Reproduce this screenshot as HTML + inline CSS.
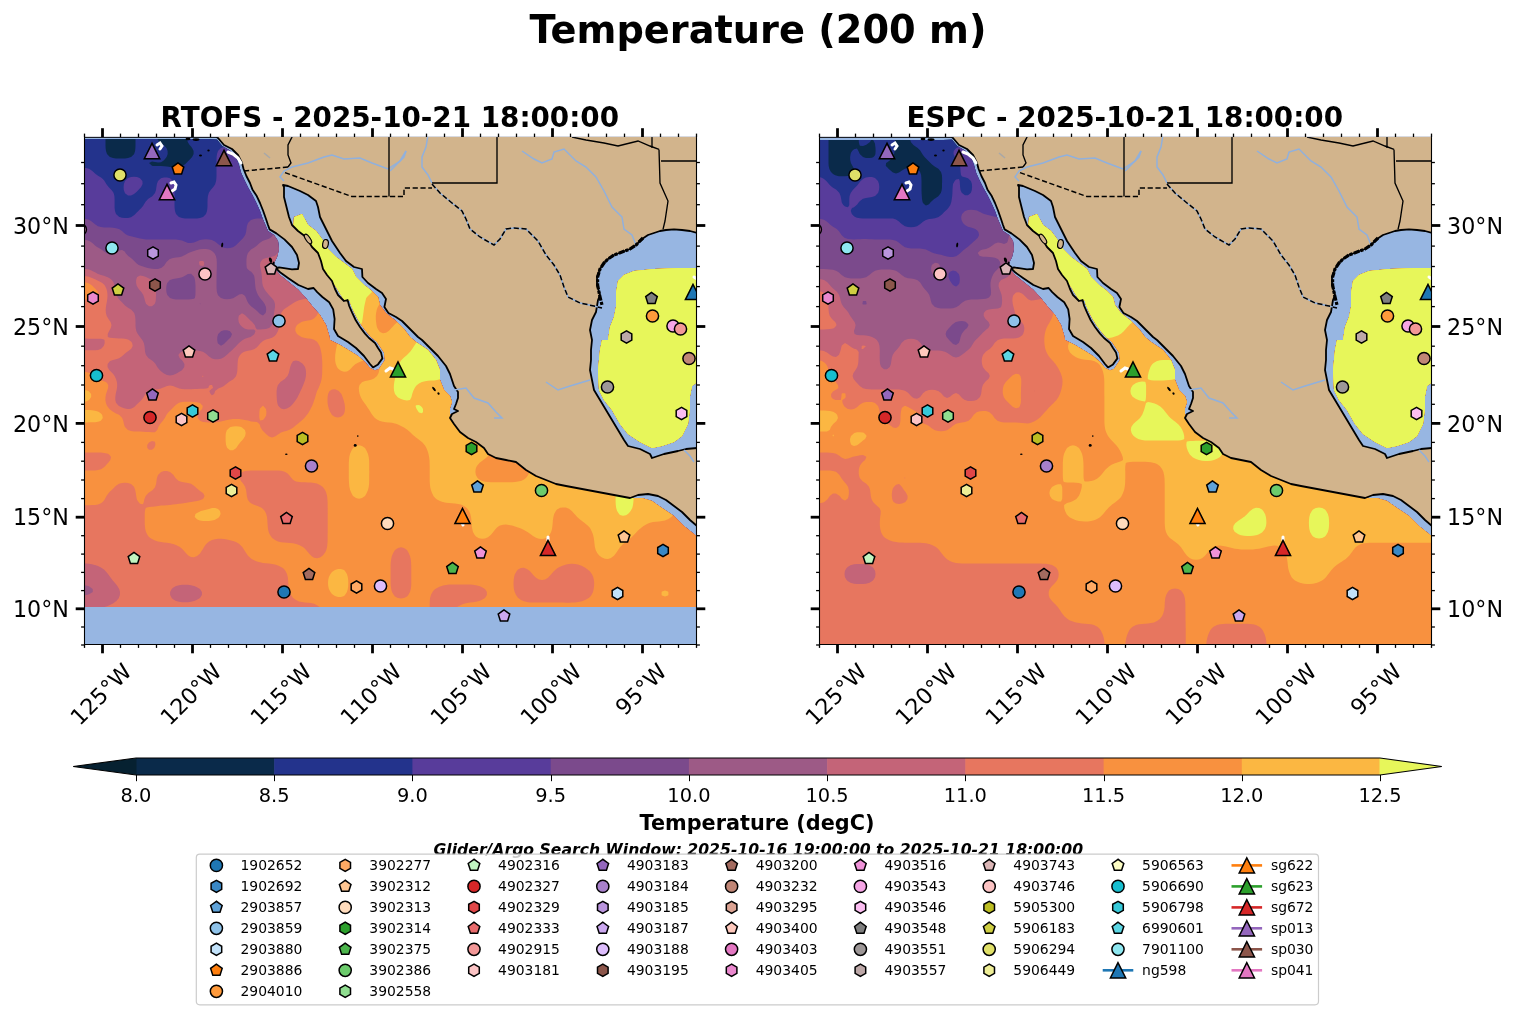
<!DOCTYPE html><html><head><meta charset="utf-8"><title>Temperature (200 m)</title>
<style>html,body{margin:0;padding:0;background:#fff;}svg{display:block;will-change:transform;}text{font-family:'DejaVu Sans', 'Liberation Sans', sans-serif;}</style></head><body>
<svg width="1515" height="1017" viewBox="0 0 1515 1017">
<rect width="1515" height="1017" fill="#fff"/>
<text x="758" y="42.9" font-size="38.3" font-weight="bold" text-anchor="middle">Temperature (200 m)</text>
<defs><clipPath id="clip0"><rect x="84.5" y="137" width="612" height="507.5"/></clipPath>
<clipPath id="dclip0"><path d="M80.0,139.1 L208.0,139.1 L217.0,139.4 L222.4,146.0 L230.0,150.6 L236.4,158.0 L239.0,165.0 L241.2,173.0 L244.4,180.0 L248.4,188.0 L252.4,195.0 L256.4,203.0 L260.0,211.0 L262.8,219.0 L265.4,225.0 L268.0,231.0 L274.0,235.0 L278.0,241.0 L279.0,249.0 L277.0,257.0 L274.0,263.0 L275.0,269.0 L280.0,275.0 L288.0,281.4 L298.0,289.4 L305.0,297.0 L313.0,307.0 L320.0,315.0 L326.0,325.0 L329.0,335.0 L330.0,340.0 L340.0,345.0 L350.0,351.0 L358.0,356.0 L365.0,362.0 L370.0,368.0 L375.0,370.4 L379.0,369.0 L385.0,360.0 L384.0,352.4 L380.4,347.0 L377.0,342.0 L371.0,337.0 L367.0,332.6 L362.0,326.0 L357.6,319.0 L354.0,312.0 L351.0,305.0 L349.6,300.0 L346.0,303.0 L341.0,295.0 L336.0,287.0 L329.0,277.0 L322.4,269.0 L318.0,259.0 L313.0,251.0 L306.0,243.0 L299.0,235.0 L293.0,228.0 L294.0,217.0 L302.0,214.0 L308.0,225.0 L316.0,231.0 L322.0,239.0 L328.0,249.0 L336.0,257.0 L344.0,263.0 L352.0,269.0 L356.0,277.0 L364.0,285.0 L372.0,291.0 L378.0,297.0 L380.0,305.0 L386.0,313.0 L396.0,321.0 L404.0,329.0 L410.0,337.0 L416.0,342.0 L428.0,350.0 L436.0,360.0 L440.0,370.0 L440.0,380.0 L444.0,390.0 L450.0,396.0 L452.0,402.0 L450.0,408.0 L450.0,414.0 L454.0,420.0 L460.0,428.0 L468.0,436.0 L476.0,440.0 L484.0,446.0 L488.0,452.0 L496.0,456.0 L506.0,458.0 L516.0,460.0 L526.0,468.0 L536.0,474.0 L546.0,478.0 L556.0,482.0 L566.0,484.0 L634.0,498.0 L642.0,498.0 L652.0,501.0 L662.0,508.0 L674.0,516.0 L684.0,526.0 L694.0,534.0 L700.0,539.0 L705.0,540.0 L705.0,607.0 L80.0,607.0 Z M700.0,268.0 L682.0,268.0 L654.0,269.0 L634.0,271.0 L624.0,275.0 L618.0,281.0 L616.0,293.0 L616.0,307.0 L614.0,317.0 L610.0,327.0 L608.0,340.0 L602.0,340.0 L600.0,350.0 L598.0,370.0 L599.0,390.0 L604.0,400.0 L612.0,410.0 L620.0,424.0 L628.0,434.0 L640.0,442.0 L652.0,448.0 L662.0,446.0 L674.0,442.0 L682.0,436.0 L688.0,424.0 L690.0,408.0 L690.0,396.0 L692.0,386.0 L700.0,380.0 Z"/></clipPath></defs>
<g clip-path="url(#clip0)">
<rect x="84.5" y="137" width="612" height="507.5" fill="#97b6e2"/>
<g transform="translate(0,0)">
<g clip-path="url(#dclip0)">
<rect x="80" y="130" width="625" height="520" fill="#0a2a4a"/>
<path fill="#23338c" fill-rule="evenodd" d="M83.0,133.0L86.0,133.0L89.0,133.0L92.0,133.0L95.0,133.0L98.0,133.0L101.0,133.0L104.0,133.0L105.5,133.0L105.5,136.0L105.5,139.0L105.5,142.0L105.5,145.0L105.6,148.0L106.0,151.0L107.0,154.0L107.0,154.1L109.9,157.0L110.0,157.0L113.0,158.0L116.0,158.4L119.0,158.5L122.0,158.5L125.0,158.4L128.0,158.0L131.0,157.1L131.1,157.0L134.0,154.2L134.1,154.0L135.1,151.0L135.4,148.0L135.5,145.0L135.5,142.0L135.5,139.0L135.5,136.0L135.5,133.0L137.0,133.0L140.0,133.0L143.0,133.0L146.0,133.0L149.0,133.0L152.0,133.0L155.0,133.0L156.5,133.0L156.7,136.0L157.4,139.0L158.0,140.0L159.5,142.0L161.0,143.0L163.7,145.0L164.0,145.2L166.5,148.0L167.0,149.3L167.6,151.0L167.7,154.0L167.0,155.9L166.6,157.0L164.2,160.0L164.0,160.3L161.0,162.2L158.0,162.4L155.0,161.9L152.0,161.5L149.0,163.0L149.0,163.0L149.0,163.0L152.0,165.8L153.0,166.0L155.0,166.1L158.0,166.1L161.0,166.1L164.0,166.3L167.0,166.6L170.0,166.9L173.0,167.1L176.0,167.2L179.0,167.0L182.0,166.2L182.4,166.0L185.0,164.3L186.3,163.0L188.0,161.3L189.3,160.0L191.0,158.2L192.1,157.0L193.6,154.0L193.6,151.0L192.1,148.0L191.0,146.6L189.6,145.0L188.0,142.4L187.8,142.0L186.9,139.0L186.6,136.0L186.5,133.0L188.0,133.0L191.0,133.0L194.0,133.0L197.0,133.0L200.0,133.0L203.0,133.0L206.0,133.0L209.0,133.0L212.0,133.0L215.0,133.0L218.0,133.0L221.0,133.0L224.0,133.0L227.0,133.0L230.0,133.0L233.0,133.0L236.0,133.0L239.0,133.0L242.0,133.0L245.0,133.0L248.0,133.0L251.0,133.0L254.0,133.0L257.0,133.0L260.0,133.0L263.0,133.0L266.0,133.0L269.0,133.0L272.0,133.0L275.0,133.0L278.0,133.0L281.0,133.0L284.0,133.0L287.0,133.0L290.0,133.0L293.0,133.0L296.0,133.0L299.0,133.0L302.0,133.0L305.0,133.0L308.0,133.0L311.0,133.0L314.0,133.0L317.0,133.0L320.0,133.0L323.0,133.0L326.0,133.0L329.0,133.0L332.0,133.0L335.0,133.0L338.0,133.0L341.0,133.0L344.0,133.0L347.0,133.0L350.0,133.0L353.0,133.0L356.0,133.0L359.0,133.0L362.0,133.0L365.0,133.0L368.0,133.0L371.0,133.0L374.0,133.0L377.0,133.0L380.0,133.0L383.0,133.0L386.0,133.0L389.0,133.0L392.0,133.0L395.0,133.0L398.0,133.0L401.0,133.0L404.0,133.0L407.0,133.0L410.0,133.0L413.0,133.0L416.0,133.0L419.0,133.0L422.0,133.0L425.0,133.0L428.0,133.0L431.0,133.0L434.0,133.0L437.0,133.0L440.0,133.0L443.0,133.0L446.0,133.0L449.0,133.0L452.0,133.0L455.0,133.0L458.0,133.0L461.0,133.0L464.0,133.0L467.0,133.0L470.0,133.0L473.0,133.0L476.0,133.0L479.0,133.0L482.0,133.0L485.0,133.0L488.0,133.0L491.0,133.0L494.0,133.0L497.0,133.0L500.0,133.0L503.0,133.0L506.0,133.0L509.0,133.0L512.0,133.0L515.0,133.0L518.0,133.0L521.0,133.0L524.0,133.0L527.0,133.0L530.0,133.0L533.0,133.0L536.0,133.0L539.0,133.0L542.0,133.0L545.0,133.0L548.0,133.0L551.0,133.0L554.0,133.0L557.0,133.0L560.0,133.0L563.0,133.0L566.0,133.0L569.0,133.0L572.0,133.0L575.0,133.0L578.0,133.0L581.0,133.0L584.0,133.0L587.0,133.0L590.0,133.0L593.0,133.0L596.0,133.0L599.0,133.0L602.0,133.0L605.0,133.0L608.0,133.0L611.0,133.0L614.0,133.0L617.0,133.0L620.0,133.0L623.0,133.0L626.0,133.0L629.0,133.0L632.0,133.0L635.0,133.0L638.0,133.0L641.0,133.0L644.0,133.0L647.0,133.0L650.0,133.0L653.0,133.0L656.0,133.0L659.0,133.0L662.0,133.0L665.0,133.0L668.0,133.0L671.0,133.0L674.0,133.0L677.0,133.0L680.0,133.0L683.0,133.0L686.0,133.0L689.0,133.0L692.0,133.0L695.0,133.0L698.0,133.0L698.0,136.0L698.0,139.0L698.0,142.0L698.0,145.0L698.0,148.0L698.0,151.0L698.0,154.0L698.0,157.0L698.0,160.0L698.0,163.0L698.0,166.0L698.0,169.0L698.0,172.0L698.0,175.0L698.0,178.0L698.0,181.0L698.0,184.0L698.0,187.0L698.0,190.0L698.0,193.0L698.0,196.0L698.0,199.0L698.0,202.0L698.0,205.0L698.0,208.0L698.0,211.0L698.0,214.0L698.0,217.0L698.0,220.0L698.0,223.0L698.0,226.0L698.0,229.0L698.0,232.0L698.0,235.0L698.0,238.0L698.0,241.0L698.0,244.0L698.0,247.0L698.0,250.0L698.0,253.0L698.0,256.0L698.0,259.0L698.0,262.0L698.0,265.0L698.0,268.0L698.0,271.0L698.0,274.0L698.0,277.0L698.0,280.0L698.0,283.0L698.0,286.0L698.0,289.0L698.0,292.0L698.0,295.0L698.0,298.0L698.0,301.0L698.0,304.0L698.0,307.0L698.0,310.0L698.0,313.0L698.0,316.0L698.0,319.0L698.0,322.0L698.0,325.0L698.0,328.0L698.0,331.0L698.0,334.0L698.0,337.0L698.0,340.0L698.0,343.0L698.0,346.0L698.0,349.0L698.0,352.0L698.0,355.0L698.0,358.0L698.0,361.0L698.0,364.0L698.0,367.0L698.0,370.0L698.0,373.0L698.0,376.0L698.0,379.0L698.0,382.0L698.0,385.0L698.0,388.0L698.0,391.0L698.0,394.0L698.0,397.0L698.0,400.0L698.0,403.0L698.0,406.0L698.0,409.0L698.0,412.0L698.0,415.0L698.0,418.0L698.0,421.0L698.0,424.0L698.0,427.0L698.0,430.0L698.0,433.0L698.0,436.0L698.0,439.0L698.0,442.0L698.0,445.0L698.0,448.0L698.0,451.0L698.0,454.0L698.0,457.0L698.0,460.0L698.0,463.0L698.0,466.0L698.0,469.0L698.0,472.0L698.0,475.0L698.0,478.0L698.0,481.0L698.0,484.0L698.0,487.0L698.0,490.0L698.0,493.0L698.0,496.0L698.0,499.0L698.0,502.0L698.0,505.0L698.0,508.0L698.0,511.0L698.0,514.0L698.0,517.0L698.0,520.0L698.0,523.0L698.0,526.0L698.0,529.0L698.0,532.0L698.0,535.0L698.0,538.0L698.0,541.0L698.0,544.0L698.0,547.0L698.0,550.0L698.0,553.0L698.0,556.0L698.0,559.0L698.0,562.0L698.0,565.0L698.0,568.0L698.0,571.0L698.0,574.0L698.0,577.0L698.0,580.0L698.0,583.0L698.0,586.0L698.0,589.0L698.0,592.0L698.0,595.0L698.0,598.0L698.0,601.0L698.0,604.0L698.0,607.0L698.0,610.0L698.0,613.0L698.0,616.0L698.0,619.0L698.0,622.0L698.0,625.0L698.0,628.0L698.0,631.0L698.0,634.0L698.0,637.0L698.0,640.0L698.0,643.0L698.0,646.0L695.0,646.0L692.0,646.0L689.0,646.0L686.0,646.0L683.0,646.0L680.0,646.0L677.0,646.0L674.0,646.0L671.0,646.0L668.0,646.0L665.0,646.0L662.0,646.0L659.0,646.0L656.0,646.0L653.0,646.0L650.0,646.0L647.0,646.0L644.0,646.0L641.0,646.0L638.0,646.0L635.0,646.0L632.0,646.0L629.0,646.0L626.0,646.0L623.0,646.0L620.0,646.0L617.0,646.0L614.0,646.0L611.0,646.0L608.0,646.0L605.0,646.0L602.0,646.0L599.0,646.0L596.0,646.0L593.0,646.0L590.0,646.0L587.0,646.0L584.0,646.0L581.0,646.0L578.0,646.0L575.0,646.0L572.0,646.0L569.0,646.0L566.0,646.0L563.0,646.0L560.0,646.0L557.0,646.0L554.0,646.0L551.0,646.0L548.0,646.0L545.0,646.0L542.0,646.0L539.0,646.0L536.0,646.0L533.0,646.0L530.0,646.0L527.0,646.0L524.0,646.0L521.0,646.0L518.0,646.0L515.0,646.0L512.0,646.0L509.0,646.0L506.0,646.0L503.0,646.0L500.0,646.0L497.0,646.0L494.0,646.0L491.0,646.0L488.0,646.0L485.0,646.0L482.0,646.0L479.0,646.0L476.0,646.0L473.0,646.0L470.0,646.0L467.0,646.0L464.0,646.0L461.0,646.0L458.0,646.0L455.0,646.0L452.0,646.0L449.0,646.0L446.0,646.0L443.0,646.0L440.0,646.0L437.0,646.0L434.0,646.0L431.0,646.0L428.0,646.0L425.0,646.0L422.0,646.0L419.0,646.0L416.0,646.0L413.0,646.0L410.0,646.0L407.0,646.0L404.0,646.0L401.0,646.0L398.0,646.0L395.0,646.0L392.0,646.0L389.0,646.0L386.0,646.0L383.0,646.0L380.0,646.0L377.0,646.0L374.0,646.0L371.0,646.0L368.0,646.0L365.0,646.0L362.0,646.0L359.0,646.0L356.0,646.0L353.0,646.0L350.0,646.0L347.0,646.0L344.0,646.0L341.0,646.0L338.0,646.0L335.0,646.0L332.0,646.0L329.0,646.0L326.0,646.0L323.0,646.0L320.0,646.0L317.0,646.0L314.0,646.0L311.0,646.0L308.0,646.0L305.0,646.0L302.0,646.0L299.0,646.0L296.0,646.0L293.0,646.0L290.0,646.0L287.0,646.0L284.0,646.0L281.0,646.0L278.0,646.0L275.0,646.0L272.0,646.0L269.0,646.0L266.0,646.0L263.0,646.0L260.0,646.0L257.0,646.0L254.0,646.0L251.0,646.0L248.0,646.0L245.0,646.0L242.0,646.0L239.0,646.0L236.0,646.0L233.0,646.0L230.0,646.0L227.0,646.0L224.0,646.0L221.0,646.0L218.0,646.0L215.0,646.0L212.0,646.0L209.0,646.0L206.0,646.0L203.0,646.0L200.0,646.0L197.0,646.0L194.0,646.0L191.0,646.0L188.0,646.0L185.0,646.0L182.0,646.0L179.0,646.0L176.0,646.0L173.0,646.0L170.0,646.0L167.0,646.0L164.0,646.0L161.0,646.0L158.0,646.0L155.0,646.0L152.0,646.0L149.0,646.0L146.0,646.0L143.0,646.0L140.0,646.0L137.0,646.0L134.0,646.0L131.0,646.0L128.0,646.0L125.0,646.0L122.0,646.0L119.0,646.0L116.0,646.0L113.0,646.0L110.0,646.0L107.0,646.0L104.0,646.0L101.0,646.0L98.0,646.0L95.0,646.0L92.0,646.0L89.0,646.0L86.0,646.0L83.0,646.0L80.0,646.0L80.0,643.0L80.0,640.0L80.0,637.0L80.0,634.0L80.0,631.0L80.0,628.0L80.0,625.0L80.0,622.0L80.0,619.0L80.0,616.0L80.0,613.0L80.0,610.0L80.0,607.0L80.0,604.0L80.0,601.0L80.0,598.0L80.0,595.0L80.0,592.0L80.0,589.0L80.0,586.0L80.0,583.0L80.0,580.0L80.0,577.0L80.0,574.0L80.0,571.0L80.0,568.0L80.0,565.0L80.0,562.0L80.0,559.0L80.0,556.0L80.0,553.0L80.0,550.0L80.0,547.0L80.0,544.0L80.0,541.0L80.0,538.0L80.0,535.0L80.0,532.0L80.0,529.0L80.0,526.0L80.0,523.0L80.0,520.0L80.0,517.0L80.0,514.0L80.0,511.0L80.0,508.0L80.0,505.0L80.0,502.0L80.0,499.0L80.0,496.0L80.0,493.0L80.0,490.0L80.0,487.0L80.0,484.0L80.0,481.0L80.0,478.0L80.0,475.0L80.0,472.0L80.0,469.0L80.0,466.0L80.0,463.0L80.0,460.0L80.0,457.0L80.0,454.0L80.0,451.0L80.0,448.0L80.0,445.0L80.0,442.0L80.0,439.0L80.0,436.0L80.0,433.0L80.0,430.0L80.0,427.0L80.0,424.0L80.0,421.0L80.0,418.0L80.0,415.0L80.0,412.0L80.0,409.0L80.0,406.0L80.0,403.0L80.0,400.0L80.0,397.0L80.0,394.0L80.0,391.0L80.0,388.0L80.0,385.0L80.0,382.0L80.0,379.0L80.0,376.0L80.0,373.0L80.0,370.0L80.0,367.0L80.0,364.0L80.0,361.0L80.0,358.0L80.0,355.0L80.0,352.0L80.0,349.0L80.0,346.0L80.0,343.0L80.0,340.0L80.0,337.0L80.0,334.0L80.0,331.0L80.0,328.0L80.0,325.0L80.0,322.0L80.0,319.0L80.0,316.0L80.0,313.0L80.0,310.0L80.0,307.0L80.0,304.0L80.0,301.0L80.0,298.0L80.0,295.0L80.0,292.0L80.0,289.0L80.0,286.0L80.0,283.0L80.0,280.0L80.0,277.0L80.0,274.0L80.0,271.0L80.0,268.0L80.0,265.0L80.0,262.0L80.0,259.0L80.0,256.0L80.0,253.0L80.0,250.0L80.0,247.0L80.0,244.0L80.0,241.0L80.0,238.0L80.0,235.0L80.0,232.0L80.0,229.0L80.0,226.0L80.0,223.0L80.0,220.0L80.0,217.0L80.0,214.0L80.0,211.0L80.0,208.0L80.0,205.0L80.0,202.0L80.0,199.0L80.0,196.0L80.0,193.0L80.0,190.0L80.0,187.0L80.0,184.0L80.0,181.0L80.0,178.0L80.0,175.0L80.0,172.0L80.0,169.0L80.0,166.0L80.0,163.0L80.0,160.0L80.0,157.0L80.0,154.0L80.0,151.0L80.0,148.0L80.0,145.0L80.0,142.0L80.0,139.0L80.0,136.0L80.0,133.0Z"/>
<path fill="#583c9b" fill-rule="evenodd" d="M248.0,133.0L251.0,133.0L254.0,133.0L257.0,133.0L260.0,133.0L263.0,133.0L266.0,133.0L269.0,133.0L272.0,133.0L275.0,133.0L278.0,133.0L281.0,133.0L284.0,133.0L287.0,133.0L290.0,133.0L293.0,133.0L296.0,133.0L299.0,133.0L302.0,133.0L305.0,133.0L308.0,133.0L311.0,133.0L314.0,133.0L317.0,133.0L320.0,133.0L323.0,133.0L326.0,133.0L329.0,133.0L332.0,133.0L335.0,133.0L338.0,133.0L341.0,133.0L344.0,133.0L347.0,133.0L350.0,133.0L353.0,133.0L356.0,133.0L359.0,133.0L362.0,133.0L365.0,133.0L368.0,133.0L371.0,133.0L374.0,133.0L377.0,133.0L380.0,133.0L383.0,133.0L386.0,133.0L389.0,133.0L392.0,133.0L395.0,133.0L398.0,133.0L401.0,133.0L404.0,133.0L407.0,133.0L410.0,133.0L413.0,133.0L416.0,133.0L419.0,133.0L422.0,133.0L425.0,133.0L428.0,133.0L431.0,133.0L434.0,133.0L437.0,133.0L440.0,133.0L443.0,133.0L446.0,133.0L449.0,133.0L452.0,133.0L455.0,133.0L458.0,133.0L461.0,133.0L464.0,133.0L467.0,133.0L470.0,133.0L473.0,133.0L476.0,133.0L479.0,133.0L482.0,133.0L485.0,133.0L488.0,133.0L491.0,133.0L494.0,133.0L497.0,133.0L500.0,133.0L503.0,133.0L506.0,133.0L509.0,133.0L512.0,133.0L515.0,133.0L518.0,133.0L521.0,133.0L524.0,133.0L527.0,133.0L530.0,133.0L533.0,133.0L536.0,133.0L539.0,133.0L542.0,133.0L545.0,133.0L548.0,133.0L551.0,133.0L554.0,133.0L557.0,133.0L560.0,133.0L563.0,133.0L566.0,133.0L569.0,133.0L572.0,133.0L575.0,133.0L578.0,133.0L581.0,133.0L584.0,133.0L587.0,133.0L590.0,133.0L593.0,133.0L596.0,133.0L599.0,133.0L602.0,133.0L605.0,133.0L608.0,133.0L611.0,133.0L614.0,133.0L617.0,133.0L620.0,133.0L623.0,133.0L626.0,133.0L629.0,133.0L632.0,133.0L635.0,133.0L638.0,133.0L641.0,133.0L644.0,133.0L647.0,133.0L650.0,133.0L653.0,133.0L656.0,133.0L659.0,133.0L662.0,133.0L665.0,133.0L668.0,133.0L671.0,133.0L674.0,133.0L677.0,133.0L680.0,133.0L683.0,133.0L686.0,133.0L689.0,133.0L692.0,133.0L695.0,133.0L698.0,133.0L698.0,136.0L698.0,139.0L698.0,142.0L698.0,145.0L698.0,148.0L698.0,151.0L698.0,154.0L698.0,157.0L698.0,160.0L698.0,163.0L698.0,166.0L698.0,169.0L698.0,172.0L698.0,175.0L698.0,178.0L698.0,181.0L698.0,184.0L698.0,187.0L698.0,190.0L698.0,193.0L698.0,196.0L698.0,199.0L698.0,202.0L698.0,205.0L698.0,208.0L698.0,211.0L698.0,214.0L698.0,217.0L698.0,220.0L698.0,223.0L698.0,226.0L698.0,229.0L698.0,232.0L698.0,235.0L698.0,238.0L698.0,241.0L698.0,244.0L698.0,247.0L698.0,250.0L698.0,253.0L698.0,256.0L698.0,259.0L698.0,262.0L698.0,265.0L698.0,268.0L698.0,271.0L698.0,274.0L698.0,277.0L698.0,280.0L698.0,283.0L698.0,286.0L698.0,289.0L698.0,292.0L698.0,295.0L698.0,298.0L698.0,301.0L698.0,304.0L698.0,307.0L698.0,310.0L698.0,313.0L698.0,316.0L698.0,319.0L698.0,322.0L698.0,325.0L698.0,328.0L698.0,331.0L698.0,334.0L698.0,337.0L698.0,340.0L698.0,343.0L698.0,346.0L698.0,349.0L698.0,352.0L698.0,355.0L698.0,358.0L698.0,361.0L698.0,364.0L698.0,367.0L698.0,370.0L698.0,373.0L698.0,376.0L698.0,379.0L698.0,382.0L698.0,385.0L698.0,388.0L698.0,391.0L698.0,394.0L698.0,397.0L698.0,400.0L698.0,403.0L698.0,406.0L698.0,409.0L698.0,412.0L698.0,415.0L698.0,418.0L698.0,421.0L698.0,424.0L698.0,427.0L698.0,430.0L698.0,433.0L698.0,436.0L698.0,439.0L698.0,442.0L698.0,445.0L698.0,448.0L698.0,451.0L698.0,454.0L698.0,457.0L698.0,460.0L698.0,463.0L698.0,466.0L698.0,469.0L698.0,472.0L698.0,475.0L698.0,478.0L698.0,481.0L698.0,484.0L698.0,487.0L698.0,490.0L698.0,493.0L698.0,496.0L698.0,499.0L698.0,502.0L698.0,505.0L698.0,508.0L698.0,511.0L698.0,514.0L698.0,517.0L698.0,520.0L698.0,523.0L698.0,526.0L698.0,529.0L698.0,532.0L698.0,535.0L698.0,538.0L698.0,541.0L698.0,544.0L698.0,547.0L698.0,550.0L698.0,553.0L698.0,556.0L698.0,559.0L698.0,562.0L698.0,565.0L698.0,568.0L698.0,571.0L698.0,574.0L698.0,577.0L698.0,580.0L698.0,583.0L698.0,586.0L698.0,589.0L698.0,592.0L698.0,595.0L698.0,598.0L698.0,601.0L698.0,604.0L698.0,607.0L698.0,610.0L698.0,613.0L698.0,616.0L698.0,619.0L698.0,622.0L698.0,625.0L698.0,628.0L698.0,631.0L698.0,634.0L698.0,637.0L698.0,640.0L698.0,643.0L698.0,646.0L695.0,646.0L692.0,646.0L689.0,646.0L686.0,646.0L683.0,646.0L680.0,646.0L677.0,646.0L674.0,646.0L671.0,646.0L668.0,646.0L665.0,646.0L662.0,646.0L659.0,646.0L656.0,646.0L653.0,646.0L650.0,646.0L647.0,646.0L644.0,646.0L641.0,646.0L638.0,646.0L635.0,646.0L632.0,646.0L629.0,646.0L626.0,646.0L623.0,646.0L620.0,646.0L617.0,646.0L614.0,646.0L611.0,646.0L608.0,646.0L605.0,646.0L602.0,646.0L599.0,646.0L596.0,646.0L593.0,646.0L590.0,646.0L587.0,646.0L584.0,646.0L581.0,646.0L578.0,646.0L575.0,646.0L572.0,646.0L569.0,646.0L566.0,646.0L563.0,646.0L560.0,646.0L557.0,646.0L554.0,646.0L551.0,646.0L548.0,646.0L545.0,646.0L542.0,646.0L539.0,646.0L536.0,646.0L533.0,646.0L530.0,646.0L527.0,646.0L524.0,646.0L521.0,646.0L518.0,646.0L515.0,646.0L512.0,646.0L509.0,646.0L506.0,646.0L503.0,646.0L500.0,646.0L497.0,646.0L494.0,646.0L491.0,646.0L488.0,646.0L485.0,646.0L482.0,646.0L479.0,646.0L476.0,646.0L473.0,646.0L470.0,646.0L467.0,646.0L464.0,646.0L461.0,646.0L458.0,646.0L455.0,646.0L452.0,646.0L449.0,646.0L446.0,646.0L443.0,646.0L440.0,646.0L437.0,646.0L434.0,646.0L431.0,646.0L428.0,646.0L425.0,646.0L422.0,646.0L419.0,646.0L416.0,646.0L413.0,646.0L410.0,646.0L407.0,646.0L404.0,646.0L401.0,646.0L398.0,646.0L395.0,646.0L392.0,646.0L389.0,646.0L386.0,646.0L383.0,646.0L380.0,646.0L377.0,646.0L374.0,646.0L371.0,646.0L368.0,646.0L365.0,646.0L362.0,646.0L359.0,646.0L356.0,646.0L353.0,646.0L350.0,646.0L347.0,646.0L344.0,646.0L341.0,646.0L338.0,646.0L335.0,646.0L332.0,646.0L329.0,646.0L326.0,646.0L323.0,646.0L320.0,646.0L317.0,646.0L314.0,646.0L311.0,646.0L308.0,646.0L305.0,646.0L302.0,646.0L299.0,646.0L296.0,646.0L293.0,646.0L290.0,646.0L287.0,646.0L284.0,646.0L281.0,646.0L278.0,646.0L275.0,646.0L272.0,646.0L269.0,646.0L266.0,646.0L263.0,646.0L260.0,646.0L257.0,646.0L254.0,646.0L251.0,646.0L248.0,646.0L245.0,646.0L242.0,646.0L239.0,646.0L236.0,646.0L233.0,646.0L230.0,646.0L227.0,646.0L224.0,646.0L221.0,646.0L218.0,646.0L215.0,646.0L212.0,646.0L209.0,646.0L206.0,646.0L203.0,646.0L200.0,646.0L197.0,646.0L194.0,646.0L191.0,646.0L188.0,646.0L185.0,646.0L182.0,646.0L179.0,646.0L176.0,646.0L173.0,646.0L170.0,646.0L167.0,646.0L164.0,646.0L161.0,646.0L158.0,646.0L155.0,646.0L152.0,646.0L149.0,646.0L146.0,646.0L143.0,646.0L140.0,646.0L137.0,646.0L134.0,646.0L131.0,646.0L128.0,646.0L125.0,646.0L122.0,646.0L119.0,646.0L116.0,646.0L113.0,646.0L110.0,646.0L107.0,646.0L104.0,646.0L101.0,646.0L98.0,646.0L95.0,646.0L92.0,646.0L89.0,646.0L86.0,646.0L83.0,646.0L80.0,646.0L80.0,643.0L80.0,640.0L80.0,637.0L80.0,634.0L80.0,631.0L80.0,628.0L80.0,625.0L80.0,622.0L80.0,619.0L80.0,616.0L80.0,613.0L80.0,610.0L80.0,607.0L80.0,604.0L80.0,601.0L80.0,598.0L80.0,595.0L80.0,592.0L80.0,589.0L80.0,586.0L80.0,583.0L80.0,580.0L80.0,577.0L80.0,574.0L80.0,571.0L80.0,568.0L80.0,565.0L80.0,562.0L80.0,559.0L80.0,556.0L80.0,553.0L80.0,550.0L80.0,547.0L80.0,544.0L80.0,541.0L80.0,538.0L80.0,535.0L80.0,532.0L80.0,529.0L80.0,526.0L80.0,523.0L80.0,520.0L80.0,517.0L80.0,514.0L80.0,511.0L80.0,508.0L80.0,505.0L80.0,502.0L80.0,499.0L80.0,496.0L80.0,493.0L80.0,490.0L80.0,487.0L80.0,484.0L80.0,481.0L80.0,478.0L80.0,475.0L80.0,472.0L80.0,469.0L80.0,466.0L80.0,463.0L80.0,460.0L80.0,457.0L80.0,454.0L80.0,451.0L80.0,448.0L80.0,445.0L80.0,442.0L80.0,439.0L80.0,436.0L80.0,433.0L80.0,430.0L80.0,427.0L80.0,424.0L80.0,421.0L80.0,418.0L80.0,415.0L80.0,412.0L80.0,409.0L80.0,406.0L80.0,403.0L80.0,400.0L80.0,397.0L80.0,394.0L80.0,391.0L80.0,388.0L80.0,385.0L80.0,382.0L80.0,379.0L80.0,376.0L80.0,373.0L80.0,370.0L80.0,367.0L80.0,364.0L80.0,361.0L80.0,358.0L80.0,355.0L80.0,352.0L80.0,349.0L80.0,346.0L80.0,343.0L80.0,340.0L80.0,337.0L80.0,334.0L80.0,331.0L80.0,328.0L80.0,325.0L80.0,322.0L80.0,319.0L80.0,316.0L80.0,313.0L80.0,310.0L80.0,307.0L80.0,304.0L80.0,301.0L80.0,298.0L80.0,295.0L80.0,292.0L80.0,289.0L80.0,286.0L80.0,283.0L80.0,280.0L80.0,277.0L80.0,274.0L80.0,271.0L80.0,268.0L80.0,265.0L80.0,262.0L80.0,259.0L80.0,256.0L80.0,253.0L80.0,250.0L80.0,247.0L80.0,244.0L80.0,241.0L80.0,238.0L80.0,235.0L80.0,232.0L80.0,229.0L80.0,226.0L80.0,223.0L80.0,220.0L80.0,217.0L80.0,214.0L80.0,211.0L80.0,208.0L80.0,205.0L80.0,202.0L80.0,199.0L80.0,196.0L80.0,193.0L80.0,190.0L80.0,187.0L80.0,184.0L80.0,181.0L80.0,178.0L80.0,175.0L80.0,172.0L80.0,169.0L80.0,167.5L83.0,167.6L86.0,167.9L89.0,168.8L89.4,169.0L92.0,170.7L93.5,172.0L95.0,173.4L97.0,175.0L98.0,175.7L101.0,177.5L101.7,178.0L104.0,180.3L104.5,181.0L106.3,184.0L107.0,185.0L108.6,187.0L110.0,188.5L111.5,190.0L113.0,192.1L113.6,193.0L114.4,196.0L114.6,199.0L114.6,202.0L114.6,205.0L114.6,208.0L115.0,211.0L116.0,214.0L116.0,214.0L119.0,216.8L119.5,217.0L122.0,217.7L125.0,218.1L128.0,218.0L131.0,217.2L131.4,217.0L134.0,215.3L135.3,214.0L137.0,212.3L138.3,211.0L140.0,209.3L141.3,208.0L143.0,205.9L143.6,205.0L145.4,202.0L146.0,201.2L148.1,199.0L149.0,198.3L152.0,196.4L152.5,196.0L155.0,193.1L155.0,193.0L156.0,190.0L156.4,187.0L156.9,184.0L158.0,181.0L158.0,181.0L161.0,178.3L161.8,178.0L164.0,177.5L167.0,177.5L169.2,178.0L170.0,178.3L173.0,181.0L173.0,181.0L174.0,184.0L174.4,187.0L174.5,190.0L174.5,193.0L174.5,196.0L174.5,199.0L174.5,202.0L174.5,205.0L174.6,208.0L175.0,211.0L176.0,214.0L176.0,214.1L178.9,217.0L179.0,217.0L182.0,218.0L185.0,218.4L188.0,218.5L191.0,218.5L194.0,218.5L197.0,218.4L200.0,218.0L203.0,217.0L203.1,217.0L206.0,214.1L206.0,214.0L207.0,211.0L207.4,208.0L207.5,205.0L207.5,202.0L207.6,199.0L207.9,196.0L208.8,193.0L209.0,192.6L210.7,190.0L212.0,188.5L213.3,187.0L215.0,184.4L215.2,184.0L216.1,181.0L216.4,178.0L216.5,175.0L216.5,172.0L216.5,169.0L216.5,166.0L216.5,163.0L216.5,160.0L216.6,157.0L217.0,154.0L218.0,151.0L218.0,150.9L220.9,148.0L221.0,148.0L224.0,147.0L227.0,146.7L230.0,146.7L233.0,146.9L236.0,147.4L238.6,148.0L239.0,148.1L242.0,148.2L242.2,148.0L245.0,145.0L245.0,145.0L246.0,142.0L246.4,139.0L246.6,136.0L246.7,133.0ZM128.0,178.0L131.0,177.0L134.0,176.8L137.0,177.1L139.5,178.0L140.0,178.3L142.4,181.0L142.6,184.0L141.1,187.0L140.0,188.3L138.4,190.0L137.0,191.4L135.3,193.0L134.0,194.1L131.0,195.6L128.0,195.4L125.0,193.2L124.9,193.0L123.8,190.0L123.6,187.0L123.9,184.0L125.0,181.0L125.0,180.9L128.0,178.0Z"/>
<path fill="#7b4a8c" fill-rule="evenodd" d="M275.0,133.0L278.0,133.0L281.0,133.0L284.0,133.0L287.0,133.0L290.0,133.0L293.0,133.0L296.0,133.0L299.0,133.0L302.0,133.0L305.0,133.0L308.0,133.0L311.0,133.0L314.0,133.0L317.0,133.0L320.0,133.0L323.0,133.0L326.0,133.0L329.0,133.0L332.0,133.0L335.0,133.0L338.0,133.0L341.0,133.0L344.0,133.0L347.0,133.0L350.0,133.0L353.0,133.0L356.0,133.0L359.0,133.0L362.0,133.0L365.0,133.0L368.0,133.0L371.0,133.0L374.0,133.0L377.0,133.0L380.0,133.0L383.0,133.0L386.0,133.0L389.0,133.0L392.0,133.0L395.0,133.0L398.0,133.0L401.0,133.0L404.0,133.0L407.0,133.0L410.0,133.0L413.0,133.0L416.0,133.0L419.0,133.0L422.0,133.0L425.0,133.0L428.0,133.0L431.0,133.0L434.0,133.0L437.0,133.0L440.0,133.0L443.0,133.0L446.0,133.0L449.0,133.0L452.0,133.0L455.0,133.0L458.0,133.0L461.0,133.0L464.0,133.0L467.0,133.0L470.0,133.0L473.0,133.0L476.0,133.0L479.0,133.0L482.0,133.0L485.0,133.0L488.0,133.0L491.0,133.0L494.0,133.0L497.0,133.0L500.0,133.0L503.0,133.0L506.0,133.0L509.0,133.0L512.0,133.0L515.0,133.0L518.0,133.0L521.0,133.0L524.0,133.0L527.0,133.0L530.0,133.0L533.0,133.0L536.0,133.0L539.0,133.0L542.0,133.0L545.0,133.0L548.0,133.0L551.0,133.0L554.0,133.0L557.0,133.0L560.0,133.0L563.0,133.0L566.0,133.0L569.0,133.0L572.0,133.0L575.0,133.0L578.0,133.0L581.0,133.0L584.0,133.0L587.0,133.0L590.0,133.0L593.0,133.0L596.0,133.0L599.0,133.0L602.0,133.0L605.0,133.0L608.0,133.0L611.0,133.0L614.0,133.0L617.0,133.0L620.0,133.0L623.0,133.0L626.0,133.0L629.0,133.0L632.0,133.0L635.0,133.0L638.0,133.0L641.0,133.0L644.0,133.0L647.0,133.0L650.0,133.0L653.0,133.0L656.0,133.0L659.0,133.0L662.0,133.0L665.0,133.0L668.0,133.0L671.0,133.0L674.0,133.0L677.0,133.0L680.0,133.0L683.0,133.0L686.0,133.0L689.0,133.0L692.0,133.0L695.0,133.0L698.0,133.0L698.0,136.0L698.0,139.0L698.0,142.0L698.0,145.0L698.0,148.0L698.0,151.0L698.0,154.0L698.0,157.0L698.0,160.0L698.0,163.0L698.0,166.0L698.0,169.0L698.0,172.0L698.0,175.0L698.0,178.0L698.0,181.0L698.0,184.0L698.0,187.0L698.0,190.0L698.0,193.0L698.0,196.0L698.0,199.0L698.0,202.0L698.0,205.0L698.0,208.0L698.0,211.0L698.0,214.0L698.0,217.0L698.0,220.0L698.0,223.0L698.0,226.0L698.0,229.0L698.0,232.0L698.0,235.0L698.0,238.0L698.0,241.0L698.0,244.0L698.0,247.0L698.0,250.0L698.0,253.0L698.0,256.0L698.0,259.0L698.0,262.0L698.0,265.0L698.0,268.0L698.0,271.0L698.0,274.0L698.0,277.0L698.0,280.0L698.0,283.0L698.0,286.0L698.0,289.0L698.0,292.0L698.0,295.0L698.0,298.0L698.0,301.0L698.0,304.0L698.0,307.0L698.0,310.0L698.0,313.0L698.0,316.0L698.0,319.0L698.0,322.0L698.0,325.0L698.0,328.0L698.0,331.0L698.0,334.0L698.0,337.0L698.0,340.0L698.0,343.0L698.0,346.0L698.0,349.0L698.0,352.0L698.0,355.0L698.0,358.0L698.0,361.0L698.0,364.0L698.0,367.0L698.0,370.0L698.0,373.0L698.0,376.0L698.0,379.0L698.0,382.0L698.0,385.0L698.0,388.0L698.0,391.0L698.0,394.0L698.0,397.0L698.0,400.0L698.0,403.0L698.0,406.0L698.0,409.0L698.0,412.0L698.0,415.0L698.0,418.0L698.0,421.0L698.0,424.0L698.0,427.0L698.0,430.0L698.0,433.0L698.0,436.0L698.0,439.0L698.0,442.0L698.0,445.0L698.0,448.0L698.0,451.0L698.0,454.0L698.0,457.0L698.0,460.0L698.0,463.0L698.0,466.0L698.0,469.0L698.0,472.0L698.0,475.0L698.0,478.0L698.0,481.0L698.0,484.0L698.0,487.0L698.0,490.0L698.0,493.0L698.0,496.0L698.0,499.0L698.0,502.0L698.0,505.0L698.0,508.0L698.0,511.0L698.0,514.0L698.0,517.0L698.0,520.0L698.0,523.0L698.0,526.0L698.0,529.0L698.0,532.0L698.0,535.0L698.0,538.0L698.0,541.0L698.0,544.0L698.0,547.0L698.0,550.0L698.0,553.0L698.0,556.0L698.0,559.0L698.0,562.0L698.0,565.0L698.0,568.0L698.0,571.0L698.0,574.0L698.0,577.0L698.0,580.0L698.0,583.0L698.0,586.0L698.0,589.0L698.0,592.0L698.0,595.0L698.0,598.0L698.0,601.0L698.0,604.0L698.0,607.0L698.0,610.0L698.0,613.0L698.0,616.0L698.0,619.0L698.0,622.0L698.0,625.0L698.0,628.0L698.0,631.0L698.0,634.0L698.0,637.0L698.0,640.0L698.0,643.0L698.0,646.0L695.0,646.0L692.0,646.0L689.0,646.0L686.0,646.0L683.0,646.0L680.0,646.0L677.0,646.0L674.0,646.0L671.0,646.0L668.0,646.0L665.0,646.0L662.0,646.0L659.0,646.0L656.0,646.0L653.0,646.0L650.0,646.0L647.0,646.0L644.0,646.0L641.0,646.0L638.0,646.0L635.0,646.0L632.0,646.0L629.0,646.0L626.0,646.0L623.0,646.0L620.0,646.0L617.0,646.0L614.0,646.0L611.0,646.0L608.0,646.0L605.0,646.0L602.0,646.0L599.0,646.0L596.0,646.0L593.0,646.0L590.0,646.0L587.0,646.0L584.0,646.0L581.0,646.0L578.0,646.0L575.0,646.0L572.0,646.0L569.0,646.0L566.0,646.0L563.0,646.0L560.0,646.0L557.0,646.0L554.0,646.0L551.0,646.0L548.0,646.0L545.0,646.0L542.0,646.0L539.0,646.0L536.0,646.0L533.0,646.0L530.0,646.0L527.0,646.0L524.0,646.0L521.0,646.0L518.0,646.0L515.0,646.0L512.0,646.0L509.0,646.0L506.0,646.0L503.0,646.0L500.0,646.0L497.0,646.0L494.0,646.0L491.0,646.0L488.0,646.0L485.0,646.0L482.0,646.0L479.0,646.0L476.0,646.0L473.0,646.0L470.0,646.0L467.0,646.0L464.0,646.0L461.0,646.0L458.0,646.0L455.0,646.0L452.0,646.0L449.0,646.0L446.0,646.0L443.0,646.0L440.0,646.0L437.0,646.0L434.0,646.0L431.0,646.0L428.0,646.0L425.0,646.0L422.0,646.0L419.0,646.0L416.0,646.0L413.0,646.0L410.0,646.0L407.0,646.0L404.0,646.0L401.0,646.0L398.0,646.0L395.0,646.0L392.0,646.0L389.0,646.0L386.0,646.0L383.0,646.0L380.0,646.0L377.0,646.0L374.0,646.0L371.0,646.0L368.0,646.0L365.0,646.0L362.0,646.0L359.0,646.0L356.0,646.0L353.0,646.0L350.0,646.0L347.0,646.0L344.0,646.0L341.0,646.0L338.0,646.0L335.0,646.0L332.0,646.0L329.0,646.0L326.0,646.0L323.0,646.0L320.0,646.0L317.0,646.0L314.0,646.0L311.0,646.0L308.0,646.0L305.0,646.0L302.0,646.0L299.0,646.0L296.0,646.0L293.0,646.0L290.0,646.0L287.0,646.0L284.0,646.0L281.0,646.0L278.0,646.0L275.0,646.0L272.0,646.0L269.0,646.0L266.0,646.0L263.0,646.0L260.0,646.0L257.0,646.0L254.0,646.0L251.0,646.0L248.0,646.0L245.0,646.0L242.0,646.0L239.0,646.0L236.0,646.0L233.0,646.0L230.0,646.0L227.0,646.0L224.0,646.0L221.0,646.0L218.0,646.0L215.0,646.0L212.0,646.0L209.0,646.0L206.0,646.0L203.0,646.0L200.0,646.0L197.0,646.0L194.0,646.0L191.0,646.0L188.0,646.0L185.0,646.0L182.0,646.0L179.0,646.0L176.0,646.0L173.0,646.0L170.0,646.0L167.0,646.0L164.0,646.0L161.0,646.0L158.0,646.0L155.0,646.0L152.0,646.0L149.0,646.0L146.0,646.0L143.0,646.0L140.0,646.0L137.0,646.0L134.0,646.0L131.0,646.0L128.0,646.0L125.0,646.0L122.0,646.0L119.0,646.0L116.0,646.0L113.0,646.0L110.0,646.0L107.0,646.0L104.0,646.0L101.0,646.0L98.0,646.0L95.0,646.0L92.0,646.0L89.0,646.0L86.0,646.0L83.0,646.0L80.0,646.0L80.0,643.0L80.0,640.0L80.0,637.0L80.0,634.0L80.0,631.0L80.0,628.0L80.0,625.0L80.0,622.0L80.0,619.0L80.0,616.0L80.0,613.0L80.0,610.0L80.0,607.0L80.0,604.0L80.0,601.0L80.0,598.0L80.0,595.0L80.0,592.0L80.0,589.0L80.0,586.0L80.0,583.0L80.0,580.0L80.0,577.0L80.0,574.0L80.0,571.0L80.0,568.0L80.0,565.0L80.0,562.0L80.0,559.0L80.0,556.0L80.0,553.0L80.0,550.0L80.0,547.0L80.0,544.0L80.0,541.0L80.0,538.0L80.0,535.0L80.0,532.0L80.0,529.0L80.0,526.0L80.0,523.0L80.0,520.0L80.0,517.0L80.0,514.0L80.0,511.0L80.0,508.0L80.0,505.0L80.0,502.0L80.0,499.0L80.0,496.0L80.0,493.0L80.0,490.0L80.0,487.0L80.0,484.0L80.0,481.0L80.0,478.0L80.0,475.0L80.0,472.0L80.0,469.0L80.0,466.0L80.0,463.0L80.0,460.0L80.0,457.0L80.0,454.0L80.0,451.0L80.0,448.0L80.0,445.0L80.0,442.0L80.0,439.0L80.0,436.0L80.0,433.0L80.0,430.0L80.0,427.0L80.0,424.0L80.0,421.0L80.0,418.0L80.0,415.0L80.0,412.0L80.0,409.0L80.0,406.0L80.0,403.0L80.0,400.0L80.0,397.0L80.0,394.0L80.0,391.0L80.0,388.0L80.0,385.0L80.0,382.0L80.0,379.0L80.0,376.0L80.0,373.0L80.0,370.0L80.0,367.0L80.0,364.0L80.0,361.0L80.0,358.0L80.0,355.0L80.0,352.0L80.0,349.0L80.0,346.0L80.0,343.0L80.0,340.0L80.0,337.0L80.0,334.0L80.0,331.0L80.0,328.0L80.0,325.0L80.0,322.0L80.0,319.0L80.0,316.0L80.0,313.0L80.0,310.0L80.0,307.0L80.0,304.0L80.0,301.0L80.0,298.0L80.0,295.0L80.0,292.0L80.0,289.0L80.0,286.0L80.0,283.0L80.0,280.0L80.0,277.0L80.0,274.0L80.0,271.0L80.0,268.0L80.0,265.0L80.0,262.0L80.0,259.0L80.0,256.0L80.0,253.0L80.0,250.0L80.0,247.0L80.0,244.0L80.0,241.0L80.0,238.0L80.0,235.0L80.0,232.0L80.0,229.0L80.0,226.0L80.0,223.0L80.0,220.0L80.0,218.5L83.0,218.6L86.0,218.9L89.0,219.8L89.4,220.0L92.0,221.7L93.5,223.0L95.0,224.3L97.6,226.0L98.0,226.2L101.0,227.1L104.0,227.4L107.0,227.5L110.0,227.6L113.0,227.8L116.0,228.2L118.8,229.0L119.0,229.1L122.0,231.1L123.0,232.0L125.0,233.7L127.0,235.0L128.0,235.4L131.0,236.2L134.0,236.9L137.0,237.7L137.9,238.0L140.0,238.6L143.0,239.1L146.0,239.4L149.0,239.5L152.0,239.5L155.0,239.5L158.0,239.5L161.0,239.5L164.0,239.5L167.0,239.5L170.0,239.5L173.0,239.5L176.0,239.6L179.0,239.9L182.0,240.6L183.1,241.0L185.0,241.8L188.0,242.9L191.0,243.1L194.0,242.4L197.0,241.2L197.5,241.0L200.0,240.0L203.0,239.4L206.0,239.2L209.0,239.4L212.0,240.1L213.7,241.0L215.0,241.6L218.0,244.0L218.0,244.0L221.0,246.2L222.5,247.0L224.0,247.7L227.0,248.2L230.0,248.0L233.0,247.2L233.4,247.0L236.0,245.2L237.2,244.0L239.0,242.2L240.2,241.0L242.0,239.2L243.2,238.0L245.0,235.3L245.2,235.0L246.1,232.0L246.5,229.0L246.9,226.0L248.0,223.0L248.0,222.9L250.9,220.0L251.0,220.0L254.0,219.0L257.0,218.6L260.0,218.5L263.0,218.4L266.0,218.0L268.3,217.0L269.0,216.6L270.8,214.0L272.0,211.5L272.1,211.0L272.7,208.0L273.1,205.0L273.3,202.0L273.4,199.0L273.5,196.0L273.5,193.0L273.5,190.0L273.5,187.0L273.5,184.0L273.5,181.0L273.5,178.0L273.5,175.0L273.5,172.0L273.5,169.0L273.5,166.0L273.5,163.0L273.5,160.0L273.5,157.0L273.5,154.0L273.5,151.0L273.5,148.0L273.5,145.0L273.5,142.0L273.5,139.0L273.5,136.0L273.5,133.0Z"/>
<path fill="#9d5a86" fill-rule="evenodd" d="M281.0,133.0L284.0,133.0L287.0,133.0L290.0,133.0L293.0,133.0L296.0,133.0L299.0,133.0L302.0,133.0L305.0,133.0L308.0,133.0L311.0,133.0L314.0,133.0L317.0,133.0L320.0,133.0L323.0,133.0L326.0,133.0L329.0,133.0L332.0,133.0L335.0,133.0L338.0,133.0L341.0,133.0L344.0,133.0L347.0,133.0L350.0,133.0L353.0,133.0L356.0,133.0L359.0,133.0L362.0,133.0L365.0,133.0L368.0,133.0L371.0,133.0L374.0,133.0L377.0,133.0L380.0,133.0L383.0,133.0L386.0,133.0L389.0,133.0L392.0,133.0L395.0,133.0L398.0,133.0L401.0,133.0L404.0,133.0L407.0,133.0L410.0,133.0L413.0,133.0L416.0,133.0L419.0,133.0L422.0,133.0L425.0,133.0L428.0,133.0L431.0,133.0L434.0,133.0L437.0,133.0L440.0,133.0L443.0,133.0L446.0,133.0L449.0,133.0L452.0,133.0L455.0,133.0L458.0,133.0L461.0,133.0L464.0,133.0L467.0,133.0L470.0,133.0L473.0,133.0L476.0,133.0L479.0,133.0L482.0,133.0L485.0,133.0L488.0,133.0L491.0,133.0L494.0,133.0L497.0,133.0L500.0,133.0L503.0,133.0L506.0,133.0L509.0,133.0L512.0,133.0L515.0,133.0L518.0,133.0L521.0,133.0L524.0,133.0L527.0,133.0L530.0,133.0L533.0,133.0L536.0,133.0L539.0,133.0L542.0,133.0L545.0,133.0L548.0,133.0L551.0,133.0L554.0,133.0L557.0,133.0L560.0,133.0L563.0,133.0L566.0,133.0L569.0,133.0L572.0,133.0L575.0,133.0L578.0,133.0L581.0,133.0L584.0,133.0L587.0,133.0L590.0,133.0L593.0,133.0L596.0,133.0L599.0,133.0L602.0,133.0L605.0,133.0L608.0,133.0L611.0,133.0L614.0,133.0L617.0,133.0L620.0,133.0L623.0,133.0L626.0,133.0L629.0,133.0L632.0,133.0L635.0,133.0L638.0,133.0L641.0,133.0L644.0,133.0L647.0,133.0L650.0,133.0L653.0,133.0L656.0,133.0L659.0,133.0L662.0,133.0L665.0,133.0L668.0,133.0L671.0,133.0L674.0,133.0L677.0,133.0L680.0,133.0L683.0,133.0L686.0,133.0L689.0,133.0L692.0,133.0L695.0,133.0L698.0,133.0L698.0,136.0L698.0,139.0L698.0,142.0L698.0,145.0L698.0,148.0L698.0,151.0L698.0,154.0L698.0,157.0L698.0,160.0L698.0,163.0L698.0,166.0L698.0,169.0L698.0,172.0L698.0,175.0L698.0,178.0L698.0,181.0L698.0,184.0L698.0,187.0L698.0,190.0L698.0,193.0L698.0,196.0L698.0,199.0L698.0,202.0L698.0,205.0L698.0,208.0L698.0,211.0L698.0,214.0L698.0,217.0L698.0,220.0L698.0,223.0L698.0,226.0L698.0,229.0L698.0,232.0L698.0,235.0L698.0,238.0L698.0,241.0L698.0,244.0L698.0,247.0L698.0,250.0L698.0,253.0L698.0,256.0L698.0,259.0L698.0,262.0L698.0,265.0L698.0,268.0L698.0,271.0L698.0,274.0L698.0,277.0L698.0,280.0L698.0,283.0L698.0,286.0L698.0,289.0L698.0,292.0L698.0,295.0L698.0,298.0L698.0,301.0L698.0,304.0L698.0,307.0L698.0,310.0L698.0,313.0L698.0,316.0L698.0,319.0L698.0,322.0L698.0,325.0L698.0,328.0L698.0,331.0L698.0,334.0L698.0,337.0L698.0,340.0L698.0,343.0L698.0,346.0L698.0,349.0L698.0,352.0L698.0,355.0L698.0,358.0L698.0,361.0L698.0,364.0L698.0,367.0L698.0,370.0L698.0,373.0L698.0,376.0L698.0,379.0L698.0,382.0L698.0,385.0L698.0,388.0L698.0,391.0L698.0,394.0L698.0,397.0L698.0,400.0L698.0,403.0L698.0,406.0L698.0,409.0L698.0,412.0L698.0,415.0L698.0,418.0L698.0,421.0L698.0,424.0L698.0,427.0L698.0,430.0L698.0,433.0L698.0,436.0L698.0,439.0L698.0,442.0L698.0,445.0L698.0,448.0L698.0,451.0L698.0,454.0L698.0,457.0L698.0,460.0L698.0,463.0L698.0,466.0L698.0,469.0L698.0,472.0L698.0,475.0L698.0,478.0L698.0,481.0L698.0,484.0L698.0,487.0L698.0,490.0L698.0,493.0L698.0,496.0L698.0,499.0L698.0,502.0L698.0,505.0L698.0,508.0L698.0,511.0L698.0,514.0L698.0,517.0L698.0,520.0L698.0,523.0L698.0,526.0L698.0,529.0L698.0,532.0L698.0,535.0L698.0,538.0L698.0,541.0L698.0,544.0L698.0,547.0L698.0,550.0L698.0,553.0L698.0,556.0L698.0,559.0L698.0,562.0L698.0,565.0L698.0,568.0L698.0,571.0L698.0,574.0L698.0,577.0L698.0,580.0L698.0,583.0L698.0,586.0L698.0,589.0L698.0,592.0L698.0,595.0L698.0,598.0L698.0,601.0L698.0,604.0L698.0,607.0L698.0,610.0L698.0,613.0L698.0,616.0L698.0,619.0L698.0,622.0L698.0,625.0L698.0,628.0L698.0,631.0L698.0,634.0L698.0,637.0L698.0,640.0L698.0,643.0L698.0,646.0L695.0,646.0L692.0,646.0L689.0,646.0L686.0,646.0L683.0,646.0L680.0,646.0L677.0,646.0L674.0,646.0L671.0,646.0L668.0,646.0L665.0,646.0L662.0,646.0L659.0,646.0L656.0,646.0L653.0,646.0L650.0,646.0L647.0,646.0L644.0,646.0L641.0,646.0L638.0,646.0L635.0,646.0L632.0,646.0L629.0,646.0L626.0,646.0L623.0,646.0L620.0,646.0L617.0,646.0L614.0,646.0L611.0,646.0L608.0,646.0L605.0,646.0L602.0,646.0L599.0,646.0L596.0,646.0L593.0,646.0L590.0,646.0L587.0,646.0L584.0,646.0L581.0,646.0L578.0,646.0L575.0,646.0L572.0,646.0L569.0,646.0L566.0,646.0L563.0,646.0L560.0,646.0L557.0,646.0L554.0,646.0L551.0,646.0L548.0,646.0L545.0,646.0L542.0,646.0L539.0,646.0L536.0,646.0L533.0,646.0L530.0,646.0L527.0,646.0L524.0,646.0L521.0,646.0L518.0,646.0L515.0,646.0L512.0,646.0L509.0,646.0L506.0,646.0L503.0,646.0L500.0,646.0L497.0,646.0L494.0,646.0L491.0,646.0L488.0,646.0L485.0,646.0L482.0,646.0L479.0,646.0L476.0,646.0L473.0,646.0L470.0,646.0L467.0,646.0L464.0,646.0L461.0,646.0L458.0,646.0L455.0,646.0L452.0,646.0L449.0,646.0L446.0,646.0L443.0,646.0L440.0,646.0L437.0,646.0L434.0,646.0L431.0,646.0L428.0,646.0L425.0,646.0L422.0,646.0L419.0,646.0L416.0,646.0L413.0,646.0L410.0,646.0L407.0,646.0L404.0,646.0L401.0,646.0L398.0,646.0L395.0,646.0L392.0,646.0L389.0,646.0L386.0,646.0L383.0,646.0L380.0,646.0L377.0,646.0L374.0,646.0L371.0,646.0L368.0,646.0L365.0,646.0L362.0,646.0L359.0,646.0L356.0,646.0L353.0,646.0L350.0,646.0L347.0,646.0L344.0,646.0L341.0,646.0L338.0,646.0L335.0,646.0L332.0,646.0L329.0,646.0L326.0,646.0L323.0,646.0L320.0,646.0L317.0,646.0L314.0,646.0L311.0,646.0L308.0,646.0L305.0,646.0L302.0,646.0L299.0,646.0L296.0,646.0L293.0,646.0L290.0,646.0L287.0,646.0L284.0,646.0L281.0,646.0L278.0,646.0L275.0,646.0L272.0,646.0L269.0,646.0L266.0,646.0L263.0,646.0L260.0,646.0L257.0,646.0L254.0,646.0L251.0,646.0L248.0,646.0L245.0,646.0L242.0,646.0L239.0,646.0L236.0,646.0L233.0,646.0L230.0,646.0L227.0,646.0L224.0,646.0L221.0,646.0L218.0,646.0L215.0,646.0L212.0,646.0L209.0,646.0L206.0,646.0L203.0,646.0L200.0,646.0L197.0,646.0L194.0,646.0L191.0,646.0L188.0,646.0L185.0,646.0L182.0,646.0L179.0,646.0L176.0,646.0L173.0,646.0L170.0,646.0L167.0,646.0L164.0,646.0L161.0,646.0L158.0,646.0L155.0,646.0L152.0,646.0L149.0,646.0L146.0,646.0L143.0,646.0L140.0,646.0L137.0,646.0L134.0,646.0L131.0,646.0L128.0,646.0L125.0,646.0L122.0,646.0L119.0,646.0L116.0,646.0L113.0,646.0L110.0,646.0L107.0,646.0L104.0,646.0L101.0,646.0L98.0,646.0L95.0,646.0L92.0,646.0L89.0,646.0L86.0,646.0L83.0,646.0L80.0,646.0L80.0,643.0L80.0,640.0L80.0,637.0L80.0,634.0L80.0,631.0L80.0,628.0L80.0,625.0L80.0,622.0L80.0,619.0L80.0,616.0L80.0,613.0L80.0,610.0L80.0,607.0L80.0,604.0L80.0,601.0L80.0,598.0L80.0,595.0L80.0,592.0L80.0,589.0L80.0,586.0L80.0,583.0L80.0,580.0L80.0,577.0L80.0,574.0L80.0,571.0L80.0,568.0L80.0,565.0L80.0,562.0L80.0,559.0L80.0,556.0L80.0,553.0L80.0,550.0L80.0,547.0L80.0,544.0L80.0,541.0L80.0,538.0L80.0,535.0L80.0,532.0L80.0,529.0L80.0,526.0L80.0,523.0L80.0,520.0L80.0,517.0L80.0,514.0L80.0,511.0L80.0,508.0L80.0,505.0L80.0,502.0L80.0,499.0L80.0,496.0L80.0,493.0L80.0,490.0L80.0,487.0L80.0,484.0L80.0,481.0L80.0,478.0L80.0,475.0L80.0,472.0L80.0,469.0L80.0,466.0L80.0,463.0L80.0,460.0L80.0,457.0L80.0,454.0L80.0,451.0L80.0,448.0L80.0,445.0L80.0,442.0L80.0,439.0L80.0,436.0L80.0,433.0L80.0,430.0L80.0,427.0L80.0,424.0L80.0,421.0L80.0,418.0L80.0,415.0L80.0,412.0L80.0,409.0L80.0,406.0L80.0,403.0L80.0,400.0L80.0,397.0L80.0,394.0L80.0,391.0L80.0,388.0L80.0,385.0L80.0,382.0L80.0,379.0L80.0,376.0L80.0,373.0L80.0,370.0L80.0,367.0L80.0,364.0L80.0,361.0L80.0,358.0L80.0,355.0L80.0,352.0L80.0,349.0L80.0,346.0L80.0,343.0L80.0,340.0L80.0,337.0L80.0,334.0L80.0,331.0L80.0,328.0L80.0,325.0L80.0,322.0L80.0,319.0L80.0,316.0L80.0,313.0L80.0,310.0L80.0,307.0L80.0,304.0L80.0,301.0L80.0,298.0L80.0,295.0L80.0,292.0L80.0,289.0L80.0,286.0L80.0,283.0L80.0,280.0L80.0,277.0L80.0,274.0L80.0,271.0L80.0,268.0L80.0,265.0L80.0,262.0L80.0,259.0L80.0,256.0L80.0,253.0L80.0,250.0L80.0,247.0L80.0,244.0L80.0,241.0L80.0,239.5L83.0,239.6L86.0,239.9L89.0,240.8L89.4,241.0L92.0,242.7L93.5,244.0L95.0,245.4L97.0,247.0L98.0,247.6L101.0,249.3L102.1,250.0L104.0,251.4L106.2,253.0L107.0,253.6L110.0,254.5L113.0,253.7L114.3,253.0L116.0,251.9L119.0,250.4L121.9,250.0L122.0,250.0L122.1,250.0L125.0,251.8L125.5,253.0L128.0,255.8L128.2,256.0L131.0,258.0L132.1,259.0L134.0,260.8L135.1,262.0L137.0,263.8L138.7,265.0L140.0,265.6L143.0,266.6L146.0,267.5L147.7,268.0L149.0,268.3L152.0,268.8L155.0,269.0L158.0,268.9L161.0,268.1L161.2,268.0L164.0,265.7L164.5,265.0L166.5,262.0L167.0,261.4L169.8,259.0L170.0,258.9L173.0,257.9L176.0,257.5L179.0,257.2L182.0,256.4L182.8,256.0L185.0,255.0L188.0,253.2L188.4,253.0L191.0,252.0L194.0,251.0L197.0,250.0L197.1,250.0L200.0,249.3L203.0,248.9L206.0,248.9L209.0,249.4L210.3,250.0L212.0,250.9L214.2,253.0L215.0,254.3L215.9,256.0L216.6,259.0L216.8,262.0L216.8,265.0L216.8,268.0L216.7,271.0L216.6,274.0L216.5,277.0L216.5,280.0L216.5,283.0L216.5,286.0L216.6,289.0L216.9,292.0L217.9,295.0L218.0,295.2L220.9,298.0L221.0,298.1L224.0,299.0L227.0,299.3L230.0,299.0L233.0,298.2L233.5,298.0L236.0,296.5L238.4,295.0L239.0,294.6L242.0,294.0L243.8,295.0L245.0,296.1L246.0,298.0L247.1,301.0L248.0,302.5L248.9,304.0L251.0,306.2L252.0,307.0L254.0,308.6L255.9,310.0L257.0,311.1L259.0,313.0L260.0,314.0L263.0,315.5L265.6,313.0L266.0,311.5L266.2,310.0L266.0,307.0L266.0,307.0L264.7,304.0L263.0,301.5L262.6,301.0L260.0,298.0L260.0,297.9L258.0,295.0L257.0,292.7L256.7,292.0L255.7,289.0L255.3,286.0L255.0,283.0L254.8,280.0L254.4,277.0L254.0,275.6L253.1,274.0L251.0,271.5L249.9,271.0L248.0,269.6L246.8,268.0L246.5,265.0L246.4,262.0L246.5,259.0L246.9,256.0L247.9,253.0L248.0,252.9L250.5,250.0L251.0,249.6L254.0,247.7L255.0,247.0L257.0,245.4L258.5,244.0L260.0,242.7L262.5,241.0L263.0,240.7L266.0,239.7L269.0,238.7L270.1,238.0L272.0,236.5L272.9,235.0L274.1,232.0L274.9,229.0L275.0,228.7L275.6,226.0L276.3,223.0L277.1,220.0L278.0,217.0L278.0,216.9L278.7,214.0L279.2,211.0L279.6,208.0L279.8,205.0L280.0,202.0L280.0,199.0L280.0,196.0L280.1,193.0L280.1,190.0L280.1,187.0L280.1,184.0L280.1,181.0L280.1,178.0L280.1,175.0L280.1,172.0L280.1,169.0L280.1,166.0L280.1,163.0L280.1,160.0L280.1,157.0L280.1,154.0L280.1,151.0L280.1,148.0L280.1,145.0L280.1,142.0L280.1,139.0L280.1,136.0L280.1,133.0ZM187.8,274.0L185.0,275.7L182.6,277.0L182.0,277.3L179.0,278.1L176.0,278.5L173.0,278.9L170.0,279.9L169.9,280.0L167.2,283.0L167.0,283.5L166.4,286.0L166.2,289.0L166.4,292.0L167.0,294.3L167.3,295.0L170.0,298.0L170.0,298.0L173.0,299.0L176.0,299.4L179.0,299.5L182.0,299.5L185.0,299.5L188.0,299.5L191.0,299.3L194.0,298.8L194.9,298.0L195.4,295.0L195.5,292.0L195.5,289.0L195.5,286.0L195.3,283.0L195.0,280.0L194.2,277.0L194.0,276.7L191.3,274.0L191.0,273.8L188.0,273.9ZM199.8,304.0L200.0,304.2L200.6,304.0L200.0,303.4ZM221.5,331.0L221.0,331.2L218.2,334.0L218.0,334.5L217.3,337.0L217.2,340.0L217.7,343.0L218.0,343.6L221.0,345.7L224.0,344.0L224.9,343.0L227.0,340.9L227.9,340.0L230.0,337.9L230.9,337.0L232.0,334.0L230.0,331.2L229.6,331.0L227.0,330.3L224.0,330.3Z"/>
<path fill="#c46478" fill-rule="evenodd" d="M287.0,133.0L290.0,133.0L293.0,133.0L296.0,133.0L299.0,133.0L302.0,133.0L305.0,133.0L308.0,133.0L311.0,133.0L314.0,133.0L317.0,133.0L320.0,133.0L323.0,133.0L326.0,133.0L329.0,133.0L332.0,133.0L335.0,133.0L338.0,133.0L341.0,133.0L344.0,133.0L347.0,133.0L350.0,133.0L353.0,133.0L356.0,133.0L359.0,133.0L362.0,133.0L365.0,133.0L368.0,133.0L371.0,133.0L374.0,133.0L377.0,133.0L380.0,133.0L383.0,133.0L386.0,133.0L389.0,133.0L392.0,133.0L395.0,133.0L398.0,133.0L401.0,133.0L404.0,133.0L407.0,133.0L410.0,133.0L413.0,133.0L416.0,133.0L419.0,133.0L422.0,133.0L425.0,133.0L428.0,133.0L431.0,133.0L434.0,133.0L437.0,133.0L440.0,133.0L443.0,133.0L446.0,133.0L449.0,133.0L452.0,133.0L455.0,133.0L458.0,133.0L461.0,133.0L464.0,133.0L467.0,133.0L470.0,133.0L473.0,133.0L476.0,133.0L479.0,133.0L482.0,133.0L485.0,133.0L488.0,133.0L491.0,133.0L494.0,133.0L497.0,133.0L500.0,133.0L503.0,133.0L506.0,133.0L509.0,133.0L512.0,133.0L515.0,133.0L518.0,133.0L521.0,133.0L524.0,133.0L527.0,133.0L530.0,133.0L533.0,133.0L536.0,133.0L539.0,133.0L542.0,133.0L545.0,133.0L548.0,133.0L551.0,133.0L554.0,133.0L557.0,133.0L560.0,133.0L563.0,133.0L566.0,133.0L569.0,133.0L572.0,133.0L575.0,133.0L578.0,133.0L581.0,133.0L584.0,133.0L587.0,133.0L590.0,133.0L593.0,133.0L596.0,133.0L599.0,133.0L602.0,133.0L605.0,133.0L608.0,133.0L611.0,133.0L614.0,133.0L617.0,133.0L620.0,133.0L623.0,133.0L626.0,133.0L629.0,133.0L632.0,133.0L635.0,133.0L638.0,133.0L641.0,133.0L644.0,133.0L647.0,133.0L650.0,133.0L653.0,133.0L656.0,133.0L659.0,133.0L662.0,133.0L665.0,133.0L668.0,133.0L671.0,133.0L674.0,133.0L677.0,133.0L680.0,133.0L683.0,133.0L686.0,133.0L689.0,133.0L692.0,133.0L695.0,133.0L698.0,133.0L698.0,136.0L698.0,139.0L698.0,142.0L698.0,145.0L698.0,148.0L698.0,151.0L698.0,154.0L698.0,157.0L698.0,160.0L698.0,163.0L698.0,166.0L698.0,169.0L698.0,172.0L698.0,175.0L698.0,178.0L698.0,181.0L698.0,184.0L698.0,187.0L698.0,190.0L698.0,193.0L698.0,196.0L698.0,199.0L698.0,202.0L698.0,205.0L698.0,208.0L698.0,211.0L698.0,214.0L698.0,217.0L698.0,220.0L698.0,223.0L698.0,226.0L698.0,229.0L698.0,232.0L698.0,235.0L698.0,238.0L698.0,241.0L698.0,244.0L698.0,247.0L698.0,250.0L698.0,253.0L698.0,256.0L698.0,259.0L698.0,262.0L698.0,265.0L698.0,268.0L698.0,271.0L698.0,274.0L698.0,277.0L698.0,280.0L698.0,283.0L698.0,286.0L698.0,289.0L698.0,292.0L698.0,295.0L698.0,298.0L698.0,301.0L698.0,304.0L698.0,307.0L698.0,310.0L698.0,313.0L698.0,316.0L698.0,319.0L698.0,322.0L698.0,325.0L698.0,328.0L698.0,331.0L698.0,334.0L698.0,337.0L698.0,340.0L698.0,343.0L698.0,346.0L698.0,349.0L698.0,352.0L698.0,355.0L698.0,358.0L698.0,361.0L698.0,364.0L698.0,367.0L698.0,370.0L698.0,373.0L698.0,376.0L698.0,379.0L698.0,382.0L698.0,385.0L698.0,388.0L698.0,391.0L698.0,394.0L698.0,397.0L698.0,400.0L698.0,403.0L698.0,406.0L698.0,409.0L698.0,412.0L698.0,415.0L698.0,418.0L698.0,421.0L698.0,424.0L698.0,427.0L698.0,430.0L698.0,433.0L698.0,436.0L698.0,439.0L698.0,442.0L698.0,445.0L698.0,448.0L698.0,451.0L698.0,454.0L698.0,457.0L698.0,460.0L698.0,463.0L698.0,466.0L698.0,469.0L698.0,472.0L698.0,475.0L698.0,478.0L698.0,481.0L698.0,484.0L698.0,487.0L698.0,490.0L698.0,493.0L698.0,496.0L698.0,499.0L698.0,502.0L698.0,505.0L698.0,508.0L698.0,511.0L698.0,514.0L698.0,517.0L698.0,520.0L698.0,523.0L698.0,526.0L698.0,529.0L698.0,532.0L698.0,535.0L698.0,538.0L698.0,541.0L698.0,544.0L698.0,547.0L698.0,550.0L698.0,553.0L698.0,556.0L698.0,559.0L698.0,562.0L698.0,565.0L698.0,568.0L698.0,571.0L698.0,574.0L698.0,577.0L698.0,580.0L698.0,583.0L698.0,586.0L698.0,589.0L698.0,592.0L698.0,595.0L698.0,598.0L698.0,601.0L698.0,604.0L698.0,607.0L698.0,610.0L698.0,613.0L698.0,616.0L698.0,619.0L698.0,622.0L698.0,625.0L698.0,628.0L698.0,631.0L698.0,634.0L698.0,637.0L698.0,640.0L698.0,643.0L698.0,646.0L695.0,646.0L692.0,646.0L689.0,646.0L686.0,646.0L683.0,646.0L680.0,646.0L677.0,646.0L674.0,646.0L671.0,646.0L668.0,646.0L665.0,646.0L662.0,646.0L659.0,646.0L656.0,646.0L653.0,646.0L650.0,646.0L647.0,646.0L644.0,646.0L641.0,646.0L638.0,646.0L635.0,646.0L632.0,646.0L629.0,646.0L626.0,646.0L623.0,646.0L620.0,646.0L617.0,646.0L614.0,646.0L611.0,646.0L608.0,646.0L605.0,646.0L602.0,646.0L599.0,646.0L596.0,646.0L593.0,646.0L590.0,646.0L587.0,646.0L584.0,646.0L581.0,646.0L578.0,646.0L575.0,646.0L572.0,646.0L569.0,646.0L566.0,646.0L563.0,646.0L560.0,646.0L557.0,646.0L554.0,646.0L551.0,646.0L548.0,646.0L545.0,646.0L542.0,646.0L539.0,646.0L536.0,646.0L533.0,646.0L530.0,646.0L527.0,646.0L524.0,646.0L521.0,646.0L518.0,646.0L515.0,646.0L512.0,646.0L509.0,646.0L506.0,646.0L503.0,646.0L500.0,646.0L497.0,646.0L494.0,646.0L491.0,646.0L488.0,646.0L485.0,646.0L482.0,646.0L479.0,646.0L476.0,646.0L473.0,646.0L470.0,646.0L467.0,646.0L464.0,646.0L461.0,646.0L458.0,646.0L455.0,646.0L452.0,646.0L449.0,646.0L446.0,646.0L443.0,646.0L440.0,646.0L437.0,646.0L434.0,646.0L431.0,646.0L428.0,646.0L425.0,646.0L422.0,646.0L419.0,646.0L416.0,646.0L413.0,646.0L410.0,646.0L407.0,646.0L404.0,646.0L401.0,646.0L398.0,646.0L395.0,646.0L392.0,646.0L389.0,646.0L386.0,646.0L383.0,646.0L380.0,646.0L377.0,646.0L374.0,646.0L371.0,646.0L368.0,646.0L365.0,646.0L362.0,646.0L359.0,646.0L356.0,646.0L353.0,646.0L350.0,646.0L347.0,646.0L344.0,646.0L341.0,646.0L338.0,646.0L335.0,646.0L332.0,646.0L329.0,646.0L326.0,646.0L323.0,646.0L320.0,646.0L317.0,646.0L314.0,646.0L311.0,646.0L308.0,646.0L305.0,646.0L302.0,646.0L299.0,646.0L296.0,646.0L293.0,646.0L290.0,646.0L287.0,646.0L284.0,646.0L281.0,646.0L278.0,646.0L275.0,646.0L272.0,646.0L269.0,646.0L266.0,646.0L263.0,646.0L260.0,646.0L257.0,646.0L254.0,646.0L251.0,646.0L248.0,646.0L245.0,646.0L242.0,646.0L239.0,646.0L236.0,646.0L233.0,646.0L230.0,646.0L227.0,646.0L224.0,646.0L221.0,646.0L218.0,646.0L215.0,646.0L212.0,646.0L209.0,646.0L206.0,646.0L203.0,646.0L200.0,646.0L197.0,646.0L194.0,646.0L191.0,646.0L188.0,646.0L185.0,646.0L182.0,646.0L179.0,646.0L176.0,646.0L173.0,646.0L170.0,646.0L167.0,646.0L164.0,646.0L161.0,646.0L158.0,646.0L155.0,646.0L152.0,646.0L149.0,646.0L146.0,646.0L143.0,646.0L140.0,646.0L137.0,646.0L134.0,646.0L131.0,646.0L128.0,646.0L125.0,646.0L122.0,646.0L119.0,646.0L116.0,646.0L113.0,646.0L110.0,646.0L107.0,646.0L104.0,646.0L101.0,646.0L98.0,646.0L95.0,646.0L92.0,646.0L89.0,646.0L86.0,646.0L83.0,646.0L80.0,646.0L80.0,643.0L80.0,640.0L80.0,637.0L80.0,634.0L80.0,631.0L80.0,628.0L80.0,625.0L80.0,622.0L80.0,619.0L80.0,616.0L80.0,613.0L80.0,610.0L80.0,607.0L80.0,604.0L80.0,601.0L80.0,598.0L80.0,595.3L83.0,595.3L86.0,595.1L86.6,595.0L89.0,594.3L92.0,592.6L92.8,592.0L92.7,589.0L92.0,588.4L89.0,586.3L88.3,586.0L86.0,585.4L83.0,585.1L80.0,585.0L80.0,583.0L80.0,580.0L80.0,577.0L80.0,574.0L80.0,571.0L80.0,568.0L80.0,565.0L80.0,562.0L80.0,559.0L80.0,556.0L80.0,553.0L80.0,550.0L80.0,547.0L80.0,544.0L80.0,541.0L80.0,538.0L80.0,535.0L80.0,532.0L80.0,529.0L80.0,526.0L80.0,523.0L80.0,520.0L80.0,517.0L80.0,514.0L80.0,511.0L80.0,508.0L80.0,505.0L80.0,502.0L80.0,499.0L80.0,496.0L80.0,493.0L80.0,490.0L80.0,487.0L80.0,484.0L80.0,481.0L80.0,478.0L80.0,475.0L80.0,472.0L80.0,469.0L80.0,466.0L80.0,463.0L80.0,460.0L80.0,457.0L80.0,454.0L80.0,451.0L80.0,448.0L80.0,445.0L80.0,442.0L80.0,439.0L80.0,436.0L80.0,433.0L80.0,430.0L80.0,427.0L80.0,424.0L80.0,421.0L80.0,418.0L80.0,415.0L80.0,412.0L80.0,409.0L80.0,406.0L80.0,403.0L80.0,400.0L80.0,397.0L80.0,394.0L80.0,391.0L80.0,388.0L80.0,385.0L80.0,382.0L80.0,379.0L80.0,376.0L80.0,373.0L80.0,370.0L80.0,367.0L80.0,364.0L80.0,361.0L80.0,358.0L80.0,355.0L80.0,352.0L80.0,349.0L80.0,346.0L80.0,343.0L80.0,340.0L80.0,337.0L80.0,334.0L80.0,331.0L80.0,328.0L80.0,325.0L80.0,322.0L80.0,319.0L80.0,316.0L80.0,313.0L80.0,310.0L80.0,307.0L80.0,304.0L80.0,301.0L80.0,298.0L80.0,295.0L80.0,292.0L80.0,289.0L80.0,286.0L80.0,283.0L80.0,280.0L80.0,277.0L80.0,274.0L80.0,271.0L80.0,268.7L83.0,268.8L86.0,269.0L89.0,269.6L92.0,270.8L92.3,271.0L95.0,272.3L98.0,273.9L98.2,274.0L101.0,274.9L104.0,275.8L107.0,276.9L107.2,277.0L110.0,278.5L111.8,280.0L113.0,281.6L113.8,283.0L114.7,286.0L115.1,289.0L115.5,292.0L116.0,294.4L116.2,295.0L118.0,298.0L119.0,299.2L120.7,301.0L122.0,302.3L123.6,304.0L125.0,305.4L127.0,307.0L128.0,307.7L131.0,309.5L131.6,310.0L134.0,312.7L134.2,313.0L135.1,316.0L135.4,319.0L135.5,322.0L135.5,325.0L135.7,328.0L136.3,331.0L137.0,332.5L137.8,334.0L140.0,337.0L140.0,337.1L142.3,340.0L143.0,341.3L143.8,343.0L144.5,346.0L144.8,349.0L145.1,352.0L146.0,355.0L146.0,355.1L148.4,358.0L149.0,358.5L152.0,360.5L152.7,361.0L155.0,363.3L155.5,364.0L157.3,367.0L158.0,367.9L159.7,370.0L161.0,371.2L163.3,373.0L164.0,373.5L167.0,374.9L170.0,375.5L173.0,375.0L176.0,373.7L177.4,373.0L179.0,372.0L182.0,370.2L182.2,370.0L184.3,367.0L184.4,364.0L182.7,361.0L182.0,360.2L179.6,358.0L179.0,356.6L178.4,355.0L179.0,353.9L181.0,352.0L182.0,351.6L185.0,351.0L188.0,350.8L191.0,350.6L194.0,350.6L197.0,350.6L200.0,350.9L203.0,351.8L203.4,352.0L206.0,353.8L207.4,355.0L209.0,356.5L211.3,358.0L212.0,358.4L215.0,359.2L218.0,359.3L221.0,358.7L222.4,358.0L224.0,357.2L226.6,355.0L227.0,354.7L229.9,352.0L230.0,351.9L233.0,349.2L233.2,349.0L236.0,346.2L236.2,346.0L239.0,343.0L239.0,343.0L242.0,340.4L242.8,340.0L245.0,338.7L248.0,337.7L250.6,337.0L251.0,336.8L254.0,334.4L254.4,334.0L255.5,331.0L254.0,329.6L251.0,329.6L248.0,329.5L245.0,328.7L243.8,328.0L242.0,326.8L240.3,325.0L239.0,322.7L238.7,322.0L238.3,319.0L238.7,316.0L239.0,315.4L242.0,313.3L245.0,315.0L245.9,316.0L248.0,318.1L248.9,319.0L251.0,321.0L252.2,322.0L254.0,324.2L254.7,325.0L255.8,328.0L257.0,329.4L260.0,329.4L263.0,329.3L266.0,329.0L269.0,328.1L269.2,328.0L272.0,325.1L272.1,325.0L273.0,322.0L273.5,319.0L273.8,316.0L274.1,313.0L274.5,310.0L275.0,307.0L275.0,304.0L274.1,301.0L272.0,298.3L271.8,298.0L269.0,295.0L269.0,295.0L266.5,292.0L266.0,291.4L264.4,289.0L263.0,286.2L262.9,286.0L262.3,283.0L262.1,280.0L261.9,277.0L261.6,274.0L261.1,271.0L260.5,268.0L260.0,265.1L260.0,265.0L260.0,264.8L260.5,262.0L263.0,259.1L263.1,259.0L266.0,258.0L269.0,257.4L272.0,256.8L274.4,256.0L275.0,255.7L277.8,253.0L278.0,252.7L278.9,250.0L279.5,247.0L280.1,244.0L280.6,241.0L281.0,238.3L281.0,238.0L281.3,235.0L281.6,232.0L281.8,229.0L282.2,226.0L282.6,223.0L283.1,220.0L283.6,217.0L284.0,214.5L284.1,214.0L284.3,211.0L284.5,208.0L284.7,205.0L284.8,202.0L284.8,199.0L284.8,196.0L284.8,193.0L284.8,190.0L284.8,187.0L284.8,184.0L284.8,181.0L284.8,178.0L284.8,175.0L284.8,172.0L284.8,169.0L284.8,166.0L284.8,163.0L284.8,160.0L284.8,157.0L284.8,154.0L284.8,151.0L284.8,148.0L284.8,145.0L284.8,142.0L284.8,139.0L284.8,136.0L284.8,133.0ZM200.0,261.0L203.0,260.9L204.1,262.0L204.1,265.0L203.0,266.0L200.0,265.5L199.5,265.0L199.0,262.0ZM140.0,275.5L143.0,275.9L146.0,277.0L146.0,277.0L149.0,278.5L152.0,279.9L152.1,280.0L154.8,283.0L155.0,283.6L155.6,286.0L155.9,289.0L156.0,292.0L156.0,295.0L155.9,298.0L155.7,301.0L155.0,303.3L154.6,304.0L152.0,306.2L149.0,306.2L146.2,304.0L146.0,303.7L145.0,301.0L144.3,298.0L143.3,295.0L143.0,294.4L141.4,292.0L140.0,290.4L138.7,289.0L137.0,286.3L136.8,286.0L136.1,283.0L136.1,280.0L137.0,277.3L137.2,277.0Z"/>
<path fill="#e7765f" fill-rule="evenodd" d="M290.0,133.0L293.0,133.0L296.0,133.0L299.0,133.0L302.0,133.0L305.0,133.0L308.0,133.0L311.0,133.0L314.0,133.0L317.0,133.0L320.0,133.0L323.0,133.0L326.0,133.0L329.0,133.0L332.0,133.0L335.0,133.0L338.0,133.0L341.0,133.0L344.0,133.0L347.0,133.0L350.0,133.0L353.0,133.0L356.0,133.0L359.0,133.0L362.0,133.0L365.0,133.0L368.0,133.0L371.0,133.0L374.0,133.0L377.0,133.0L380.0,133.0L383.0,133.0L386.0,133.0L389.0,133.0L392.0,133.0L395.0,133.0L398.0,133.0L401.0,133.0L404.0,133.0L407.0,133.0L410.0,133.0L413.0,133.0L416.0,133.0L419.0,133.0L422.0,133.0L425.0,133.0L428.0,133.0L431.0,133.0L434.0,133.0L437.0,133.0L440.0,133.0L443.0,133.0L446.0,133.0L449.0,133.0L452.0,133.0L455.0,133.0L458.0,133.0L461.0,133.0L464.0,133.0L467.0,133.0L470.0,133.0L473.0,133.0L476.0,133.0L479.0,133.0L482.0,133.0L485.0,133.0L488.0,133.0L491.0,133.0L494.0,133.0L497.0,133.0L500.0,133.0L503.0,133.0L506.0,133.0L509.0,133.0L512.0,133.0L515.0,133.0L518.0,133.0L521.0,133.0L524.0,133.0L527.0,133.0L530.0,133.0L533.0,133.0L536.0,133.0L539.0,133.0L542.0,133.0L545.0,133.0L548.0,133.0L551.0,133.0L554.0,133.0L557.0,133.0L560.0,133.0L563.0,133.0L566.0,133.0L569.0,133.0L572.0,133.0L575.0,133.0L578.0,133.0L581.0,133.0L584.0,133.0L587.0,133.0L590.0,133.0L593.0,133.0L596.0,133.0L599.0,133.0L602.0,133.0L605.0,133.0L608.0,133.0L611.0,133.0L614.0,133.0L617.0,133.0L620.0,133.0L623.0,133.0L626.0,133.0L629.0,133.0L632.0,133.0L635.0,133.0L638.0,133.0L641.0,133.0L644.0,133.0L647.0,133.0L650.0,133.0L653.0,133.0L656.0,133.0L659.0,133.0L662.0,133.0L665.0,133.0L668.0,133.0L671.0,133.0L674.0,133.0L677.0,133.0L680.0,133.0L683.0,133.0L686.0,133.0L689.0,133.0L692.0,133.0L695.0,133.0L698.0,133.0L698.0,136.0L698.0,139.0L698.0,142.0L698.0,145.0L698.0,148.0L698.0,151.0L698.0,154.0L698.0,157.0L698.0,160.0L698.0,163.0L698.0,166.0L698.0,169.0L698.0,172.0L698.0,175.0L698.0,178.0L698.0,181.0L698.0,184.0L698.0,187.0L698.0,190.0L698.0,193.0L698.0,196.0L698.0,199.0L698.0,202.0L698.0,205.0L698.0,208.0L698.0,211.0L698.0,214.0L698.0,217.0L698.0,220.0L698.0,223.0L698.0,226.0L698.0,229.0L698.0,232.0L698.0,235.0L698.0,238.0L698.0,241.0L698.0,244.0L698.0,247.0L698.0,250.0L698.0,253.0L698.0,256.0L698.0,259.0L698.0,262.0L698.0,265.0L698.0,268.0L698.0,271.0L698.0,274.0L698.0,277.0L698.0,280.0L698.0,283.0L698.0,286.0L698.0,289.0L698.0,292.0L698.0,295.0L698.0,298.0L698.0,301.0L698.0,304.0L698.0,307.0L698.0,310.0L698.0,313.0L698.0,316.0L698.0,319.0L698.0,322.0L698.0,325.0L698.0,328.0L698.0,331.0L698.0,334.0L698.0,337.0L698.0,340.0L698.0,343.0L698.0,346.0L698.0,349.0L698.0,352.0L698.0,355.0L698.0,358.0L698.0,361.0L698.0,364.0L698.0,367.0L698.0,370.0L698.0,373.0L698.0,376.0L698.0,379.0L698.0,382.0L698.0,385.0L698.0,388.0L698.0,391.0L698.0,394.0L698.0,397.0L698.0,400.0L698.0,403.0L698.0,406.0L698.0,409.0L698.0,412.0L698.0,415.0L698.0,418.0L698.0,421.0L698.0,424.0L698.0,427.0L698.0,430.0L698.0,433.0L698.0,436.0L698.0,439.0L698.0,442.0L698.0,445.0L698.0,448.0L698.0,451.0L698.0,454.0L698.0,457.0L698.0,460.0L698.0,463.0L698.0,466.0L698.0,469.0L698.0,472.0L698.0,475.0L698.0,478.0L698.0,481.0L698.0,484.0L698.0,487.0L698.0,490.0L698.0,493.0L698.0,496.0L698.0,499.0L698.0,502.0L698.0,505.0L698.0,508.0L698.0,511.0L698.0,514.0L698.0,517.0L698.0,520.0L698.0,523.0L698.0,526.0L698.0,529.0L698.0,532.0L698.0,535.0L698.0,538.0L698.0,541.0L698.0,544.0L698.0,547.0L698.0,550.0L698.0,553.0L698.0,556.0L698.0,559.0L698.0,562.0L698.0,565.0L698.0,568.0L698.0,571.0L698.0,574.0L698.0,577.0L698.0,580.0L698.0,583.0L698.0,586.0L698.0,589.0L698.0,592.0L698.0,595.0L698.0,598.0L698.0,601.0L698.0,604.0L698.0,607.0L698.0,610.0L698.0,613.0L698.0,616.0L698.0,619.0L698.0,622.0L698.0,625.0L698.0,628.0L698.0,631.0L698.0,634.0L698.0,637.0L698.0,640.0L698.0,643.0L698.0,646.0L695.0,646.0L692.0,646.0L689.0,646.0L686.0,646.0L683.0,646.0L680.0,646.0L677.0,646.0L674.0,646.0L671.0,646.0L668.0,646.0L665.0,646.0L662.0,646.0L659.0,646.0L656.0,646.0L653.0,646.0L650.0,646.0L647.0,646.0L644.0,646.0L641.0,646.0L638.0,646.0L635.0,646.0L632.0,646.0L629.0,646.0L626.0,646.0L623.0,646.0L620.0,646.0L617.0,646.0L614.0,646.0L611.0,646.0L608.0,646.0L605.0,646.0L602.0,646.0L599.0,646.0L596.0,646.0L593.0,646.0L590.0,646.0L587.0,646.0L584.0,646.0L581.0,646.0L578.0,646.0L575.0,646.0L572.0,646.0L569.0,646.0L566.0,646.0L563.0,646.0L560.0,646.0L557.0,646.0L554.0,646.0L551.0,646.0L548.0,646.0L545.0,646.0L542.0,646.0L539.0,646.0L536.0,646.0L533.0,646.0L530.0,646.0L527.0,646.0L524.0,646.0L521.0,646.0L518.0,646.0L515.0,646.0L512.0,646.0L509.0,646.0L506.0,646.0L503.0,646.0L500.0,646.0L497.0,646.0L494.0,646.0L491.0,646.0L488.0,646.0L485.0,646.0L482.0,646.0L479.0,646.0L476.0,646.0L473.0,646.0L470.0,646.0L467.0,646.0L464.0,646.0L461.0,646.0L458.0,646.0L455.0,646.0L452.0,646.0L449.0,646.0L446.0,646.0L443.0,646.0L440.0,646.0L437.0,646.0L434.0,646.0L431.0,646.0L428.0,646.0L425.0,646.0L422.0,646.0L419.0,646.0L416.0,646.0L413.0,646.0L410.0,646.0L407.0,646.0L404.0,646.0L401.0,646.0L398.0,646.0L395.0,646.0L392.0,646.0L389.0,646.0L386.0,646.0L383.0,646.0L380.0,646.0L377.0,646.0L374.0,646.0L371.0,646.0L368.0,646.0L365.0,646.0L362.0,646.0L359.0,646.0L356.0,646.0L353.0,646.0L350.0,646.0L347.0,646.0L344.0,646.0L341.0,646.0L338.0,646.0L335.0,646.0L332.0,646.0L329.0,646.0L326.0,646.0L323.0,646.0L320.0,646.0L317.0,646.0L314.0,646.0L311.0,646.0L308.0,646.0L305.0,646.0L302.0,646.0L299.0,646.0L296.0,646.0L293.0,646.0L290.0,646.0L287.0,646.0L284.0,646.0L281.0,646.0L278.0,646.0L275.0,646.0L272.0,646.0L269.0,646.0L266.0,646.0L263.0,646.0L260.0,646.0L257.0,646.0L254.0,646.0L251.0,646.0L248.0,646.0L245.0,646.0L242.0,646.0L239.0,646.0L236.0,646.0L233.0,646.0L230.0,646.0L227.0,646.0L224.0,646.0L221.0,646.0L218.0,646.0L215.0,646.0L212.0,646.0L209.0,646.0L206.0,646.0L203.0,646.0L200.0,646.0L197.0,646.0L194.0,646.0L191.0,646.0L188.0,646.0L185.0,646.0L182.0,646.0L179.0,646.0L176.0,646.0L173.0,646.0L170.0,646.0L167.0,646.0L164.0,646.0L161.0,646.0L158.0,646.0L155.0,646.0L152.0,646.0L149.0,646.0L146.0,646.0L143.0,646.0L140.0,646.0L137.0,646.0L134.0,646.0L131.0,646.0L128.0,646.0L125.0,646.0L122.0,646.0L119.0,646.0L116.0,646.0L113.0,646.0L110.0,646.0L107.0,646.0L104.0,646.0L101.0,646.0L98.0,646.0L95.0,646.0L92.0,646.0L89.0,646.0L86.0,646.0L83.0,646.0L80.0,646.0L80.0,643.0L80.0,640.0L80.0,637.0L80.0,634.0L80.0,631.0L80.0,628.0L80.0,625.0L80.0,622.0L80.0,619.0L80.0,616.0L80.0,613.0L80.0,610.0L80.0,609.6L83.0,609.6L86.0,609.5L89.0,609.4L92.0,609.1L95.0,608.8L98.0,608.4L101.0,607.9L104.0,607.1L104.4,607.0L107.0,606.2L110.0,605.0L111.9,604.0L113.0,603.4L116.0,601.3L116.4,601.0L118.9,598.0L119.0,597.6L119.9,595.0L120.0,592.0L119.2,589.0L119.0,588.7L117.4,586.0L116.0,584.3L115.0,583.0L113.0,580.7L112.4,580.0L110.2,577.0L110.0,576.7L108.0,574.0L107.0,572.8L105.4,571.0L104.0,569.6L101.7,568.0L101.0,567.5L98.0,566.1L95.0,565.1L94.6,565.0L92.0,564.3L89.0,563.8L86.0,563.5L83.0,563.3L80.0,563.3L80.0,562.0L80.0,559.0L80.0,556.0L80.0,553.0L80.0,550.0L80.0,547.0L80.0,544.0L80.0,541.0L80.0,538.0L80.0,535.0L80.0,532.0L80.0,529.0L80.0,526.0L80.0,523.0L80.0,520.0L80.0,517.0L80.0,514.0L80.0,511.0L80.0,508.0L80.0,505.0L80.0,502.0L80.0,499.0L80.0,496.0L80.0,493.0L80.0,490.0L80.0,487.0L80.0,484.0L80.0,481.0L80.0,478.0L80.0,475.0L80.0,472.0L80.0,469.0L80.0,466.0L80.0,463.0L80.0,460.0L80.0,457.0L80.0,454.0L80.0,451.0L80.0,448.0L80.0,445.0L80.0,442.0L80.0,439.0L80.0,436.0L80.0,433.0L80.0,430.0L80.0,427.0L80.0,424.0L80.0,421.0L80.0,418.0L80.0,415.0L80.0,412.0L80.0,409.0L80.0,406.0L80.0,403.0L80.0,400.0L80.0,397.0L80.0,394.0L80.0,391.0L80.0,388.0L80.0,385.0L80.0,382.0L80.0,379.0L80.0,376.0L80.0,373.0L80.0,370.0L80.0,367.0L80.0,364.0L80.0,361.0L80.0,358.0L80.0,355.0L80.0,352.0L80.0,350.3L83.0,350.3L86.0,350.3L89.0,350.3L92.0,350.3L95.0,350.2L98.0,349.9L100.8,349.0L101.0,348.9L103.7,346.0L104.0,345.2L104.7,343.0L104.5,340.0L104.0,339.6L101.0,338.8L98.0,338.7L95.0,338.7L92.0,338.7L89.0,338.7L86.0,338.6L83.0,338.6L80.0,338.6L80.0,337.0L80.0,334.0L80.0,331.0L80.0,328.0L80.0,325.0L80.0,322.0L80.0,319.0L80.0,316.0L80.0,313.0L80.0,310.0L80.0,307.0L80.0,304.0L80.0,301.0L80.0,298.0L80.0,295.0L80.0,292.0L80.0,289.0L80.0,286.0L80.0,283.0L80.0,280.0L80.0,277.0L80.0,275.9L83.0,275.9L86.0,276.2L89.0,276.8L89.4,277.0L92.0,277.9L95.0,279.3L96.5,280.0L98.0,280.8L101.0,282.3L102.2,283.0L104.0,284.6L105.1,286.0L106.5,289.0L107.0,291.1L107.2,292.0L107.5,295.0L107.4,298.0L107.0,300.8L107.0,301.0L106.4,304.0L105.9,307.0L105.7,310.0L105.9,313.0L106.7,316.0L107.0,316.5L108.5,319.0L110.0,321.2L110.6,322.0L111.5,325.0L110.8,328.0L110.0,329.5L109.1,331.0L107.7,334.0L107.8,337.0L110.0,337.8L113.0,338.1L116.0,338.3L119.0,338.4L122.0,338.6L125.0,338.8L128.0,339.5L128.9,340.0L131.0,341.6L132.1,343.0L132.7,346.0L131.1,349.0L131.0,349.1L128.0,351.2L126.9,352.0L125.0,353.5L123.4,355.0L122.0,356.3L119.5,358.0L119.0,358.3L116.0,359.2L113.0,359.9L110.2,361.0L110.0,361.1L107.6,364.0L107.5,367.0L109.2,370.0L110.0,370.7L112.2,373.0L113.0,373.8L114.6,376.0L116.0,379.0L116.0,379.1L116.9,382.0L117.2,385.0L117.0,388.0L116.4,391.0L116.0,392.5L115.7,394.0L115.3,397.0L115.3,400.0L116.0,402.7L116.1,403.0L118.9,406.0L119.0,406.1L122.0,407.4L125.0,408.4L127.6,409.0L128.0,409.1L129.2,409.0L131.0,408.8L134.0,407.2L135.3,406.0L137.0,404.3L138.3,403.0L140.0,401.4L141.4,400.0L143.0,398.0L143.7,397.0L145.5,394.0L146.0,393.4L148.8,391.0L149.0,390.9L152.0,389.9L155.0,389.5L158.0,389.2L161.0,388.4L162.0,388.0L164.0,387.2L167.0,386.0L170.0,385.5L173.0,386.0L176.0,387.2L178.1,388.0L179.0,388.4L182.0,389.0L185.0,389.3L188.0,389.3L191.0,389.3L194.0,389.1L197.0,389.0L200.0,388.8L203.0,388.7L206.0,388.6L208.3,388.0L209.0,385.7L210.4,385.0L212.0,384.9L212.1,385.0L213.1,388.0L212.0,388.6L209.3,391.0L210.6,394.0L212.0,395.2L214.1,394.0L215.0,391.5L215.1,391.0L218.0,388.7L219.5,388.0L221.0,387.6L224.0,385.9L225.0,385.0L227.0,383.4L228.9,382.0L230.0,381.3L233.0,379.5L233.6,379.0L236.0,376.2L236.1,376.0L237.0,373.0L237.4,370.0L237.5,367.0L237.6,364.0L237.8,361.0L238.4,358.0L239.0,356.8L240.1,355.0L242.0,353.1L243.8,352.0L245.0,351.4L248.0,350.7L251.0,350.3L254.0,349.3L254.5,349.0L257.0,347.2L258.1,346.0L260.0,343.8L260.7,343.0L263.0,341.0L264.9,340.0L266.0,339.5L269.0,338.8L272.0,337.8L273.3,337.0L275.0,335.8L276.4,334.0L278.0,331.0L278.0,330.9L278.9,328.0L279.5,325.0L279.8,322.0L280.0,319.0L280.4,316.0L281.0,313.5L281.2,313.0L283.3,310.0L284.0,309.2L287.0,307.2L287.4,307.0L290.0,305.3L292.0,304.0L293.0,303.2L296.0,301.5L297.3,301.0L299.0,300.3L302.0,299.6L305.0,299.1L308.0,298.5L309.2,298.0L311.0,296.6L311.8,295.0L311.6,292.0L311.0,290.7L310.1,289.0L308.3,286.0L308.0,285.6L306.0,283.0L305.0,281.9L303.2,280.0L302.0,278.8L300.3,277.0L299.0,275.6L297.7,274.0L296.0,272.0L295.2,271.0L293.0,268.0L293.0,268.0L291.2,265.0L290.0,262.5L289.8,262.0L288.6,259.0L287.7,256.0L287.1,253.0L287.0,251.8L286.8,250.0L286.5,247.0L286.4,244.0L286.3,241.0L286.3,238.0L286.4,235.0L286.5,232.0L286.6,229.0L286.8,226.0L287.0,223.9L287.1,223.0L287.3,220.0L287.6,217.0L287.8,214.0L288.0,211.0L288.1,208.0L288.2,205.0L288.3,202.0L288.3,199.0L288.3,196.0L288.3,193.0L288.3,190.0L288.3,187.0L288.3,184.0L288.3,181.0L288.3,178.0L288.3,175.0L288.3,172.0L288.3,169.0L288.3,166.0L288.3,163.0L288.3,160.0L288.3,157.0L288.3,154.0L288.3,151.0L288.3,148.0L288.3,145.0L288.3,142.0L288.3,139.0L288.3,136.0L288.3,133.0ZM293.6,361.0L293.0,361.2L291.3,364.0L290.2,367.0L290.0,367.7L289.5,370.0L288.8,373.0L287.5,376.0L287.0,376.6L284.8,379.0L284.0,379.6L281.0,381.5L280.4,382.0L278.0,384.9L277.9,385.0L277.0,388.0L276.6,391.0L276.6,394.0L276.7,397.0L276.9,400.0L277.3,403.0L278.0,405.2L278.4,406.0L281.0,408.6L282.9,409.0L284.0,409.2L285.0,409.0L287.0,408.5L290.0,406.7L290.9,406.0L293.0,403.7L293.6,403.0L295.8,400.0L296.0,399.7L297.7,397.0L299.0,394.3L299.2,394.0L300.5,391.0L302.0,388.0L302.0,388.0L303.2,385.0L304.4,382.0L305.0,380.2L305.3,379.0L305.9,376.0L306.1,373.0L305.8,370.0L305.0,367.1L305.0,367.0L302.9,364.0L302.0,363.3L299.0,361.3L298.2,361.0L296.0,360.4ZM176.1,586.0L176.0,586.0L173.0,587.8L171.7,589.0L170.1,592.0L170.1,595.0L171.7,598.0L173.0,599.2L176.0,601.0L176.1,601.0L179.0,601.8L182.0,602.2L185.0,602.3L188.0,602.2L191.0,601.8L194.0,601.1L194.3,601.0L197.0,599.8L200.0,598.0L200.0,598.0L201.9,595.0L201.9,592.0L200.0,589.0L200.0,589.0L197.0,587.2L194.2,586.0L194.0,585.9L191.0,585.2L188.0,584.8L185.0,584.7L182.0,584.8L179.0,585.2ZM203.0,375.8L203.3,376.0L203.0,377.2L202.1,376.0Z"/>
<path fill="#f8913f" fill-rule="evenodd" d="M293.0,133.0L296.0,133.0L299.0,133.0L302.0,133.0L305.0,133.0L308.0,133.0L311.0,133.0L314.0,133.0L317.0,133.0L320.0,133.0L323.0,133.0L326.0,133.0L329.0,133.0L332.0,133.0L335.0,133.0L338.0,133.0L341.0,133.0L344.0,133.0L347.0,133.0L350.0,133.0L353.0,133.0L356.0,133.0L359.0,133.0L362.0,133.0L365.0,133.0L368.0,133.0L371.0,133.0L374.0,133.0L377.0,133.0L380.0,133.0L383.0,133.0L386.0,133.0L389.0,133.0L392.0,133.0L395.0,133.0L398.0,133.0L401.0,133.0L404.0,133.0L407.0,133.0L410.0,133.0L413.0,133.0L416.0,133.0L419.0,133.0L422.0,133.0L425.0,133.0L428.0,133.0L431.0,133.0L434.0,133.0L437.0,133.0L440.0,133.0L443.0,133.0L446.0,133.0L449.0,133.0L452.0,133.0L455.0,133.0L458.0,133.0L461.0,133.0L464.0,133.0L467.0,133.0L470.0,133.0L473.0,133.0L476.0,133.0L479.0,133.0L482.0,133.0L485.0,133.0L488.0,133.0L491.0,133.0L494.0,133.0L497.0,133.0L500.0,133.0L503.0,133.0L506.0,133.0L509.0,133.0L512.0,133.0L515.0,133.0L518.0,133.0L521.0,133.0L524.0,133.0L527.0,133.0L530.0,133.0L533.0,133.0L536.0,133.0L539.0,133.0L542.0,133.0L545.0,133.0L548.0,133.0L551.0,133.0L554.0,133.0L557.0,133.0L560.0,133.0L563.0,133.0L566.0,133.0L569.0,133.0L572.0,133.0L575.0,133.0L578.0,133.0L581.0,133.0L584.0,133.0L587.0,133.0L590.0,133.0L593.0,133.0L596.0,133.0L599.0,133.0L602.0,133.0L605.0,133.0L608.0,133.0L611.0,133.0L614.0,133.0L617.0,133.0L620.0,133.0L623.0,133.0L626.0,133.0L629.0,133.0L632.0,133.0L635.0,133.0L638.0,133.0L641.0,133.0L644.0,133.0L647.0,133.0L650.0,133.0L653.0,133.0L656.0,133.0L659.0,133.0L662.0,133.0L665.0,133.0L668.0,133.0L671.0,133.0L674.0,133.0L677.0,133.0L680.0,133.0L683.0,133.0L686.0,133.0L689.0,133.0L692.0,133.0L695.0,133.0L698.0,133.0L698.0,136.0L698.0,139.0L698.0,142.0L698.0,145.0L698.0,148.0L698.0,151.0L698.0,154.0L698.0,157.0L698.0,160.0L698.0,163.0L698.0,166.0L698.0,169.0L698.0,172.0L698.0,175.0L698.0,178.0L698.0,181.0L698.0,184.0L698.0,187.0L698.0,190.0L698.0,193.0L698.0,196.0L698.0,199.0L698.0,202.0L698.0,205.0L698.0,208.0L698.0,211.0L698.0,214.0L698.0,217.0L698.0,220.0L698.0,223.0L698.0,226.0L698.0,229.0L698.0,232.0L698.0,235.0L698.0,238.0L698.0,241.0L698.0,244.0L698.0,247.0L698.0,250.0L698.0,253.0L698.0,256.0L698.0,259.0L698.0,262.0L698.0,265.0L698.0,268.0L698.0,271.0L698.0,274.0L698.0,277.0L698.0,280.0L698.0,283.0L698.0,286.0L698.0,289.0L698.0,292.0L698.0,295.0L698.0,298.0L698.0,301.0L698.0,304.0L698.0,307.0L698.0,310.0L698.0,313.0L698.0,316.0L698.0,319.0L698.0,322.0L698.0,325.0L698.0,328.0L698.0,331.0L698.0,334.0L698.0,337.0L698.0,340.0L698.0,343.0L698.0,346.0L698.0,349.0L698.0,352.0L698.0,355.0L698.0,358.0L698.0,361.0L698.0,364.0L698.0,367.0L698.0,370.0L698.0,373.0L698.0,376.0L698.0,379.0L698.0,382.0L698.0,385.0L698.0,388.0L698.0,391.0L698.0,394.0L698.0,397.0L698.0,400.0L698.0,403.0L698.0,406.0L698.0,409.0L698.0,412.0L698.0,415.0L698.0,418.0L698.0,421.0L698.0,424.0L698.0,427.0L698.0,430.0L698.0,433.0L698.0,436.0L698.0,439.0L698.0,442.0L698.0,445.0L698.0,448.0L698.0,451.0L698.0,454.0L698.0,457.0L698.0,460.0L698.0,463.0L698.0,466.0L698.0,469.0L698.0,472.0L698.0,475.0L698.0,478.0L698.0,481.0L698.0,484.0L698.0,487.0L698.0,490.0L698.0,493.0L698.0,496.0L698.0,499.0L698.0,502.0L698.0,505.0L698.0,508.0L698.0,511.0L698.0,514.0L698.0,517.0L698.0,520.0L698.0,523.0L698.0,526.0L698.0,529.0L698.0,532.0L698.0,535.0L698.0,538.0L698.0,541.0L698.0,544.0L698.0,547.0L698.0,550.0L698.0,553.0L698.0,556.0L698.0,559.0L698.0,562.0L698.0,565.0L698.0,568.0L698.0,571.0L698.0,574.0L698.0,577.0L698.0,580.0L698.0,583.0L698.0,586.0L698.0,589.0L698.0,592.0L698.0,595.0L698.0,598.0L698.0,601.0L698.0,604.0L698.0,607.0L698.0,610.0L698.0,613.0L698.0,616.0L698.0,619.0L698.0,622.0L698.0,625.0L698.0,628.0L698.0,631.0L698.0,634.0L698.0,637.0L698.0,640.0L698.0,643.0L698.0,646.0L695.0,646.0L692.0,646.0L689.0,646.0L686.0,646.0L683.0,646.0L680.0,646.0L677.0,646.0L674.0,646.0L671.0,646.0L668.0,646.0L665.0,646.0L662.0,646.0L659.0,646.0L656.0,646.0L653.0,646.0L650.0,646.0L647.0,646.0L644.0,646.0L641.0,646.0L638.0,646.0L635.0,646.0L632.0,646.0L629.0,646.0L626.0,646.0L623.0,646.0L620.0,646.0L617.0,646.0L614.0,646.0L611.0,646.0L608.0,646.0L605.0,646.0L602.0,646.0L599.0,646.0L596.0,646.0L593.0,646.0L590.0,646.0L587.0,646.0L584.0,646.0L581.0,646.0L578.0,646.0L575.0,646.0L572.0,646.0L569.0,646.0L566.0,646.0L563.0,646.0L560.0,646.0L557.0,646.0L554.0,646.0L551.0,646.0L548.0,646.0L545.0,646.0L542.0,646.0L539.0,646.0L536.0,646.0L533.0,646.0L530.0,646.0L527.0,646.0L524.0,646.0L521.0,646.0L518.0,646.0L515.0,646.0L512.0,646.0L509.0,646.0L506.0,646.0L503.0,646.0L500.0,646.0L497.0,646.0L494.0,646.0L491.0,646.0L488.0,646.0L485.0,646.0L482.0,646.0L479.0,646.0L476.0,646.0L473.0,646.0L470.0,646.0L467.0,646.0L464.0,646.0L461.0,646.0L458.0,646.0L455.0,646.0L452.0,646.0L450.4,646.0L450.4,643.0L450.4,640.0L450.4,637.0L450.4,634.0L450.4,631.0L450.4,628.0L450.5,625.0L450.6,622.0L451.0,619.0L451.8,616.0L452.0,615.3L452.9,613.0L454.5,610.0L455.0,609.3L457.3,607.0L458.0,606.5L461.0,604.9L463.3,604.0L464.0,603.8L467.0,603.0L470.0,602.6L473.0,602.3L476.0,601.8L479.0,601.1L479.3,601.0L482.0,599.8L485.0,598.0L485.0,598.0L486.9,595.0L486.9,592.0L485.0,589.0L485.0,589.0L482.0,587.2L479.3,586.0L479.0,585.9L476.0,585.2L473.0,584.8L470.0,584.6L467.0,584.6L464.0,584.5L461.0,584.5L458.0,584.5L455.0,584.5L452.0,584.5L449.0,584.6L446.0,585.0L443.0,585.6L441.7,586.0L440.0,586.6L437.0,587.9L435.3,589.0L434.0,590.1L432.5,592.0L431.0,594.8L430.9,595.0L430.1,598.0L429.8,601.0L429.7,604.0L429.7,607.0L429.7,610.0L429.7,613.0L429.7,616.0L429.7,619.0L429.7,622.0L429.7,625.0L429.7,628.0L429.7,631.0L429.7,634.0L429.7,637.0L429.7,640.0L429.7,643.0L429.7,646.0L428.0,646.0L425.0,646.0L422.0,646.0L419.0,646.0L416.0,646.0L413.0,646.0L410.0,646.0L407.0,646.0L404.0,646.0L401.0,646.0L398.0,646.0L395.0,646.0L392.0,646.0L389.0,646.0L386.0,646.0L383.0,646.0L380.0,646.0L377.0,646.0L374.0,646.0L371.0,646.0L368.0,646.0L365.0,646.0L362.0,646.0L359.0,646.0L356.0,646.0L353.0,646.0L350.0,646.0L347.0,646.0L344.0,646.0L341.0,646.0L338.0,646.0L335.0,646.0L332.0,646.0L329.0,646.0L327.7,646.0L327.7,643.0L327.7,640.0L327.7,637.0L327.7,634.0L327.7,631.0L327.7,628.0L327.6,625.0L327.3,622.0L326.6,619.0L326.0,617.3L325.5,616.0L323.9,613.0L323.0,611.4L322.1,610.0L320.0,607.5L319.5,607.0L317.0,605.2L314.6,604.0L314.0,603.8L311.0,603.1L308.0,602.7L305.0,602.5L302.0,602.1L299.0,601.4L298.1,601.0L296.0,600.0L293.2,598.0L293.0,597.8L291.0,595.0L290.0,592.9L289.6,592.0L288.9,589.0L288.5,586.0L288.3,583.0L288.1,580.0L287.8,577.0L287.0,574.0L287.0,574.0L285.5,571.0L284.0,569.1L282.8,568.0L281.0,566.9L278.0,565.5L276.5,565.0L275.0,564.5L272.0,563.9L269.0,563.5L266.0,563.3L263.0,562.9L260.0,562.3L258.8,562.0L257.0,561.4L254.0,560.3L251.7,559.0L251.0,558.6L248.3,556.0L248.0,555.7L246.1,553.0L245.0,551.3L244.2,550.0L242.3,547.0L242.0,546.7L239.3,544.0L239.0,543.8L236.0,542.1L233.1,541.0L233.0,541.0L230.0,540.2L227.0,539.5L224.0,539.0L221.0,538.7L218.0,538.8L215.0,539.2L212.0,540.1L210.1,541.0L209.0,541.6L206.2,544.0L206.0,544.3L204.0,547.0L203.0,548.9L202.2,550.0L200.3,553.0L200.0,553.5L197.1,556.0L197.0,556.1L194.0,557.3L191.0,557.1L189.0,556.0L188.0,555.3L185.8,553.0L185.0,552.1L183.2,550.0L182.0,548.7L179.9,547.0L179.0,546.4L176.0,545.0L173.3,544.0L173.0,543.9L170.0,543.2L167.0,542.8L164.0,542.5L161.0,542.1L158.0,541.5L156.5,541.0L155.0,540.5L152.0,539.1L150.3,538.0L149.0,536.9L147.5,535.0L146.0,532.0L146.0,532.0L145.2,529.0L144.9,526.0L144.7,523.0L144.7,520.0L144.7,517.0L144.7,514.0L144.9,511.0L145.7,508.0L146.0,507.7L149.0,507.0L152.0,506.8L155.0,506.4L158.0,505.9L161.0,505.6L164.0,505.4L167.0,505.2L169.8,505.0L170.0,505.0L173.0,504.6L176.0,504.2L179.0,503.8L182.0,503.4L185.0,502.9L188.0,502.4L190.9,502.0L191.0,502.0L194.0,501.5L197.0,501.0L200.0,500.3L203.0,499.1L203.1,499.0L204.6,496.0L203.1,493.0L203.0,493.0L200.0,490.9L198.9,490.0L197.0,488.5L195.4,487.0L194.0,485.7L191.4,484.0L191.0,483.8L188.0,482.9L185.0,482.5L182.0,482.1L179.0,481.1L178.8,481.0L176.0,478.6L175.5,478.0L173.5,475.0L173.0,474.4L170.1,472.0L170.0,471.9L167.0,471.1L164.0,471.1L161.0,472.0L161.0,472.0L158.0,474.9L158.0,475.0L156.9,478.0L156.5,481.0L156.1,484.0L155.1,487.0L155.0,487.2L152.7,490.0L152.0,490.5L149.0,492.6L148.4,493.0L146.0,495.6L145.7,496.0L144.4,499.0L143.8,502.0L143.0,504.2L140.0,503.8L138.5,502.0L137.0,499.7L136.8,499.0L136.2,496.0L135.8,493.0L135.2,490.0L134.1,487.0L134.0,486.8L131.1,484.0L131.0,484.0L128.0,483.0L125.0,482.7L122.0,482.9L119.0,483.8L118.6,484.0L116.0,485.7L114.7,487.0L113.0,488.7L111.7,490.0L110.0,491.6L108.7,493.0L107.0,495.2L106.5,496.0L104.9,499.0L104.0,500.4L102.6,502.0L101.0,503.2L98.0,504.4L95.0,504.9L93.1,505.0L92.0,505.1L89.0,505.2L86.0,505.3L83.0,505.3L80.0,505.3L80.0,505.0L80.0,502.0L80.0,499.0L80.0,496.0L80.0,493.0L80.0,490.0L80.0,487.0L80.0,484.0L80.0,481.0L80.0,478.0L80.0,475.0L80.0,472.0L80.0,470.5L83.0,470.5L86.0,470.5L89.0,470.5L92.0,470.5L95.0,470.4L98.0,470.1L101.0,469.2L101.4,469.0L104.0,467.2L105.3,466.0L107.0,464.1L108.0,463.0L110.0,460.4L110.3,460.0L111.0,457.0L110.0,455.4L108.5,454.0L107.0,453.4L104.0,452.9L101.0,452.6L98.0,452.5L95.0,452.5L92.0,452.5L89.0,452.5L86.0,452.5L83.0,452.5L80.0,452.5L80.0,451.0L80.0,448.0L80.0,445.0L80.0,442.0L80.0,439.0L80.0,436.0L80.0,433.0L80.0,430.0L80.0,427.0L80.0,424.0L80.0,421.0L80.0,418.0L80.0,415.0L80.0,412.0L80.0,409.0L80.0,406.0L80.0,403.0L80.0,400.0L80.0,397.0L80.0,394.0L80.0,391.0L80.0,388.0L80.0,385.0L80.0,382.0L80.0,379.0L80.0,376.0L80.0,373.0L80.0,371.5L83.0,371.6L86.0,371.9L89.0,372.8L89.4,373.0L92.0,374.7L93.5,376.0L95.0,377.3L97.5,379.0L98.0,379.3L101.0,380.3L104.0,381.2L105.9,382.0L107.0,382.9L108.2,385.0L108.1,388.0L107.1,391.0L107.0,391.3L106.0,394.0L105.5,397.0L105.4,400.0L105.9,403.0L107.0,405.7L107.1,406.0L109.5,409.0L110.0,409.5L113.0,411.8L113.5,412.0L116.0,413.4L119.0,414.8L119.3,415.0L122.0,417.8L122.2,418.0L123.3,421.0L123.9,424.0L124.9,427.0L125.0,427.1L127.9,430.0L128.0,430.0L131.0,431.0L134.0,431.4L137.0,431.5L140.0,431.6L143.0,431.7L146.0,431.9L149.0,432.1L152.0,432.2L155.0,432.3L157.2,430.0L158.0,428.3L158.3,427.0L160.2,424.0L161.0,423.0L162.7,421.0L164.0,419.2L164.8,418.0L166.4,415.0L167.0,414.1L168.7,412.0L170.0,410.7L171.7,409.0L173.0,407.7L174.7,406.0L176.0,404.7L178.7,403.0L179.0,402.8L182.0,402.0L185.0,401.7L188.0,401.7L191.0,401.7L194.0,401.9L197.0,402.2L199.8,403.0L200.0,403.1L202.8,406.0L202.1,409.0L200.0,411.1L199.3,412.0L197.6,415.0L197.7,418.0L200.0,420.8L200.4,421.0L203.0,421.9L206.0,422.3L209.0,422.4L212.0,422.4L215.0,422.4L218.0,422.1L221.0,421.5L222.8,421.0L224.0,420.7L227.0,419.9L230.0,419.4L233.0,419.1L236.0,419.1L239.0,419.1L242.0,419.4L245.0,419.9L248.0,420.6L249.6,421.0L251.0,421.4L254.0,421.8L257.0,421.9L259.4,424.0L260.0,425.3L260.4,427.0L262.2,430.0L263.0,430.9L265.0,433.0L266.0,434.0L268.4,436.0L269.0,436.5L272.0,437.4L275.0,436.6L275.8,436.0L278.0,434.5L280.3,433.0L281.0,432.6L284.0,431.6L287.0,430.7L288.8,430.0L290.0,429.5L293.0,427.7L293.9,427.0L296.0,425.3L297.6,424.0L299.0,422.8L301.2,421.0L302.0,420.3L304.4,418.0L305.0,417.3L306.8,415.0L308.0,413.4L308.9,412.0L310.6,409.0L311.0,408.1L312.1,406.0L313.3,403.0L314.0,400.7L314.3,400.0L315.3,397.0L316.1,394.0L317.0,391.2L317.1,391.0L318.6,388.0L319.8,385.0L320.0,384.4L320.9,382.0L321.6,379.0L322.0,376.0L322.2,373.0L322.2,370.0L322.3,367.0L322.3,364.0L322.2,361.0L322.0,358.0L321.7,355.0L321.2,352.0L320.5,349.0L320.0,347.1L319.6,346.0L317.9,343.0L317.0,341.8L314.5,340.0L314.0,339.7L311.0,338.8L308.0,338.4L305.0,338.0L302.0,337.2L301.5,337.0L299.0,335.6L297.0,334.0L296.0,332.3L295.4,331.0L295.4,328.0L296.0,326.7L297.0,325.0L299.0,323.4L301.5,322.0L302.0,321.8L305.0,321.0L308.0,320.6L311.0,320.0L313.2,319.0L314.0,318.6L316.4,316.0L317.0,315.2L318.0,313.0L319.3,310.0L320.0,308.4L320.4,307.0L321.4,304.0L322.2,301.0L322.7,298.0L322.9,295.0L322.4,292.0L321.5,289.0L320.3,286.0L320.0,285.5L318.3,283.0L317.0,281.7L315.3,280.0L314.0,278.8L312.1,277.0L311.0,275.9L309.2,274.0L308.0,272.5L306.7,271.0L305.0,269.0L304.0,268.0L302.0,265.7L301.4,265.0L299.0,262.3L298.7,262.0L296.1,259.0L296.0,258.8L293.9,256.0L293.0,254.4L292.4,253.0L291.4,250.0L290.8,247.0L290.5,244.0L290.3,241.0L290.2,238.0L290.2,235.0L290.3,232.0L290.4,229.0L290.5,226.0L290.7,223.0L290.8,220.0L291.0,217.0L291.2,214.0L291.4,211.0L291.5,208.0L291.5,205.0L291.6,202.0L291.6,199.0L291.6,196.0L291.6,193.0L291.6,190.0L291.6,187.0L291.6,184.0L291.6,181.0L291.6,178.0L291.6,175.0L291.6,172.0L291.6,169.0L291.6,166.0L291.6,163.0L291.6,160.0L291.6,157.0L291.6,154.0L291.6,151.0L291.6,148.0L291.6,145.0L291.6,142.0L291.6,139.0L291.6,136.0L291.6,133.0ZM329.6,391.0L329.0,391.9L328.1,394.0L327.6,397.0L327.5,400.0L327.6,403.0L328.1,406.0L328.9,409.0L329.0,409.3L330.2,412.0L332.0,415.0L332.0,415.0L335.0,417.0L338.0,417.6L341.0,416.8L343.2,415.0L344.0,413.7L344.6,412.0L345.0,409.0L344.9,406.0L344.4,403.0L344.0,401.4L343.6,400.0L342.6,397.0L341.4,394.0L341.0,393.4L338.7,391.0L338.0,390.5L335.0,389.3L332.0,389.5ZM149.8,442.0L149.0,442.4L147.2,445.0L147.3,448.0L149.0,449.7L152.0,449.8L154.2,448.0L155.0,446.1L155.4,445.0L155.1,442.0L155.0,441.7L152.0,441.1ZM242.3,472.0L242.0,472.2L239.7,475.0L239.5,478.0L240.9,481.0L242.0,482.3L243.4,484.0L245.0,486.5L245.2,487.0L246.1,490.0L246.5,493.0L246.8,496.0L247.6,499.0L248.0,499.9L249.5,502.0L251.0,503.3L254.0,504.7L254.8,505.0L257.0,505.8L260.0,507.0L261.9,508.0L263.0,509.0L264.8,511.0L266.0,513.4L266.2,514.0L267.0,517.0L267.3,520.0L267.5,523.0L267.7,526.0L268.0,529.0L268.7,532.0L269.0,532.7L270.0,535.0L272.0,537.8L272.2,538.0L275.0,540.1L277.0,541.0L278.0,541.4L281.0,542.2L284.0,542.5L287.0,542.7L290.0,542.9L293.0,543.3L296.0,543.9L296.3,544.0L299.0,545.0L302.0,546.4L302.9,547.0L305.0,548.7L306.1,550.0L308.0,552.2L308.6,553.0L311.0,555.6L311.4,556.0L314.0,557.7L317.0,558.2L320.0,557.4L322.2,556.0L323.0,555.3L324.8,553.0L326.0,550.8L326.3,550.0L327.1,547.0L327.4,544.0L327.6,541.0L327.6,538.0L327.6,535.0L327.7,532.0L327.7,529.0L327.7,526.0L327.7,523.0L327.7,520.0L327.7,517.0L327.7,514.0L327.7,511.0L327.7,508.0L327.6,505.0L327.6,502.0L327.4,499.0L327.1,496.0L326.3,493.0L326.0,492.1L325.0,490.0L323.0,487.2L322.8,487.0L320.0,485.0L317.9,484.0L317.0,483.6L314.0,482.9L311.0,482.5L308.0,482.4L305.0,482.3L302.0,482.3L299.0,482.1L296.0,481.5L295.0,481.0L293.0,479.8L291.5,478.0L290.0,476.2L289.1,475.0L287.0,473.1L285.1,472.0L284.0,471.5L281.0,470.8L278.0,470.6L275.0,470.5L272.0,470.5L269.0,470.5L266.0,470.5L263.0,470.5L260.0,470.5L257.0,470.5L254.0,470.5L251.0,470.5L248.0,470.7L245.0,471.1ZM395.0,550.0L393.2,553.0L392.0,555.7L391.9,556.0L391.2,559.0L390.8,562.0L390.6,565.0L390.6,568.0L390.6,571.0L390.6,574.0L390.6,577.0L390.6,580.0L390.6,583.0L390.8,586.0L391.2,589.0L392.0,591.9L392.0,592.0L393.8,595.0L395.0,596.4L397.8,598.0L398.0,598.1L401.0,598.5L404.0,598.1L404.2,598.0L407.0,596.4L408.3,595.0L410.0,592.0L410.0,592.0L410.8,589.0L411.2,586.0L411.3,583.0L411.3,580.0L411.3,577.0L411.3,574.0L411.3,571.0L411.3,568.0L411.2,565.0L411.1,562.0L410.7,559.0L410.0,556.0L410.0,556.0L408.7,553.0L407.0,550.0L407.0,550.0L404.0,547.9L401.0,547.3L398.0,547.9L395.0,550.0ZM564.7,565.0L563.0,565.5L560.0,566.7L557.6,568.0L557.0,568.4L554.0,571.0L554.0,571.0L551.4,574.0L551.0,574.6L548.7,577.0L548.0,577.8L545.0,579.4L542.0,579.9L539.0,579.4L536.0,577.8L535.2,577.0L533.0,574.7L532.5,574.0L530.0,571.2L529.8,571.0L527.0,568.9L524.5,568.0L524.0,567.8L521.0,568.0L520.9,568.0L518.0,569.5L516.7,571.0L515.0,573.9L514.9,574.0L514.1,577.0L513.7,580.0L513.5,583.0L513.6,586.0L513.9,589.0L514.7,592.0L515.0,592.8L516.0,595.0L518.0,597.7L518.3,598.0L521.0,600.0L523.3,601.0L524.0,601.3L527.0,602.0L530.0,602.4L533.0,602.5L536.0,602.5L539.0,602.5L542.0,602.5L545.0,602.5L548.0,602.5L551.0,602.5L554.0,602.6L557.0,602.6L560.0,602.6L563.0,602.6L566.0,602.7L569.0,602.7L572.0,602.6L575.0,602.5L578.0,602.1L581.0,601.5L582.5,601.0L584.0,600.5L587.0,599.1L588.7,598.0L590.0,596.9L591.5,595.0L593.0,592.0L593.0,592.0L593.7,589.0L594.1,586.0L594.2,583.0L593.9,580.0L593.2,577.0L593.0,576.4L591.8,574.0L590.0,571.5L589.5,571.0L587.0,569.0L585.6,568.0L584.0,567.1L581.0,565.6L579.4,565.0L578.0,564.5L575.0,563.9L572.0,563.8L569.0,564.0L566.0,564.6ZM83.0,282.2L86.0,282.5L87.7,283.0L89.0,283.6L92.0,285.5L92.6,286.0L95.0,288.4L95.6,289.0L98.0,291.8L98.1,292.0L98.7,295.0L98.0,296.6L96.6,298.0L95.0,298.7L92.0,299.2L89.0,299.4L86.0,299.5L83.0,299.5L80.0,299.5L80.0,298.0L80.0,295.0L80.0,292.0L80.0,289.0L80.0,286.0L80.0,283.0L80.0,282.1ZM263.0,405.8L263.4,406.0L266.0,409.0L266.0,409.1L266.4,412.0L266.2,415.0L266.0,415.7L264.7,418.0L263.0,419.9L260.0,420.6L259.4,418.0L259.3,415.0L259.4,412.0L259.8,409.0L260.0,408.5L262.5,406.0Z"/>
<path fill="#fbb742" fill-rule="evenodd" d="M296.0,133.0L299.0,133.0L302.0,133.0L305.0,133.0L308.0,133.0L311.0,133.0L314.0,133.0L317.0,133.0L320.0,133.0L323.0,133.0L326.0,133.0L329.0,133.0L332.0,133.0L335.0,133.0L338.0,133.0L341.0,133.0L344.0,133.0L347.0,133.0L350.0,133.0L353.0,133.0L356.0,133.0L359.0,133.0L362.0,133.0L365.0,133.0L368.0,133.0L371.0,133.0L374.0,133.0L377.0,133.0L380.0,133.0L383.0,133.0L386.0,133.0L389.0,133.0L392.0,133.0L395.0,133.0L398.0,133.0L401.0,133.0L404.0,133.0L407.0,133.0L410.0,133.0L413.0,133.0L416.0,133.0L419.0,133.0L422.0,133.0L425.0,133.0L428.0,133.0L431.0,133.0L434.0,133.0L437.0,133.0L440.0,133.0L443.0,133.0L446.0,133.0L449.0,133.0L452.0,133.0L455.0,133.0L458.0,133.0L461.0,133.0L464.0,133.0L467.0,133.0L470.0,133.0L473.0,133.0L476.0,133.0L479.0,133.0L482.0,133.0L485.0,133.0L488.0,133.0L491.0,133.0L494.0,133.0L497.0,133.0L500.0,133.0L503.0,133.0L506.0,133.0L509.0,133.0L512.0,133.0L515.0,133.0L518.0,133.0L521.0,133.0L524.0,133.0L527.0,133.0L530.0,133.0L533.0,133.0L536.0,133.0L539.0,133.0L542.0,133.0L545.0,133.0L548.0,133.0L551.0,133.0L554.0,133.0L557.0,133.0L560.0,133.0L563.0,133.0L566.0,133.0L569.0,133.0L572.0,133.0L575.0,133.0L578.0,133.0L581.0,133.0L584.0,133.0L587.0,133.0L590.0,133.0L593.0,133.0L596.0,133.0L599.0,133.0L602.0,133.0L605.0,133.0L608.0,133.0L611.0,133.0L614.0,133.0L617.0,133.0L620.0,133.0L623.0,133.0L626.0,133.0L629.0,133.0L632.0,133.0L635.0,133.0L638.0,133.0L641.0,133.0L644.0,133.0L647.0,133.0L650.0,133.0L653.0,133.0L656.0,133.0L659.0,133.0L662.0,133.0L665.0,133.0L668.0,133.0L671.0,133.0L674.0,133.0L677.0,133.0L680.0,133.0L683.0,133.0L686.0,133.0L689.0,133.0L692.0,133.0L695.0,133.0L698.0,133.0L698.0,136.0L698.0,139.0L698.0,142.0L698.0,145.0L698.0,148.0L698.0,151.0L698.0,154.0L698.0,157.0L698.0,160.0L698.0,163.0L698.0,166.0L698.0,169.0L698.0,172.0L698.0,175.0L698.0,178.0L698.0,181.0L698.0,184.0L698.0,187.0L698.0,190.0L698.0,193.0L698.0,196.0L698.0,199.0L698.0,202.0L698.0,205.0L698.0,208.0L698.0,211.0L698.0,214.0L698.0,217.0L698.0,220.0L698.0,223.0L698.0,226.0L698.0,229.0L698.0,232.0L698.0,235.0L698.0,238.0L698.0,241.0L698.0,244.0L698.0,247.0L698.0,250.0L698.0,253.0L698.0,256.0L698.0,259.0L698.0,262.0L698.0,265.0L698.0,268.0L698.0,271.0L698.0,274.0L698.0,277.0L698.0,280.0L698.0,283.0L698.0,286.0L698.0,289.0L698.0,292.0L698.0,295.0L698.0,298.0L698.0,301.0L698.0,304.0L698.0,307.0L698.0,310.0L698.0,313.0L698.0,316.0L698.0,319.0L698.0,322.0L698.0,325.0L698.0,328.0L698.0,331.0L698.0,334.0L698.0,337.0L698.0,340.0L698.0,343.0L698.0,346.0L698.0,349.0L698.0,352.0L698.0,355.0L698.0,358.0L698.0,361.0L698.0,364.0L698.0,367.0L698.0,370.0L698.0,373.0L698.0,376.0L698.0,379.0L698.0,382.0L698.0,385.0L698.0,388.0L698.0,391.0L698.0,394.0L698.0,397.0L698.0,400.0L698.0,403.0L698.0,406.0L698.0,409.0L698.0,412.0L698.0,415.0L698.0,418.0L698.0,421.0L698.0,424.0L698.0,427.0L698.0,430.0L698.0,433.0L698.0,436.0L698.0,439.0L698.0,442.0L698.0,445.0L698.0,448.0L698.0,451.0L698.0,454.0L698.0,457.0L698.0,460.0L698.0,463.0L698.0,466.0L698.0,469.0L698.0,472.0L698.0,475.0L698.0,478.0L698.0,481.0L698.0,484.0L698.0,487.0L698.0,490.0L698.0,493.0L698.0,496.0L698.0,499.0L698.0,502.0L698.0,503.4L695.0,503.4L692.0,503.6L689.0,503.9L686.0,504.6L685.0,505.0L683.0,505.8L680.0,507.7L679.7,508.0L677.0,510.7L676.7,511.0L674.3,514.0L674.0,514.3L671.3,517.0L671.0,517.3L668.0,519.2L666.0,520.0L665.0,520.4L662.0,521.1L659.0,521.5L656.0,521.7L653.0,522.1L650.0,522.7L649.3,523.0L647.0,524.0L644.0,525.7L643.5,526.0L641.0,527.9L639.7,529.0L638.0,530.6L636.7,532.0L635.0,533.7L633.8,535.0L632.0,536.8L630.6,538.0L629.0,539.4L626.9,541.0L626.0,541.7L623.1,544.0L623.0,544.1L620.2,547.0L620.0,547.3L618.1,550.0L617.0,551.7L616.1,553.0L614.0,555.7L613.6,556.0L611.0,558.0L608.0,559.0L605.0,558.7L602.0,557.6L599.8,556.0L599.0,555.3L597.2,553.0L596.0,550.8L595.7,550.0L594.9,547.0L594.5,544.0L594.2,541.0L593.8,538.0L593.1,535.0L593.0,534.6L592.0,532.0L590.6,529.0L590.0,528.1L588.2,526.0L587.0,524.9L584.6,523.0L584.0,522.6L581.0,520.3L580.6,520.0L578.0,517.7L577.2,517.0L575.0,514.6L574.5,514.0L572.0,511.2L571.8,511.0L569.0,508.8L567.0,508.0L566.0,507.6L563.0,507.4L560.0,507.8L559.7,508.0L557.0,509.6L555.8,511.0L554.2,514.0L554.0,514.5L553.4,517.0L552.9,520.0L552.7,523.0L552.4,526.0L552.0,529.0L551.1,532.0L551.0,532.3L549.5,535.0L548.0,536.7L545.8,538.0L545.0,538.4L542.0,538.9L539.0,538.7L536.7,538.0L536.0,537.8L533.0,536.0L531.7,535.0L530.0,533.8L527.5,532.0L527.0,531.7L524.0,530.0L522.0,529.0L521.0,528.6L518.0,527.5L515.0,526.4L513.7,526.0L512.0,525.5L509.0,524.9L506.0,524.6L503.0,524.7L500.0,525.5L499.0,526.0L497.0,527.4L495.6,529.0L494.0,531.0L493.2,532.0L491.0,534.7L490.7,535.0L488.0,537.2L486.1,538.0L485.0,538.4L482.0,538.7L479.0,538.2L478.5,538.0L476.0,536.5L474.7,535.0L473.0,532.0L473.0,531.9L472.3,529.0L471.8,526.0L471.6,523.0L471.4,520.0L471.0,517.0L470.3,514.0L470.0,513.2L469.0,511.0L467.0,508.2L466.8,508.0L464.0,506.0L461.9,505.0L461.0,504.6L458.0,503.9L455.0,503.5L452.0,503.3L449.0,503.1L446.0,502.8L443.0,502.1L442.7,502.0L440.0,501.0L437.0,499.5L436.3,499.0L434.0,496.7L433.5,496.0L432.0,493.0L431.0,490.3L430.9,490.0L430.2,487.0L429.9,484.0L429.7,481.0L429.7,478.0L429.7,475.0L429.7,472.0L429.7,469.0L429.7,466.0L429.6,463.0L429.5,460.0L429.1,457.0L428.5,454.0L428.0,452.3L427.6,451.0L426.4,448.0L425.0,445.6L424.6,445.0L422.0,442.1L421.9,442.0L419.0,439.8L418.1,439.0L416.0,437.5L414.3,436.0L413.0,434.9L411.0,433.0L410.0,432.1L407.6,430.0L407.0,429.5L404.0,427.6L403.0,427.0L401.0,425.9L398.0,424.5L396.7,424.0L395.0,423.4L392.0,422.7L389.0,422.4L386.0,422.2L383.0,421.8L380.0,421.0L379.9,421.0L377.0,419.6L374.9,418.0L374.0,417.1L372.4,415.0L371.0,412.9L370.5,412.0L368.6,409.0L368.0,408.2L366.6,406.0L365.0,403.8L364.4,403.0L362.3,400.0L362.0,399.4L360.7,397.0L359.6,394.0L359.0,391.0L359.0,391.0L358.8,388.0L359.0,387.0L359.5,385.0L362.0,382.3L362.5,382.0L365.0,381.1L368.0,380.4L371.0,379.8L373.0,379.0L374.0,378.5L377.0,376.0L377.0,376.0L378.6,373.0L379.3,370.0L379.2,367.0L377.9,364.0L377.0,363.0L374.2,361.0L374.0,360.9L371.0,360.2L368.0,360.1L365.0,360.4L362.1,361.0L362.0,361.0L359.0,362.2L356.0,363.7L355.5,364.0L353.0,366.3L352.3,367.0L350.0,369.5L349.4,370.0L347.0,371.4L344.0,371.7L341.0,370.8L339.8,370.0L338.0,368.4L337.0,367.0L335.8,364.0L335.2,361.0L335.1,358.0L335.2,355.0L335.6,352.0L336.1,349.0L336.7,346.0L337.5,343.0L338.0,341.7L338.5,340.0L339.4,337.0L339.7,334.0L339.2,331.0L338.0,328.1L337.9,328.0L335.6,325.0L335.0,324.4L332.8,322.0L332.0,321.0L330.8,319.0L329.6,316.0L329.0,313.0L329.0,312.5L328.8,310.0L328.8,307.0L328.9,304.0L329.0,302.6L329.1,301.0L329.4,298.0L329.4,295.0L329.1,292.0L329.0,291.5L328.5,289.0L327.8,286.0L326.5,283.0L326.0,282.3L324.3,280.0L323.0,278.7L321.1,277.0L320.0,276.1L317.5,274.0L317.0,273.5L314.5,271.0L314.0,270.4L312.2,268.0L311.0,266.1L310.3,265.0L308.4,262.0L308.0,261.5L305.6,259.0L305.0,258.5L302.0,256.3L301.7,256.0L299.0,253.6L298.5,253.0L296.6,250.0L296.0,248.6L295.4,247.0L294.8,244.0L294.5,241.0L294.3,238.0L294.3,235.0L294.3,232.0L294.4,229.0L294.5,226.0L294.6,223.0L294.8,220.0L294.9,217.0L295.0,214.0L295.1,211.0L295.2,208.0L295.2,205.0L295.3,202.0L295.3,199.0L295.3,196.0L295.3,193.0L295.3,190.0L295.3,187.0L295.3,184.0L295.3,181.0L295.3,178.0L295.3,175.0L295.3,172.0L295.3,169.0L295.3,166.0L295.3,163.0L295.3,160.0L295.3,157.0L295.3,154.0L295.3,151.0L295.3,148.0L295.3,145.0L295.3,142.0L295.3,139.0L295.3,136.0L295.3,133.0ZM383.6,301.0L383.0,301.2L380.0,303.6L379.6,304.0L377.8,307.0L377.0,308.9L376.7,310.0L376.1,313.0L375.8,316.0L375.8,319.0L376.1,322.0L376.5,325.0L377.0,327.2L377.3,328.0L379.1,331.0L380.0,332.0L383.0,333.3L386.0,332.8L388.6,331.0L389.0,330.7L391.4,328.0L392.0,327.4L394.2,325.0L395.0,324.2L397.5,322.0L398.0,321.6L401.0,319.3L401.4,319.0L404.0,316.6L404.7,316.0L406.4,313.0L406.8,310.0L406.2,307.0L404.1,304.0L404.0,303.9L401.0,302.2L398.3,301.0L398.0,300.9L395.0,300.2L392.0,299.9L389.0,299.8L386.0,300.2ZM518.3,406.0L518.0,406.2L515.0,408.8L514.9,409.0L512.5,412.0L512.0,412.7L510.2,415.0L509.0,416.5L507.5,418.0L506.0,419.2L503.7,421.0L503.0,421.4L500.0,423.8L499.7,424.0L497.0,426.7L496.7,427.0L494.8,430.0L494.0,432.0L493.6,433.0L492.9,436.0L492.5,439.0L492.3,442.0L492.1,445.0L491.8,448.0L491.0,451.0L491.0,451.0L489.6,454.0L488.0,456.1L487.1,457.0L485.0,458.7L483.2,460.0L482.0,460.9L479.3,463.0L479.0,463.4L476.9,466.0L476.0,468.1L475.7,469.0L475.4,472.0L475.9,475.0L476.0,475.3L477.6,478.0L479.0,479.2L482.0,480.9L482.3,481.0L485.0,481.7L488.0,482.1L491.0,482.2L494.0,482.3L497.0,482.3L500.0,482.3L503.0,482.3L506.0,482.3L509.0,482.2L512.0,482.2L515.0,482.0L518.0,481.6L520.7,481.0L521.0,480.9L524.0,479.4L525.9,478.0L527.0,476.7L528.1,475.0L529.5,472.0L530.0,470.5L530.5,469.0L531.1,466.0L531.5,463.0L531.8,460.0L532.2,457.0L532.9,454.0L533.0,453.6L534.0,451.0L535.4,448.0L536.0,447.1L537.8,445.0L539.0,443.9L541.4,442.0L542.0,441.6L545.0,439.2L545.2,439.0L547.8,436.0L548.0,435.7L549.2,433.0L549.6,430.0L549.5,427.0L549.1,424.0L548.4,421.0L548.0,419.2L547.7,418.0L546.6,415.0L545.0,412.2L544.9,412.0L542.0,409.1L541.8,409.0L539.0,407.4L536.0,406.3L534.8,406.0L533.0,405.6L530.0,404.9L527.0,404.5L524.0,404.4L521.0,404.8ZM83.0,389.8L86.0,390.2L88.4,391.0L89.0,391.4L91.1,394.0L91.2,397.0L89.1,400.0L89.0,400.1L86.0,401.5L83.0,401.9L80.0,402.0L80.0,400.0L80.0,397.0L80.0,394.0L80.0,391.0L80.0,389.7ZM83.0,410.0L86.0,410.0L89.0,410.1L92.0,410.3L95.0,410.7L98.0,411.5L98.9,412.0L101.0,413.6L102.2,415.0L102.8,418.0L101.0,420.6L100.4,421.0L98.0,421.8L95.0,422.2L92.0,422.3L89.0,422.3L86.0,422.4L83.0,422.4L80.0,422.4L80.0,421.0L80.0,418.0L80.0,415.0L80.0,412.0L80.0,409.9ZM233.0,426.4L236.0,426.2L239.0,426.5L241.2,427.0L242.0,427.4L244.9,430.0L245.0,430.2L245.7,433.0L245.1,436.0L245.0,436.3L243.3,439.0L242.0,440.4L240.5,442.0L239.0,443.9L238.2,445.0L236.2,448.0L236.0,448.3L233.0,450.3L230.0,450.2L227.3,448.0L227.0,447.5L226.1,445.0L225.7,442.0L225.6,439.0L225.6,436.0L225.9,433.0L226.9,430.0L227.0,429.9L230.0,427.3L230.7,427.0ZM353.0,448.0L356.0,445.9L359.0,445.3L362.0,445.9L365.0,448.0L365.0,448.0L366.7,451.0L368.0,454.0L368.0,454.0L368.7,457.0L369.1,460.0L369.2,463.0L369.2,466.0L369.2,469.0L369.3,472.0L369.2,475.0L369.2,478.0L369.2,481.0L369.1,484.0L368.7,487.0L368.0,490.0L368.0,490.0L366.7,493.0L365.0,496.0L365.0,496.0L362.0,498.1L359.0,498.7L356.0,498.1L353.0,496.0L353.0,496.0L351.4,493.0L350.1,490.0L350.0,489.6L349.4,487.0L349.1,484.0L348.9,481.0L348.8,478.0L348.8,475.0L348.8,472.0L348.8,469.0L348.8,466.0L348.8,463.0L349.0,460.0L349.3,457.0L350.0,454.0L350.0,454.0L351.3,451.0L353.0,448.0ZM215.0,507.9L215.3,508.0L218.0,509.1L220.0,511.0L220.6,514.0L219.2,517.0L218.0,518.0L215.0,519.8L214.4,520.0L212.0,520.6L209.0,521.0L206.0,521.1L203.0,520.9L200.0,520.5L198.5,520.0L197.0,519.2L194.7,517.0L195.4,514.0L197.0,512.9L200.0,511.4L200.8,511.0L203.0,510.5L206.0,509.8L209.0,508.9L212.0,508.0L212.7,508.0ZM335.0,570.0L338.0,569.1L341.0,568.9L344.0,570.0L345.0,571.0L346.9,574.0L347.0,574.2L347.8,577.0L348.2,580.0L348.3,583.0L348.2,586.0L347.8,589.0L347.0,591.8L346.9,592.0L345.0,595.0L344.0,596.0L341.0,597.1L338.0,597.0L335.0,596.0L333.4,595.0L332.0,593.9L330.5,592.0L329.0,589.3L328.9,589.0L328.2,586.0L328.0,583.0L328.2,580.0L328.9,577.0L329.0,576.7L330.5,574.0L332.0,572.1L333.4,571.0ZM662.0,591.6L665.0,590.6L668.0,591.6L668.4,592.0L668.4,595.0L668.0,595.4L665.0,596.4L662.0,595.4L661.6,595.0L661.6,592.0Z"/>
<path fill="#e7f65a" fill-rule="evenodd" d="M302.0,133.0L305.0,133.0L308.0,133.0L311.0,133.0L314.0,133.0L317.0,133.0L320.0,133.0L323.0,133.0L326.0,133.0L329.0,133.0L332.0,133.0L335.0,133.0L338.0,133.0L341.0,133.0L344.0,133.0L347.0,133.0L350.0,133.0L353.0,133.0L356.0,133.0L359.0,133.0L362.0,133.0L365.0,133.0L368.0,133.0L371.0,133.0L374.0,133.0L377.0,133.0L380.0,133.0L383.0,133.0L386.0,133.0L389.0,133.0L392.0,133.0L395.0,133.0L398.0,133.0L401.0,133.0L404.0,133.0L407.0,133.0L410.0,133.0L413.0,133.0L416.0,133.0L419.0,133.0L422.0,133.0L425.0,133.0L428.0,133.0L431.0,133.0L434.0,133.0L437.0,133.0L440.0,133.0L443.0,133.0L446.0,133.0L449.0,133.0L452.0,133.0L455.0,133.0L458.0,133.0L461.0,133.0L464.0,133.0L467.0,133.0L470.0,133.0L473.0,133.0L476.0,133.0L479.0,133.0L482.0,133.0L485.0,133.0L488.0,133.0L491.0,133.0L492.6,133.0L492.5,136.0L492.4,139.0L492.0,142.0L491.2,145.0L491.0,145.7L490.1,148.0L488.5,151.0L488.0,151.7L485.7,154.0L485.0,154.5L482.0,156.0L479.3,157.0L479.0,157.1L476.0,157.8L473.0,158.2L470.0,158.5L467.0,158.8L464.0,159.5L462.3,160.0L461.0,160.4L458.0,161.6L455.5,163.0L455.0,163.3L452.0,166.0L452.0,166.0L449.4,169.0L449.0,169.5L446.7,172.0L446.0,172.7L443.4,175.0L443.0,175.3L440.0,177.6L439.4,178.0L437.0,179.8L435.5,181.0L434.0,182.5L432.8,184.0L431.0,186.4L430.6,187.0L428.3,190.0L428.0,190.4L425.7,193.0L425.0,193.7L422.5,196.0L422.0,196.4L419.0,199.0L419.0,199.0L416.2,202.0L416.0,202.2L414.1,205.0L413.0,206.7L412.2,208.0L410.0,210.9L409.9,211.0L407.0,213.8L406.7,214.0L404.0,215.8L402.1,217.0L401.0,217.7L398.0,219.8L397.7,220.0L395.0,222.3L394.3,223.0L392.0,225.6L391.7,226.0L389.4,229.0L389.0,229.6L387.2,232.0L386.0,233.5L384.5,235.0L383.0,236.2L380.7,238.0L380.0,238.4L377.0,240.8L376.7,241.0L374.0,243.7L373.8,244.0L371.9,247.0L371.0,249.2L370.7,250.0L370.0,253.0L369.7,256.0L369.5,259.0L369.5,262.0L369.5,265.0L369.5,268.0L369.5,271.0L369.5,274.0L369.5,277.0L369.5,280.0L369.3,283.0L369.0,286.0L368.5,289.0L368.0,291.2L367.8,292.0L367.0,295.0L366.2,298.0L365.5,301.0L365.0,303.3L364.8,304.0L364.2,307.0L363.8,310.0L363.4,313.0L363.0,316.0L362.6,319.0L362.1,322.0L362.0,322.3L360.6,325.0L359.0,326.8L356.0,326.9L353.5,325.0L353.0,324.7L350.7,322.0L350.0,321.4L347.9,319.0L347.0,318.1L345.1,316.0L344.0,314.5L343.0,313.0L341.4,310.0L341.0,309.2L340.1,307.0L339.4,304.0L339.1,301.0L339.0,298.0L339.0,295.0L338.8,292.0L338.4,289.0L338.0,286.7L337.9,286.0L337.1,283.0L335.5,280.0L335.0,279.3L333.1,277.0L332.0,276.0L329.7,274.0L329.0,273.4L326.0,271.2L325.7,271.0L323.0,268.8L322.1,268.0L320.0,265.7L319.5,265.0L317.7,262.0L317.0,260.6L316.2,259.0L314.1,256.0L314.0,255.9L311.2,253.0L311.0,252.9L308.0,250.7L306.8,250.0L305.0,248.7L303.2,247.0L302.0,245.5L301.3,244.0L300.6,241.0L300.3,238.0L300.2,235.0L300.2,232.0L300.2,229.0L300.3,226.0L300.3,223.0L300.4,220.0L300.5,217.0L300.6,214.0L300.7,211.0L300.7,208.0L300.7,205.0L300.8,202.0L300.8,199.0L300.8,196.0L300.8,193.0L300.8,190.0L300.8,187.0L300.8,184.0L300.8,181.0L300.8,178.0L300.8,175.0L300.8,172.0L300.8,169.0L300.8,166.0L300.8,163.0L300.8,160.0L300.8,157.0L300.8,154.0L300.8,151.0L300.8,148.0L300.8,145.0L300.8,142.0L300.8,139.0L300.8,136.0L300.8,133.0ZM515.0,133.0L518.0,133.0L521.0,133.0L524.0,133.0L527.0,133.0L530.0,133.0L533.0,133.0L536.0,133.0L539.0,133.0L542.0,133.0L545.0,133.0L548.0,133.0L551.0,133.0L554.0,133.0L557.0,133.0L560.0,133.0L563.0,133.0L566.0,133.0L569.0,133.0L572.0,133.0L575.0,133.0L578.0,133.0L581.0,133.0L584.0,133.0L587.0,133.0L590.0,133.0L593.0,133.0L596.0,133.0L599.0,133.0L602.0,133.0L605.0,133.0L608.0,133.0L611.0,133.0L614.0,133.0L617.0,133.0L620.0,133.0L623.0,133.0L626.0,133.0L629.0,133.0L632.0,133.0L635.0,133.0L638.0,133.0L641.0,133.0L644.0,133.0L647.0,133.0L650.0,133.0L653.0,133.0L656.0,133.0L659.0,133.0L662.0,133.0L665.0,133.0L668.0,133.0L671.0,133.0L674.0,133.0L677.0,133.0L680.0,133.0L683.0,133.0L686.0,133.0L689.0,133.0L692.0,133.0L695.0,133.0L698.0,133.0L698.0,136.0L698.0,139.0L698.0,142.0L698.0,145.0L698.0,148.0L698.0,151.0L698.0,154.0L698.0,157.0L698.0,160.0L698.0,163.0L698.0,166.0L698.0,169.0L698.0,172.0L698.0,175.0L698.0,178.0L698.0,181.0L698.0,184.0L698.0,187.0L698.0,190.0L698.0,193.0L698.0,196.0L698.0,199.0L698.0,202.0L698.0,205.0L698.0,208.0L698.0,211.0L698.0,214.0L698.0,217.0L698.0,220.0L698.0,223.0L698.0,226.0L698.0,229.0L698.0,232.0L698.0,235.0L698.0,238.0L698.0,241.0L698.0,244.0L698.0,247.0L698.0,250.0L698.0,253.0L698.0,256.0L698.0,259.0L698.0,262.0L698.0,265.0L698.0,268.0L698.0,271.0L698.0,274.0L698.0,277.0L698.0,280.0L698.0,283.0L698.0,286.0L698.0,289.0L698.0,292.0L698.0,295.0L698.0,298.0L698.0,301.0L698.0,304.0L698.0,307.0L698.0,310.0L698.0,313.0L698.0,316.0L698.0,319.0L698.0,322.0L698.0,325.0L698.0,328.0L698.0,331.0L698.0,334.0L698.0,337.0L698.0,340.0L698.0,343.0L698.0,346.0L698.0,349.0L698.0,352.0L698.0,355.0L698.0,358.0L698.0,361.0L698.0,364.0L698.0,367.0L698.0,370.0L698.0,373.0L698.0,376.0L698.0,379.0L698.0,382.0L698.0,385.0L698.0,388.0L698.0,391.0L698.0,394.0L698.0,397.0L698.0,400.0L698.0,403.0L698.0,406.0L698.0,409.0L698.0,412.0L698.0,415.0L698.0,418.0L698.0,421.0L698.0,424.0L698.0,427.0L698.0,430.0L698.0,433.0L698.0,436.0L698.0,439.0L698.0,442.0L698.0,445.0L698.0,448.0L698.0,451.0L698.0,454.0L698.0,457.0L698.0,460.0L698.0,463.0L698.0,466.0L698.0,469.0L698.0,472.0L698.0,475.0L698.0,478.0L698.0,481.0L698.0,482.1L695.0,482.1L692.0,482.1L689.0,482.1L686.0,482.1L683.0,482.1L680.0,482.2L677.0,482.2L674.0,482.2L671.0,482.3L668.0,482.3L665.0,482.3L662.0,482.3L659.0,482.3L656.0,482.4L653.0,482.5L650.0,482.9L647.0,483.5L645.5,484.0L644.0,484.5L641.0,485.9L639.2,487.0L638.0,488.0L636.4,490.0L635.0,492.7L634.9,493.0L634.0,496.0L633.6,499.0L633.4,502.0L633.0,505.0L632.3,508.0L632.0,508.6L630.6,511.0L629.0,513.1L627.9,514.0L626.0,515.2L623.0,515.8L620.0,514.9L619.1,514.0L617.1,511.0L617.0,510.7L616.2,508.0L615.8,505.0L615.6,502.0L615.6,499.0L615.6,496.0L615.5,493.0L615.5,490.0L615.5,487.0L615.4,484.0L615.4,481.0L615.2,478.0L614.8,475.0L614.0,472.0L614.0,471.9L612.6,469.0L611.0,466.9L610.1,466.0L608.0,464.4L606.0,463.0L605.0,462.4L602.0,460.2L601.7,460.0L599.0,457.7L598.3,457.0L596.0,454.4L595.7,454.0L593.4,451.0L593.0,450.4L591.2,448.0L590.0,446.5L588.5,445.0L587.0,443.8L584.6,442.0L584.0,441.6L581.0,439.3L580.6,439.0L578.0,436.7L577.3,436.0L575.0,433.3L574.8,433.0L572.7,430.0L572.0,429.0L570.6,427.0L569.0,424.8L568.4,424.0L566.2,421.0L566.0,420.7L564.3,418.0L563.0,415.6L562.7,415.0L561.0,412.0L560.0,410.5L559.0,409.0L557.0,406.3L556.8,406.0L554.4,403.0L554.0,402.5L551.5,400.0L551.0,399.6L548.0,397.2L547.7,397.0L545.0,395.0L543.5,394.0L542.0,393.0L539.0,391.3L538.4,391.0L536.0,389.7L533.3,388.0L533.0,387.8L530.0,385.6L529.2,385.0L527.0,383.4L525.0,382.0L524.0,381.3L521.0,379.1L520.8,379.0L518.0,376.3L517.8,376.0L515.8,373.0L515.0,371.0L514.6,370.0L513.9,367.0L513.5,364.0L513.3,361.0L513.1,358.0L512.8,355.0L512.1,352.0L512.0,351.7L511.0,349.0L509.5,346.0L509.0,345.3L506.7,343.0L506.0,342.5L503.0,341.0L500.3,340.0L500.0,339.9L497.0,339.2L494.0,338.9L491.0,338.8L488.0,338.9L485.0,339.2L482.0,340.0L482.0,340.0L479.0,341.4L476.9,343.0L476.0,343.9L474.4,346.0L473.0,348.0L472.4,349.0L470.2,352.0L470.0,352.3L467.7,355.0L467.0,355.7L464.4,358.0L464.0,358.3L461.0,360.6L460.4,361.0L458.0,362.8L456.5,364.0L455.0,365.5L453.8,367.0L452.0,369.3L451.6,370.0L449.2,373.0L449.0,373.3L446.3,376.0L446.0,376.2L443.0,378.1L440.9,379.0L440.0,379.3L437.0,380.0L434.0,380.4L431.0,380.6L428.0,380.8L425.0,381.2L422.0,382.0L421.9,382.0L419.0,383.5L417.0,385.0L416.0,386.1L414.7,388.0L413.2,391.0L413.0,391.8L412.2,394.0L411.5,397.0L410.0,400.0L409.9,400.0L407.0,400.4L404.0,400.0L404.0,400.0L401.0,399.0L398.0,397.4L397.5,397.0L395.0,394.0L395.0,394.0L394.1,391.0L393.8,388.0L393.9,385.0L394.3,382.0L394.9,379.0L395.0,378.6L395.7,376.0L396.4,373.0L397.2,370.0L398.0,367.0L398.0,366.8L399.1,364.0L400.7,361.0L401.0,360.6L403.5,358.0L404.0,357.5L407.0,355.0L407.0,355.0L409.9,352.0L410.0,351.9L412.2,349.0L413.0,347.7L414.1,346.0L416.0,343.3L416.2,343.0L419.0,340.0L419.0,340.0L422.0,337.5L422.6,337.0L425.0,334.8L425.8,334.0L428.0,331.6L428.5,331.0L431.0,328.0L431.0,328.0L434.0,325.2L434.3,325.0L437.0,323.1L438.7,322.0L440.0,321.2L442.9,319.0L443.0,318.9L445.8,316.0L446.0,315.7L447.9,313.0L449.0,311.3L449.8,310.0L452.0,307.1L452.1,307.0L455.0,304.2L455.3,304.0L458.0,302.2L459.9,301.0L461.0,300.3L464.0,298.2L464.3,298.0L467.0,295.7L467.7,295.0L470.0,292.3L470.2,292.0L472.3,289.0L473.0,287.9L474.2,286.0L476.0,283.3L476.2,283.0L479.0,280.1L479.1,280.0L482.0,277.8L483.3,277.0L485.0,275.9L487.7,274.0L488.0,273.8L490.9,271.0L491.0,270.9L493.2,268.0L494.0,266.7L495.1,265.0L497.0,262.3L497.2,262.0L500.0,259.1L500.1,259.0L503.0,256.8L504.1,256.0L506.0,254.6L508.1,253.0L509.0,252.1L510.6,250.0L512.0,247.0L512.0,247.0L512.8,244.0L513.1,241.0L513.3,238.0L513.3,235.0L513.3,232.0L513.3,229.0L513.3,226.0L513.3,223.0L513.3,220.0L513.3,217.0L513.3,214.0L513.3,211.0L513.3,208.0L513.3,205.0L513.3,202.0L513.3,199.0L513.3,196.0L513.3,193.0L513.3,190.0L513.3,187.0L513.3,184.0L513.3,181.0L513.3,178.0L513.3,175.0L513.3,172.0L513.3,169.0L513.3,166.0L513.3,163.0L513.3,160.0L513.3,157.0L513.3,154.0L513.3,151.0L513.3,148.0L513.3,145.0L513.3,142.0L513.3,139.0L513.3,136.0L513.3,133.0ZM416.0,405.2L419.0,405.1L420.7,406.0L422.0,407.2L423.0,409.0L423.0,412.0L422.0,413.3L419.0,412.5L418.6,412.0L416.6,409.0L416.0,407.5L415.6,406.0Z"/>
<polygon points="292,205 330,205 372,292 352,312 326,302 300,252 289,216" fill="#e7f65a"/>
<rect x="585" y="255" width="120" height="205" fill="#e7f65a"/>
</g>
<line x1="84" y1="137.4" x2="700" y2="137.4" stroke="#000" stroke-width="1.0"/>
<path d="M210.0,131.0 L218.0,138.0 L224.0,145.0 L232.0,149.0 L238.0,155.0 L242.0,163.0 L243.6,169.0 L246.4,176.0 L250.0,183.0 L252.4,189.4 L256.4,195.4 L260.0,203.0 L263.2,211.0 L266.0,219.0 L268.0,225.0 L269.6,229.4 L276.4,233.4 L284.4,239.4 L292.0,247.0 L297.0,255.0 L299.0,263.0 L298.0,269.0 L292.0,269.4 L284.0,268.2 L279.0,267.4 L276.4,268.6 L280.4,272.6 L288.4,278.2 L298.4,285.0 L308.0,289.0 L313.6,288.0 L317.2,292.2 L322.4,297.0 L329.2,302.2 L333.2,309.4 L334.6,319.0 L334.0,329.0 L338.0,336.0 L348.0,342.0 L356.0,348.0 L364.0,356.0 L370.0,364.0 L373.0,367.4 L378.0,364.4 L382.4,358.4 L381.0,352.4 L378.0,348.0 L375.0,343.0 L369.0,338.0 L365.0,333.6 L360.0,327.0 L355.6,320.0 L352.0,312.4 L349.2,306.0 L347.6,300.0 L344.0,301.0 L338.0,295.0 L335.0,289.0 L332.0,281.0 L327.0,275.0 L323.0,269.0 L321.0,261.0 L318.0,253.0 L312.0,247.0 L306.0,237.0 L298.0,231.0 L292.0,225.0 L289.0,217.0 L286.0,205.0 L284.0,197.0 L284.0,187.0 L283.0,185.0 L288.0,186.0 L300.0,191.0 L308.0,195.0 L316.0,201.0 L318.0,207.0 L320.0,217.0 L324.0,225.0 L328.0,233.0 L332.0,241.0 L336.0,247.0 L340.0,253.0 L346.0,261.0 L354.0,267.0 L362.0,269.0 L362.4,277.0 L368.0,283.0 L376.0,289.0 L382.0,293.0 L386.0,299.0 L384.4,307.0 L388.4,313.0 L396.0,317.0 L402.0,321.0 L408.0,327.0 L414.0,333.0 L418.0,337.0 L422.0,340.0 L430.0,348.0 L438.0,356.0 L446.0,366.0 L450.0,374.0 L452.0,380.0 L454.0,386.0 L458.0,392.0 L458.0,398.0 L456.0,404.0 L454.0,409.0 L458.0,411.0 L452.0,414.0 L450.0,418.0 L454.0,424.0 L460.0,432.0 L468.0,438.0 L476.0,442.0 L484.0,448.0 L488.0,454.0 L496.0,458.0 L506.0,460.0 L516.0,462.0 L526.0,470.0 L536.0,476.0 L546.0,480.0 L556.0,484.0 L566.0,486.0 L630.0,498.0 L638.0,495.0 L648.0,494.0 L658.0,496.0 L666.0,500.0 L674.0,506.0 L682.0,512.0 L690.0,520.0 L697.0,526.0 L702.0,530.0 L705.0,532.0 L705.0,448.0 L697.0,448.0 L686.0,449.0 L678.0,451.0 L664.0,454.0 L652.0,458.0 L650.0,454.0 L640.0,449.0 L628.0,446.0 L624.0,440.0 L618.0,430.0 L612.0,420.0 L606.0,410.0 L600.0,400.0 L594.0,390.0 L592.0,380.0 L590.0,370.0 L591.0,360.0 L591.0,350.0 L592.0,340.0 L590.0,330.0 L592.0,320.0 L596.0,312.0 L598.0,300.0 L600.0,295.0 L597.0,285.0 L597.0,277.0 L600.0,269.0 L604.0,263.0 L608.0,259.0 L614.0,255.0 L622.0,252.0 L630.0,249.0 L636.0,245.0 L642.0,239.0 L648.0,235.0 L654.0,233.0 L660.0,231.0 L666.0,230.0 L674.0,229.4 L682.0,230.0 L690.0,231.0 L697.0,233.0 L702.0,233.4 L705.0,233.0 L705.0,125.0 L210.0,125.0 Z" fill="#d2b48c" stroke="#000" stroke-width="1.8" stroke-linejoin="round"/>
<polyline points="284.0,181.0 280.0,177.0 284.0,171.0 292.0,167.0 308.0,163.0 324.0,157.0 332.0,155.0 344.0,159.0 360.0,158.0 372.0,163.0 388.0,169.0 400.0,161.0 406.0,151.0" fill="none" stroke="#90b0dd" stroke-width="1.5"/>
<polyline points="428.0,135.0 426.0,147.0 422.0,157.0 422.0,167.0 428.0,175.0 432.0,183.0" fill="none" stroke="#90b0dd" stroke-width="1.5"/>
<polyline points="406.0,151.0 404.0,157.0 398.0,163.0 390.0,171.0" fill="none" stroke="#90b0dd" stroke-width="1.5"/>
<polyline points="522.0,151.0 534.0,159.0 542.0,163.0 552.0,159.0 554.0,152.0 564.0,149.0 576.0,161.0 586.0,167.0 596.0,177.0 604.0,191.0 612.0,207.0 622.0,217.0 624.0,229.0 632.0,235.0 636.0,245.0" fill="none" stroke="#90b0dd" stroke-width="1.5"/>
<polyline points="454.0,390.0 466.0,388.0 474.0,398.0 488.0,403.0 496.0,412.0 502.0,418.0 494.0,418.0" fill="none" stroke="#90b0dd" stroke-width="1.5"/>
<polyline points="546.0,382.0 558.0,390.0 570.0,386.0 590.0,380.0" fill="none" stroke="#90b0dd" stroke-width="1.5"/>
<polyline points="684.0,450.0 690.0,456.0 694.0,462.0" fill="none" stroke="#90b0dd" stroke-width="1.5"/>
<polyline points="264.0,153.0 270.0,158.0" fill="none" stroke="#a8a8a8" stroke-width="1.6"/>
<polyline points="292.0,135.0 292.0,137.0 288.0,145.0 288.0,155.0 291.0,163.0 288.0,167.0" fill="none" stroke="#000" stroke-width="1.35"/>
<polyline points="389.0,135.0 389.0,196.6" fill="none" stroke="#000" stroke-width="1.35"/>
<polyline points="497.0,135.0 497.0,183.0 432.0,183.0" fill="none" stroke="#000" stroke-width="1.35"/>
<polyline points="572.0,137.0 586.0,140.0 604.0,143.0 618.0,146.0 638.0,141.0 650.0,146.0 659.0,149.4" fill="none" stroke="#000" stroke-width="1.35"/>
<polyline points="652.0,135.0 652.0,148.0" fill="none" stroke="#000" stroke-width="1.35"/>
<polyline points="659.0,149.4 660.0,183.0 668.0,201.0 665.0,221.0 663.0,229.4" fill="none" stroke="#000" stroke-width="1.35"/>
<polyline points="661.0,161.0 702.0,161.0" fill="none" stroke="#000" stroke-width="1.35"/>
<polyline points="432.0,184.0 440.0,193.0 452.0,203.0 462.0,211.0 466.0,219.0 470.0,229.0 480.0,237.0 494.0,245.0 500.0,239.0 506.0,229.0 514.0,228.0 526.0,229.0 538.0,241.0 546.0,255.0 554.0,265.0 560.0,275.0 564.0,287.0 568.0,297.0 580.0,303.0 594.0,306.0 602.0,308.0" fill="none" stroke="#90b0dd" stroke-width="1.5"/>
<polyline points="643.0,238.0 636.0,245.0 630.0,249.0 622.0,252.0 614.0,255.0 608.0,259.0 604.0,263.0 600.0,269.0 597.6,277.0 597.6,285.0 599.6,295.0 602.0,305.0" fill="none" stroke="#000" stroke-width="3.2" stroke-linejoin="round" stroke-dasharray="6,1.5,3,1"/>
<polyline points="244.0,171.0 288.0,167.0" fill="none" stroke="#000" stroke-width="1.5" stroke-dasharray="5.2,2.6"/>
<polyline points="285.0,172.6 352.0,196.6 404.0,196.6 404.0,188.0 432.0,188.0" fill="none" stroke="#000" stroke-width="1.5" stroke-dasharray="5.2,2.6"/>
<polyline points="432.0,184.0 440.0,193.0 452.0,203.0 462.0,211.0 466.0,219.0 470.0,229.0 480.0,237.0 494.0,245.0 500.0,239.0 506.0,229.0 514.0,228.0 526.0,229.0 538.0,241.0 546.0,255.0 554.0,265.0 560.0,275.0 564.0,287.0 568.0,297.0 580.0,303.0 594.0,306.0 602.0,308.0" fill="none" stroke="#000" stroke-width="1.5" stroke-dasharray="5.2,2.6"/>
<ellipse cx="222.2" cy="245.0" rx="1.0" ry="2.4" transform="rotate(10 222.2 245.0)" fill="#000"/>
<ellipse cx="286.3" cy="454.3" rx="1.3" ry="0.8" transform="rotate(0 286.3 454.3)" fill="#000"/>
<ellipse cx="355.2" cy="445.4" rx="1.5" ry="1.3" transform="rotate(0 355.2 445.4)" fill="#000"/>
<ellipse cx="357.8" cy="436.1" rx="0.8" ry="0.8" transform="rotate(0 357.8 436.1)" fill="#000"/>
<ellipse cx="270.5" cy="260.0" rx="1.5" ry="2.6" transform="rotate(-20 270.5 260.0)" fill="#000"/>
<ellipse cx="273.6" cy="263.0" rx="1.0" ry="1.6" transform="rotate(0 273.6 263.0)" fill="#000"/>
<ellipse cx="434.0" cy="389.0" rx="1.0" ry="2.6" transform="rotate(-40 434.0 389.0)" fill="#000"/>
<ellipse cx="438.5" cy="393.5" rx="1.0" ry="1.3" transform="rotate(-40 438.5 393.5)" fill="#000"/>
<ellipse cx="196.0" cy="139.6" rx="3.5" ry="1.4" transform="rotate(0 196.0 139.6)" fill="#000"/>
<ellipse cx="188.0" cy="139.0" rx="2.5" ry="1.2" transform="rotate(0 188.0 139.0)" fill="#000"/>
<ellipse cx="200.5" cy="155.5" rx="1.5" ry="1.0" transform="rotate(0 200.5 155.5)" fill="#000"/>
<ellipse cx="208.5" cy="150.5" rx="1.2" ry="0.9" transform="rotate(0 208.5 150.5)" fill="#000"/>
<ellipse cx="308.0" cy="239.0" rx="2.2" ry="5.5" transform="rotate(-35 308.0 239.0)" fill="#d2b48c" stroke="#000" stroke-width="1.2"/>
<ellipse cx="325.5" cy="244.0" rx="2.8" ry="4.5" transform="rotate(10 325.5 244.0)" fill="#d2b48c" stroke="#000" stroke-width="1.2"/>
<polyline points="157.0,145.0 160.0,143.0 162.0,146.0 160.0,149.0" fill="none" stroke="#fff" stroke-width="3" stroke-linecap="round"/>
<polyline points="171.0,183.0 174.0,182.0 176.0,185.0 175.0,189.0 172.0,191.0" fill="none" stroke="#fff" stroke-width="3" stroke-linecap="round"/>
<polyline points="228.0,152.0 233.0,154.0 238.0,158.0 241.0,163.0" fill="none" stroke="#fff" stroke-width="3" stroke-linecap="round"/>
<polyline points="386.0,371.0 390.0,368.0 393.0,369.0" fill="none" stroke="#fff" stroke-width="3" stroke-linecap="round"/>
<polyline points="462.0,523.0 463.0,525.0" fill="none" stroke="#fff" stroke-width="3" stroke-linecap="round"/>
<polyline points="548.0,537.0 548.0,540.0" fill="none" stroke="#fff" stroke-width="3" stroke-linecap="round"/>
<polyline points="694.0,277.0 697.0,279.0" fill="none" stroke="#fff" stroke-width="3" stroke-linecap="round"/>
<polygon points="152,143.3 144.3,158.7 159.7,158.7" fill="#9467bd" stroke="#000" stroke-width="1.5" stroke-linejoin="miter"/>
<polygon points="224,150.3 216.3,165.7 231.7,165.7" fill="#8c564b" stroke="#000" stroke-width="1.5" stroke-linejoin="miter"/>
<circle cx="120" cy="175" r="6.1" fill="#e0e068" stroke="#000" stroke-width="1.5"/>
<polygon points="178,162.9 172.2,167.1 174.4,173.9 181.6,173.9 183.8,167.1" fill="#ff7f0e" stroke="#000" stroke-width="1.5" stroke-linejoin="miter"/>
<polygon points="167,184.3 159.3,199.7 174.7,199.7" fill="#e377c2" stroke="#000" stroke-width="1.5" stroke-linejoin="miter"/>
<circle cx="112" cy="248" r="6.1" fill="#8ee7f0" stroke="#000" stroke-width="1.5"/>
<polygon points="153,246.9 147.7,249.9 147.7,256.1 153,259.1 158.3,256.1 158.3,249.9" fill="#ba95dd" stroke="#000" stroke-width="1.5" stroke-linejoin="miter"/>
<circle cx="205" cy="274" r="6.1" fill="#fcc3c3" stroke="#000" stroke-width="1.5"/>
<polygon points="271,262.9 265.2,267.1 267.4,273.9 274.6,273.9 276.8,267.1" fill="#dbb6b6" stroke="#000" stroke-width="1.5" stroke-linejoin="miter"/>
<polygon points="118,283.9 112.2,288.1 114.4,294.9 121.6,294.9 123.8,288.1" fill="#cfcf42" stroke="#000" stroke-width="1.5" stroke-linejoin="miter"/>
<polygon points="155,278.9 149.7,281.9 149.7,288.1 155,291.1 160.3,288.1 160.3,281.9" fill="#8c564b" stroke="#000" stroke-width="1.5" stroke-linejoin="miter"/>
<polygon points="93,291.9 87.7,294.9 87.7,301.1 93,304.1 98.3,301.1 98.3,294.9" fill="#ea88ce" stroke="#000" stroke-width="1.5" stroke-linejoin="miter"/>
<circle cx="279" cy="321" r="6.1" fill="#8ec2e9" stroke="#000" stroke-width="1.5"/>
<polygon points="189,345.9 183.2,350.1 185.4,356.9 192.6,356.9 194.8,350.1" fill="#fec9bd" stroke="#000" stroke-width="1.5" stroke-linejoin="miter"/>
<polygon points="273,349.9 267.2,354.1 269.4,360.9 276.6,360.9 278.8,354.1" fill="#5cd7e4" stroke="#000" stroke-width="1.5" stroke-linejoin="miter"/>
<circle cx="96.5" cy="375.5" r="6.1" fill="#17becf" stroke="#000" stroke-width="1.5"/>
<polygon points="152.5,388.9 146.7,393.1 148.9,399.9 156.1,399.9 158.3,393.1" fill="#9467bd" stroke="#000" stroke-width="1.5" stroke-linejoin="miter"/>
<circle cx="150" cy="417.5" r="6.1" fill="#d62728" stroke="#000" stroke-width="1.5"/>
<polygon points="192.5,404.9 187.2,407.9 187.2,414.1 192.5,417.1 197.8,414.1 197.8,407.9" fill="#36c9d9" stroke="#000" stroke-width="1.5" stroke-linejoin="miter"/>
<polygon points="181.5,413.4 176.2,416.4 176.2,422.6 181.5,425.6 186.8,422.6 186.8,416.4" fill="#fcc4c5" stroke="#000" stroke-width="1.5" stroke-linejoin="miter"/>
<polygon points="213,409.9 207.7,412.9 207.7,419.1 213,422.1 218.3,419.1 218.3,412.9" fill="#90de90" stroke="#000" stroke-width="1.5" stroke-linejoin="miter"/>
<polygon points="302.5,432.4 297.2,435.4 297.2,441.6 302.5,444.6 307.8,441.6 307.8,435.4" fill="#bcbd22" stroke="#000" stroke-width="1.5" stroke-linejoin="miter"/>
<circle cx="311.5" cy="466" r="6.1" fill="#a880cb" stroke="#000" stroke-width="1.5"/>
<polygon points="235.5,466.9 230.2,469.9 230.2,476.1 235.5,479.1 240.8,476.1 240.8,469.9" fill="#e04748" stroke="#000" stroke-width="1.5" stroke-linejoin="miter"/>
<polygon points="231.5,484.4 226.2,487.4 226.2,493.6 231.5,496.6 236.8,493.6 236.8,487.4" fill="#eeee97" stroke="#000" stroke-width="1.5" stroke-linejoin="miter"/>
<polygon points="286.5,512.4 280.7,516.6 282.9,523.4 290.1,523.4 292.3,516.6" fill="#e86b6c" stroke="#000" stroke-width="1.5" stroke-linejoin="miter"/>
<circle cx="387.5" cy="523.5" r="6.1" fill="#ffdcbd" stroke="#000" stroke-width="1.5"/>
<polygon points="134,552.4 128.2,556.6 130.4,563.4 137.6,563.4 139.8,556.6" fill="#c1f5c1" stroke="#000" stroke-width="1.5" stroke-linejoin="miter"/>
<polygon points="309,568.4 303.2,572.6 305.4,579.4 312.6,579.4 314.8,572.6" fill="#a36b5f" stroke="#000" stroke-width="1.5" stroke-linejoin="miter"/>
<circle cx="284" cy="592" r="6.1" fill="#1f77b4" stroke="#000" stroke-width="1.5"/>
<polygon points="356.5,580.9 351.2,584 351.2,590 356.5,593.1 361.8,590 361.8,584" fill="#ffaa64" stroke="#000" stroke-width="1.5" stroke-linejoin="miter"/>
<circle cx="380.5" cy="586" r="6.1" fill="#ddbdfc" stroke="#000" stroke-width="1.5"/>
<polygon points="504,609.9 498.2,614.1 500.4,620.9 507.6,620.9 509.8,614.1" fill="#cba8ef" stroke="#000" stroke-width="1.5" stroke-linejoin="miter"/>
<polygon points="398,361.9 390.4,377.1 405.6,377.1" fill="#2ca02c" stroke="#000" stroke-width="1.5" stroke-linejoin="miter"/>
<polygon points="471.5,442.4 466.2,445.4 466.2,451.6 471.5,454.6 476.8,451.6 476.8,445.4" fill="#2ca02c" stroke="#000" stroke-width="1.5" stroke-linejoin="miter"/>
<polygon points="477.5,480.9 471.7,485.1 473.9,491.9 481.1,491.9 483.3,485.1" fill="#5fa2d8" stroke="#000" stroke-width="1.5" stroke-linejoin="miter"/>
<circle cx="541.5" cy="490.5" r="6.1" fill="#6ccb6c" stroke="#000" stroke-width="1.5"/>
<polygon points="462.5,508.4 454.9,523.6 470.1,523.6" fill="#ff7f0e" stroke="#000" stroke-width="1.5" stroke-linejoin="miter"/>
<polygon points="480.5,546.9 474.7,551.1 476.9,557.9 484.1,557.9 486.3,551.1" fill="#ef92d8" stroke="#000" stroke-width="1.5" stroke-linejoin="miter"/>
<polygon points="548,540.4 540.4,555.6 555.6,555.6" fill="#d62728" stroke="#000" stroke-width="1.5" stroke-linejoin="miter"/>
<polygon points="452.5,562.4 446.7,566.6 448.9,573.4 456.1,573.4 458.3,566.6" fill="#4cb54c" stroke="#000" stroke-width="1.5" stroke-linejoin="miter"/>
<polygon points="624,530.9 618.2,535.1 620.4,541.9 627.6,541.9 629.8,535.1" fill="#ffc692" stroke="#000" stroke-width="1.5" stroke-linejoin="miter"/>
<polygon points="663,544.4 657.7,547.5 657.7,553.5 663,556.6 668.3,553.5 668.3,547.5" fill="#3a88c5" stroke="#000" stroke-width="1.5" stroke-linejoin="miter"/>
<polygon points="617.5,587.4 612.2,590.5 612.2,596.5 617.5,599.6 622.8,596.5 622.8,590.5" fill="#c2e2fa" stroke="#000" stroke-width="1.5" stroke-linejoin="miter"/>
<polygon points="651.5,292.4 645.7,296.6 647.9,303.4 655.1,303.4 657.3,296.6" fill="#7f7f7f" stroke="#000" stroke-width="1.5" stroke-linejoin="miter"/>
<circle cx="652.5" cy="316" r="6.1" fill="#ff9a3b" stroke="#000" stroke-width="1.5"/>
<circle cx="673" cy="326" r="6.1" fill="#f5a5e5" stroke="#000" stroke-width="1.5"/>
<circle cx="680.5" cy="329" r="6.1" fill="#f29797" stroke="#000" stroke-width="1.5"/>
<polygon points="626.5,330.9 621.2,333.9 621.2,340.1 626.5,343.1 631.8,340.1 631.8,333.9" fill="#bda8a8" stroke="#000" stroke-width="1.5" stroke-linejoin="miter"/>
<circle cx="689" cy="358.5" r="6.1" fill="#c08676" stroke="#000" stroke-width="1.5"/>
<circle cx="607.5" cy="387" r="6.1" fill="#9d9797" stroke="#000" stroke-width="1.5"/>
<polygon points="681.5,407.4 676.2,410.4 676.2,416.6 681.5,419.6 686.8,416.6 686.8,410.4" fill="#fbbdf1" stroke="#000" stroke-width="1.5" stroke-linejoin="miter"/>
<polygon points="693,284.4 685.4,299.6 700.6,299.6" fill="#1f77b4" stroke="#000" stroke-width="1.5" stroke-linejoin="miter"/>
<circle cx="80.3" cy="229.5" r="6.1" fill="#e377c2" stroke="#000" stroke-width="1.5"/>
</g>
</g>
<polyline points="84.5,137 84.5,644.5 696.5,644.5 696.5,137" fill="none" stroke="#000" stroke-width="1.1"/>
<line x1="84.5" y1="136.6" x2="696.5" y2="136.6" stroke="#c8ccd4" stroke-width="0.8"/>
<g stroke="#000"><line x1="84.5" y1="137" x2="84.5" y2="133.6" stroke-width="1.3"/><line x1="84.5" y1="644.5" x2="84.5" y2="647.9" stroke-width="1.3"/><line x1="102.5" y1="137" x2="102.5" y2="128.2" stroke-width="2.8"/><line x1="102.5" y1="644.5" x2="102.5" y2="653.3" stroke-width="2.8"/><line x1="120.5" y1="137" x2="120.5" y2="133.6" stroke-width="1.3"/><line x1="120.5" y1="644.5" x2="120.5" y2="647.9" stroke-width="1.3"/><line x1="138.5" y1="137" x2="138.5" y2="133.6" stroke-width="1.3"/><line x1="138.5" y1="644.5" x2="138.5" y2="647.9" stroke-width="1.3"/><line x1="156.5" y1="137" x2="156.5" y2="133.6" stroke-width="1.3"/><line x1="156.5" y1="644.5" x2="156.5" y2="647.9" stroke-width="1.3"/><line x1="174.5" y1="137" x2="174.5" y2="133.6" stroke-width="1.3"/><line x1="174.5" y1="644.5" x2="174.5" y2="647.9" stroke-width="1.3"/><line x1="192.5" y1="137" x2="192.5" y2="128.2" stroke-width="2.8"/><line x1="192.5" y1="644.5" x2="192.5" y2="653.3" stroke-width="2.8"/><line x1="210.5" y1="137" x2="210.5" y2="133.6" stroke-width="1.3"/><line x1="210.5" y1="644.5" x2="210.5" y2="647.9" stroke-width="1.3"/><line x1="228.5" y1="137" x2="228.5" y2="133.6" stroke-width="1.3"/><line x1="228.5" y1="644.5" x2="228.5" y2="647.9" stroke-width="1.3"/><line x1="246.5" y1="137" x2="246.5" y2="133.6" stroke-width="1.3"/><line x1="246.5" y1="644.5" x2="246.5" y2="647.9" stroke-width="1.3"/><line x1="264.5" y1="137" x2="264.5" y2="133.6" stroke-width="1.3"/><line x1="264.5" y1="644.5" x2="264.5" y2="647.9" stroke-width="1.3"/><line x1="282.5" y1="137" x2="282.5" y2="128.2" stroke-width="2.8"/><line x1="282.5" y1="644.5" x2="282.5" y2="653.3" stroke-width="2.8"/><line x1="300.5" y1="137" x2="300.5" y2="133.6" stroke-width="1.3"/><line x1="300.5" y1="644.5" x2="300.5" y2="647.9" stroke-width="1.3"/><line x1="318.5" y1="137" x2="318.5" y2="133.6" stroke-width="1.3"/><line x1="318.5" y1="644.5" x2="318.5" y2="647.9" stroke-width="1.3"/><line x1="336.5" y1="137" x2="336.5" y2="133.6" stroke-width="1.3"/><line x1="336.5" y1="644.5" x2="336.5" y2="647.9" stroke-width="1.3"/><line x1="354.5" y1="137" x2="354.5" y2="133.6" stroke-width="1.3"/><line x1="354.5" y1="644.5" x2="354.5" y2="647.9" stroke-width="1.3"/><line x1="372.5" y1="137" x2="372.5" y2="128.2" stroke-width="2.8"/><line x1="372.5" y1="644.5" x2="372.5" y2="653.3" stroke-width="2.8"/><line x1="390.5" y1="137" x2="390.5" y2="133.6" stroke-width="1.3"/><line x1="390.5" y1="644.5" x2="390.5" y2="647.9" stroke-width="1.3"/><line x1="408.5" y1="137" x2="408.5" y2="133.6" stroke-width="1.3"/><line x1="408.5" y1="644.5" x2="408.5" y2="647.9" stroke-width="1.3"/><line x1="426.5" y1="137" x2="426.5" y2="133.6" stroke-width="1.3"/><line x1="426.5" y1="644.5" x2="426.5" y2="647.9" stroke-width="1.3"/><line x1="444.5" y1="137" x2="444.5" y2="133.6" stroke-width="1.3"/><line x1="444.5" y1="644.5" x2="444.5" y2="647.9" stroke-width="1.3"/><line x1="462.5" y1="137" x2="462.5" y2="128.2" stroke-width="2.8"/><line x1="462.5" y1="644.5" x2="462.5" y2="653.3" stroke-width="2.8"/><line x1="480.5" y1="137" x2="480.5" y2="133.6" stroke-width="1.3"/><line x1="480.5" y1="644.5" x2="480.5" y2="647.9" stroke-width="1.3"/><line x1="498.5" y1="137" x2="498.5" y2="133.6" stroke-width="1.3"/><line x1="498.5" y1="644.5" x2="498.5" y2="647.9" stroke-width="1.3"/><line x1="516.5" y1="137" x2="516.5" y2="133.6" stroke-width="1.3"/><line x1="516.5" y1="644.5" x2="516.5" y2="647.9" stroke-width="1.3"/><line x1="534.5" y1="137" x2="534.5" y2="133.6" stroke-width="1.3"/><line x1="534.5" y1="644.5" x2="534.5" y2="647.9" stroke-width="1.3"/><line x1="552.5" y1="137" x2="552.5" y2="128.2" stroke-width="2.8"/><line x1="552.5" y1="644.5" x2="552.5" y2="653.3" stroke-width="2.8"/><line x1="570.5" y1="137" x2="570.5" y2="133.6" stroke-width="1.3"/><line x1="570.5" y1="644.5" x2="570.5" y2="647.9" stroke-width="1.3"/><line x1="588.5" y1="137" x2="588.5" y2="133.6" stroke-width="1.3"/><line x1="588.5" y1="644.5" x2="588.5" y2="647.9" stroke-width="1.3"/><line x1="606.5" y1="137" x2="606.5" y2="133.6" stroke-width="1.3"/><line x1="606.5" y1="644.5" x2="606.5" y2="647.9" stroke-width="1.3"/><line x1="624.5" y1="137" x2="624.5" y2="133.6" stroke-width="1.3"/><line x1="624.5" y1="644.5" x2="624.5" y2="647.9" stroke-width="1.3"/><line x1="642.5" y1="137" x2="642.5" y2="128.2" stroke-width="2.8"/><line x1="642.5" y1="644.5" x2="642.5" y2="653.3" stroke-width="2.8"/><line x1="660.5" y1="137" x2="660.5" y2="133.6" stroke-width="1.3"/><line x1="660.5" y1="644.5" x2="660.5" y2="647.9" stroke-width="1.3"/><line x1="678.5" y1="137" x2="678.5" y2="133.6" stroke-width="1.3"/><line x1="678.5" y1="644.5" x2="678.5" y2="647.9" stroke-width="1.3"/><line x1="696.5" y1="137" x2="696.5" y2="133.6" stroke-width="1.3"/><line x1="696.5" y1="644.5" x2="696.5" y2="647.9" stroke-width="1.3"/><line x1="84.5" y1="645" x2="81.1" y2="645" stroke-width="1.3"/><line x1="696.5" y1="645" x2="699.9" y2="645" stroke-width="1.3"/><line x1="84.5" y1="627" x2="81.1" y2="627" stroke-width="1.3"/><line x1="696.5" y1="627" x2="699.9" y2="627" stroke-width="1.3"/><line x1="84.5" y1="608.8" x2="75.7" y2="608.8" stroke-width="2.8"/><line x1="696.5" y1="608.8" x2="705.3" y2="608.8" stroke-width="2.8"/><line x1="84.5" y1="590.6" x2="81.1" y2="590.6" stroke-width="1.3"/><line x1="696.5" y1="590.6" x2="699.9" y2="590.6" stroke-width="1.3"/><line x1="84.5" y1="572.4" x2="81.1" y2="572.4" stroke-width="1.3"/><line x1="696.5" y1="572.4" x2="699.9" y2="572.4" stroke-width="1.3"/><line x1="84.5" y1="554.1" x2="81.1" y2="554.1" stroke-width="1.3"/><line x1="696.5" y1="554.1" x2="699.9" y2="554.1" stroke-width="1.3"/><line x1="84.5" y1="535.7" x2="81.1" y2="535.7" stroke-width="1.3"/><line x1="696.5" y1="535.7" x2="699.9" y2="535.7" stroke-width="1.3"/><line x1="84.5" y1="517.2" x2="75.7" y2="517.2" stroke-width="2.8"/><line x1="696.5" y1="517.2" x2="705.3" y2="517.2" stroke-width="2.8"/><line x1="84.5" y1="498.6" x2="81.1" y2="498.6" stroke-width="1.3"/><line x1="696.5" y1="498.6" x2="699.9" y2="498.6" stroke-width="1.3"/><line x1="84.5" y1="480" x2="81.1" y2="480" stroke-width="1.3"/><line x1="696.5" y1="480" x2="699.9" y2="480" stroke-width="1.3"/><line x1="84.5" y1="461.2" x2="81.1" y2="461.2" stroke-width="1.3"/><line x1="696.5" y1="461.2" x2="699.9" y2="461.2" stroke-width="1.3"/><line x1="84.5" y1="442.4" x2="81.1" y2="442.4" stroke-width="1.3"/><line x1="696.5" y1="442.4" x2="699.9" y2="442.4" stroke-width="1.3"/><line x1="84.5" y1="423.4" x2="75.7" y2="423.4" stroke-width="2.8"/><line x1="696.5" y1="423.4" x2="705.3" y2="423.4" stroke-width="2.8"/><line x1="84.5" y1="404.3" x2="81.1" y2="404.3" stroke-width="1.3"/><line x1="696.5" y1="404.3" x2="699.9" y2="404.3" stroke-width="1.3"/><line x1="84.5" y1="385" x2="81.1" y2="385" stroke-width="1.3"/><line x1="696.5" y1="385" x2="699.9" y2="385" stroke-width="1.3"/><line x1="84.5" y1="365.7" x2="81.1" y2="365.7" stroke-width="1.3"/><line x1="696.5" y1="365.7" x2="699.9" y2="365.7" stroke-width="1.3"/><line x1="84.5" y1="346.2" x2="81.1" y2="346.2" stroke-width="1.3"/><line x1="696.5" y1="346.2" x2="699.9" y2="346.2" stroke-width="1.3"/><line x1="84.5" y1="326.5" x2="75.7" y2="326.5" stroke-width="2.8"/><line x1="696.5" y1="326.5" x2="705.3" y2="326.5" stroke-width="2.8"/><line x1="84.5" y1="306.6" x2="81.1" y2="306.6" stroke-width="1.3"/><line x1="696.5" y1="306.6" x2="699.9" y2="306.6" stroke-width="1.3"/><line x1="84.5" y1="286.6" x2="81.1" y2="286.6" stroke-width="1.3"/><line x1="696.5" y1="286.6" x2="699.9" y2="286.6" stroke-width="1.3"/><line x1="84.5" y1="266.5" x2="81.1" y2="266.5" stroke-width="1.3"/><line x1="696.5" y1="266.5" x2="699.9" y2="266.5" stroke-width="1.3"/><line x1="84.5" y1="246.1" x2="81.1" y2="246.1" stroke-width="1.3"/><line x1="696.5" y1="246.1" x2="699.9" y2="246.1" stroke-width="1.3"/><line x1="84.5" y1="225.5" x2="75.7" y2="225.5" stroke-width="2.8"/><line x1="696.5" y1="225.5" x2="705.3" y2="225.5" stroke-width="2.8"/><line x1="84.5" y1="204.7" x2="81.1" y2="204.7" stroke-width="1.3"/><line x1="696.5" y1="204.7" x2="699.9" y2="204.7" stroke-width="1.3"/><line x1="84.5" y1="183.7" x2="81.1" y2="183.7" stroke-width="1.3"/><line x1="696.5" y1="183.7" x2="699.9" y2="183.7" stroke-width="1.3"/><line x1="84.5" y1="162.5" x2="81.1" y2="162.5" stroke-width="1.3"/><line x1="696.5" y1="162.5" x2="699.9" y2="162.5" stroke-width="1.3"/></g>
<text x="68.9" y="616.9" font-size="22.2" text-anchor="end">10°N</text>
<text x="68.9" y="525.3" font-size="22.2" text-anchor="end">15°N</text>
<text x="68.9" y="431.5" font-size="22.2" text-anchor="end">20°N</text>
<text x="68.9" y="334.6" font-size="22.2" text-anchor="end">25°N</text>
<text x="68.9" y="233.6" font-size="22.2" text-anchor="end">30°N</text>
<text transform="translate(133.1,673.1) rotate(-45)" font-size="22.2" text-anchor="end">125°W</text>
<text transform="translate(223.1,673.1) rotate(-45)" font-size="22.2" text-anchor="end">120°W</text>
<text transform="translate(313.1,673.1) rotate(-45)" font-size="22.2" text-anchor="end">115°W</text>
<text transform="translate(403.1,673.1) rotate(-45)" font-size="22.2" text-anchor="end">110°W</text>
<text transform="translate(493.1,673.1) rotate(-45)" font-size="22.2" text-anchor="end">105°W</text>
<text transform="translate(583.1,673.1) rotate(-45)" font-size="22.2" text-anchor="end">100°W</text>
<text transform="translate(668.1,673.1) rotate(-45)" font-size="22.2" text-anchor="end">95°W</text>
<text x="389.8" y="127" font-size="27.8" font-weight="bold" text-anchor="middle">RTOFS - 2025-10-21 18:00:00</text>
<defs><clipPath id="clip735"><rect x="819.5" y="137" width="612" height="507.5"/></clipPath>
<clipPath id="dclip735"><path d="M80.0,140.0 L208.0,140.0 L217.0,139.4 L222.4,146.0 L230.0,150.6 L236.4,158.0 L239.0,165.0 L241.2,173.0 L244.4,180.0 L248.4,188.0 L252.4,195.0 L256.4,203.0 L260.0,211.0 L262.8,219.0 L265.4,225.0 L268.0,231.0 L274.0,235.0 L278.0,241.0 L279.0,249.0 L277.0,257.0 L274.0,263.0 L275.0,269.0 L280.0,275.0 L288.0,281.4 L298.0,289.4 L305.0,297.0 L313.0,307.0 L320.0,315.0 L326.0,325.0 L329.0,335.0 L330.0,340.0 L340.0,345.0 L350.0,351.0 L358.0,356.0 L365.0,362.0 L370.0,368.0 L375.0,370.4 L379.0,369.0 L385.0,360.0 L384.0,352.4 L380.4,347.0 L377.0,342.0 L371.0,337.0 L367.0,332.6 L362.0,326.0 L357.6,319.0 L354.0,312.0 L351.0,305.0 L349.6,300.0 L346.0,303.0 L341.0,295.0 L336.0,287.0 L329.0,277.0 L322.4,269.0 L318.0,259.0 L313.0,251.0 L306.0,243.0 L299.0,235.0 L293.0,228.0 L294.0,217.0 L302.0,214.0 L308.0,225.0 L316.0,231.0 L322.0,239.0 L328.0,249.0 L336.0,257.0 L344.0,263.0 L352.0,269.0 L356.0,277.0 L364.0,285.0 L372.0,291.0 L378.0,297.0 L380.0,305.0 L386.0,313.0 L396.0,321.0 L404.0,329.0 L410.0,337.0 L416.0,342.0 L428.0,350.0 L436.0,360.0 L440.0,370.0 L440.0,380.0 L444.0,390.0 L450.0,396.0 L452.0,402.0 L450.0,408.0 L450.0,414.0 L454.0,420.0 L460.0,428.0 L468.0,436.0 L476.0,440.0 L484.0,446.0 L488.0,452.0 L496.0,456.0 L506.0,458.0 L516.0,460.0 L526.0,468.0 L536.0,474.0 L546.0,478.0 L556.0,482.0 L566.0,484.0 L634.0,498.0 L642.0,498.0 L652.0,501.0 L662.0,508.0 L674.0,516.0 L684.0,526.0 L694.0,534.0 L700.0,539.0 L705.0,540.0 L705.0,650.0 L80.0,650.0 Z M700.0,268.0 L682.0,268.0 L654.0,269.0 L634.0,271.0 L624.0,275.0 L618.0,281.0 L616.0,293.0 L616.0,307.0 L614.0,317.0 L610.0,327.0 L608.0,340.0 L602.0,340.0 L600.0,350.0 L598.0,370.0 L599.0,390.0 L604.0,400.0 L612.0,410.0 L620.0,424.0 L628.0,434.0 L640.0,442.0 L652.0,448.0 L662.0,446.0 L674.0,442.0 L682.0,436.0 L688.0,424.0 L690.0,408.0 L690.0,396.0 L692.0,386.0 L700.0,380.0 Z"/></clipPath></defs>
<g clip-path="url(#clip735)">
<rect x="819.5" y="137" width="612" height="507.5" fill="#97b6e2"/>
<g transform="translate(735,0)">
<g clip-path="url(#dclip735)">
<rect x="80" y="130" width="625" height="520" fill="#0a2a4a"/>
<path fill="#23338c" fill-rule="evenodd" d="M83.0,133.0L86.0,133.0L89.0,133.0L92.0,133.0L93.5,133.0L93.5,136.0L93.5,139.0L93.5,142.0L93.5,145.0L93.5,148.0L93.5,151.0L93.5,154.0L93.5,157.0L93.5,160.0L93.5,163.0L93.7,166.0L94.4,169.0L95.0,170.3L96.0,172.0L98.0,173.9L99.8,175.0L101.0,175.6L104.0,176.2L107.0,176.3L110.0,176.3L113.0,176.0L116.0,175.1L116.2,175.0L119.0,172.3L119.2,172.0L119.2,169.0L119.0,168.7L117.5,166.0L116.0,163.2L115.9,163.0L115.2,160.0L115.1,157.0L115.6,154.0L116.0,152.7L117.1,151.0L119.0,149.2L122.0,148.5L123.4,151.0L124.8,154.0L125.0,154.2L128.0,157.0L128.0,157.0L131.0,157.9L134.0,158.1L137.0,157.8L138.5,157.0L140.0,155.3L140.4,154.0L140.6,151.0L140.5,148.0L140.1,145.0L140.0,143.7L139.2,142.0L137.6,139.0L137.0,137.2L136.7,139.0L135.0,142.0L134.0,142.8L131.0,144.9L130.8,145.0L128.0,145.9L125.0,145.8L124.5,145.0L123.8,142.0L123.7,139.0L123.7,136.0L123.7,133.0L125.0,133.0L128.0,133.0L131.0,133.0L134.0,133.0L137.0,133.0L140.0,133.0L143.0,133.0L146.0,133.0L149.0,133.0L152.0,133.0L155.0,133.0L158.0,133.0L160.0,133.0L160.0,136.0L160.0,139.0L160.0,142.0L160.0,145.0L159.9,148.0L159.7,151.0L159.1,154.0L158.0,156.5L157.8,157.0L155.2,160.0L155.0,160.2L152.0,162.6L151.1,163.0L150.8,166.0L152.0,167.1L153.8,169.0L155.0,170.1L157.3,172.0L158.0,172.5L161.0,173.4L164.0,172.6L164.8,172.0L167.0,170.5L169.5,169.0L170.0,168.7L173.0,167.9L176.0,167.7L179.0,168.0L182.0,168.9L182.2,169.0L185.0,171.8L185.1,172.0L186.1,175.0L186.4,178.0L186.5,181.0L186.5,184.0L186.5,187.0L186.5,190.0L186.6,193.0L186.8,196.0L187.0,199.0L187.6,202.0L188.0,203.0L190.1,205.0L191.0,205.5L192.3,205.0L194.0,204.2L195.8,202.0L197.0,200.9L199.1,199.0L200.0,198.4L203.0,196.4L203.5,196.0L205.8,193.0L206.0,192.5L206.7,190.0L207.0,187.0L207.0,184.0L207.1,181.0L207.1,178.0L206.9,175.0L206.0,172.0L206.0,171.9L203.6,169.0L203.0,168.5L200.0,166.7L199.0,166.0L197.0,164.5L195.5,163.0L194.0,161.5L192.5,160.0L191.0,158.5L189.5,157.0L188.0,155.0L187.3,154.0L185.5,151.0L185.0,150.3L182.7,148.0L182.0,147.5L179.0,145.5L178.4,145.0L176.0,142.2L175.9,142.0L174.9,139.0L174.6,136.0L174.5,133.0L176.0,133.0L179.0,133.0L182.0,133.0L185.0,133.0L188.0,133.0L191.0,133.0L194.0,133.0L197.0,133.0L200.0,133.0L203.0,133.0L206.0,133.0L209.0,133.0L212.0,133.0L215.0,133.0L218.0,133.0L221.0,133.0L224.0,133.0L227.0,133.0L230.0,133.0L233.0,133.0L236.0,133.0L239.0,133.0L242.0,133.0L245.0,133.0L248.0,133.0L251.0,133.0L254.0,133.0L257.0,133.0L260.0,133.0L263.0,133.0L266.0,133.0L269.0,133.0L272.0,133.0L275.0,133.0L278.0,133.0L281.0,133.0L284.0,133.0L287.0,133.0L290.0,133.0L293.0,133.0L296.0,133.0L299.0,133.0L302.0,133.0L305.0,133.0L308.0,133.0L311.0,133.0L314.0,133.0L317.0,133.0L320.0,133.0L323.0,133.0L326.0,133.0L329.0,133.0L332.0,133.0L335.0,133.0L338.0,133.0L341.0,133.0L344.0,133.0L347.0,133.0L350.0,133.0L353.0,133.0L356.0,133.0L359.0,133.0L362.0,133.0L365.0,133.0L368.0,133.0L371.0,133.0L374.0,133.0L377.0,133.0L380.0,133.0L383.0,133.0L386.0,133.0L389.0,133.0L392.0,133.0L395.0,133.0L398.0,133.0L401.0,133.0L404.0,133.0L407.0,133.0L410.0,133.0L413.0,133.0L416.0,133.0L419.0,133.0L422.0,133.0L425.0,133.0L428.0,133.0L431.0,133.0L434.0,133.0L437.0,133.0L440.0,133.0L443.0,133.0L446.0,133.0L449.0,133.0L452.0,133.0L455.0,133.0L458.0,133.0L461.0,133.0L464.0,133.0L467.0,133.0L470.0,133.0L473.0,133.0L476.0,133.0L479.0,133.0L482.0,133.0L485.0,133.0L488.0,133.0L491.0,133.0L494.0,133.0L497.0,133.0L500.0,133.0L503.0,133.0L506.0,133.0L509.0,133.0L512.0,133.0L515.0,133.0L518.0,133.0L521.0,133.0L524.0,133.0L527.0,133.0L530.0,133.0L533.0,133.0L536.0,133.0L539.0,133.0L542.0,133.0L545.0,133.0L548.0,133.0L551.0,133.0L554.0,133.0L557.0,133.0L560.0,133.0L563.0,133.0L566.0,133.0L569.0,133.0L572.0,133.0L575.0,133.0L578.0,133.0L581.0,133.0L584.0,133.0L587.0,133.0L590.0,133.0L593.0,133.0L596.0,133.0L599.0,133.0L602.0,133.0L605.0,133.0L608.0,133.0L611.0,133.0L614.0,133.0L617.0,133.0L620.0,133.0L623.0,133.0L626.0,133.0L629.0,133.0L632.0,133.0L635.0,133.0L638.0,133.0L641.0,133.0L644.0,133.0L647.0,133.0L650.0,133.0L653.0,133.0L656.0,133.0L659.0,133.0L662.0,133.0L665.0,133.0L668.0,133.0L671.0,133.0L674.0,133.0L677.0,133.0L680.0,133.0L683.0,133.0L686.0,133.0L689.0,133.0L692.0,133.0L695.0,133.0L698.0,133.0L698.0,136.0L698.0,139.0L698.0,142.0L698.0,145.0L698.0,148.0L698.0,151.0L698.0,154.0L698.0,157.0L698.0,160.0L698.0,163.0L698.0,166.0L698.0,169.0L698.0,172.0L698.0,175.0L698.0,178.0L698.0,181.0L698.0,184.0L698.0,187.0L698.0,190.0L698.0,193.0L698.0,196.0L698.0,199.0L698.0,202.0L698.0,205.0L698.0,208.0L698.0,211.0L698.0,214.0L698.0,217.0L698.0,220.0L698.0,223.0L698.0,226.0L698.0,229.0L698.0,232.0L698.0,235.0L698.0,238.0L698.0,241.0L698.0,244.0L698.0,247.0L698.0,250.0L698.0,253.0L698.0,256.0L698.0,259.0L698.0,262.0L698.0,265.0L698.0,268.0L698.0,271.0L698.0,274.0L698.0,277.0L698.0,280.0L698.0,283.0L698.0,286.0L698.0,289.0L698.0,292.0L698.0,295.0L698.0,298.0L698.0,301.0L698.0,304.0L698.0,307.0L698.0,310.0L698.0,313.0L698.0,316.0L698.0,319.0L698.0,322.0L698.0,325.0L698.0,328.0L698.0,331.0L698.0,334.0L698.0,337.0L698.0,340.0L698.0,343.0L698.0,346.0L698.0,349.0L698.0,352.0L698.0,355.0L698.0,358.0L698.0,361.0L698.0,364.0L698.0,367.0L698.0,370.0L698.0,373.0L698.0,376.0L698.0,379.0L698.0,382.0L698.0,385.0L698.0,388.0L698.0,391.0L698.0,394.0L698.0,397.0L698.0,400.0L698.0,403.0L698.0,406.0L698.0,409.0L698.0,412.0L698.0,415.0L698.0,418.0L698.0,421.0L698.0,424.0L698.0,427.0L698.0,430.0L698.0,433.0L698.0,436.0L698.0,439.0L698.0,442.0L698.0,445.0L698.0,448.0L698.0,451.0L698.0,454.0L698.0,457.0L698.0,460.0L698.0,463.0L698.0,466.0L698.0,469.0L698.0,472.0L698.0,475.0L698.0,478.0L698.0,481.0L698.0,484.0L698.0,487.0L698.0,490.0L698.0,493.0L698.0,496.0L698.0,499.0L698.0,502.0L698.0,505.0L698.0,508.0L698.0,511.0L698.0,514.0L698.0,517.0L698.0,520.0L698.0,523.0L698.0,526.0L698.0,529.0L698.0,532.0L698.0,535.0L698.0,538.0L698.0,541.0L698.0,544.0L698.0,547.0L698.0,550.0L698.0,553.0L698.0,556.0L698.0,559.0L698.0,562.0L698.0,565.0L698.0,568.0L698.0,571.0L698.0,574.0L698.0,577.0L698.0,580.0L698.0,583.0L698.0,586.0L698.0,589.0L698.0,592.0L698.0,595.0L698.0,598.0L698.0,601.0L698.0,604.0L698.0,607.0L698.0,610.0L698.0,613.0L698.0,616.0L698.0,619.0L698.0,622.0L698.0,625.0L698.0,628.0L698.0,631.0L698.0,634.0L698.0,637.0L698.0,640.0L698.0,643.0L698.0,646.0L695.0,646.0L692.0,646.0L689.0,646.0L686.0,646.0L683.0,646.0L680.0,646.0L677.0,646.0L674.0,646.0L671.0,646.0L668.0,646.0L665.0,646.0L662.0,646.0L659.0,646.0L656.0,646.0L653.0,646.0L650.0,646.0L647.0,646.0L644.0,646.0L641.0,646.0L638.0,646.0L635.0,646.0L632.0,646.0L629.0,646.0L626.0,646.0L623.0,646.0L620.0,646.0L617.0,646.0L614.0,646.0L611.0,646.0L608.0,646.0L605.0,646.0L602.0,646.0L599.0,646.0L596.0,646.0L593.0,646.0L590.0,646.0L587.0,646.0L584.0,646.0L581.0,646.0L578.0,646.0L575.0,646.0L572.0,646.0L569.0,646.0L566.0,646.0L563.0,646.0L560.0,646.0L557.0,646.0L554.0,646.0L551.0,646.0L548.0,646.0L545.0,646.0L542.0,646.0L539.0,646.0L536.0,646.0L533.0,646.0L530.0,646.0L527.0,646.0L524.0,646.0L521.0,646.0L518.0,646.0L515.0,646.0L512.0,646.0L509.0,646.0L506.0,646.0L503.0,646.0L500.0,646.0L497.0,646.0L494.0,646.0L491.0,646.0L488.0,646.0L485.0,646.0L482.0,646.0L479.0,646.0L476.0,646.0L473.0,646.0L470.0,646.0L467.0,646.0L464.0,646.0L461.0,646.0L458.0,646.0L455.0,646.0L452.0,646.0L449.0,646.0L446.0,646.0L443.0,646.0L440.0,646.0L437.0,646.0L434.0,646.0L431.0,646.0L428.0,646.0L425.0,646.0L422.0,646.0L419.0,646.0L416.0,646.0L413.0,646.0L410.0,646.0L407.0,646.0L404.0,646.0L401.0,646.0L398.0,646.0L395.0,646.0L392.0,646.0L389.0,646.0L386.0,646.0L383.0,646.0L380.0,646.0L377.0,646.0L374.0,646.0L371.0,646.0L368.0,646.0L365.0,646.0L362.0,646.0L359.0,646.0L356.0,646.0L353.0,646.0L350.0,646.0L347.0,646.0L344.0,646.0L341.0,646.0L338.0,646.0L335.0,646.0L332.0,646.0L329.0,646.0L326.0,646.0L323.0,646.0L320.0,646.0L317.0,646.0L314.0,646.0L311.0,646.0L308.0,646.0L305.0,646.0L302.0,646.0L299.0,646.0L296.0,646.0L293.0,646.0L290.0,646.0L287.0,646.0L284.0,646.0L281.0,646.0L278.0,646.0L275.0,646.0L272.0,646.0L269.0,646.0L266.0,646.0L263.0,646.0L260.0,646.0L257.0,646.0L254.0,646.0L251.0,646.0L248.0,646.0L245.0,646.0L242.0,646.0L239.0,646.0L236.0,646.0L233.0,646.0L230.0,646.0L227.0,646.0L224.0,646.0L221.0,646.0L218.0,646.0L215.0,646.0L212.0,646.0L209.0,646.0L206.0,646.0L203.0,646.0L200.0,646.0L197.0,646.0L194.0,646.0L191.0,646.0L188.0,646.0L185.0,646.0L182.0,646.0L179.0,646.0L176.0,646.0L173.0,646.0L170.0,646.0L167.0,646.0L164.0,646.0L161.0,646.0L158.0,646.0L155.0,646.0L152.0,646.0L149.0,646.0L146.0,646.0L143.0,646.0L140.0,646.0L137.0,646.0L134.0,646.0L131.0,646.0L128.0,646.0L125.0,646.0L122.0,646.0L119.0,646.0L116.0,646.0L113.0,646.0L110.0,646.0L107.0,646.0L104.0,646.0L101.0,646.0L98.0,646.0L95.0,646.0L92.0,646.0L89.0,646.0L86.0,646.0L83.0,646.0L80.0,646.0L80.0,643.0L80.0,640.0L80.0,637.0L80.0,634.0L80.0,631.0L80.0,628.0L80.0,625.0L80.0,622.0L80.0,619.0L80.0,616.0L80.0,613.0L80.0,610.0L80.0,607.0L80.0,604.0L80.0,601.0L80.0,598.0L80.0,595.0L80.0,592.0L80.0,589.0L80.0,586.0L80.0,583.0L80.0,580.0L80.0,577.0L80.0,574.0L80.0,571.0L80.0,568.0L80.0,565.0L80.0,562.0L80.0,559.0L80.0,556.0L80.0,553.0L80.0,550.0L80.0,547.0L80.0,544.0L80.0,541.0L80.0,538.0L80.0,535.0L80.0,532.0L80.0,529.0L80.0,526.0L80.0,523.0L80.0,520.0L80.0,517.0L80.0,514.0L80.0,511.0L80.0,508.0L80.0,505.0L80.0,502.0L80.0,499.0L80.0,496.0L80.0,493.0L80.0,490.0L80.0,487.0L80.0,484.0L80.0,481.0L80.0,478.0L80.0,475.0L80.0,472.0L80.0,469.0L80.0,466.0L80.0,463.0L80.0,460.0L80.0,457.0L80.0,454.0L80.0,451.0L80.0,448.0L80.0,445.0L80.0,442.0L80.0,439.0L80.0,436.0L80.0,433.0L80.0,430.0L80.0,427.0L80.0,424.0L80.0,421.0L80.0,418.0L80.0,415.0L80.0,412.0L80.0,409.0L80.0,406.0L80.0,403.0L80.0,400.0L80.0,397.0L80.0,394.0L80.0,391.0L80.0,388.0L80.0,385.0L80.0,382.0L80.0,379.0L80.0,376.0L80.0,373.0L80.0,370.0L80.0,367.0L80.0,364.0L80.0,361.0L80.0,358.0L80.0,355.0L80.0,352.0L80.0,349.0L80.0,346.0L80.0,343.0L80.0,340.0L80.0,337.0L80.0,334.0L80.0,331.0L80.0,328.0L80.0,325.0L80.0,322.0L80.0,319.0L80.0,316.0L80.0,313.0L80.0,310.0L80.0,307.0L80.0,304.0L80.0,301.0L80.0,298.0L80.0,295.0L80.0,292.0L80.0,289.0L80.0,286.0L80.0,283.0L80.0,280.0L80.0,277.0L80.0,274.0L80.0,271.0L80.0,268.0L80.0,265.0L80.0,262.0L80.0,259.0L80.0,256.0L80.0,253.0L80.0,250.0L80.0,247.0L80.0,244.0L80.0,241.0L80.0,238.0L80.0,235.0L80.0,232.0L80.0,229.0L80.0,226.0L80.0,223.0L80.0,220.0L80.0,217.0L80.0,214.0L80.0,211.0L80.0,208.0L80.0,205.0L80.0,202.0L80.0,199.0L80.0,196.0L80.0,193.0L80.0,190.0L80.0,187.0L80.0,184.0L80.0,181.0L80.0,178.0L80.0,175.0L80.0,172.0L80.0,169.0L80.0,166.0L80.0,163.0L80.0,160.0L80.0,157.0L80.0,154.0L80.0,151.0L80.0,148.0L80.0,145.0L80.0,142.0L80.0,139.0L80.0,136.0L80.0,133.0Z"/>
<path fill="#583c9b" fill-rule="evenodd" d="M275.0,133.0L278.0,133.0L281.0,133.0L284.0,133.0L287.0,133.0L290.0,133.0L293.0,133.0L296.0,133.0L299.0,133.0L302.0,133.0L305.0,133.0L308.0,133.0L311.0,133.0L314.0,133.0L317.0,133.0L320.0,133.0L323.0,133.0L326.0,133.0L329.0,133.0L332.0,133.0L335.0,133.0L338.0,133.0L341.0,133.0L344.0,133.0L347.0,133.0L350.0,133.0L353.0,133.0L356.0,133.0L359.0,133.0L362.0,133.0L365.0,133.0L368.0,133.0L371.0,133.0L374.0,133.0L377.0,133.0L380.0,133.0L383.0,133.0L386.0,133.0L389.0,133.0L392.0,133.0L395.0,133.0L398.0,133.0L401.0,133.0L404.0,133.0L407.0,133.0L410.0,133.0L413.0,133.0L416.0,133.0L419.0,133.0L422.0,133.0L425.0,133.0L428.0,133.0L431.0,133.0L434.0,133.0L437.0,133.0L440.0,133.0L443.0,133.0L446.0,133.0L449.0,133.0L452.0,133.0L455.0,133.0L458.0,133.0L461.0,133.0L464.0,133.0L467.0,133.0L470.0,133.0L473.0,133.0L476.0,133.0L479.0,133.0L482.0,133.0L485.0,133.0L488.0,133.0L491.0,133.0L494.0,133.0L497.0,133.0L500.0,133.0L503.0,133.0L506.0,133.0L509.0,133.0L512.0,133.0L515.0,133.0L518.0,133.0L521.0,133.0L524.0,133.0L527.0,133.0L530.0,133.0L533.0,133.0L536.0,133.0L539.0,133.0L542.0,133.0L545.0,133.0L548.0,133.0L551.0,133.0L554.0,133.0L557.0,133.0L560.0,133.0L563.0,133.0L566.0,133.0L569.0,133.0L572.0,133.0L575.0,133.0L578.0,133.0L581.0,133.0L584.0,133.0L587.0,133.0L590.0,133.0L593.0,133.0L596.0,133.0L599.0,133.0L602.0,133.0L605.0,133.0L608.0,133.0L611.0,133.0L614.0,133.0L617.0,133.0L620.0,133.0L623.0,133.0L626.0,133.0L629.0,133.0L632.0,133.0L635.0,133.0L638.0,133.0L641.0,133.0L644.0,133.0L647.0,133.0L650.0,133.0L653.0,133.0L656.0,133.0L659.0,133.0L662.0,133.0L665.0,133.0L668.0,133.0L671.0,133.0L674.0,133.0L677.0,133.0L680.0,133.0L683.0,133.0L686.0,133.0L689.0,133.0L692.0,133.0L695.0,133.0L698.0,133.0L698.0,136.0L698.0,139.0L698.0,142.0L698.0,145.0L698.0,148.0L698.0,151.0L698.0,154.0L698.0,157.0L698.0,160.0L698.0,163.0L698.0,166.0L698.0,169.0L698.0,172.0L698.0,175.0L698.0,178.0L698.0,181.0L698.0,184.0L698.0,187.0L698.0,190.0L698.0,193.0L698.0,196.0L698.0,199.0L698.0,202.0L698.0,205.0L698.0,208.0L698.0,211.0L698.0,214.0L698.0,217.0L698.0,220.0L698.0,223.0L698.0,226.0L698.0,229.0L698.0,232.0L698.0,235.0L698.0,238.0L698.0,241.0L698.0,244.0L698.0,247.0L698.0,250.0L698.0,253.0L698.0,256.0L698.0,259.0L698.0,262.0L698.0,265.0L698.0,268.0L698.0,271.0L698.0,274.0L698.0,277.0L698.0,280.0L698.0,283.0L698.0,286.0L698.0,289.0L698.0,292.0L698.0,295.0L698.0,298.0L698.0,301.0L698.0,304.0L698.0,307.0L698.0,310.0L698.0,313.0L698.0,316.0L698.0,319.0L698.0,322.0L698.0,325.0L698.0,328.0L698.0,331.0L698.0,334.0L698.0,337.0L698.0,340.0L698.0,343.0L698.0,346.0L698.0,349.0L698.0,352.0L698.0,355.0L698.0,358.0L698.0,361.0L698.0,364.0L698.0,367.0L698.0,370.0L698.0,373.0L698.0,376.0L698.0,379.0L698.0,382.0L698.0,385.0L698.0,388.0L698.0,391.0L698.0,394.0L698.0,397.0L698.0,400.0L698.0,403.0L698.0,406.0L698.0,409.0L698.0,412.0L698.0,415.0L698.0,418.0L698.0,421.0L698.0,424.0L698.0,427.0L698.0,430.0L698.0,433.0L698.0,436.0L698.0,439.0L698.0,442.0L698.0,445.0L698.0,448.0L698.0,451.0L698.0,454.0L698.0,457.0L698.0,460.0L698.0,463.0L698.0,466.0L698.0,469.0L698.0,472.0L698.0,475.0L698.0,478.0L698.0,481.0L698.0,484.0L698.0,487.0L698.0,490.0L698.0,493.0L698.0,496.0L698.0,499.0L698.0,502.0L698.0,505.0L698.0,508.0L698.0,511.0L698.0,514.0L698.0,517.0L698.0,520.0L698.0,523.0L698.0,526.0L698.0,529.0L698.0,532.0L698.0,535.0L698.0,538.0L698.0,541.0L698.0,544.0L698.0,547.0L698.0,550.0L698.0,553.0L698.0,556.0L698.0,559.0L698.0,562.0L698.0,565.0L698.0,568.0L698.0,571.0L698.0,574.0L698.0,577.0L698.0,580.0L698.0,583.0L698.0,586.0L698.0,589.0L698.0,592.0L698.0,595.0L698.0,598.0L698.0,601.0L698.0,604.0L698.0,607.0L698.0,610.0L698.0,613.0L698.0,616.0L698.0,619.0L698.0,622.0L698.0,625.0L698.0,628.0L698.0,631.0L698.0,634.0L698.0,637.0L698.0,640.0L698.0,643.0L698.0,646.0L695.0,646.0L692.0,646.0L689.0,646.0L686.0,646.0L683.0,646.0L680.0,646.0L677.0,646.0L674.0,646.0L671.0,646.0L668.0,646.0L665.0,646.0L662.0,646.0L659.0,646.0L656.0,646.0L653.0,646.0L650.0,646.0L647.0,646.0L644.0,646.0L641.0,646.0L638.0,646.0L635.0,646.0L632.0,646.0L629.0,646.0L626.0,646.0L623.0,646.0L620.0,646.0L617.0,646.0L614.0,646.0L611.0,646.0L608.0,646.0L605.0,646.0L602.0,646.0L599.0,646.0L596.0,646.0L593.0,646.0L590.0,646.0L587.0,646.0L584.0,646.0L581.0,646.0L578.0,646.0L575.0,646.0L572.0,646.0L569.0,646.0L566.0,646.0L563.0,646.0L560.0,646.0L557.0,646.0L554.0,646.0L551.0,646.0L548.0,646.0L545.0,646.0L542.0,646.0L539.0,646.0L536.0,646.0L533.0,646.0L530.0,646.0L527.0,646.0L524.0,646.0L521.0,646.0L518.0,646.0L515.0,646.0L512.0,646.0L509.0,646.0L506.0,646.0L503.0,646.0L500.0,646.0L497.0,646.0L494.0,646.0L491.0,646.0L488.0,646.0L485.0,646.0L482.0,646.0L479.0,646.0L476.0,646.0L473.0,646.0L470.0,646.0L467.0,646.0L464.0,646.0L461.0,646.0L458.0,646.0L455.0,646.0L452.0,646.0L449.0,646.0L446.0,646.0L443.0,646.0L440.0,646.0L437.0,646.0L434.0,646.0L431.0,646.0L428.0,646.0L425.0,646.0L422.0,646.0L419.0,646.0L416.0,646.0L413.0,646.0L410.0,646.0L407.0,646.0L404.0,646.0L401.0,646.0L398.0,646.0L395.0,646.0L392.0,646.0L389.0,646.0L386.0,646.0L383.0,646.0L380.0,646.0L377.0,646.0L374.0,646.0L371.0,646.0L368.0,646.0L365.0,646.0L362.0,646.0L359.0,646.0L356.0,646.0L353.0,646.0L350.0,646.0L347.0,646.0L344.0,646.0L341.0,646.0L338.0,646.0L335.0,646.0L332.0,646.0L329.0,646.0L326.0,646.0L323.0,646.0L320.0,646.0L317.0,646.0L314.0,646.0L311.0,646.0L308.0,646.0L305.0,646.0L302.0,646.0L299.0,646.0L296.0,646.0L293.0,646.0L290.0,646.0L287.0,646.0L284.0,646.0L281.0,646.0L278.0,646.0L275.0,646.0L272.0,646.0L269.0,646.0L266.0,646.0L263.0,646.0L260.0,646.0L257.0,646.0L254.0,646.0L251.0,646.0L248.0,646.0L245.0,646.0L242.0,646.0L239.0,646.0L236.0,646.0L233.0,646.0L230.0,646.0L227.0,646.0L224.0,646.0L221.0,646.0L218.0,646.0L215.0,646.0L212.0,646.0L209.0,646.0L206.0,646.0L203.0,646.0L200.0,646.0L197.0,646.0L194.0,646.0L191.0,646.0L188.0,646.0L185.0,646.0L182.0,646.0L179.0,646.0L176.0,646.0L173.0,646.0L170.0,646.0L167.0,646.0L164.0,646.0L161.0,646.0L158.0,646.0L155.0,646.0L152.0,646.0L149.0,646.0L146.0,646.0L143.0,646.0L140.0,646.0L137.0,646.0L134.0,646.0L131.0,646.0L128.0,646.0L125.0,646.0L122.0,646.0L119.0,646.0L116.0,646.0L113.0,646.0L110.0,646.0L107.0,646.0L104.0,646.0L101.0,646.0L98.0,646.0L95.0,646.0L92.0,646.0L89.0,646.0L86.0,646.0L83.0,646.0L80.0,646.0L80.0,643.0L80.0,640.0L80.0,637.0L80.0,634.0L80.0,631.0L80.0,628.0L80.0,625.0L80.0,622.0L80.0,619.0L80.0,616.0L80.0,613.0L80.0,610.0L80.0,607.0L80.0,604.0L80.0,601.0L80.0,598.0L80.0,595.0L80.0,592.0L80.0,589.0L80.0,586.0L80.0,583.0L80.0,580.0L80.0,577.0L80.0,574.0L80.0,571.0L80.0,568.0L80.0,565.0L80.0,562.0L80.0,559.0L80.0,556.0L80.0,553.0L80.0,550.0L80.0,547.0L80.0,544.0L80.0,541.0L80.0,538.0L80.0,535.0L80.0,532.0L80.0,529.0L80.0,526.0L80.0,523.0L80.0,520.0L80.0,517.0L80.0,514.0L80.0,511.0L80.0,508.0L80.0,505.0L80.0,502.0L80.0,499.0L80.0,496.0L80.0,493.0L80.0,490.0L80.0,487.0L80.0,484.0L80.0,481.0L80.0,478.0L80.0,475.0L80.0,472.0L80.0,469.0L80.0,466.0L80.0,463.0L80.0,460.0L80.0,457.0L80.0,454.0L80.0,451.0L80.0,448.0L80.0,445.0L80.0,442.0L80.0,439.0L80.0,436.0L80.0,433.0L80.0,430.0L80.0,427.0L80.0,424.0L80.0,421.0L80.0,418.0L80.0,415.0L80.0,412.0L80.0,409.0L80.0,406.0L80.0,403.0L80.0,400.0L80.0,397.0L80.0,394.0L80.0,391.0L80.0,388.0L80.0,385.0L80.0,382.0L80.0,379.0L80.0,376.0L80.0,373.0L80.0,370.0L80.0,367.0L80.0,364.0L80.0,361.0L80.0,358.0L80.0,355.0L80.0,352.0L80.0,349.0L80.0,346.0L80.0,343.0L80.0,340.0L80.0,337.0L80.0,334.0L80.0,331.0L80.0,328.0L80.0,325.0L80.0,322.0L80.0,319.0L80.0,316.0L80.0,313.0L80.0,310.0L80.0,307.0L80.0,304.0L80.0,301.0L80.0,298.0L80.0,295.0L80.0,292.0L80.0,289.0L80.0,286.0L80.0,283.0L80.0,280.0L80.0,277.0L80.0,274.0L80.0,271.0L80.0,268.0L80.0,265.0L80.0,262.0L80.0,259.0L80.0,256.0L80.0,253.0L80.0,250.0L80.0,247.0L80.0,244.0L80.0,241.0L80.0,238.0L80.0,235.0L80.0,232.0L80.0,229.0L80.0,226.0L80.0,223.0L80.0,220.0L80.0,217.0L80.0,214.0L80.0,211.0L80.0,208.0L80.0,205.0L80.0,202.0L80.0,199.0L80.0,196.0L80.0,193.0L80.0,190.0L80.0,187.0L80.0,184.0L80.0,181.0L80.0,178.0L80.0,176.6L83.0,176.7L86.0,177.4L87.3,178.0L89.0,178.9L91.3,181.0L92.0,181.8L93.9,184.0L95.0,185.3L97.0,187.0L98.0,187.7L101.0,189.6L101.6,190.0L104.0,192.5L104.4,193.0L105.6,196.0L106.2,199.0L106.7,202.0L107.0,203.0L108.3,205.0L110.0,206.6L113.0,207.3L114.3,205.0L114.3,202.0L114.3,199.0L114.6,196.0L115.7,193.0L116.0,192.5L117.8,190.0L119.0,188.8L120.7,187.0L122.0,185.7L123.3,184.0L125.0,181.8L125.7,181.0L128.0,178.9L129.7,178.0L131.0,177.4L134.0,176.9L137.0,177.0L140.0,178.0L140.0,178.0L143.0,181.0L143.0,181.0L144.0,184.0L144.3,187.0L144.0,190.0L143.1,193.0L143.0,193.1L140.1,196.0L140.0,196.1L137.0,197.1L134.0,197.5L131.0,197.9L128.0,198.8L127.6,199.0L125.0,201.0L124.0,202.0L122.0,204.7L121.6,205.0L119.0,207.3L117.0,208.0L116.0,210.1L115.8,211.0L116.0,211.4L116.8,214.0L119.0,216.2L120.2,217.0L122.0,217.7L125.0,218.2L128.0,218.4L131.0,218.5L134.0,218.5L137.0,218.5L140.0,218.5L143.0,218.5L146.0,218.5L149.0,218.5L152.0,218.4L155.0,218.4L158.0,218.6L161.0,219.5L161.7,220.0L164.0,221.6L165.5,223.0L167.0,224.3L169.6,226.0L170.0,226.2L173.0,227.0L176.0,227.3L179.0,227.1L182.0,226.2L182.4,226.0L185.0,224.3L186.5,223.0L188.0,221.8L190.9,220.0L191.0,219.9L194.0,219.1L197.0,218.7L200.0,218.2L203.0,217.3L203.5,217.0L206.0,215.3L207.4,214.0L209.0,212.3L210.3,211.0L212.0,209.4L213.3,208.0L215.0,205.5L215.3,205.0L216.3,202.0L216.8,199.0L217.2,196.0L217.4,193.0L217.5,190.0L217.7,187.0L218.0,184.1L218.0,184.0L219.7,181.0L221.0,179.5L224.0,179.1L224.7,181.0L224.9,184.0L225.1,187.0L225.5,190.0L226.9,193.0L227.0,193.1L230.0,195.2L233.0,195.2L235.7,193.0L236.0,192.4L236.8,190.0L237.1,187.0L236.9,184.0L236.0,181.3L235.9,181.0L233.0,178.3L232.2,178.0L230.0,177.2L227.0,176.5L226.0,175.0L225.6,172.0L225.4,169.0L225.1,166.0L224.2,163.0L224.0,162.5L222.4,160.0L221.0,158.3L219.9,157.0L218.5,154.0L218.7,151.0L221.0,148.2L221.4,148.0L224.0,147.1L227.0,146.8L230.0,147.0L233.0,147.9L233.1,148.0L236.0,150.4L236.4,151.0L238.3,154.0L239.0,155.0L240.6,157.0L242.0,158.5L243.4,160.0L245.0,162.2L245.5,163.0L246.9,166.0L248.0,169.0L248.0,169.0L250.1,172.0L251.0,172.9L254.0,174.3L256.5,175.0L257.0,175.1L260.0,175.7L263.0,176.0L266.0,175.7L267.1,175.0L269.0,173.7L269.9,172.0L271.3,169.0L272.0,167.0L272.2,166.0L272.6,163.0L272.8,160.0L272.9,157.0L272.9,154.0L272.9,151.0L272.9,148.0L272.9,145.0L272.9,142.0L272.9,139.0L272.9,136.0L272.9,133.0Z"/>
<path fill="#7b4a8c" fill-rule="evenodd" d="M281.0,133.0L284.0,133.0L287.0,133.0L290.0,133.0L293.0,133.0L296.0,133.0L299.0,133.0L302.0,133.0L305.0,133.0L308.0,133.0L311.0,133.0L314.0,133.0L317.0,133.0L320.0,133.0L323.0,133.0L326.0,133.0L329.0,133.0L332.0,133.0L335.0,133.0L338.0,133.0L341.0,133.0L344.0,133.0L347.0,133.0L350.0,133.0L353.0,133.0L356.0,133.0L359.0,133.0L362.0,133.0L365.0,133.0L368.0,133.0L371.0,133.0L374.0,133.0L377.0,133.0L380.0,133.0L383.0,133.0L386.0,133.0L389.0,133.0L392.0,133.0L395.0,133.0L398.0,133.0L401.0,133.0L404.0,133.0L407.0,133.0L410.0,133.0L413.0,133.0L416.0,133.0L419.0,133.0L422.0,133.0L425.0,133.0L428.0,133.0L431.0,133.0L434.0,133.0L437.0,133.0L440.0,133.0L443.0,133.0L446.0,133.0L449.0,133.0L452.0,133.0L455.0,133.0L458.0,133.0L461.0,133.0L464.0,133.0L467.0,133.0L470.0,133.0L473.0,133.0L476.0,133.0L479.0,133.0L482.0,133.0L485.0,133.0L488.0,133.0L491.0,133.0L494.0,133.0L497.0,133.0L500.0,133.0L503.0,133.0L506.0,133.0L509.0,133.0L512.0,133.0L515.0,133.0L518.0,133.0L521.0,133.0L524.0,133.0L527.0,133.0L530.0,133.0L533.0,133.0L536.0,133.0L539.0,133.0L542.0,133.0L545.0,133.0L548.0,133.0L551.0,133.0L554.0,133.0L557.0,133.0L560.0,133.0L563.0,133.0L566.0,133.0L569.0,133.0L572.0,133.0L575.0,133.0L578.0,133.0L581.0,133.0L584.0,133.0L587.0,133.0L590.0,133.0L593.0,133.0L596.0,133.0L599.0,133.0L602.0,133.0L605.0,133.0L608.0,133.0L611.0,133.0L614.0,133.0L617.0,133.0L620.0,133.0L623.0,133.0L626.0,133.0L629.0,133.0L632.0,133.0L635.0,133.0L638.0,133.0L641.0,133.0L644.0,133.0L647.0,133.0L650.0,133.0L653.0,133.0L656.0,133.0L659.0,133.0L662.0,133.0L665.0,133.0L668.0,133.0L671.0,133.0L674.0,133.0L677.0,133.0L680.0,133.0L683.0,133.0L686.0,133.0L689.0,133.0L692.0,133.0L695.0,133.0L698.0,133.0L698.0,136.0L698.0,139.0L698.0,142.0L698.0,145.0L698.0,148.0L698.0,151.0L698.0,154.0L698.0,157.0L698.0,160.0L698.0,163.0L698.0,166.0L698.0,169.0L698.0,172.0L698.0,175.0L698.0,178.0L698.0,181.0L698.0,184.0L698.0,187.0L698.0,190.0L698.0,193.0L698.0,196.0L698.0,199.0L698.0,202.0L698.0,205.0L698.0,208.0L698.0,211.0L698.0,214.0L698.0,217.0L698.0,220.0L698.0,223.0L698.0,226.0L698.0,229.0L698.0,232.0L698.0,235.0L698.0,238.0L698.0,241.0L698.0,244.0L698.0,247.0L698.0,250.0L698.0,253.0L698.0,256.0L698.0,259.0L698.0,262.0L698.0,265.0L698.0,268.0L698.0,271.0L698.0,274.0L698.0,277.0L698.0,280.0L698.0,283.0L698.0,286.0L698.0,289.0L698.0,292.0L698.0,295.0L698.0,298.0L698.0,301.0L698.0,304.0L698.0,307.0L698.0,310.0L698.0,313.0L698.0,316.0L698.0,319.0L698.0,322.0L698.0,325.0L698.0,328.0L698.0,331.0L698.0,334.0L698.0,337.0L698.0,340.0L698.0,343.0L698.0,346.0L698.0,349.0L698.0,352.0L698.0,355.0L698.0,358.0L698.0,361.0L698.0,364.0L698.0,367.0L698.0,370.0L698.0,373.0L698.0,376.0L698.0,379.0L698.0,382.0L698.0,385.0L698.0,388.0L698.0,391.0L698.0,394.0L698.0,397.0L698.0,400.0L698.0,403.0L698.0,406.0L698.0,409.0L698.0,412.0L698.0,415.0L698.0,418.0L698.0,421.0L698.0,424.0L698.0,427.0L698.0,430.0L698.0,433.0L698.0,436.0L698.0,439.0L698.0,442.0L698.0,445.0L698.0,448.0L698.0,451.0L698.0,454.0L698.0,457.0L698.0,460.0L698.0,463.0L698.0,466.0L698.0,469.0L698.0,472.0L698.0,475.0L698.0,478.0L698.0,481.0L698.0,484.0L698.0,487.0L698.0,490.0L698.0,493.0L698.0,496.0L698.0,499.0L698.0,502.0L698.0,505.0L698.0,508.0L698.0,511.0L698.0,514.0L698.0,517.0L698.0,520.0L698.0,523.0L698.0,526.0L698.0,529.0L698.0,532.0L698.0,535.0L698.0,538.0L698.0,541.0L698.0,544.0L698.0,547.0L698.0,550.0L698.0,553.0L698.0,556.0L698.0,559.0L698.0,562.0L698.0,565.0L698.0,568.0L698.0,571.0L698.0,574.0L698.0,577.0L698.0,580.0L698.0,583.0L698.0,586.0L698.0,589.0L698.0,592.0L698.0,595.0L698.0,598.0L698.0,601.0L698.0,604.0L698.0,607.0L698.0,610.0L698.0,613.0L698.0,616.0L698.0,619.0L698.0,622.0L698.0,625.0L698.0,628.0L698.0,631.0L698.0,634.0L698.0,637.0L698.0,640.0L698.0,643.0L698.0,646.0L695.0,646.0L692.0,646.0L689.0,646.0L686.0,646.0L683.0,646.0L680.0,646.0L677.0,646.0L674.0,646.0L671.0,646.0L668.0,646.0L665.0,646.0L662.0,646.0L659.0,646.0L656.0,646.0L653.0,646.0L650.0,646.0L647.0,646.0L644.0,646.0L641.0,646.0L638.0,646.0L635.0,646.0L632.0,646.0L629.0,646.0L626.0,646.0L623.0,646.0L620.0,646.0L617.0,646.0L614.0,646.0L611.0,646.0L608.0,646.0L605.0,646.0L602.0,646.0L599.0,646.0L596.0,646.0L593.0,646.0L590.0,646.0L587.0,646.0L584.0,646.0L581.0,646.0L578.0,646.0L575.0,646.0L572.0,646.0L569.0,646.0L566.0,646.0L563.0,646.0L560.0,646.0L557.0,646.0L554.0,646.0L551.0,646.0L548.0,646.0L545.0,646.0L542.0,646.0L539.0,646.0L536.0,646.0L533.0,646.0L530.0,646.0L527.0,646.0L524.0,646.0L521.0,646.0L518.0,646.0L515.0,646.0L512.0,646.0L509.0,646.0L506.0,646.0L503.0,646.0L500.0,646.0L497.0,646.0L494.0,646.0L491.0,646.0L488.0,646.0L485.0,646.0L482.0,646.0L479.0,646.0L476.0,646.0L473.0,646.0L470.0,646.0L467.0,646.0L464.0,646.0L461.0,646.0L458.0,646.0L455.0,646.0L452.0,646.0L449.0,646.0L446.0,646.0L443.0,646.0L440.0,646.0L437.0,646.0L434.0,646.0L431.0,646.0L428.0,646.0L425.0,646.0L422.0,646.0L419.0,646.0L416.0,646.0L413.0,646.0L410.0,646.0L407.0,646.0L404.0,646.0L401.0,646.0L398.0,646.0L395.0,646.0L392.0,646.0L389.0,646.0L386.0,646.0L383.0,646.0L380.0,646.0L377.0,646.0L374.0,646.0L371.0,646.0L368.0,646.0L365.0,646.0L362.0,646.0L359.0,646.0L356.0,646.0L353.0,646.0L350.0,646.0L347.0,646.0L344.0,646.0L341.0,646.0L338.0,646.0L335.0,646.0L332.0,646.0L329.0,646.0L326.0,646.0L323.0,646.0L320.0,646.0L317.0,646.0L314.0,646.0L311.0,646.0L308.0,646.0L305.0,646.0L302.0,646.0L299.0,646.0L296.0,646.0L293.0,646.0L290.0,646.0L287.0,646.0L284.0,646.0L281.0,646.0L278.0,646.0L275.0,646.0L272.0,646.0L269.0,646.0L266.0,646.0L263.0,646.0L260.0,646.0L257.0,646.0L254.0,646.0L251.0,646.0L248.0,646.0L245.0,646.0L242.0,646.0L239.0,646.0L236.0,646.0L233.0,646.0L230.0,646.0L227.0,646.0L224.0,646.0L221.0,646.0L218.0,646.0L215.0,646.0L212.0,646.0L209.0,646.0L206.0,646.0L203.0,646.0L200.0,646.0L197.0,646.0L194.0,646.0L191.0,646.0L188.0,646.0L185.0,646.0L182.0,646.0L179.0,646.0L176.0,646.0L173.0,646.0L170.0,646.0L167.0,646.0L164.0,646.0L161.0,646.0L158.0,646.0L155.0,646.0L152.0,646.0L149.0,646.0L146.0,646.0L143.0,646.0L140.0,646.0L137.0,646.0L134.0,646.0L131.0,646.0L128.0,646.0L125.0,646.0L122.0,646.0L119.0,646.0L116.0,646.0L113.0,646.0L110.0,646.0L107.0,646.0L104.0,646.0L101.0,646.0L98.0,646.0L95.0,646.0L92.0,646.0L89.0,646.0L86.0,646.0L83.0,646.0L80.0,646.0L80.0,643.0L80.0,640.0L80.0,637.0L80.0,634.0L80.0,631.0L80.0,628.0L80.0,625.0L80.0,622.0L80.0,619.0L80.0,616.0L80.0,613.0L80.0,610.0L80.0,607.0L80.0,604.0L80.0,601.0L80.0,598.0L80.0,595.0L80.0,592.0L80.0,589.0L80.0,586.0L80.0,583.0L80.0,580.0L80.0,577.0L80.0,574.0L80.0,571.0L80.0,568.0L80.0,565.0L80.0,562.0L80.0,559.0L80.0,556.0L80.0,553.0L80.0,550.0L80.0,547.0L80.0,544.0L80.0,541.0L80.0,538.0L80.0,535.0L80.0,532.0L80.0,529.0L80.0,526.0L80.0,523.0L80.0,520.0L80.0,517.0L80.0,514.0L80.0,511.0L80.0,508.0L80.0,505.0L80.0,502.0L80.0,499.0L80.0,496.0L80.0,493.0L80.0,490.0L80.0,487.0L80.0,484.0L80.0,481.0L80.0,478.0L80.0,475.0L80.0,472.0L80.0,469.0L80.0,466.0L80.0,463.0L80.0,460.0L80.0,457.0L80.0,454.0L80.0,451.0L80.0,448.0L80.0,445.0L80.0,442.0L80.0,439.0L80.0,436.0L80.0,433.0L80.0,430.0L80.0,427.0L80.0,424.0L80.0,421.0L80.0,418.0L80.0,415.0L80.0,412.0L80.0,409.0L80.0,406.0L80.0,403.0L80.0,400.0L80.0,397.0L80.0,394.0L80.0,391.0L80.0,388.0L80.0,385.0L80.0,382.0L80.0,379.0L80.0,376.0L80.0,373.0L80.0,370.0L80.0,367.0L80.0,364.0L80.0,361.0L80.0,358.0L80.0,355.0L80.0,352.0L80.0,349.0L80.0,346.0L80.0,343.0L80.0,340.0L80.0,337.0L80.0,334.0L80.0,331.0L80.0,328.0L80.0,325.0L80.0,322.0L80.0,319.0L80.0,316.0L80.0,313.0L80.0,310.0L80.0,307.0L80.0,304.0L80.0,301.0L80.0,298.0L80.0,295.0L80.0,292.0L80.0,289.0L80.0,286.0L80.0,283.0L80.0,280.0L80.0,277.0L80.0,274.0L80.0,271.0L80.0,268.0L80.0,265.0L80.0,262.0L80.0,259.0L80.0,256.0L80.0,253.0L80.0,250.0L80.0,247.0L80.0,244.0L80.0,241.0L80.0,238.0L80.0,235.0L80.0,232.0L80.0,229.0L80.0,226.0L80.0,223.0L80.0,220.0L80.0,218.5L83.0,218.6L86.0,218.9L89.0,219.8L89.4,220.0L92.0,221.7L93.5,223.0L95.0,224.4L97.0,226.0L98.0,226.7L101.0,228.5L101.7,229.0L104.0,231.3L104.5,232.0L106.5,235.0L107.0,235.6L109.8,238.0L110.0,238.1L113.0,239.0L116.0,239.3L119.0,239.4L122.0,239.3L125.0,239.2L128.0,239.1L131.0,239.1L134.0,239.2L137.0,239.3L140.0,239.4L143.0,239.5L146.0,239.5L149.0,239.5L152.0,239.5L155.0,239.6L158.0,239.9L161.0,240.8L161.4,241.0L164.0,242.7L165.5,244.0L167.0,245.3L169.6,247.0L170.0,247.2L173.0,248.1L176.0,248.4L179.0,248.5L182.0,248.5L185.0,248.6L188.0,248.9L191.0,249.6L191.9,250.0L194.0,251.0L197.0,252.5L198.1,253.0L200.0,253.5L203.0,254.2L206.0,254.8L209.0,255.7L210.1,256.0L212.0,256.5L215.0,257.1L218.0,257.1L221.0,256.3L221.5,256.0L224.0,254.3L225.4,253.0L227.0,251.5L228.6,250.0L230.0,248.9L232.6,247.0L233.0,246.7L236.0,244.1L236.1,244.0L239.0,241.3L239.4,241.0L242.0,238.6L242.7,238.0L244.1,235.0L243.4,232.0L242.0,230.3L240.2,229.0L239.0,228.4L236.0,227.5L233.0,226.7L231.7,226.0L230.0,225.0L228.0,223.0L227.0,221.1L226.5,220.0L226.2,217.0L227.0,214.2L227.1,214.0L230.0,211.0L230.1,211.0L233.0,210.1L236.0,209.8L239.0,209.9L242.0,210.6L242.8,211.0L245.0,212.0L248.0,213.5L249.0,214.0L251.0,214.6L254.0,215.2L257.0,215.9L260.0,216.7L261.3,217.0L263.0,217.4L266.0,217.6L267.8,217.0L269.0,216.4L270.8,214.0L272.0,211.5L272.1,211.0L272.7,208.0L273.1,205.0L273.4,202.0L273.5,199.0L273.6,196.0L273.8,193.0L274.2,190.0L274.7,187.0L275.0,185.4L275.2,184.0L275.7,181.0L276.3,178.0L277.0,175.0L277.7,172.0L278.0,170.1L278.2,169.0L278.5,166.0L278.8,163.0L278.9,160.0L279.0,157.0L279.0,154.0L279.0,151.0L279.0,148.0L279.0,145.0L279.0,142.0L279.0,139.0L279.0,136.0L279.0,133.0ZM216.7,271.0L215.0,271.8L213.6,274.0L213.5,277.0L214.6,280.0L215.0,280.8L216.5,283.0L218.0,285.1L219.7,286.0L221.0,286.5L222.0,286.0L224.0,283.9L224.4,283.0L224.8,280.0L224.7,277.0L224.0,274.5L223.8,274.0L221.0,271.3L220.0,271.0L218.0,270.6Z"/>
<path fill="#9d5a86" fill-rule="evenodd" d="M284.0,133.0L287.0,133.0L290.0,133.0L293.0,133.0L296.0,133.0L299.0,133.0L302.0,133.0L305.0,133.0L308.0,133.0L311.0,133.0L314.0,133.0L317.0,133.0L320.0,133.0L323.0,133.0L326.0,133.0L329.0,133.0L332.0,133.0L335.0,133.0L338.0,133.0L341.0,133.0L344.0,133.0L347.0,133.0L350.0,133.0L353.0,133.0L356.0,133.0L359.0,133.0L362.0,133.0L365.0,133.0L368.0,133.0L371.0,133.0L374.0,133.0L377.0,133.0L380.0,133.0L383.0,133.0L386.0,133.0L389.0,133.0L392.0,133.0L395.0,133.0L398.0,133.0L401.0,133.0L404.0,133.0L407.0,133.0L410.0,133.0L413.0,133.0L416.0,133.0L419.0,133.0L422.0,133.0L425.0,133.0L428.0,133.0L431.0,133.0L434.0,133.0L437.0,133.0L440.0,133.0L443.0,133.0L446.0,133.0L449.0,133.0L452.0,133.0L455.0,133.0L458.0,133.0L461.0,133.0L464.0,133.0L467.0,133.0L470.0,133.0L473.0,133.0L476.0,133.0L479.0,133.0L482.0,133.0L485.0,133.0L488.0,133.0L491.0,133.0L494.0,133.0L497.0,133.0L500.0,133.0L503.0,133.0L506.0,133.0L509.0,133.0L512.0,133.0L515.0,133.0L518.0,133.0L521.0,133.0L524.0,133.0L527.0,133.0L530.0,133.0L533.0,133.0L536.0,133.0L539.0,133.0L542.0,133.0L545.0,133.0L548.0,133.0L551.0,133.0L554.0,133.0L557.0,133.0L560.0,133.0L563.0,133.0L566.0,133.0L569.0,133.0L572.0,133.0L575.0,133.0L578.0,133.0L581.0,133.0L584.0,133.0L587.0,133.0L590.0,133.0L593.0,133.0L596.0,133.0L599.0,133.0L602.0,133.0L605.0,133.0L608.0,133.0L611.0,133.0L614.0,133.0L617.0,133.0L620.0,133.0L623.0,133.0L626.0,133.0L629.0,133.0L632.0,133.0L635.0,133.0L638.0,133.0L641.0,133.0L644.0,133.0L647.0,133.0L650.0,133.0L653.0,133.0L656.0,133.0L659.0,133.0L662.0,133.0L665.0,133.0L668.0,133.0L671.0,133.0L674.0,133.0L677.0,133.0L680.0,133.0L683.0,133.0L686.0,133.0L689.0,133.0L692.0,133.0L695.0,133.0L698.0,133.0L698.0,136.0L698.0,139.0L698.0,142.0L698.0,145.0L698.0,148.0L698.0,151.0L698.0,154.0L698.0,157.0L698.0,160.0L698.0,163.0L698.0,166.0L698.0,169.0L698.0,172.0L698.0,175.0L698.0,178.0L698.0,181.0L698.0,184.0L698.0,187.0L698.0,190.0L698.0,193.0L698.0,196.0L698.0,199.0L698.0,202.0L698.0,205.0L698.0,208.0L698.0,211.0L698.0,214.0L698.0,217.0L698.0,220.0L698.0,223.0L698.0,226.0L698.0,229.0L698.0,232.0L698.0,235.0L698.0,238.0L698.0,241.0L698.0,244.0L698.0,247.0L698.0,250.0L698.0,253.0L698.0,256.0L698.0,259.0L698.0,262.0L698.0,265.0L698.0,268.0L698.0,271.0L698.0,274.0L698.0,277.0L698.0,280.0L698.0,283.0L698.0,286.0L698.0,289.0L698.0,292.0L698.0,295.0L698.0,298.0L698.0,301.0L698.0,304.0L698.0,307.0L698.0,310.0L698.0,313.0L698.0,316.0L698.0,319.0L698.0,322.0L698.0,325.0L698.0,328.0L698.0,331.0L698.0,334.0L698.0,337.0L698.0,340.0L698.0,343.0L698.0,346.0L698.0,349.0L698.0,352.0L698.0,355.0L698.0,358.0L698.0,361.0L698.0,364.0L698.0,367.0L698.0,370.0L698.0,373.0L698.0,376.0L698.0,379.0L698.0,382.0L698.0,385.0L698.0,388.0L698.0,391.0L698.0,394.0L698.0,397.0L698.0,400.0L698.0,403.0L698.0,406.0L698.0,409.0L698.0,412.0L698.0,415.0L698.0,418.0L698.0,421.0L698.0,424.0L698.0,427.0L698.0,430.0L698.0,433.0L698.0,436.0L698.0,439.0L698.0,442.0L698.0,445.0L698.0,448.0L698.0,451.0L698.0,454.0L698.0,457.0L698.0,460.0L698.0,463.0L698.0,466.0L698.0,469.0L698.0,472.0L698.0,475.0L698.0,478.0L698.0,481.0L698.0,484.0L698.0,487.0L698.0,490.0L698.0,493.0L698.0,496.0L698.0,499.0L698.0,502.0L698.0,505.0L698.0,508.0L698.0,511.0L698.0,514.0L698.0,517.0L698.0,520.0L698.0,523.0L698.0,526.0L698.0,529.0L698.0,532.0L698.0,535.0L698.0,538.0L698.0,541.0L698.0,544.0L698.0,547.0L698.0,550.0L698.0,553.0L698.0,556.0L698.0,559.0L698.0,562.0L698.0,565.0L698.0,568.0L698.0,571.0L698.0,574.0L698.0,577.0L698.0,580.0L698.0,583.0L698.0,586.0L698.0,589.0L698.0,592.0L698.0,595.0L698.0,598.0L698.0,601.0L698.0,604.0L698.0,607.0L698.0,610.0L698.0,613.0L698.0,616.0L698.0,619.0L698.0,622.0L698.0,625.0L698.0,628.0L698.0,631.0L698.0,634.0L698.0,637.0L698.0,640.0L698.0,643.0L698.0,646.0L695.0,646.0L692.0,646.0L689.0,646.0L686.0,646.0L683.0,646.0L680.0,646.0L677.0,646.0L674.0,646.0L671.0,646.0L668.0,646.0L665.0,646.0L662.0,646.0L659.0,646.0L656.0,646.0L653.0,646.0L650.0,646.0L647.0,646.0L644.0,646.0L641.0,646.0L638.0,646.0L635.0,646.0L632.0,646.0L629.0,646.0L626.0,646.0L623.0,646.0L620.0,646.0L617.0,646.0L614.0,646.0L611.0,646.0L608.0,646.0L605.0,646.0L602.0,646.0L599.0,646.0L596.0,646.0L593.0,646.0L590.0,646.0L587.0,646.0L584.0,646.0L581.0,646.0L578.0,646.0L575.0,646.0L572.0,646.0L569.0,646.0L566.0,646.0L563.0,646.0L560.0,646.0L557.0,646.0L554.0,646.0L551.0,646.0L548.0,646.0L545.0,646.0L542.0,646.0L539.0,646.0L536.0,646.0L533.0,646.0L530.0,646.0L527.0,646.0L524.0,646.0L521.0,646.0L518.0,646.0L515.0,646.0L512.0,646.0L509.0,646.0L506.0,646.0L503.0,646.0L500.0,646.0L497.0,646.0L494.0,646.0L491.0,646.0L488.0,646.0L485.0,646.0L482.0,646.0L479.0,646.0L476.0,646.0L473.0,646.0L470.0,646.0L467.0,646.0L464.0,646.0L461.0,646.0L458.0,646.0L455.0,646.0L452.0,646.0L449.0,646.0L446.0,646.0L443.0,646.0L440.0,646.0L437.0,646.0L434.0,646.0L431.0,646.0L428.0,646.0L425.0,646.0L422.0,646.0L419.0,646.0L416.0,646.0L413.0,646.0L410.0,646.0L407.0,646.0L404.0,646.0L401.0,646.0L398.0,646.0L395.0,646.0L392.0,646.0L389.0,646.0L386.0,646.0L383.0,646.0L380.0,646.0L377.0,646.0L374.0,646.0L371.0,646.0L368.0,646.0L365.0,646.0L362.0,646.0L359.0,646.0L356.0,646.0L353.0,646.0L350.0,646.0L347.0,646.0L344.0,646.0L341.0,646.0L338.0,646.0L335.0,646.0L332.0,646.0L329.0,646.0L326.0,646.0L323.0,646.0L320.0,646.0L317.0,646.0L314.0,646.0L311.0,646.0L308.0,646.0L305.0,646.0L302.0,646.0L299.0,646.0L296.0,646.0L293.0,646.0L290.0,646.0L287.0,646.0L284.0,646.0L281.0,646.0L278.0,646.0L275.0,646.0L272.0,646.0L269.0,646.0L266.0,646.0L263.0,646.0L260.0,646.0L257.0,646.0L254.0,646.0L251.0,646.0L248.0,646.0L245.0,646.0L242.0,646.0L239.0,646.0L236.0,646.0L233.0,646.0L230.0,646.0L227.0,646.0L224.0,646.0L221.0,646.0L218.0,646.0L215.0,646.0L212.0,646.0L209.0,646.0L206.0,646.0L203.0,646.0L200.0,646.0L197.0,646.0L194.0,646.0L191.0,646.0L188.0,646.0L185.0,646.0L182.0,646.0L179.0,646.0L176.0,646.0L173.0,646.0L170.0,646.0L167.0,646.0L164.0,646.0L161.0,646.0L158.0,646.0L155.0,646.0L152.0,646.0L149.0,646.0L146.0,646.0L143.0,646.0L140.0,646.0L137.0,646.0L134.0,646.0L131.0,646.0L128.0,646.0L125.0,646.0L122.0,646.0L119.0,646.0L116.0,646.0L113.0,646.0L110.0,646.0L107.0,646.0L104.0,646.0L101.0,646.0L98.0,646.0L95.0,646.0L92.0,646.0L89.0,646.0L86.0,646.0L83.0,646.0L80.0,646.0L80.0,643.0L80.0,640.0L80.0,637.0L80.0,634.0L80.0,631.0L80.0,628.0L80.0,625.0L80.0,622.0L80.0,619.0L80.0,616.0L80.0,613.0L80.0,610.0L80.0,607.0L80.0,604.0L80.0,601.0L80.0,598.0L80.0,595.0L80.0,592.0L80.0,589.0L80.0,586.0L80.0,583.0L80.0,580.0L80.0,577.0L80.0,574.0L80.0,571.0L80.0,568.0L80.0,565.0L80.0,562.0L80.0,559.0L80.0,556.0L80.0,553.0L80.0,550.0L80.0,547.0L80.0,544.0L80.0,541.0L80.0,538.0L80.0,535.0L80.0,532.0L80.0,529.0L80.0,526.0L80.0,523.0L80.0,520.0L80.0,517.0L80.0,514.0L80.0,511.0L80.0,508.0L80.0,505.0L80.0,502.0L80.0,499.0L80.0,496.0L80.0,493.0L80.0,490.0L80.0,487.0L80.0,484.0L80.0,481.0L80.0,478.0L80.0,475.0L80.0,472.0L80.0,469.0L80.0,466.0L80.0,463.0L80.0,460.0L80.0,457.0L80.0,454.0L80.0,451.0L80.0,448.0L80.0,445.0L80.0,442.0L80.0,439.0L80.0,436.0L80.0,433.0L80.0,430.0L80.0,427.0L80.0,424.0L80.0,421.0L80.0,418.0L80.0,415.0L80.0,412.0L80.0,409.0L80.0,406.0L80.0,403.0L80.0,400.0L80.0,397.0L80.0,394.0L80.0,391.0L80.0,388.0L80.0,385.0L80.0,382.0L80.0,379.0L80.0,376.0L80.0,373.0L80.0,370.0L80.0,367.0L80.0,364.0L80.0,361.0L80.0,358.0L80.0,355.0L80.0,352.0L80.0,349.0L80.0,346.0L80.0,343.0L80.0,340.0L80.0,337.0L80.0,334.0L80.0,331.0L80.0,328.0L80.0,325.0L80.0,322.0L80.0,319.0L80.0,316.0L80.0,313.0L80.0,310.0L80.0,307.0L80.0,304.0L80.0,301.0L80.0,298.0L80.0,295.0L80.0,292.0L80.0,289.0L80.0,286.0L80.0,283.0L80.0,280.0L80.0,277.0L80.0,274.0L80.0,271.0L80.0,269.0L83.0,269.1L86.0,269.1L89.0,269.1L92.0,269.2L95.0,269.4L98.0,269.8L101.0,270.7L101.5,271.0L104.0,272.6L105.5,274.0L107.0,275.3L109.6,277.0L110.0,277.2L113.0,278.1L116.0,278.5L119.0,278.6L122.0,278.6L125.0,278.4L128.0,278.1L131.0,277.3L131.5,277.0L134.0,275.3L135.5,274.0L137.0,272.7L139.6,271.0L140.0,270.8L143.0,269.9L146.0,269.6L149.0,269.5L152.0,269.5L155.0,269.6L158.0,269.9L161.0,270.8L161.4,271.0L164.0,272.7L165.5,274.0L167.0,275.3L169.5,277.0L170.0,277.3L173.0,278.2L176.0,278.6L179.0,279.0L182.0,279.9L182.2,280.0L185.0,282.3L185.5,283.0L187.4,286.0L188.0,286.9L189.6,289.0L191.0,290.5L192.3,292.0L194.0,294.5L194.3,295.0L195.2,298.0L195.9,301.0L196.9,304.0L197.0,304.1L199.9,307.0L200.0,307.0L203.0,308.0L206.0,308.4L209.0,308.5L212.0,308.5L215.0,308.4L218.0,308.2L221.0,307.3L221.5,307.0L224.0,305.4L225.5,304.0L227.0,302.7L229.7,301.0L230.0,300.8L233.0,299.9L236.0,299.6L239.0,299.5L242.0,299.4L245.0,299.3L248.0,299.1L251.0,298.7L252.9,298.0L254.0,297.4L255.8,295.0L256.1,292.0L255.8,289.0L255.5,286.0L255.5,283.0L256.0,280.0L257.0,277.0L257.0,276.9L258.4,274.0L260.0,271.8L260.8,271.0L263.0,268.7L263.7,268.0L265.3,265.0L265.1,262.0L263.0,259.1L262.8,259.0L260.0,257.8L257.0,257.3L254.0,257.0L251.0,256.8L248.0,256.7L245.0,256.1L244.7,256.0L242.7,253.0L245.0,250.7L246.2,250.0L248.0,249.5L251.0,248.9L254.0,247.8L255.2,247.0L257.0,245.8L259.3,244.0L260.0,243.5L263.0,242.5L266.0,243.0L269.0,243.9L272.0,242.7L272.8,241.0L273.6,238.0L274.1,235.0L274.5,232.0L275.0,229.1L275.0,229.0L275.6,226.0L276.3,223.0L277.1,220.0L278.0,217.0L278.0,216.9L278.7,214.0L279.2,211.0L279.6,208.0L279.8,205.0L280.0,202.0L280.1,199.0L280.1,196.0L280.3,193.0L280.5,190.0L280.8,187.0L281.0,184.9L281.1,184.0L281.4,181.0L281.8,178.0L282.2,175.0L282.6,172.0L283.0,169.0L283.2,166.0L283.4,163.0L283.5,160.0L283.5,157.0L283.5,154.0L283.5,151.0L283.5,148.0L283.5,145.0L283.5,142.0L283.5,139.0L283.5,136.0L283.5,133.0ZM127.9,301.0L127.4,304.0L128.0,304.5L131.0,304.5L131.7,304.0L131.1,301.0L131.0,301.0L128.0,301.0ZM220.8,322.0L218.0,323.9L216.8,325.0L215.0,326.9L214.0,328.0L212.0,330.4L211.5,331.0L210.6,334.0L211.5,337.0L212.0,337.6L214.1,340.0L215.0,340.9L217.1,343.0L218.0,343.9L221.0,345.0L223.8,343.0L224.0,342.7L224.9,340.0L225.6,337.0L226.7,334.0L227.0,333.4L228.9,331.0L230.0,329.8L232.1,328.0L233.0,326.3L233.5,325.0L233.0,324.0L231.0,322.0L230.0,321.6L227.0,321.1L224.0,321.2L221.0,321.9ZM197.0,264.8L200.0,262.8L203.0,263.3L204.6,265.0L204.9,268.0L204.1,271.0L203.0,273.7L202.6,274.0L200.0,275.4L197.7,274.0L197.0,273.1L196.3,271.0L196.1,268.0L196.8,265.0Z"/>
<path fill="#c46478" fill-rule="evenodd" d="M287.0,133.0L290.0,133.0L293.0,133.0L296.0,133.0L299.0,133.0L302.0,133.0L305.0,133.0L308.0,133.0L311.0,133.0L314.0,133.0L317.0,133.0L320.0,133.0L323.0,133.0L326.0,133.0L329.0,133.0L332.0,133.0L335.0,133.0L338.0,133.0L341.0,133.0L344.0,133.0L347.0,133.0L350.0,133.0L353.0,133.0L356.0,133.0L359.0,133.0L362.0,133.0L365.0,133.0L368.0,133.0L371.0,133.0L374.0,133.0L377.0,133.0L380.0,133.0L383.0,133.0L386.0,133.0L389.0,133.0L392.0,133.0L395.0,133.0L398.0,133.0L401.0,133.0L404.0,133.0L407.0,133.0L410.0,133.0L413.0,133.0L416.0,133.0L419.0,133.0L422.0,133.0L425.0,133.0L428.0,133.0L431.0,133.0L434.0,133.0L437.0,133.0L440.0,133.0L443.0,133.0L446.0,133.0L449.0,133.0L452.0,133.0L455.0,133.0L458.0,133.0L461.0,133.0L464.0,133.0L467.0,133.0L470.0,133.0L473.0,133.0L476.0,133.0L479.0,133.0L482.0,133.0L485.0,133.0L488.0,133.0L491.0,133.0L494.0,133.0L497.0,133.0L500.0,133.0L503.0,133.0L506.0,133.0L509.0,133.0L512.0,133.0L515.0,133.0L518.0,133.0L521.0,133.0L524.0,133.0L527.0,133.0L530.0,133.0L533.0,133.0L536.0,133.0L539.0,133.0L542.0,133.0L545.0,133.0L548.0,133.0L551.0,133.0L554.0,133.0L557.0,133.0L560.0,133.0L563.0,133.0L566.0,133.0L569.0,133.0L572.0,133.0L575.0,133.0L578.0,133.0L581.0,133.0L584.0,133.0L587.0,133.0L590.0,133.0L593.0,133.0L596.0,133.0L599.0,133.0L602.0,133.0L605.0,133.0L608.0,133.0L611.0,133.0L614.0,133.0L617.0,133.0L620.0,133.0L623.0,133.0L626.0,133.0L629.0,133.0L632.0,133.0L635.0,133.0L638.0,133.0L641.0,133.0L644.0,133.0L647.0,133.0L650.0,133.0L653.0,133.0L656.0,133.0L659.0,133.0L662.0,133.0L665.0,133.0L668.0,133.0L671.0,133.0L674.0,133.0L677.0,133.0L680.0,133.0L683.0,133.0L686.0,133.0L689.0,133.0L692.0,133.0L695.0,133.0L698.0,133.0L698.0,136.0L698.0,139.0L698.0,142.0L698.0,145.0L698.0,148.0L698.0,151.0L698.0,154.0L698.0,157.0L698.0,160.0L698.0,163.0L698.0,166.0L698.0,169.0L698.0,172.0L698.0,175.0L698.0,178.0L698.0,181.0L698.0,184.0L698.0,187.0L698.0,190.0L698.0,193.0L698.0,196.0L698.0,199.0L698.0,202.0L698.0,205.0L698.0,208.0L698.0,211.0L698.0,214.0L698.0,217.0L698.0,220.0L698.0,223.0L698.0,226.0L698.0,229.0L698.0,232.0L698.0,235.0L698.0,238.0L698.0,241.0L698.0,244.0L698.0,247.0L698.0,250.0L698.0,253.0L698.0,256.0L698.0,259.0L698.0,262.0L698.0,265.0L698.0,268.0L698.0,271.0L698.0,274.0L698.0,277.0L698.0,280.0L698.0,283.0L698.0,286.0L698.0,289.0L698.0,292.0L698.0,295.0L698.0,298.0L698.0,301.0L698.0,304.0L698.0,307.0L698.0,310.0L698.0,313.0L698.0,316.0L698.0,319.0L698.0,322.0L698.0,325.0L698.0,328.0L698.0,331.0L698.0,334.0L698.0,337.0L698.0,340.0L698.0,343.0L698.0,346.0L698.0,349.0L698.0,352.0L698.0,355.0L698.0,358.0L698.0,361.0L698.0,364.0L698.0,367.0L698.0,370.0L698.0,373.0L698.0,376.0L698.0,379.0L698.0,382.0L698.0,385.0L698.0,388.0L698.0,391.0L698.0,394.0L698.0,397.0L698.0,400.0L698.0,403.0L698.0,406.0L698.0,409.0L698.0,412.0L698.0,415.0L698.0,418.0L698.0,421.0L698.0,424.0L698.0,427.0L698.0,430.0L698.0,433.0L698.0,436.0L698.0,439.0L698.0,442.0L698.0,445.0L698.0,448.0L698.0,451.0L698.0,454.0L698.0,457.0L698.0,460.0L698.0,463.0L698.0,466.0L698.0,469.0L698.0,472.0L698.0,475.0L698.0,478.0L698.0,481.0L698.0,484.0L698.0,487.0L698.0,490.0L698.0,493.0L698.0,496.0L698.0,499.0L698.0,502.0L698.0,505.0L698.0,508.0L698.0,511.0L698.0,514.0L698.0,517.0L698.0,520.0L698.0,523.0L698.0,526.0L698.0,529.0L698.0,532.0L698.0,535.0L698.0,538.0L698.0,541.0L698.0,544.0L698.0,547.0L698.0,550.0L698.0,553.0L698.0,556.0L698.0,559.0L698.0,562.0L698.0,565.0L698.0,568.0L698.0,571.0L698.0,574.0L698.0,577.0L698.0,580.0L698.0,583.0L698.0,586.0L698.0,589.0L698.0,592.0L698.0,595.0L698.0,598.0L698.0,601.0L698.0,604.0L698.0,607.0L698.0,610.0L698.0,613.0L698.0,616.0L698.0,619.0L698.0,622.0L698.0,625.0L698.0,628.0L698.0,631.0L698.0,634.0L698.0,637.0L698.0,640.0L698.0,643.0L698.0,646.0L695.0,646.0L692.0,646.0L689.0,646.0L686.0,646.0L683.0,646.0L680.0,646.0L677.0,646.0L674.0,646.0L671.0,646.0L668.0,646.0L665.0,646.0L662.0,646.0L659.0,646.0L656.0,646.0L653.0,646.0L650.0,646.0L647.0,646.0L644.0,646.0L641.0,646.0L638.0,646.0L635.0,646.0L632.0,646.0L629.0,646.0L626.0,646.0L623.0,646.0L620.0,646.0L617.0,646.0L614.0,646.0L611.0,646.0L608.0,646.0L605.0,646.0L602.0,646.0L599.0,646.0L596.0,646.0L593.0,646.0L590.0,646.0L587.0,646.0L584.0,646.0L581.0,646.0L578.0,646.0L575.0,646.0L572.0,646.0L569.0,646.0L566.0,646.0L563.0,646.0L560.0,646.0L557.0,646.0L554.0,646.0L551.0,646.0L548.0,646.0L545.0,646.0L542.0,646.0L539.0,646.0L536.0,646.0L533.0,646.0L530.0,646.0L527.0,646.0L524.0,646.0L521.0,646.0L518.0,646.0L515.0,646.0L512.0,646.0L509.0,646.0L506.0,646.0L503.0,646.0L500.0,646.0L497.0,646.0L494.0,646.0L491.0,646.0L488.0,646.0L485.0,646.0L482.0,646.0L479.0,646.0L476.0,646.0L473.0,646.0L470.0,646.0L467.0,646.0L464.0,646.0L461.0,646.0L458.0,646.0L455.0,646.0L452.0,646.0L449.0,646.0L446.0,646.0L443.0,646.0L440.0,646.0L437.0,646.0L434.0,646.0L431.0,646.0L428.0,646.0L425.0,646.0L422.0,646.0L419.0,646.0L416.0,646.0L413.0,646.0L410.0,646.0L407.0,646.0L404.0,646.0L401.0,646.0L398.0,646.0L395.0,646.0L392.0,646.0L389.0,646.0L386.0,646.0L383.0,646.0L380.0,646.0L377.0,646.0L374.0,646.0L371.0,646.0L368.0,646.0L365.0,646.0L362.0,646.0L359.0,646.0L356.0,646.0L353.0,646.0L350.0,646.0L347.0,646.0L344.0,646.0L341.0,646.0L338.0,646.0L335.0,646.0L332.0,646.0L329.0,646.0L326.0,646.0L323.0,646.0L320.0,646.0L317.0,646.0L314.0,646.0L311.0,646.0L308.0,646.0L305.0,646.0L302.0,646.0L299.0,646.0L296.0,646.0L293.0,646.0L290.0,646.0L287.0,646.0L284.0,646.0L281.0,646.0L278.0,646.0L275.0,646.0L272.0,646.0L269.0,646.0L266.0,646.0L263.0,646.0L260.0,646.0L257.0,646.0L254.0,646.0L251.0,646.0L248.0,646.0L245.0,646.0L242.0,646.0L239.0,646.0L236.0,646.0L233.0,646.0L230.0,646.0L227.0,646.0L224.0,646.0L221.0,646.0L218.0,646.0L215.0,646.0L212.0,646.0L209.0,646.0L206.0,646.0L203.0,646.0L200.0,646.0L197.0,646.0L194.0,646.0L191.0,646.0L188.0,646.0L185.0,646.0L182.0,646.0L179.0,646.0L176.0,646.0L173.0,646.0L170.0,646.0L167.0,646.0L164.0,646.0L161.0,646.0L158.0,646.0L155.0,646.0L152.0,646.0L149.0,646.0L146.0,646.0L143.0,646.0L140.0,646.0L137.0,646.0L134.0,646.0L131.0,646.0L128.0,646.0L125.0,646.0L122.0,646.0L119.0,646.0L116.0,646.0L113.0,646.0L110.0,646.0L107.0,646.0L104.0,646.0L101.0,646.0L98.0,646.0L95.0,646.0L92.0,646.0L89.0,646.0L86.0,646.0L83.0,646.0L80.0,646.0L80.0,643.0L80.0,640.0L80.0,637.0L80.0,634.0L80.0,631.0L80.0,628.0L80.0,625.0L80.0,622.0L80.0,619.0L80.0,616.0L80.0,613.0L80.0,610.0L80.0,607.0L80.0,604.0L80.0,601.0L80.0,598.0L80.0,595.0L80.0,592.0L80.0,589.0L80.0,586.0L80.0,583.0L80.0,580.0L80.0,577.0L80.0,574.0L80.0,571.0L80.0,568.0L80.0,565.0L80.0,562.0L80.0,559.0L80.0,556.0L80.0,553.0L80.0,550.0L80.0,547.0L80.0,544.0L80.0,541.0L80.0,538.0L80.0,535.0L80.0,532.0L80.0,529.0L80.0,526.0L80.0,523.0L80.0,520.0L80.0,517.0L80.0,514.0L80.0,511.0L80.0,508.0L80.0,505.0L80.0,502.0L80.0,499.0L80.0,496.0L80.0,493.0L80.0,490.0L80.0,487.0L80.0,484.0L80.0,481.0L80.0,478.0L80.0,475.0L80.0,472.0L80.0,469.0L80.0,466.0L80.0,463.0L80.0,460.0L80.0,457.0L80.0,454.0L80.0,451.0L80.0,448.0L80.0,445.0L80.0,442.0L80.0,439.0L80.0,436.0L80.0,433.0L80.0,430.0L80.0,427.0L80.0,424.0L80.0,421.0L80.0,418.0L80.0,415.0L80.0,412.0L80.0,409.0L80.0,406.0L80.0,403.0L80.0,400.0L80.0,397.0L80.0,394.0L80.0,391.0L80.0,388.0L80.0,385.0L80.0,382.0L80.0,379.0L80.0,376.0L80.0,373.0L80.0,370.0L80.0,367.0L80.0,364.0L80.0,361.0L80.0,358.0L80.0,355.0L80.0,352.0L80.0,349.0L80.0,346.0L80.0,343.0L80.0,340.0L80.0,337.0L80.0,334.0L80.0,331.0L80.0,328.0L80.0,325.0L80.0,322.0L80.0,319.0L80.0,316.0L80.0,313.0L80.0,310.0L80.0,307.0L80.0,304.0L80.0,301.0L80.0,298.0L80.0,295.0L80.0,292.0L80.0,289.0L80.0,286.0L80.0,283.0L80.0,280.0L80.0,278.8L83.0,278.9L86.0,279.2L89.0,280.0L89.1,280.0L92.0,281.9L93.0,283.0L95.0,285.3L95.6,286.0L98.0,288.4L98.7,289.0L101.0,291.0L102.1,292.0L104.0,294.7L104.1,295.0L105.1,298.0L105.7,301.0L106.7,304.0L107.0,304.6L108.6,307.0L110.0,308.6L111.3,310.0L113.0,312.1L113.6,313.0L115.3,316.0L116.0,317.0L117.4,319.0L119.0,321.2L119.6,322.0L120.6,325.0L120.0,328.0L119.0,330.8L118.9,331.0L119.0,331.5L119.6,334.0L122.0,335.1L125.0,335.3L128.0,335.3L131.0,335.5L134.0,336.0L137.0,337.0L137.0,337.0L140.0,338.5L141.8,340.0L143.0,341.8L143.7,343.0L144.5,346.0L144.7,349.0L144.8,352.0L144.7,355.0L144.7,358.0L144.8,361.0L145.1,364.0L146.0,366.5L146.3,367.0L149.0,369.2L152.0,369.2L154.7,367.0L155.0,366.5L155.9,364.0L156.3,361.0L156.8,358.0L157.7,355.0L158.0,354.5L159.6,352.0L161.0,350.5L162.4,349.0L164.0,347.0L164.7,346.0L166.5,343.0L167.0,342.4L169.8,340.0L170.0,339.9L173.0,339.0L176.0,338.7L179.0,339.0L182.0,339.9L182.2,340.0L185.0,342.4L185.5,343.0L187.5,346.0L188.0,346.6L190.8,349.0L191.0,349.1L194.0,350.0L197.0,350.4L200.0,350.5L203.0,350.6L206.0,350.8L209.0,351.4L210.5,352.0L212.0,352.7L215.0,354.8L215.4,355.0L218.0,356.8L221.0,357.5L224.0,356.8L226.6,355.0L227.0,354.7L230.0,352.4L230.5,352.0L233.0,350.1L234.2,349.0L236.0,346.9L236.6,346.0L238.4,343.0L239.0,342.1L240.7,340.0L242.0,338.7L243.8,337.0L245.0,335.8L246.7,334.0L248.0,332.5L249.8,331.0L251.0,329.8L253.3,328.0L254.0,326.8L254.8,325.0L254.0,322.9L253.6,322.0L251.0,319.6L250.5,319.0L248.7,316.0L248.8,313.0L251.0,310.6L252.1,310.0L254.0,309.4L257.0,309.0L260.0,308.8L263.0,308.6L266.0,307.2L266.1,307.0L266.9,304.0L267.1,301.0L267.0,298.0L266.6,295.0L266.0,293.2L265.6,292.0L264.4,289.0L263.5,286.0L263.9,283.0L266.0,280.1L266.1,280.0L269.0,278.7L272.0,277.3L272.5,277.0L275.0,274.5L275.4,274.0L276.5,271.0L277.1,268.0L277.5,265.0L277.8,262.0L278.0,260.1L278.2,259.0L278.7,256.0L279.5,253.0L280.2,250.0L280.8,247.0L281.0,245.7L281.2,244.0L281.3,241.0L281.4,238.0L281.5,235.0L281.6,232.0L281.8,229.0L282.2,226.0L282.6,223.0L283.1,220.0L283.6,217.0L284.0,214.5L284.1,214.0L284.3,211.0L284.5,208.0L284.7,205.0L284.8,202.0L284.8,199.0L284.8,196.0L284.9,193.0L285.0,190.0L285.2,187.0L285.4,184.0L285.5,181.0L285.8,178.0L286.1,175.0L286.3,172.0L286.5,169.0L286.7,166.0L286.8,163.0L286.9,160.0L286.9,157.0L286.9,154.0L286.9,151.0L286.9,148.0L286.9,145.0L286.9,142.0L286.9,139.0L286.9,136.0L286.9,133.0Z"/>
<path fill="#e7765f" fill-rule="evenodd" d="M290.0,133.0L293.0,133.0L296.0,133.0L299.0,133.0L302.0,133.0L305.0,133.0L308.0,133.0L311.0,133.0L314.0,133.0L317.0,133.0L320.0,133.0L323.0,133.0L326.0,133.0L329.0,133.0L332.0,133.0L335.0,133.0L338.0,133.0L341.0,133.0L344.0,133.0L347.0,133.0L350.0,133.0L353.0,133.0L356.0,133.0L359.0,133.0L362.0,133.0L365.0,133.0L368.0,133.0L371.0,133.0L374.0,133.0L377.0,133.0L380.0,133.0L383.0,133.0L386.0,133.0L389.0,133.0L392.0,133.0L395.0,133.0L398.0,133.0L401.0,133.0L404.0,133.0L407.0,133.0L410.0,133.0L413.0,133.0L416.0,133.0L419.0,133.0L422.0,133.0L425.0,133.0L428.0,133.0L431.0,133.0L434.0,133.0L437.0,133.0L440.0,133.0L443.0,133.0L446.0,133.0L449.0,133.0L452.0,133.0L455.0,133.0L458.0,133.0L461.0,133.0L464.0,133.0L467.0,133.0L470.0,133.0L473.0,133.0L476.0,133.0L479.0,133.0L482.0,133.0L485.0,133.0L488.0,133.0L491.0,133.0L494.0,133.0L497.0,133.0L500.0,133.0L503.0,133.0L506.0,133.0L509.0,133.0L512.0,133.0L515.0,133.0L518.0,133.0L521.0,133.0L524.0,133.0L527.0,133.0L530.0,133.0L533.0,133.0L536.0,133.0L539.0,133.0L542.0,133.0L545.0,133.0L548.0,133.0L551.0,133.0L554.0,133.0L557.0,133.0L560.0,133.0L563.0,133.0L566.0,133.0L569.0,133.0L572.0,133.0L575.0,133.0L578.0,133.0L581.0,133.0L584.0,133.0L587.0,133.0L590.0,133.0L593.0,133.0L596.0,133.0L599.0,133.0L602.0,133.0L605.0,133.0L608.0,133.0L611.0,133.0L614.0,133.0L617.0,133.0L620.0,133.0L623.0,133.0L626.0,133.0L629.0,133.0L632.0,133.0L635.0,133.0L638.0,133.0L641.0,133.0L644.0,133.0L647.0,133.0L650.0,133.0L653.0,133.0L656.0,133.0L659.0,133.0L662.0,133.0L665.0,133.0L668.0,133.0L671.0,133.0L674.0,133.0L677.0,133.0L680.0,133.0L683.0,133.0L686.0,133.0L689.0,133.0L692.0,133.0L695.0,133.0L698.0,133.0L698.0,136.0L698.0,139.0L698.0,142.0L698.0,145.0L698.0,148.0L698.0,151.0L698.0,154.0L698.0,157.0L698.0,160.0L698.0,163.0L698.0,166.0L698.0,169.0L698.0,172.0L698.0,175.0L698.0,178.0L698.0,181.0L698.0,184.0L698.0,187.0L698.0,190.0L698.0,193.0L698.0,196.0L698.0,199.0L698.0,202.0L698.0,205.0L698.0,208.0L698.0,211.0L698.0,214.0L698.0,217.0L698.0,220.0L698.0,223.0L698.0,226.0L698.0,229.0L698.0,232.0L698.0,235.0L698.0,238.0L698.0,241.0L698.0,244.0L698.0,247.0L698.0,250.0L698.0,253.0L698.0,256.0L698.0,259.0L698.0,262.0L698.0,265.0L698.0,268.0L698.0,271.0L698.0,274.0L698.0,277.0L698.0,280.0L698.0,283.0L698.0,286.0L698.0,289.0L698.0,292.0L698.0,295.0L698.0,298.0L698.0,301.0L698.0,304.0L698.0,307.0L698.0,310.0L698.0,313.0L698.0,316.0L698.0,319.0L698.0,322.0L698.0,325.0L698.0,328.0L698.0,331.0L698.0,334.0L698.0,337.0L698.0,340.0L698.0,343.0L698.0,346.0L698.0,349.0L698.0,352.0L698.0,355.0L698.0,358.0L698.0,361.0L698.0,364.0L698.0,367.0L698.0,370.0L698.0,373.0L698.0,376.0L698.0,379.0L698.0,382.0L698.0,385.0L698.0,388.0L698.0,391.0L698.0,394.0L698.0,397.0L698.0,400.0L698.0,403.0L698.0,406.0L698.0,409.0L698.0,412.0L698.0,415.0L698.0,418.0L698.0,421.0L698.0,424.0L698.0,427.0L698.0,430.0L698.0,433.0L698.0,436.0L698.0,439.0L698.0,442.0L698.0,445.0L698.0,448.0L698.0,451.0L698.0,454.0L698.0,457.0L698.0,460.0L698.0,463.0L698.0,466.0L698.0,469.0L698.0,472.0L698.0,475.0L698.0,478.0L698.0,481.0L698.0,484.0L698.0,487.0L698.0,490.0L698.0,493.0L698.0,496.0L698.0,499.0L698.0,502.0L698.0,505.0L698.0,508.0L698.0,511.0L698.0,514.0L698.0,517.0L698.0,520.0L698.0,523.0L698.0,526.0L698.0,529.0L698.0,532.0L698.0,535.0L698.0,538.0L698.0,541.0L698.0,544.0L698.0,547.0L698.0,550.0L698.0,553.0L698.0,556.0L698.0,559.0L698.0,562.0L698.0,565.0L698.0,568.0L698.0,571.0L698.0,574.0L698.0,577.0L698.0,580.0L698.0,583.0L698.0,586.0L698.0,589.0L698.0,592.0L698.0,595.0L698.0,598.0L698.0,601.0L698.0,604.0L698.0,607.0L698.0,610.0L698.0,613.0L698.0,616.0L698.0,619.0L698.0,622.0L698.0,625.0L698.0,628.0L698.0,631.0L698.0,634.0L698.0,637.0L698.0,640.0L698.0,643.0L698.0,646.0L695.0,646.0L692.0,646.0L689.0,646.0L686.0,646.0L683.0,646.0L680.0,646.0L677.0,646.0L674.0,646.0L671.0,646.0L668.0,646.0L665.0,646.0L662.0,646.0L659.0,646.0L656.0,646.0L653.0,646.0L650.0,646.0L647.0,646.0L644.0,646.0L641.0,646.0L638.0,646.0L635.0,646.0L632.0,646.0L629.0,646.0L626.0,646.0L623.0,646.0L620.0,646.0L617.0,646.0L614.0,646.0L611.0,646.0L608.0,646.0L605.0,646.0L602.0,646.0L599.0,646.0L596.0,646.0L593.0,646.0L590.0,646.0L587.0,646.0L584.0,646.0L581.0,646.0L578.0,646.0L575.0,646.0L572.0,646.0L569.0,646.0L566.0,646.0L563.0,646.0L560.0,646.0L557.0,646.0L554.0,646.0L551.0,646.0L548.0,646.0L545.0,646.0L542.0,646.0L539.0,646.0L536.0,646.0L533.0,646.0L530.0,646.0L527.0,646.0L524.0,646.0L521.0,646.0L518.0,646.0L515.0,646.0L512.0,646.0L509.0,646.0L506.0,646.0L503.0,646.0L500.0,646.0L497.0,646.0L494.0,646.0L491.0,646.0L488.0,646.0L485.0,646.0L482.0,646.0L479.0,646.0L476.0,646.0L473.0,646.0L470.0,646.0L467.0,646.0L464.0,646.0L461.0,646.0L458.0,646.0L455.0,646.0L452.0,646.0L449.0,646.0L446.0,646.0L443.0,646.0L440.0,646.0L437.0,646.0L434.0,646.0L431.0,646.0L428.0,646.0L425.0,646.0L422.0,646.0L419.0,646.0L416.0,646.0L413.0,646.0L410.0,646.0L407.0,646.0L404.0,646.0L401.0,646.0L398.0,646.0L395.0,646.0L392.0,646.0L389.0,646.0L386.0,646.0L383.0,646.0L380.0,646.0L377.0,646.0L374.0,646.0L371.0,646.0L368.0,646.0L365.0,646.0L362.0,646.0L359.0,646.0L356.0,646.0L353.0,646.0L350.0,646.0L347.0,646.0L344.0,646.0L341.0,646.0L338.0,646.0L335.0,646.0L332.0,646.0L329.0,646.0L326.0,646.0L323.0,646.0L320.0,646.0L317.0,646.0L314.0,646.0L311.0,646.0L308.0,646.0L305.0,646.0L302.0,646.0L299.0,646.0L296.0,646.0L293.0,646.0L290.0,646.0L287.0,646.0L284.0,646.0L281.0,646.0L278.0,646.0L275.0,646.0L272.0,646.0L269.0,646.0L266.0,646.0L263.0,646.0L260.0,646.0L257.0,646.0L254.0,646.0L251.0,646.0L248.0,646.0L245.0,646.0L242.0,646.0L239.0,646.0L236.0,646.0L233.0,646.0L230.0,646.0L227.0,646.0L224.0,646.0L221.0,646.0L218.0,646.0L215.0,646.0L212.0,646.0L209.0,646.0L206.0,646.0L203.0,646.0L200.0,646.0L197.0,646.0L194.0,646.0L191.0,646.0L188.0,646.0L185.0,646.0L182.0,646.0L179.0,646.0L176.0,646.0L173.0,646.0L170.0,646.0L167.0,646.0L164.0,646.0L161.0,646.0L158.0,646.0L155.0,646.0L152.0,646.0L149.0,646.0L146.0,646.0L143.0,646.0L140.0,646.0L137.0,646.0L134.0,646.0L131.0,646.0L128.0,646.0L125.0,646.0L122.0,646.0L119.0,646.0L116.0,646.0L113.0,646.0L110.0,646.0L107.0,646.0L104.0,646.0L101.0,646.0L98.0,646.0L95.0,646.0L92.0,646.0L89.0,646.0L86.0,646.0L83.0,646.0L80.0,646.0L80.0,643.0L80.0,640.0L80.0,637.0L80.0,634.0L80.0,631.0L80.0,628.0L80.0,625.0L80.0,622.0L80.0,619.0L80.0,616.0L80.0,613.0L80.0,610.0L80.0,607.0L80.0,604.0L80.0,601.0L80.0,598.0L80.0,595.0L80.0,592.0L80.0,589.0L80.0,586.0L80.0,583.0L80.0,580.0L80.0,577.0L80.0,574.0L80.0,571.0L80.0,568.0L80.0,565.0L80.0,562.0L80.0,559.0L80.0,556.0L80.0,553.0L80.0,550.0L80.0,547.0L80.0,544.0L80.0,541.0L80.0,538.0L80.0,535.0L80.0,532.0L80.0,529.0L80.0,526.0L80.0,523.0L80.0,520.0L80.0,517.0L80.0,514.0L80.0,511.0L80.0,508.0L80.0,505.0L80.0,502.0L80.0,499.0L80.0,496.0L80.0,493.0L80.0,490.0L80.0,487.0L80.0,484.0L80.0,481.0L80.0,478.0L80.0,475.0L80.0,472.0L80.0,469.0L80.0,466.0L80.0,463.0L80.0,460.0L80.0,457.0L80.0,454.0L80.0,451.0L80.0,448.0L80.0,445.0L80.0,442.0L80.0,439.0L80.0,436.0L80.0,433.0L80.0,430.0L80.0,427.0L80.0,424.0L80.0,421.0L80.0,418.0L80.0,415.0L80.0,412.0L80.0,409.0L80.0,406.0L80.0,403.0L80.0,400.0L80.0,397.0L80.0,394.0L80.0,391.0L80.0,388.0L80.0,385.0L80.0,382.0L80.0,379.0L80.0,376.0L80.0,373.0L80.0,370.0L80.0,367.0L80.0,364.0L80.0,361.0L80.0,358.0L80.0,355.0L80.0,352.0L80.0,350.1L83.0,350.1L86.0,350.4L89.0,351.1L90.8,352.0L92.0,352.6L95.0,354.8L95.3,355.0L98.0,356.6L101.0,356.9L103.8,355.0L104.0,354.7L105.1,352.0L105.9,349.0L106.6,346.0L107.0,345.2L110.0,343.1L113.0,344.7L114.7,346.0L116.0,347.0L119.0,348.7L120.6,349.0L122.0,349.7L123.7,352.0L123.6,355.0L123.5,358.0L123.4,361.0L123.1,364.0L122.3,367.0L122.0,367.5L120.5,370.0L119.0,372.2L118.4,373.0L117.6,376.0L118.6,379.0L119.0,379.5L121.0,382.0L122.0,383.0L123.8,385.0L125.0,386.2L127.7,388.0L128.0,388.2L131.0,389.0L134.0,389.3L137.0,389.4L140.0,389.4L143.0,389.4L146.0,389.4L149.0,389.5L152.0,389.5L155.0,389.5L158.0,389.5L161.0,389.5L164.0,389.6L167.0,389.9L170.0,390.7L170.5,391.0L173.0,392.8L174.2,394.0L176.0,396.0L177.1,397.0L179.0,398.3L182.0,398.8L185.0,397.2L185.2,397.0L187.4,394.0L188.0,393.3L190.8,391.0L191.0,390.9L194.0,390.0L197.0,389.7L200.0,390.0L203.0,390.9L203.2,391.0L206.0,393.1L206.9,394.0L209.0,396.5L210.0,397.0L212.0,397.9L214.5,397.0L215.0,396.8L218.0,394.2L218.5,394.0L221.0,393.1L223.0,394.0L224.0,394.5L226.1,397.0L227.0,397.9L229.8,400.0L230.0,400.1L233.0,400.9L236.0,401.1L239.0,400.7L241.5,400.0L242.0,399.8L245.0,397.0L245.0,397.0L246.1,394.0L246.5,391.0L246.9,388.0L247.9,385.0L248.0,384.8L250.1,382.0L251.0,381.1L253.4,379.0L254.0,377.9L254.8,376.0L254.0,374.1L253.4,373.0L251.0,370.9L250.1,370.0L248.0,367.2L247.9,367.0L247.0,364.0L246.7,361.0L247.0,358.0L248.0,355.0L248.0,354.9L250.5,352.0L251.0,351.6L254.0,349.6L254.7,349.0L257.0,346.7L257.6,346.0L259.6,343.0L260.0,342.5L262.9,340.0L263.0,340.0L266.0,339.0L269.0,338.6L272.0,338.5L275.0,338.5L278.0,338.4L281.0,338.2L284.0,337.4L284.8,337.0L287.0,335.4L288.1,334.0L289.1,331.0L289.3,328.0L288.7,325.0L287.0,322.5L286.5,322.0L284.0,320.1L282.8,319.0L281.0,316.6L280.8,316.0L280.0,313.0L279.3,310.0L278.5,307.0L278.0,305.1L277.8,304.0L277.4,301.0L277.5,298.0L278.0,296.1L278.5,295.0L281.0,292.6L284.0,292.2L287.0,293.5L288.9,295.0L290.0,296.3L291.8,298.0L293.0,299.3L296.0,300.4L299.0,300.2L302.0,299.7L305.0,299.2L308.0,298.6L309.4,298.0L311.0,296.6L311.8,295.0L311.6,292.0L311.0,290.7L310.1,289.0L308.3,286.0L308.0,285.6L306.0,283.0L305.0,281.9L303.2,280.0L302.0,278.8L300.3,277.0L299.0,275.6L297.7,274.0L296.0,272.0L295.2,271.0L293.0,268.0L293.0,268.0L291.2,265.0L290.0,262.4L289.8,262.0L288.6,259.0L287.7,256.0L287.2,253.0L287.0,251.5L286.8,250.0L286.6,247.0L286.5,244.0L286.4,241.0L286.4,238.0L286.4,235.0L286.5,232.0L286.6,229.0L286.8,226.0L287.0,223.9L287.1,223.0L287.3,220.0L287.6,217.0L287.8,214.0L288.0,211.0L288.1,208.0L288.2,205.0L288.3,202.0L288.3,199.0L288.3,196.0L288.4,193.0L288.5,190.0L288.6,187.0L288.7,184.0L288.8,181.0L289.0,178.0L289.2,175.0L289.3,172.0L289.5,169.0L289.6,166.0L289.7,163.0L289.7,160.0L289.7,157.0L289.7,154.0L289.7,151.0L289.7,148.0L289.7,145.0L289.7,142.0L289.7,139.0L289.7,136.0L289.7,133.0ZM298.9,391.0L299.0,391.3L299.3,391.0L299.0,390.4ZM116.4,565.0L116.0,565.1L113.0,566.8L111.6,568.0L110.0,570.8L109.9,571.0L109.5,574.0L109.9,577.0L110.0,577.2L111.6,580.0L113.0,581.2L116.0,582.9L116.4,583.0L119.0,583.7L122.0,584.0L125.0,584.1L128.0,584.0L131.0,583.7L133.6,583.0L134.0,582.9L137.0,581.2L138.4,580.0L140.0,577.2L140.1,577.0L140.5,574.0L140.1,571.0L140.0,570.8L138.4,568.0L137.0,566.8L134.0,565.1L133.6,565.0L131.0,564.3L128.0,564.0L125.0,563.9L122.0,564.0L119.0,564.3ZM83.0,290.9L86.0,291.4L87.2,292.0L89.0,293.1L90.9,295.0L92.0,296.8L92.6,298.0L93.2,301.0L93.4,304.0L93.4,307.0L93.6,310.0L93.9,313.0L94.8,316.0L95.0,316.3L97.0,319.0L98.0,320.1L100.2,322.0L101.0,323.6L101.5,325.0L101.0,326.0L99.1,328.0L98.0,328.4L95.0,329.0L92.0,329.2L89.0,329.4L86.0,329.5L83.0,329.5L80.0,329.5L80.0,328.0L80.0,325.0L80.0,322.0L80.0,319.0L80.0,316.0L80.0,313.0L80.0,310.0L80.0,307.0L80.0,304.0L80.0,301.0L80.0,298.0L80.0,295.0L80.0,292.0L80.0,290.7ZM128.0,345.4L131.0,346.0L128.1,349.0L128.0,349.0L126.6,349.0L126.7,346.0Z"/>
<path fill="#f8913f" fill-rule="evenodd" d="M293.0,133.0L296.0,133.0L299.0,133.0L302.0,133.0L305.0,133.0L308.0,133.0L311.0,133.0L314.0,133.0L317.0,133.0L320.0,133.0L323.0,133.0L326.0,133.0L329.0,133.0L332.0,133.0L335.0,133.0L338.0,133.0L341.0,133.0L344.0,133.0L347.0,133.0L350.0,133.0L353.0,133.0L356.0,133.0L359.0,133.0L362.0,133.0L365.0,133.0L368.0,133.0L371.0,133.0L374.0,133.0L377.0,133.0L380.0,133.0L383.0,133.0L386.0,133.0L389.0,133.0L392.0,133.0L395.0,133.0L398.0,133.0L401.0,133.0L404.0,133.0L407.0,133.0L410.0,133.0L413.0,133.0L416.0,133.0L419.0,133.0L422.0,133.0L425.0,133.0L428.0,133.0L431.0,133.0L434.0,133.0L437.0,133.0L440.0,133.0L443.0,133.0L446.0,133.0L449.0,133.0L452.0,133.0L455.0,133.0L458.0,133.0L461.0,133.0L464.0,133.0L467.0,133.0L470.0,133.0L473.0,133.0L476.0,133.0L479.0,133.0L482.0,133.0L485.0,133.0L488.0,133.0L491.0,133.0L494.0,133.0L497.0,133.0L500.0,133.0L503.0,133.0L506.0,133.0L509.0,133.0L512.0,133.0L515.0,133.0L518.0,133.0L521.0,133.0L524.0,133.0L527.0,133.0L530.0,133.0L533.0,133.0L536.0,133.0L539.0,133.0L542.0,133.0L545.0,133.0L548.0,133.0L551.0,133.0L554.0,133.0L557.0,133.0L560.0,133.0L563.0,133.0L566.0,133.0L569.0,133.0L572.0,133.0L575.0,133.0L578.0,133.0L581.0,133.0L584.0,133.0L587.0,133.0L590.0,133.0L593.0,133.0L596.0,133.0L599.0,133.0L602.0,133.0L605.0,133.0L608.0,133.0L611.0,133.0L614.0,133.0L617.0,133.0L620.0,133.0L623.0,133.0L626.0,133.0L629.0,133.0L632.0,133.0L635.0,133.0L638.0,133.0L641.0,133.0L644.0,133.0L647.0,133.0L650.0,133.0L653.0,133.0L656.0,133.0L659.0,133.0L662.0,133.0L665.0,133.0L668.0,133.0L671.0,133.0L674.0,133.0L677.0,133.0L680.0,133.0L683.0,133.0L686.0,133.0L689.0,133.0L692.0,133.0L695.0,133.0L698.0,133.0L698.0,136.0L698.0,139.0L698.0,142.0L698.0,145.0L698.0,148.0L698.0,151.0L698.0,154.0L698.0,157.0L698.0,160.0L698.0,163.0L698.0,166.0L698.0,169.0L698.0,172.0L698.0,175.0L698.0,178.0L698.0,181.0L698.0,184.0L698.0,187.0L698.0,190.0L698.0,193.0L698.0,196.0L698.0,199.0L698.0,202.0L698.0,205.0L698.0,208.0L698.0,211.0L698.0,214.0L698.0,217.0L698.0,220.0L698.0,223.0L698.0,226.0L698.0,229.0L698.0,232.0L698.0,235.0L698.0,238.0L698.0,241.0L698.0,244.0L698.0,247.0L698.0,250.0L698.0,253.0L698.0,256.0L698.0,259.0L698.0,262.0L698.0,265.0L698.0,268.0L698.0,271.0L698.0,274.0L698.0,277.0L698.0,280.0L698.0,283.0L698.0,286.0L698.0,289.0L698.0,292.0L698.0,295.0L698.0,298.0L698.0,301.0L698.0,304.0L698.0,307.0L698.0,310.0L698.0,313.0L698.0,316.0L698.0,319.0L698.0,322.0L698.0,325.0L698.0,328.0L698.0,331.0L698.0,334.0L698.0,337.0L698.0,340.0L698.0,343.0L698.0,346.0L698.0,349.0L698.0,352.0L698.0,355.0L698.0,358.0L698.0,361.0L698.0,364.0L698.0,367.0L698.0,370.0L698.0,373.0L698.0,376.0L698.0,379.0L698.0,382.0L698.0,385.0L698.0,388.0L698.0,391.0L698.0,394.0L698.0,397.0L698.0,400.0L698.0,403.0L698.0,406.0L698.0,409.0L698.0,412.0L698.0,415.0L698.0,418.0L698.0,421.0L698.0,424.0L698.0,427.0L698.0,430.0L698.0,433.0L698.0,436.0L698.0,439.0L698.0,442.0L698.0,445.0L698.0,448.0L698.0,451.0L698.0,454.0L698.0,457.0L698.0,460.0L698.0,463.0L698.0,466.0L698.0,469.0L698.0,472.0L698.0,475.0L698.0,478.0L698.0,481.0L698.0,484.0L698.0,487.0L698.0,490.0L698.0,493.0L698.0,496.0L698.0,499.0L698.0,502.0L698.0,505.0L698.0,508.0L698.0,511.0L698.0,514.0L698.0,517.0L698.0,520.0L698.0,523.0L698.0,526.0L698.0,529.0L698.0,532.0L698.0,535.0L698.0,538.0L698.0,541.0L698.0,544.0L698.0,547.0L698.0,550.0L698.0,553.0L698.0,556.0L698.0,559.0L698.0,562.0L698.0,565.0L698.0,568.0L698.0,571.0L698.0,574.0L698.0,577.0L698.0,580.0L698.0,583.0L698.0,586.0L698.0,589.0L698.0,592.0L698.0,595.0L698.0,598.0L698.0,601.0L698.0,604.0L698.0,607.0L698.0,610.0L698.0,613.0L698.0,616.0L698.0,619.0L698.0,622.0L698.0,625.0L698.0,628.0L698.0,631.0L698.0,634.0L698.0,637.0L698.0,640.0L698.0,643.0L698.0,646.0L695.0,646.0L692.0,646.0L689.0,646.0L686.0,646.0L683.0,646.0L680.0,646.0L677.0,646.0L674.0,646.0L671.0,646.0L668.0,646.0L665.0,646.0L662.0,646.0L659.0,646.0L656.0,646.0L653.0,646.0L650.0,646.0L647.0,646.0L644.0,646.0L641.0,646.0L638.0,646.0L635.0,646.0L632.0,646.0L629.0,646.0L626.0,646.0L623.0,646.0L620.0,646.0L617.0,646.0L614.0,646.0L611.0,646.0L608.0,646.0L605.0,646.0L602.0,646.0L599.0,646.0L596.0,646.0L593.0,646.0L590.0,646.0L587.0,646.0L584.0,646.0L581.0,646.0L578.0,646.0L575.0,646.0L572.0,646.0L569.0,646.0L566.0,646.0L563.0,646.0L560.0,646.0L557.0,646.0L554.0,646.0L551.0,646.0L548.0,646.0L545.0,646.0L542.0,646.0L539.0,646.0L536.0,646.0L533.0,646.0L531.6,646.0L531.5,643.0L531.1,640.0L530.5,637.0L530.0,635.5L529.5,634.0L528.1,631.0L527.0,629.3L525.9,628.0L524.0,626.5L521.0,625.0L521.0,625.0L518.0,624.2L515.0,623.9L512.0,623.7L509.0,623.7L506.0,623.7L503.0,623.7L500.0,623.7L497.0,623.7L494.0,623.7L491.0,623.7L488.0,623.9L485.0,624.2L482.0,625.0L482.0,625.0L479.0,626.5L477.1,628.0L476.0,629.2L474.9,631.0L473.5,634.0L473.0,635.4L472.5,637.0L471.8,640.0L471.4,643.0L471.3,646.0L470.0,646.0L467.0,646.0L464.0,646.0L461.0,646.0L458.0,646.0L455.0,646.0L452.0,646.0L450.7,646.0L450.7,643.0L450.7,640.0L450.7,637.0L450.7,634.0L450.7,631.0L450.7,628.0L450.6,625.0L450.6,622.0L450.5,619.0L450.5,616.0L450.5,613.0L450.4,610.0L450.4,607.0L450.4,604.0L450.2,601.0L449.8,598.0L449.0,595.1L449.0,595.0L447.2,592.0L446.0,590.6L443.2,589.0L443.0,588.9L440.0,588.5L437.0,588.9L436.8,589.0L434.0,590.6L432.8,592.0L431.1,595.0L431.0,595.4L430.3,598.0L429.9,601.0L429.7,604.0L429.6,607.0L429.2,610.0L428.4,613.0L428.0,614.0L427.1,616.0L425.0,618.8L424.8,619.0L422.0,621.0L419.9,622.0L419.0,622.4L416.0,623.1L413.0,623.5L410.0,623.7L407.0,623.9L404.0,624.2L401.0,625.0L401.0,625.0L398.0,626.5L396.1,628.0L395.0,629.3L393.9,631.0L392.5,634.0L392.0,635.5L391.5,637.0L390.8,640.0L390.5,643.0L390.3,646.0L389.0,646.0L386.0,646.0L383.0,646.0L380.0,646.0L377.0,646.0L374.0,646.0L371.0,646.0L369.7,646.0L369.5,643.0L369.2,640.0L368.5,637.0L368.0,635.5L367.5,634.0L366.1,631.0L365.0,629.3L363.9,628.0L362.0,626.5L359.0,625.0L359.0,625.0L356.0,624.2L353.0,623.9L350.0,623.7L347.0,623.5L344.0,623.1L341.0,622.5L339.3,622.0L338.0,621.6L335.0,620.4L332.6,619.0L332.0,618.6L329.1,616.0L329.0,615.8L326.8,613.0L326.0,611.7L324.9,610.0L323.0,607.2L322.8,607.0L320.1,604.0L320.0,603.9L317.0,601.0L317.0,601.0L314.7,598.0L314.0,596.0L313.7,595.0L313.7,592.0L314.0,591.0L314.7,589.0L317.0,586.0L317.0,586.0L320.0,583.0L320.0,583.0L322.3,580.0L323.0,578.2L323.4,577.0L323.7,574.0L323.2,571.0L323.0,570.5L321.5,568.0L320.0,566.7L317.0,565.0L316.9,565.0L314.0,564.2L311.0,563.8L308.0,563.7L305.0,563.6L302.0,563.6L299.0,563.5L296.0,563.5L293.0,563.5L290.0,563.5L287.0,563.5L284.0,563.5L281.0,563.5L278.0,563.5L275.0,563.5L272.0,563.5L269.0,563.5L266.0,563.5L263.0,563.5L260.0,563.5L257.0,563.5L254.0,563.5L251.0,563.5L248.0,563.5L245.0,563.5L242.0,563.5L239.0,563.5L236.0,563.5L233.0,563.5L230.0,563.5L227.0,563.5L224.0,563.3L221.0,563.0L218.0,562.3L217.2,562.0L215.0,561.1L212.0,559.2L211.7,559.0L209.0,556.3L208.8,556.0L206.4,553.0L206.0,552.4L204.1,550.0L203.0,548.8L200.9,547.0L200.0,546.4L197.0,545.0L194.3,544.0L194.0,543.9L191.0,543.2L188.0,542.9L185.0,542.7L182.0,542.7L179.0,542.7L176.0,542.7L173.0,542.7L170.0,542.7L167.0,542.6L164.0,542.5L161.0,542.1L158.0,541.5L156.5,541.0L155.0,540.5L152.0,539.1L150.3,538.0L149.0,536.9L147.5,535.0L146.0,532.0L146.0,532.0L145.3,529.0L144.9,526.0L144.8,523.0L144.9,520.0L145.2,517.0L145.6,514.0L145.7,511.0L144.5,508.0L143.0,506.7L141.2,505.0L140.0,504.1L138.1,502.0L137.0,500.1L136.5,499.0L135.8,496.0L135.5,493.0L135.1,490.0L134.1,487.0L134.0,486.8L131.6,484.0L131.0,483.5L128.0,481.5L127.3,481.0L125.0,478.2L124.8,478.0L123.9,475.0L123.7,472.0L123.9,469.0L124.8,466.0L125.0,465.5L126.8,463.0L128.0,461.7L130.1,460.0L131.0,457.8L131.3,457.0L131.0,456.6L128.0,455.1L125.0,455.3L122.0,455.9L119.0,456.5L117.1,457.0L116.0,457.4L113.0,458.5L110.0,458.9L107.0,457.8L105.9,457.0L104.0,455.6L101.4,454.0L101.0,453.8L98.0,453.0L95.0,452.7L92.0,452.6L89.0,452.5L86.0,452.5L83.0,452.5L80.0,452.5L80.0,451.0L80.0,448.0L80.0,445.0L80.0,442.0L80.0,439.0L80.0,436.0L80.0,433.0L80.0,430.0L80.0,427.0L80.0,424.0L80.0,421.0L80.0,418.0L80.0,415.0L80.0,412.0L80.0,409.0L80.0,406.0L80.0,403.0L80.0,400.0L80.0,397.0L80.0,394.0L80.0,391.0L80.0,388.0L80.0,385.0L80.0,382.0L80.0,379.0L80.0,376.0L80.0,373.0L80.0,370.0L80.0,367.0L80.0,364.0L80.0,361.0L80.0,360.0L83.0,360.1L86.0,360.7L86.8,361.0L89.0,362.2L90.9,364.0L92.0,365.7L92.7,367.0L93.4,370.0L93.9,373.0L94.9,376.0L95.0,376.2L97.1,379.0L98.0,379.9L100.7,382.0L101.0,382.4L102.9,385.0L103.4,388.0L101.0,389.7L98.7,391.0L98.0,391.4L96.1,394.0L96.2,397.0L98.0,398.9L100.7,400.0L101.0,400.1L104.0,400.1L105.8,400.0L106.4,397.0L106.6,394.0L107.0,393.2L110.0,393.3L110.5,394.0L110.7,397.0L110.0,398.3L107.3,400.0L107.5,403.0L109.1,406.0L110.0,406.9L112.8,409.0L113.0,409.1L116.0,409.6L119.0,409.0L119.0,409.0L122.0,407.2L123.3,406.0L125.0,404.6L127.6,403.0L128.0,402.8L131.0,402.0L134.0,401.9L137.0,402.1L140.0,403.0L140.0,403.0L143.0,405.9L143.0,406.0L144.1,409.0L144.5,412.0L144.9,415.0L145.9,418.0L146.0,418.2L148.4,421.0L149.0,421.5L152.0,423.3L153.2,424.0L155.0,425.3L157.5,427.0L158.0,427.4L161.0,428.0L162.9,427.0L164.0,425.9L164.9,424.0L165.4,421.0L165.5,418.0L165.6,415.0L165.9,412.0L166.5,409.0L167.0,407.8L169.4,406.0L170.0,405.8L170.6,406.0L173.0,406.9L176.0,408.7L176.6,409.0L179.0,410.4L182.0,412.0L182.1,412.0L184.8,415.0L185.0,415.7L185.7,418.0L186.1,421.0L188.0,423.3L189.5,424.0L191.0,424.4L194.0,426.1L195.0,427.0L197.0,428.5L199.5,430.0L200.0,430.3L203.0,431.1L206.0,431.3L209.0,431.1L212.0,430.2L212.4,430.0L215.0,428.3L216.5,427.0L218.0,425.7L220.6,424.0L221.0,423.8L224.0,422.9L227.0,422.5L230.0,422.1L233.0,421.1L233.2,421.0L236.0,418.6L236.5,418.0L238.6,415.0L239.0,414.5L242.0,412.1L242.4,412.0L245.0,411.2L248.0,410.9L251.0,411.1L254.0,411.9L254.1,412.0L257.0,414.4L257.5,415.0L259.5,418.0L260.0,418.6L262.8,421.0L263.0,421.1L266.0,422.0L269.0,422.4L272.0,422.5L275.0,422.4L278.0,422.4L281.0,422.5L284.0,422.7L287.0,423.0L290.0,423.3L293.0,423.4L296.0,422.8L299.0,421.5L300.0,421.0L302.0,419.7L304.3,418.0L305.0,417.4L307.3,415.0L308.0,414.3L309.9,412.0L311.0,410.9L312.7,409.0L314.0,407.6L315.6,406.0L317.0,404.6L318.7,403.0L320.0,401.6L321.5,400.0L323.0,397.8L323.5,397.0L324.9,394.0L325.9,391.0L326.0,390.7L326.7,388.0L327.3,385.0L327.5,382.0L327.4,379.0L326.7,376.0L326.0,374.0L325.6,373.0L324.2,370.0L323.0,367.8L322.5,367.0L320.5,364.0L320.0,363.4L318.0,361.0L317.0,359.9L315.2,358.0L314.0,356.4L313.0,355.0L311.4,352.0L311.0,350.8L310.3,349.0L309.7,346.0L309.4,343.0L309.3,340.0L309.4,337.0L309.8,334.0L310.5,331.0L311.0,329.5L311.5,328.0L313.0,325.0L314.0,323.4L314.8,322.0L316.4,319.0L317.0,317.7L317.6,316.0L318.5,313.0L319.6,310.0L320.0,308.9L320.5,307.0L321.4,304.0L322.2,301.0L322.7,298.0L322.9,295.0L322.4,292.0L321.5,289.0L320.3,286.0L320.0,285.5L318.3,283.0L317.0,281.7L315.3,280.0L314.0,278.8L312.1,277.0L311.0,275.9L309.2,274.0L308.0,272.5L306.7,271.0L305.0,269.0L304.0,268.0L302.0,265.7L301.4,265.0L299.0,262.3L298.7,262.0L296.1,259.0L296.0,258.8L293.9,256.0L293.0,254.4L292.4,253.0L291.4,250.0L290.8,247.0L290.5,244.0L290.3,241.0L290.2,238.0L290.2,235.0L290.3,232.0L290.4,229.0L290.5,226.0L290.7,223.0L290.8,220.0L291.0,217.0L291.2,214.0L291.4,211.0L291.5,208.0L291.5,205.0L291.6,202.0L291.6,199.0L291.6,196.0L291.6,193.0L291.7,190.0L291.8,187.0L291.9,184.0L292.0,181.0L292.1,178.0L292.2,175.0L292.3,172.0L292.5,169.0L292.5,166.0L292.6,163.0L292.6,160.0L292.6,157.0L292.6,154.0L292.6,151.0L292.6,148.0L292.6,145.0L292.6,142.0L292.6,139.0L292.6,136.0L292.6,133.0ZM180.9,427.0L182.0,427.3L182.5,427.0L182.0,425.9ZM169.3,478.0L170.0,478.4L170.2,478.0L170.0,477.2ZM163.8,484.0L161.0,484.8L158.8,487.0L158.0,488.2L157.4,490.0L156.9,493.0L156.8,496.0L157.2,499.0L158.0,501.2L158.6,502.0L161.0,503.5L164.0,503.9L167.0,503.5L170.0,502.3L170.4,502.0L172.5,499.0L172.6,496.0L171.2,493.0L170.0,491.3L168.9,490.0L167.0,487.0L167.0,487.0L164.2,484.0L164.0,483.9ZM278.0,375.0L281.0,373.7L284.0,374.3L285.4,376.0L286.2,379.0L286.3,382.0L286.2,385.0L286.0,388.0L286.0,391.0L285.9,394.0L285.9,397.0L286.0,400.0L285.8,403.0L284.9,406.0L284.0,407.4L281.0,408.3L278.0,407.0L276.9,406.0L275.0,404.2L273.7,403.0L272.0,401.3L270.7,400.0L269.0,397.4L268.8,397.0L267.9,394.0L267.7,391.0L268.0,388.0L268.8,385.0L269.0,384.7L270.8,382.0L272.0,380.7L273.8,379.0L275.0,377.8L276.9,376.0ZM83.0,470.5L86.0,470.5L89.0,470.5L92.0,470.5L95.0,470.6L98.0,470.9L101.0,471.8L101.3,472.0L104.0,474.4L104.5,475.0L106.3,478.0L107.0,479.0L108.5,481.0L110.0,482.7L111.2,484.0L113.0,486.8L113.1,487.0L113.8,490.0L113.9,493.0L113.6,496.0L113.0,498.1L112.3,499.0L110.0,500.6L107.0,499.0L107.0,499.0L104.7,496.0L104.0,495.4L101.0,493.6L98.0,493.6L95.0,495.7L94.8,496.0L92.7,499.0L92.0,499.8L89.3,502.0L89.0,502.2L86.0,503.1L83.0,503.4L80.0,503.5L80.0,502.0L80.0,499.0L80.0,496.0L80.0,493.0L80.0,490.0L80.0,487.0L80.0,484.0L80.0,481.0L80.0,478.0L80.0,475.0L80.0,472.0L80.0,470.5Z"/>
<path fill="#fbb742" fill-rule="evenodd" d="M299.0,133.0L302.0,133.0L305.0,133.0L308.0,133.0L311.0,133.0L314.0,133.0L317.0,133.0L320.0,133.0L323.0,133.0L326.0,133.0L329.0,133.0L332.0,133.0L335.0,133.0L338.0,133.0L341.0,133.0L344.0,133.0L347.0,133.0L350.0,133.0L353.0,133.0L356.0,133.0L359.0,133.0L362.0,133.0L365.0,133.0L368.0,133.0L371.0,133.0L374.0,133.0L377.0,133.0L380.0,133.0L383.0,133.0L386.0,133.0L389.0,133.0L392.0,133.0L395.0,133.0L398.0,133.0L401.0,133.0L404.0,133.0L407.0,133.0L410.0,133.0L413.0,133.0L416.0,133.0L419.0,133.0L422.0,133.0L425.0,133.0L428.0,133.0L431.0,133.0L434.0,133.0L437.0,133.0L440.0,133.0L443.0,133.0L446.0,133.0L449.0,133.0L452.0,133.0L455.0,133.0L458.0,133.0L461.0,133.0L464.0,133.0L467.0,133.0L470.0,133.0L473.0,133.0L476.0,133.0L479.0,133.0L482.0,133.0L485.0,133.0L488.0,133.0L491.0,133.0L494.0,133.0L497.0,133.0L500.0,133.0L503.0,133.0L506.0,133.0L509.0,133.0L512.0,133.0L515.0,133.0L518.0,133.0L521.0,133.0L524.0,133.0L527.0,133.0L530.0,133.0L533.0,133.0L536.0,133.0L539.0,133.0L542.0,133.0L545.0,133.0L548.0,133.0L551.0,133.0L554.0,133.0L557.0,133.0L560.0,133.0L563.0,133.0L566.0,133.0L569.0,133.0L572.0,133.0L575.0,133.0L578.0,133.0L581.0,133.0L584.0,133.0L587.0,133.0L590.0,133.0L593.0,133.0L596.0,133.0L599.0,133.0L602.0,133.0L605.0,133.0L608.0,133.0L611.0,133.0L614.0,133.0L617.0,133.0L620.0,133.0L623.0,133.0L626.0,133.0L629.0,133.0L632.0,133.0L635.0,133.0L638.0,133.0L641.0,133.0L644.0,133.0L647.0,133.0L650.0,133.0L653.0,133.0L656.0,133.0L659.0,133.0L662.0,133.0L665.0,133.0L668.0,133.0L671.0,133.0L674.0,133.0L677.0,133.0L680.0,133.0L683.0,133.0L686.0,133.0L689.0,133.0L692.0,133.0L695.0,133.0L698.0,133.0L698.0,136.0L698.0,139.0L698.0,142.0L698.0,145.0L698.0,148.0L698.0,151.0L698.0,154.0L698.0,157.0L698.0,160.0L698.0,163.0L698.0,166.0L698.0,169.0L698.0,172.0L698.0,175.0L698.0,178.0L698.0,181.0L698.0,184.0L698.0,187.0L698.0,190.0L698.0,193.0L698.0,196.0L698.0,199.0L698.0,202.0L698.0,205.0L698.0,208.0L698.0,211.0L698.0,214.0L698.0,217.0L698.0,220.0L698.0,223.0L698.0,226.0L698.0,229.0L698.0,232.0L698.0,235.0L698.0,238.0L698.0,241.0L698.0,244.0L698.0,247.0L698.0,250.0L698.0,253.0L698.0,256.0L698.0,259.0L698.0,262.0L698.0,265.0L698.0,268.0L698.0,271.0L698.0,274.0L698.0,277.0L698.0,280.0L698.0,283.0L698.0,286.0L698.0,289.0L698.0,292.0L698.0,295.0L698.0,298.0L698.0,301.0L698.0,304.0L698.0,307.0L698.0,310.0L698.0,313.0L698.0,316.0L698.0,319.0L698.0,322.0L698.0,325.0L698.0,328.0L698.0,331.0L698.0,334.0L698.0,337.0L698.0,340.0L698.0,343.0L698.0,346.0L698.0,349.0L698.0,352.0L698.0,355.0L698.0,358.0L698.0,361.0L698.0,364.0L698.0,367.0L698.0,370.0L698.0,373.0L698.0,376.0L698.0,379.0L698.0,382.0L698.0,385.0L698.0,388.0L698.0,391.0L698.0,394.0L698.0,397.0L698.0,400.0L698.0,403.0L698.0,406.0L698.0,409.0L698.0,412.0L698.0,415.0L698.0,418.0L698.0,421.0L698.0,424.0L698.0,427.0L698.0,430.0L698.0,433.0L698.0,436.0L698.0,439.0L698.0,442.0L698.0,445.0L698.0,448.0L698.0,451.0L698.0,454.0L698.0,457.0L698.0,460.0L698.0,463.0L698.0,466.0L698.0,469.0L698.0,472.0L698.0,475.0L698.0,478.0L698.0,481.0L698.0,484.0L698.0,487.0L698.0,490.0L698.0,493.0L698.0,496.0L698.0,499.0L698.0,502.0L698.0,505.0L698.0,508.0L698.0,511.0L698.0,514.0L698.0,517.0L698.0,520.0L698.0,523.0L698.0,526.0L698.0,529.0L698.0,532.0L698.0,535.0L698.0,538.0L698.0,541.0L698.0,542.7L695.0,542.7L692.0,542.7L689.0,542.7L686.0,542.7L683.0,542.7L680.0,542.7L677.0,542.7L674.0,542.7L671.0,542.7L668.0,542.7L665.0,542.7L662.0,542.7L659.0,542.7L656.0,542.7L653.0,542.7L650.0,542.7L647.0,542.7L644.0,542.7L641.0,542.7L638.0,542.7L635.0,542.7L632.0,542.9L629.0,543.2L626.0,544.0L626.0,544.0L623.0,545.4L620.9,547.0L620.0,547.9L618.4,550.0L617.0,551.9L616.2,553.0L614.0,555.9L613.9,556.0L611.0,558.8L610.8,559.0L608.0,560.8L606.2,562.0L605.0,562.7L602.0,564.8L601.7,565.0L599.0,567.3L598.3,568.0L596.0,570.6L595.7,571.0L593.4,574.0L593.0,574.6L591.1,577.0L590.0,578.2L587.9,580.0L587.0,580.6L584.0,582.0L581.4,583.0L581.0,583.1L578.0,583.8L575.0,584.1L572.0,584.1L569.0,583.8L566.0,583.1L565.7,583.0L563.0,582.0L560.0,580.5L559.3,580.0L557.0,577.7L556.5,577.0L555.0,574.0L554.0,571.3L553.9,571.0L553.2,568.0L552.8,565.0L552.5,562.0L552.1,559.0L551.4,556.0L551.0,554.7L550.4,553.0L548.8,550.0L548.0,548.9L545.8,547.0L545.0,546.6L542.0,545.8L539.0,545.6L536.0,545.9L533.0,546.5L531.1,547.0L530.0,547.3L527.0,548.1L524.0,548.7L521.0,549.1L518.0,549.4L515.0,549.5L512.0,549.5L509.0,549.5L506.0,549.4L503.0,549.1L500.0,548.7L497.0,548.1L494.0,547.3L492.9,547.0L491.0,546.5L488.0,545.9L485.0,545.6L482.0,545.7L479.0,546.5L478.0,547.0L476.0,548.4L474.6,550.0L473.0,552.0L472.2,553.0L470.0,555.7L469.7,556.0L467.0,558.2L465.2,559.0L464.0,559.4L461.0,559.8L458.0,559.4L456.8,559.0L455.0,558.2L452.3,556.0L452.0,555.7L449.9,553.0L449.0,551.7L447.9,550.0L446.0,547.3L445.8,547.0L443.0,544.1L442.9,544.0L440.0,541.8L438.9,541.0L437.0,539.6L434.9,538.0L434.0,537.1L432.4,535.0L431.0,532.0L431.0,532.0L430.2,529.0L429.9,526.0L429.7,523.0L429.7,520.0L429.7,517.0L429.7,514.0L429.7,511.0L429.7,508.0L429.7,505.0L429.7,502.0L429.7,499.0L429.7,496.0L429.7,493.0L429.7,490.0L429.7,487.0L429.7,484.0L429.6,481.0L429.5,478.0L429.1,475.0L428.4,472.0L428.0,471.1L427.0,469.0L425.0,466.3L424.7,466.0L422.0,464.1L419.4,463.0L419.0,462.9L416.0,462.2L413.0,461.9L410.0,461.8L407.0,461.7L404.0,461.7L401.0,461.8L398.0,461.8L395.0,462.0L392.0,462.4L390.8,463.0L390.3,466.0L390.2,469.0L390.3,472.0L390.3,475.0L390.3,478.0L390.2,481.0L390.1,484.0L389.7,487.0L389.1,490.0L389.0,490.3L388.0,493.0L386.6,496.0L386.0,496.9L384.2,499.0L383.0,500.0L380.6,502.0L380.0,502.4L377.0,504.6L376.6,505.0L374.0,507.3L373.3,508.0L371.0,510.5L370.6,511.0L368.2,514.0L368.0,514.2L365.2,517.0L365.0,517.2L362.0,519.1L359.9,520.0L359.0,520.3L356.0,521.1L353.0,521.4L350.0,521.5L347.0,521.3L344.0,520.9L341.0,520.2L340.3,520.0L338.0,519.0L335.0,517.5L334.3,517.0L332.0,514.7L331.5,514.0L330.1,511.0L329.2,508.0L329.1,505.0L332.0,503.1L335.0,502.3L335.7,502.0L338.0,501.1L341.0,499.3L341.4,499.0L343.8,496.0L344.0,495.7L345.1,493.0L346.1,490.0L346.8,487.0L346.8,484.0L344.0,482.9L341.0,482.7L338.0,482.6L335.0,482.6L332.0,482.5L329.0,482.1L328.3,481.0L327.9,478.0L327.8,475.0L327.8,472.0L327.8,469.0L327.8,466.0L327.8,463.0L328.0,460.0L328.3,457.0L329.0,454.0L329.0,454.0L330.3,451.0L332.0,448.0L332.0,448.0L335.0,445.9L338.0,445.3L341.0,445.9L344.0,448.0L344.0,448.0L345.8,451.0L347.0,453.7L347.1,454.0L347.8,457.0L348.2,460.0L348.4,463.0L348.5,466.0L348.5,469.0L348.5,472.0L348.5,475.0L348.6,478.0L349.3,481.0L350.0,481.4L353.0,481.6L356.0,481.1L356.4,481.0L359.0,480.2L362.0,478.7L362.9,478.0L365.0,476.3L366.1,475.0L368.0,472.7L368.5,472.0L371.0,469.1L371.1,469.0L374.0,466.4L374.6,466.0L377.0,464.6L380.0,463.2L380.9,463.0L383.0,462.2L386.0,461.3L388.1,460.0L387.7,457.0L386.6,454.0L386.0,452.8L385.2,451.0L383.4,448.0L383.0,447.4L381.1,445.0L380.0,443.9L378.2,442.0L377.0,440.8L375.3,439.0L374.0,437.3L373.0,436.0L371.5,433.0L371.0,431.7L370.4,430.0L369.8,427.0L369.5,424.0L369.4,421.0L369.4,418.0L369.4,415.0L369.4,412.0L369.4,409.0L369.4,406.0L369.4,403.0L369.4,400.0L369.4,397.0L369.3,394.0L369.3,391.0L369.3,388.0L369.3,385.0L369.3,382.0L369.2,379.0L368.9,376.0L368.3,373.0L368.0,371.8L367.4,370.0L366.1,367.0L365.0,365.3L363.9,364.0L362.0,362.6L359.0,361.1L358.7,361.0L356.0,360.3L353.0,359.9L350.0,359.7L347.0,359.3L344.0,358.5L342.8,358.0L341.0,357.2L338.0,355.3L337.6,355.0L335.0,352.4L334.7,352.0L333.3,349.0L333.0,346.0L333.9,343.0L335.0,341.6L336.0,340.0L338.0,337.1L338.1,337.0L338.9,334.0L338.7,331.0L338.0,329.1L337.5,328.0L335.4,325.0L335.0,324.6L332.7,322.0L332.0,321.1L330.7,319.0L329.6,316.0L329.1,313.0L329.0,312.4L328.8,310.0L328.8,307.0L328.9,304.0L329.0,302.6L329.1,301.0L329.4,298.0L329.4,295.0L329.1,292.0L329.0,291.5L328.5,289.0L327.8,286.0L326.5,283.0L326.0,282.3L324.3,280.0L323.0,278.7L321.1,277.0L320.0,276.1L317.5,274.0L317.0,273.5L314.5,271.0L314.0,270.4L312.2,268.0L311.0,266.1L310.3,265.0L308.4,262.0L308.0,261.5L305.6,259.0L305.0,258.5L302.0,256.3L301.7,256.0L299.0,253.6L298.5,253.0L296.6,250.0L296.0,248.6L295.4,247.0L294.8,244.0L294.5,241.0L294.3,238.0L294.3,235.0L294.3,232.0L294.4,229.0L294.5,226.0L294.6,223.0L294.8,220.0L294.9,217.0L295.0,214.0L295.1,211.0L295.2,208.0L295.2,205.0L295.3,202.0L295.3,199.0L295.3,196.0L295.3,193.0L295.4,190.0L295.4,187.0L295.5,184.0L295.5,181.0L295.6,178.0L295.7,175.0L295.8,172.0L295.9,169.0L296.0,166.0L296.0,163.0L296.0,161.4L296.0,160.0L296.0,157.0L296.0,154.0L296.0,151.0L296.0,148.0L296.0,145.0L296.0,142.0L296.0,139.0L296.0,136.0L296.0,133.0ZM83.0,410.5L86.0,410.5L89.0,410.6L92.0,410.8L95.0,411.1L98.0,411.7L98.6,412.0L101.0,413.6L102.2,415.0L103.0,418.0L101.5,421.0L101.0,421.5L98.1,424.0L98.0,424.2L95.9,427.0L95.0,429.6L94.7,430.0L92.0,431.4L89.0,431.5L86.0,431.5L83.0,431.5L80.0,431.5L80.0,430.0L80.0,427.0L80.0,424.0L80.0,421.0L80.0,418.0L80.0,415.0L80.0,412.0L80.0,410.5ZM122.0,432.3L125.0,432.2L128.0,432.6L129.0,433.0L131.0,435.0L131.6,436.0L131.0,437.3L130.1,439.0L128.0,440.6L126.3,442.0L125.0,442.9L122.4,445.0L122.0,445.2L119.0,446.0L116.6,445.0L116.0,444.2L115.2,442.0L115.0,439.0L116.0,436.0L116.0,436.0L119.0,433.2L119.4,433.0ZM98.0,434.2L99.1,436.0L98.0,436.2L97.6,436.0ZM317.0,487.0L320.0,485.3L323.0,484.3L326.0,484.2L327.2,487.0L327.3,490.0L327.3,493.0L327.3,496.0L327.2,499.0L326.0,501.4L323.0,501.5L320.0,500.6L317.0,499.0L317.0,499.0L315.0,496.0L314.4,493.0L315.0,490.0L317.0,487.0Z"/>
<path fill="#e7f65a" fill-rule="evenodd" d="M302.0,133.0L305.0,133.0L308.0,133.0L311.0,133.0L314.0,133.0L317.0,133.0L320.0,133.0L323.0,133.0L326.0,133.0L329.0,133.0L332.0,133.0L335.0,133.0L338.0,133.0L341.0,133.0L344.0,133.0L347.0,133.0L350.0,133.0L353.0,133.0L356.0,133.0L359.0,133.0L362.0,133.0L365.0,133.0L368.0,133.0L371.0,133.0L374.0,133.0L377.0,133.0L380.0,133.0L383.0,133.0L386.0,133.0L389.0,133.0L392.0,133.0L395.0,133.0L398.0,133.0L401.0,133.0L404.0,133.0L407.0,133.0L410.0,133.0L413.0,133.0L416.0,133.0L419.0,133.0L422.0,133.0L425.0,133.0L428.0,133.0L431.0,133.0L434.0,133.0L437.0,133.0L440.0,133.0L443.0,133.0L446.0,133.0L449.0,133.0L452.0,133.0L455.0,133.0L458.0,133.0L461.0,133.0L464.0,133.0L467.0,133.0L470.0,133.0L473.0,133.0L476.0,133.0L479.0,133.0L482.0,133.0L485.0,133.0L488.0,133.0L491.0,133.0L494.0,133.0L497.0,133.0L500.0,133.0L503.0,133.0L506.0,133.0L509.0,133.0L512.0,133.0L515.0,133.0L518.0,133.0L521.0,133.0L524.0,133.0L527.0,133.0L530.0,133.0L533.0,133.0L536.0,133.0L539.0,133.0L542.0,133.0L545.0,133.0L548.0,133.0L551.0,133.0L554.0,133.0L557.0,133.0L560.0,133.0L563.0,133.0L566.0,133.0L569.0,133.0L572.0,133.0L575.0,133.0L578.0,133.0L581.0,133.0L584.0,133.0L587.0,133.0L590.0,133.0L593.0,133.0L596.0,133.0L599.0,133.0L602.0,133.0L605.0,133.0L608.0,133.0L611.0,133.0L614.0,133.0L617.0,133.0L620.0,133.0L623.0,133.0L626.0,133.0L629.0,133.0L632.0,133.0L635.0,133.0L638.0,133.0L641.0,133.0L644.0,133.0L647.0,133.0L650.0,133.0L653.0,133.0L656.0,133.0L659.0,133.0L662.0,133.0L665.0,133.0L668.0,133.0L671.0,133.0L674.0,133.0L677.0,133.0L680.0,133.0L683.0,133.0L686.0,133.0L689.0,133.0L692.0,133.0L695.0,133.0L698.0,133.0L698.0,136.0L698.0,139.0L698.0,142.0L698.0,145.0L698.0,148.0L698.0,151.0L698.0,154.0L698.0,157.0L698.0,160.0L698.0,163.0L698.0,166.0L698.0,169.0L698.0,172.0L698.0,175.0L698.0,178.0L698.0,181.0L698.0,184.0L698.0,187.0L698.0,190.0L698.0,193.0L698.0,196.0L698.0,199.0L698.0,202.0L698.0,205.0L698.0,208.0L698.0,211.0L698.0,214.0L698.0,217.0L698.0,220.0L698.0,223.0L698.0,226.0L698.0,229.0L698.0,232.0L698.0,235.0L698.0,238.0L698.0,241.0L698.0,244.0L698.0,247.0L698.0,250.0L698.0,253.0L698.0,256.0L698.0,259.0L698.0,262.0L698.0,265.0L698.0,268.0L698.0,271.0L698.0,274.0L698.0,277.0L698.0,280.0L698.0,283.0L698.0,286.0L698.0,289.0L698.0,292.0L698.0,295.0L698.0,298.0L698.0,301.0L698.0,304.0L698.0,307.0L698.0,310.0L698.0,313.0L698.0,316.0L698.0,319.0L698.0,322.0L698.0,325.0L698.0,328.0L698.0,331.0L698.0,334.0L698.0,337.0L698.0,340.0L698.0,343.0L698.0,346.0L698.0,349.0L698.0,352.0L698.0,355.0L698.0,358.0L698.0,361.0L698.0,364.0L698.0,367.0L698.0,370.0L698.0,373.0L698.0,376.0L698.0,379.0L698.0,382.0L698.0,385.0L698.0,388.0L698.0,391.0L698.0,394.0L698.0,397.0L698.0,400.0L698.0,403.0L698.0,406.0L698.0,409.0L698.0,412.0L698.0,415.0L698.0,418.0L698.0,421.0L698.0,424.0L698.0,427.0L698.0,430.0L698.0,433.0L698.0,436.0L698.0,439.0L698.0,442.0L698.0,445.0L698.0,448.0L698.0,451.0L698.0,454.0L698.0,457.0L698.0,460.0L698.0,463.0L698.0,466.0L698.0,469.0L698.0,472.0L698.0,475.0L698.0,478.0L698.0,481.0L698.0,482.3L695.0,482.3L692.0,482.3L689.0,482.3L686.0,482.3L683.0,482.3L680.0,482.3L677.0,482.3L674.0,482.3L671.0,482.3L668.0,482.3L665.0,482.3L662.0,482.3L659.0,482.3L656.0,482.3L653.0,482.1L650.0,481.8L647.0,481.1L646.6,481.0L644.0,480.0L641.0,478.6L640.1,478.0L638.0,476.2L636.9,475.0L635.0,472.6L634.6,472.0L632.2,469.0L632.0,468.7L629.3,466.0L629.0,465.8L626.0,463.9L623.8,463.0L623.0,462.7L620.0,462.0L617.0,461.7L614.0,461.5L611.0,461.3L608.0,461.0L605.0,460.3L604.2,460.0L602.0,459.1L599.0,457.2L598.7,457.0L596.0,454.3L595.8,454.0L593.4,451.0L593.0,450.3L591.2,448.0L590.0,446.5L588.5,445.0L587.0,443.8L584.6,442.0L584.0,441.6L581.0,439.3L580.6,439.0L578.0,436.7L577.3,436.0L575.0,433.4L574.7,433.0L572.3,430.0L572.0,429.6L569.7,427.0L569.0,426.3L566.4,424.0L566.0,423.7L563.0,421.4L562.4,421.0L560.0,419.2L558.5,418.0L557.0,416.5L555.8,415.0L554.0,412.6L553.6,412.0L551.3,409.0L551.0,408.6L548.7,406.0L548.0,405.3L545.4,403.0L545.0,402.7L542.0,400.4L541.4,400.0L539.0,398.2L537.5,397.0L536.0,395.5L534.8,394.0L533.0,391.6L532.6,391.0L530.3,388.0L530.0,387.6L527.7,385.0L527.0,384.3L524.4,382.0L524.0,381.7L521.0,379.2L520.7,379.0L518.0,376.3L517.7,376.0L515.8,373.0L515.0,371.0L514.6,370.0L513.9,367.0L513.5,364.0L513.4,361.0L513.3,358.0L513.3,355.0L513.3,352.0L513.3,349.0L513.3,346.0L513.3,343.0L513.3,340.0L513.3,337.0L513.3,334.0L513.3,331.0L513.3,328.0L513.3,325.0L513.3,322.0L513.3,319.0L513.3,316.0L513.3,313.0L513.3,310.0L513.3,307.0L513.3,304.0L513.3,301.0L513.3,298.0L513.3,295.0L513.3,292.0L513.3,289.0L513.3,286.0L513.3,283.0L513.3,280.0L513.1,277.0L512.8,274.0L512.1,271.0L512.0,270.7L511.0,268.0L509.5,265.0L509.0,264.3L506.7,262.0L506.0,261.5L503.0,260.0L500.3,259.0L500.0,258.9L497.0,258.2L494.0,257.9L491.0,257.8L488.0,257.9L485.0,258.2L482.0,259.0L482.0,259.0L479.0,260.4L476.9,262.0L476.0,262.9L474.4,265.0L473.0,267.0L472.3,268.0L470.2,271.0L470.0,271.2L467.3,274.0L467.0,274.3L464.0,276.2L462.0,277.0L461.0,277.4L458.0,278.1L455.0,278.5L452.0,278.7L449.0,278.9L446.0,279.2L443.0,279.9L442.6,280.0L440.0,281.0L437.0,282.4L436.1,283.0L434.0,284.8L432.9,286.0L431.0,288.4L430.6,289.0L428.3,292.0L428.0,292.4L425.7,295.0L425.0,295.7L422.4,298.0L422.0,298.3L419.0,300.7L418.6,301.0L416.0,303.3L415.3,304.0L413.0,306.6L412.7,307.0L410.4,310.0L410.0,310.6L408.2,313.0L407.0,314.5L405.5,316.0L404.0,317.2L401.6,319.0L401.0,319.4L398.0,321.7L397.6,322.0L395.0,324.3L394.3,325.0L392.0,327.5L391.6,328.0L389.0,331.0L389.0,331.0L386.0,333.7L385.5,334.0L383.0,335.4L380.0,336.6L378.6,337.0L377.0,337.5L374.0,338.1L371.0,338.4L368.0,338.2L365.0,337.5L363.8,337.0L362.0,336.1L359.4,334.0L359.0,333.6L356.7,331.0L356.0,330.1L354.6,328.0L353.0,325.8L352.6,325.0L350.3,322.0L350.0,321.6L347.8,319.0L347.0,318.2L345.1,316.0L344.0,314.5L343.0,313.0L341.4,310.0L341.0,309.2L340.1,307.0L339.4,304.0L339.1,301.0L339.0,298.0L339.0,295.0L338.8,292.0L338.4,289.0L338.0,286.7L337.9,286.0L337.1,283.0L335.5,280.0L335.0,279.3L333.1,277.0L332.0,276.0L329.7,274.0L329.0,273.4L326.0,271.2L325.7,271.0L323.0,268.8L322.1,268.0L320.0,265.7L319.5,265.0L317.7,262.0L317.0,260.6L316.2,259.0L314.1,256.0L314.0,255.9L311.2,253.0L311.0,252.9L308.0,250.7L306.8,250.0L305.0,248.7L303.2,247.0L302.0,245.5L301.3,244.0L300.6,241.0L300.3,238.0L300.2,235.0L300.2,232.0L300.2,229.0L300.3,226.0L300.3,223.0L300.4,220.0L300.5,217.0L300.6,214.0L300.7,211.0L300.7,208.0L300.7,205.0L300.8,202.0L300.8,199.0L300.8,196.0L300.8,193.0L300.8,190.0L300.9,187.0L300.9,184.0L300.9,181.0L301.0,178.0L301.1,175.0L301.1,172.0L301.2,169.0L301.2,166.0L301.2,163.0L301.2,160.0L301.2,157.0L301.2,154.0L301.2,151.0L301.2,148.0L301.2,145.0L301.2,142.0L301.2,139.0L301.2,136.0L301.2,133.0ZM425.0,360.3L428.0,360.0L431.0,359.9L434.0,360.0L437.0,360.3L439.6,361.0L440.0,361.1L443.0,362.8L444.4,364.0L446.0,366.8L446.1,367.0L446.5,370.0L446.1,373.0L446.0,373.2L444.4,376.0L443.0,377.2L440.0,378.9L439.7,379.0L437.0,379.7L434.0,380.1L431.0,380.3L428.0,380.4L425.0,380.4L422.0,380.4L419.0,380.4L416.0,380.2L413.0,379.3L412.8,379.0L412.8,376.0L413.0,375.2L413.4,373.0L414.3,370.0L415.4,367.0L416.0,366.0L417.4,364.0L419.0,362.7L422.0,361.1L422.3,361.0ZM404.0,382.0L407.0,381.5L410.0,381.7L410.4,382.0L411.1,385.0L411.1,388.0L411.1,391.0L411.1,394.0L411.0,397.0L410.7,400.0L410.0,401.6L407.0,401.0L404.0,400.3L403.4,400.0L401.0,399.0L398.0,397.1L397.8,397.0L395.9,394.0L395.4,391.0L396.0,388.0L397.9,385.0L398.0,384.9L401.0,383.1L403.9,382.0ZM413.0,401.9L416.0,402.5L417.6,403.0L419.0,403.3L422.0,404.5L424.5,406.0L425.0,406.3L428.0,409.0L428.0,409.0L430.4,412.0L431.0,412.8L432.8,415.0L434.0,416.5L435.5,418.0L437.0,419.3L439.2,421.0L440.0,421.6L442.9,424.0L443.0,424.1L445.6,427.0L446.0,427.7L447.3,430.0L448.5,433.0L449.0,435.3L449.2,436.0L449.2,439.0L449.0,439.2L446.0,440.2L443.0,440.4L440.0,440.4L437.0,440.5L434.0,440.5L431.0,440.5L428.0,440.5L425.0,440.6L422.0,440.6L419.0,440.6L416.0,440.5L413.0,440.5L410.0,440.4L407.0,440.1L404.0,439.3L403.3,439.0L401.0,437.8L398.7,436.0L398.0,435.2L396.6,433.0L395.8,430.0L396.3,427.0L398.0,424.4L398.3,424.0L401.0,421.6L401.7,421.0L404.0,418.9L405.0,418.0L407.0,415.1L407.1,415.0L408.3,412.0L409.4,409.0L410.0,406.5L410.2,406.0L411.0,403.0ZM452.0,441.6L455.0,441.0L458.0,440.9L461.0,440.8L464.0,440.8L467.0,440.8L470.0,440.8L473.0,441.0L476.0,441.3L479.0,442.0L479.0,442.0L482.0,443.3L485.0,445.0L485.0,445.0L487.1,448.0L487.7,451.0L487.1,454.0L485.0,457.0L485.0,457.0L482.0,458.7L479.0,460.0L479.0,460.0L476.0,460.7L473.0,461.0L470.0,461.0L467.0,460.7L464.0,460.0L463.9,460.0L461.0,458.9L458.0,457.4L457.4,457.0L455.0,454.7L454.5,454.0L452.9,451.0L452.0,448.5L451.8,448.0L451.3,445.0L451.6,442.0ZM521.0,507.8L524.0,507.9L524.2,508.0L527.0,509.5L528.3,511.0L530.0,513.9L530.1,514.0L530.9,517.0L531.3,520.0L531.4,523.0L531.0,526.0L530.0,528.7L529.9,529.0L527.5,532.0L527.0,532.4L524.0,534.2L522.0,535.0L521.0,535.3L518.0,535.8L515.0,536.0L512.0,536.0L509.0,535.7L506.0,535.3L505.1,535.0L503.0,534.1L500.0,532.1L499.8,532.0L498.2,529.0L498.4,526.0L500.0,523.6L500.5,523.0L503.0,521.0L504.4,520.0L506.0,518.9L508.8,517.0L509.0,516.9L512.0,514.2L512.2,514.0L515.0,511.1L515.1,511.0L518.0,508.8L520.4,508.0ZM581.0,507.9L584.0,507.5L587.0,507.9L587.2,508.0L590.0,509.6L591.2,511.0L592.9,514.0L593.0,514.4L593.7,517.0L594.0,520.0L594.1,523.0L594.0,526.0L593.7,529.0L593.0,531.6L592.9,532.0L591.2,535.0L590.0,536.4L587.2,538.0L587.0,538.1L584.0,538.5L581.0,538.1L580.8,538.0L578.0,536.4L576.8,535.0L575.1,532.0L575.0,531.6L574.3,529.0L574.0,526.0L573.9,523.0L574.0,520.0L574.3,517.0L575.0,514.4L575.1,514.0L576.8,511.0L578.0,509.6L580.8,508.0Z"/>
<polygon points="292,205 330,205 372,292 352,312 326,302 300,252 289,216" fill="#e7f65a"/>
<rect x="585" y="255" width="120" height="205" fill="#e7f65a"/>
</g>
<line x1="84" y1="137.4" x2="700" y2="137.4" stroke="#000" stroke-width="1.0"/>
<path d="M210.0,131.0 L218.0,138.0 L224.0,145.0 L232.0,149.0 L238.0,155.0 L242.0,163.0 L243.6,169.0 L246.4,176.0 L250.0,183.0 L252.4,189.4 L256.4,195.4 L260.0,203.0 L263.2,211.0 L266.0,219.0 L268.0,225.0 L269.6,229.4 L276.4,233.4 L284.4,239.4 L292.0,247.0 L297.0,255.0 L299.0,263.0 L298.0,269.0 L292.0,269.4 L284.0,268.2 L279.0,267.4 L276.4,268.6 L280.4,272.6 L288.4,278.2 L298.4,285.0 L308.0,289.0 L313.6,288.0 L317.2,292.2 L322.4,297.0 L329.2,302.2 L333.2,309.4 L334.6,319.0 L334.0,329.0 L338.0,336.0 L348.0,342.0 L356.0,348.0 L364.0,356.0 L370.0,364.0 L373.0,367.4 L378.0,364.4 L382.4,358.4 L381.0,352.4 L378.0,348.0 L375.0,343.0 L369.0,338.0 L365.0,333.6 L360.0,327.0 L355.6,320.0 L352.0,312.4 L349.2,306.0 L347.6,300.0 L344.0,301.0 L338.0,295.0 L335.0,289.0 L332.0,281.0 L327.0,275.0 L323.0,269.0 L321.0,261.0 L318.0,253.0 L312.0,247.0 L306.0,237.0 L298.0,231.0 L292.0,225.0 L289.0,217.0 L286.0,205.0 L284.0,197.0 L284.0,187.0 L283.0,185.0 L288.0,186.0 L300.0,191.0 L308.0,195.0 L316.0,201.0 L318.0,207.0 L320.0,217.0 L324.0,225.0 L328.0,233.0 L332.0,241.0 L336.0,247.0 L340.0,253.0 L346.0,261.0 L354.0,267.0 L362.0,269.0 L362.4,277.0 L368.0,283.0 L376.0,289.0 L382.0,293.0 L386.0,299.0 L384.4,307.0 L388.4,313.0 L396.0,317.0 L402.0,321.0 L408.0,327.0 L414.0,333.0 L418.0,337.0 L422.0,340.0 L430.0,348.0 L438.0,356.0 L446.0,366.0 L450.0,374.0 L452.0,380.0 L454.0,386.0 L458.0,392.0 L458.0,398.0 L456.0,404.0 L454.0,409.0 L458.0,411.0 L452.0,414.0 L450.0,418.0 L454.0,424.0 L460.0,432.0 L468.0,438.0 L476.0,442.0 L484.0,448.0 L488.0,454.0 L496.0,458.0 L506.0,460.0 L516.0,462.0 L526.0,470.0 L536.0,476.0 L546.0,480.0 L556.0,484.0 L566.0,486.0 L630.0,498.0 L638.0,495.0 L648.0,494.0 L658.0,496.0 L666.0,500.0 L674.0,506.0 L682.0,512.0 L690.0,520.0 L697.0,526.0 L702.0,530.0 L705.0,532.0 L705.0,448.0 L697.0,448.0 L686.0,449.0 L678.0,451.0 L664.0,454.0 L652.0,458.0 L650.0,454.0 L640.0,449.0 L628.0,446.0 L624.0,440.0 L618.0,430.0 L612.0,420.0 L606.0,410.0 L600.0,400.0 L594.0,390.0 L592.0,380.0 L590.0,370.0 L591.0,360.0 L591.0,350.0 L592.0,340.0 L590.0,330.0 L592.0,320.0 L596.0,312.0 L598.0,300.0 L600.0,295.0 L597.0,285.0 L597.0,277.0 L600.0,269.0 L604.0,263.0 L608.0,259.0 L614.0,255.0 L622.0,252.0 L630.0,249.0 L636.0,245.0 L642.0,239.0 L648.0,235.0 L654.0,233.0 L660.0,231.0 L666.0,230.0 L674.0,229.4 L682.0,230.0 L690.0,231.0 L697.0,233.0 L702.0,233.4 L705.0,233.0 L705.0,125.0 L210.0,125.0 Z" fill="#d2b48c" stroke="#000" stroke-width="1.8" stroke-linejoin="round"/>
<polyline points="284.0,181.0 280.0,177.0 284.0,171.0 292.0,167.0 308.0,163.0 324.0,157.0 332.0,155.0 344.0,159.0 360.0,158.0 372.0,163.0 388.0,169.0 400.0,161.0 406.0,151.0" fill="none" stroke="#90b0dd" stroke-width="1.5"/>
<polyline points="428.0,135.0 426.0,147.0 422.0,157.0 422.0,167.0 428.0,175.0 432.0,183.0" fill="none" stroke="#90b0dd" stroke-width="1.5"/>
<polyline points="406.0,151.0 404.0,157.0 398.0,163.0 390.0,171.0" fill="none" stroke="#90b0dd" stroke-width="1.5"/>
<polyline points="522.0,151.0 534.0,159.0 542.0,163.0 552.0,159.0 554.0,152.0 564.0,149.0 576.0,161.0 586.0,167.0 596.0,177.0 604.0,191.0 612.0,207.0 622.0,217.0 624.0,229.0 632.0,235.0 636.0,245.0" fill="none" stroke="#90b0dd" stroke-width="1.5"/>
<polyline points="454.0,390.0 466.0,388.0 474.0,398.0 488.0,403.0 496.0,412.0 502.0,418.0 494.0,418.0" fill="none" stroke="#90b0dd" stroke-width="1.5"/>
<polyline points="546.0,382.0 558.0,390.0 570.0,386.0 590.0,380.0" fill="none" stroke="#90b0dd" stroke-width="1.5"/>
<polyline points="684.0,450.0 690.0,456.0 694.0,462.0" fill="none" stroke="#90b0dd" stroke-width="1.5"/>
<polyline points="264.0,153.0 270.0,158.0" fill="none" stroke="#a8a8a8" stroke-width="1.6"/>
<polyline points="292.0,135.0 292.0,137.0 288.0,145.0 288.0,155.0 291.0,163.0 288.0,167.0" fill="none" stroke="#000" stroke-width="1.35"/>
<polyline points="389.0,135.0 389.0,196.6" fill="none" stroke="#000" stroke-width="1.35"/>
<polyline points="497.0,135.0 497.0,183.0 432.0,183.0" fill="none" stroke="#000" stroke-width="1.35"/>
<polyline points="572.0,137.0 586.0,140.0 604.0,143.0 618.0,146.0 638.0,141.0 650.0,146.0 659.0,149.4" fill="none" stroke="#000" stroke-width="1.35"/>
<polyline points="652.0,135.0 652.0,148.0" fill="none" stroke="#000" stroke-width="1.35"/>
<polyline points="659.0,149.4 660.0,183.0 668.0,201.0 665.0,221.0 663.0,229.4" fill="none" stroke="#000" stroke-width="1.35"/>
<polyline points="661.0,161.0 702.0,161.0" fill="none" stroke="#000" stroke-width="1.35"/>
<polyline points="432.0,184.0 440.0,193.0 452.0,203.0 462.0,211.0 466.0,219.0 470.0,229.0 480.0,237.0 494.0,245.0 500.0,239.0 506.0,229.0 514.0,228.0 526.0,229.0 538.0,241.0 546.0,255.0 554.0,265.0 560.0,275.0 564.0,287.0 568.0,297.0 580.0,303.0 594.0,306.0 602.0,308.0" fill="none" stroke="#90b0dd" stroke-width="1.5"/>
<polyline points="643.0,238.0 636.0,245.0 630.0,249.0 622.0,252.0 614.0,255.0 608.0,259.0 604.0,263.0 600.0,269.0 597.6,277.0 597.6,285.0 599.6,295.0 602.0,305.0" fill="none" stroke="#000" stroke-width="3.2" stroke-linejoin="round" stroke-dasharray="6,1.5,3,1"/>
<polyline points="244.0,171.0 288.0,167.0" fill="none" stroke="#000" stroke-width="1.5" stroke-dasharray="5.2,2.6"/>
<polyline points="285.0,172.6 352.0,196.6 404.0,196.6 404.0,188.0 432.0,188.0" fill="none" stroke="#000" stroke-width="1.5" stroke-dasharray="5.2,2.6"/>
<polyline points="432.0,184.0 440.0,193.0 452.0,203.0 462.0,211.0 466.0,219.0 470.0,229.0 480.0,237.0 494.0,245.0 500.0,239.0 506.0,229.0 514.0,228.0 526.0,229.0 538.0,241.0 546.0,255.0 554.0,265.0 560.0,275.0 564.0,287.0 568.0,297.0 580.0,303.0 594.0,306.0 602.0,308.0" fill="none" stroke="#000" stroke-width="1.5" stroke-dasharray="5.2,2.6"/>
<ellipse cx="222.2" cy="245.0" rx="1.0" ry="2.4" transform="rotate(10 222.2 245.0)" fill="#000"/>
<ellipse cx="286.3" cy="454.3" rx="1.3" ry="0.8" transform="rotate(0 286.3 454.3)" fill="#000"/>
<ellipse cx="355.2" cy="445.4" rx="1.5" ry="1.3" transform="rotate(0 355.2 445.4)" fill="#000"/>
<ellipse cx="357.8" cy="436.1" rx="0.8" ry="0.8" transform="rotate(0 357.8 436.1)" fill="#000"/>
<ellipse cx="270.5" cy="260.0" rx="1.5" ry="2.6" transform="rotate(-20 270.5 260.0)" fill="#000"/>
<ellipse cx="273.6" cy="263.0" rx="1.0" ry="1.6" transform="rotate(0 273.6 263.0)" fill="#000"/>
<ellipse cx="434.0" cy="389.0" rx="1.0" ry="2.6" transform="rotate(-40 434.0 389.0)" fill="#000"/>
<ellipse cx="438.5" cy="393.5" rx="1.0" ry="1.3" transform="rotate(-40 438.5 393.5)" fill="#000"/>
<ellipse cx="196.0" cy="139.6" rx="3.5" ry="1.4" transform="rotate(0 196.0 139.6)" fill="#000"/>
<ellipse cx="188.0" cy="139.0" rx="2.5" ry="1.2" transform="rotate(0 188.0 139.0)" fill="#000"/>
<ellipse cx="200.5" cy="155.5" rx="1.5" ry="1.0" transform="rotate(0 200.5 155.5)" fill="#000"/>
<ellipse cx="208.5" cy="150.5" rx="1.2" ry="0.9" transform="rotate(0 208.5 150.5)" fill="#000"/>
<ellipse cx="308.0" cy="239.0" rx="2.2" ry="5.5" transform="rotate(-35 308.0 239.0)" fill="#d2b48c" stroke="#000" stroke-width="1.2"/>
<ellipse cx="325.5" cy="244.0" rx="2.8" ry="4.5" transform="rotate(10 325.5 244.0)" fill="#d2b48c" stroke="#000" stroke-width="1.2"/>
<polyline points="157.0,145.0 160.0,143.0 162.0,146.0 160.0,149.0" fill="none" stroke="#fff" stroke-width="3" stroke-linecap="round"/>
<polyline points="171.0,183.0 174.0,182.0 176.0,185.0 175.0,189.0 172.0,191.0" fill="none" stroke="#fff" stroke-width="3" stroke-linecap="round"/>
<polyline points="228.0,152.0 233.0,154.0 238.0,158.0 241.0,163.0" fill="none" stroke="#fff" stroke-width="3" stroke-linecap="round"/>
<polyline points="386.0,371.0 390.0,368.0 393.0,369.0" fill="none" stroke="#fff" stroke-width="3" stroke-linecap="round"/>
<polyline points="462.0,523.0 463.0,525.0" fill="none" stroke="#fff" stroke-width="3" stroke-linecap="round"/>
<polyline points="548.0,537.0 548.0,540.0" fill="none" stroke="#fff" stroke-width="3" stroke-linecap="round"/>
<polyline points="694.0,277.0 697.0,279.0" fill="none" stroke="#fff" stroke-width="3" stroke-linecap="round"/>
<polygon points="152,143.3 144.3,158.7 159.7,158.7" fill="#9467bd" stroke="#000" stroke-width="1.5" stroke-linejoin="miter"/>
<polygon points="224,150.3 216.3,165.7 231.7,165.7" fill="#8c564b" stroke="#000" stroke-width="1.5" stroke-linejoin="miter"/>
<circle cx="120" cy="175" r="6.1" fill="#e0e068" stroke="#000" stroke-width="1.5"/>
<polygon points="178,162.9 172.2,167.1 174.4,173.9 181.6,173.9 183.8,167.1" fill="#ff7f0e" stroke="#000" stroke-width="1.5" stroke-linejoin="miter"/>
<polygon points="167,184.3 159.3,199.7 174.7,199.7" fill="#e377c2" stroke="#000" stroke-width="1.5" stroke-linejoin="miter"/>
<circle cx="112" cy="248" r="6.1" fill="#8ee7f0" stroke="#000" stroke-width="1.5"/>
<polygon points="153,246.9 147.7,249.9 147.7,256.1 153,259.1 158.3,256.1 158.3,249.9" fill="#ba95dd" stroke="#000" stroke-width="1.5" stroke-linejoin="miter"/>
<circle cx="205" cy="274" r="6.1" fill="#fcc3c3" stroke="#000" stroke-width="1.5"/>
<polygon points="271,262.9 265.2,267.1 267.4,273.9 274.6,273.9 276.8,267.1" fill="#dbb6b6" stroke="#000" stroke-width="1.5" stroke-linejoin="miter"/>
<polygon points="118,283.9 112.2,288.1 114.4,294.9 121.6,294.9 123.8,288.1" fill="#cfcf42" stroke="#000" stroke-width="1.5" stroke-linejoin="miter"/>
<polygon points="155,278.9 149.7,281.9 149.7,288.1 155,291.1 160.3,288.1 160.3,281.9" fill="#8c564b" stroke="#000" stroke-width="1.5" stroke-linejoin="miter"/>
<polygon points="93,291.9 87.7,294.9 87.7,301.1 93,304.1 98.3,301.1 98.3,294.9" fill="#ea88ce" stroke="#000" stroke-width="1.5" stroke-linejoin="miter"/>
<circle cx="279" cy="321" r="6.1" fill="#8ec2e9" stroke="#000" stroke-width="1.5"/>
<polygon points="189,345.9 183.2,350.1 185.4,356.9 192.6,356.9 194.8,350.1" fill="#fec9bd" stroke="#000" stroke-width="1.5" stroke-linejoin="miter"/>
<polygon points="273,349.9 267.2,354.1 269.4,360.9 276.6,360.9 278.8,354.1" fill="#5cd7e4" stroke="#000" stroke-width="1.5" stroke-linejoin="miter"/>
<circle cx="96.5" cy="375.5" r="6.1" fill="#17becf" stroke="#000" stroke-width="1.5"/>
<polygon points="152.5,388.9 146.7,393.1 148.9,399.9 156.1,399.9 158.3,393.1" fill="#9467bd" stroke="#000" stroke-width="1.5" stroke-linejoin="miter"/>
<circle cx="150" cy="417.5" r="6.1" fill="#d62728" stroke="#000" stroke-width="1.5"/>
<polygon points="192.5,404.9 187.2,407.9 187.2,414.1 192.5,417.1 197.8,414.1 197.8,407.9" fill="#36c9d9" stroke="#000" stroke-width="1.5" stroke-linejoin="miter"/>
<polygon points="181.5,413.4 176.2,416.4 176.2,422.6 181.5,425.6 186.8,422.6 186.8,416.4" fill="#fcc4c5" stroke="#000" stroke-width="1.5" stroke-linejoin="miter"/>
<polygon points="213,409.9 207.7,412.9 207.7,419.1 213,422.1 218.3,419.1 218.3,412.9" fill="#90de90" stroke="#000" stroke-width="1.5" stroke-linejoin="miter"/>
<polygon points="302.5,432.4 297.2,435.4 297.2,441.6 302.5,444.6 307.8,441.6 307.8,435.4" fill="#bcbd22" stroke="#000" stroke-width="1.5" stroke-linejoin="miter"/>
<circle cx="311.5" cy="466" r="6.1" fill="#a880cb" stroke="#000" stroke-width="1.5"/>
<polygon points="235.5,466.9 230.2,469.9 230.2,476.1 235.5,479.1 240.8,476.1 240.8,469.9" fill="#e04748" stroke="#000" stroke-width="1.5" stroke-linejoin="miter"/>
<polygon points="231.5,484.4 226.2,487.4 226.2,493.6 231.5,496.6 236.8,493.6 236.8,487.4" fill="#eeee97" stroke="#000" stroke-width="1.5" stroke-linejoin="miter"/>
<polygon points="286.5,512.4 280.7,516.6 282.9,523.4 290.1,523.4 292.3,516.6" fill="#e86b6c" stroke="#000" stroke-width="1.5" stroke-linejoin="miter"/>
<circle cx="387.5" cy="523.5" r="6.1" fill="#ffdcbd" stroke="#000" stroke-width="1.5"/>
<polygon points="134,552.4 128.2,556.6 130.4,563.4 137.6,563.4 139.8,556.6" fill="#c1f5c1" stroke="#000" stroke-width="1.5" stroke-linejoin="miter"/>
<polygon points="309,568.4 303.2,572.6 305.4,579.4 312.6,579.4 314.8,572.6" fill="#a36b5f" stroke="#000" stroke-width="1.5" stroke-linejoin="miter"/>
<circle cx="284" cy="592" r="6.1" fill="#1f77b4" stroke="#000" stroke-width="1.5"/>
<polygon points="356.5,580.9 351.2,584 351.2,590 356.5,593.1 361.8,590 361.8,584" fill="#ffaa64" stroke="#000" stroke-width="1.5" stroke-linejoin="miter"/>
<circle cx="380.5" cy="586" r="6.1" fill="#ddbdfc" stroke="#000" stroke-width="1.5"/>
<polygon points="504,609.9 498.2,614.1 500.4,620.9 507.6,620.9 509.8,614.1" fill="#cba8ef" stroke="#000" stroke-width="1.5" stroke-linejoin="miter"/>
<polygon points="398,361.9 390.4,377.1 405.6,377.1" fill="#2ca02c" stroke="#000" stroke-width="1.5" stroke-linejoin="miter"/>
<polygon points="471.5,442.4 466.2,445.4 466.2,451.6 471.5,454.6 476.8,451.6 476.8,445.4" fill="#2ca02c" stroke="#000" stroke-width="1.5" stroke-linejoin="miter"/>
<polygon points="477.5,480.9 471.7,485.1 473.9,491.9 481.1,491.9 483.3,485.1" fill="#5fa2d8" stroke="#000" stroke-width="1.5" stroke-linejoin="miter"/>
<circle cx="541.5" cy="490.5" r="6.1" fill="#6ccb6c" stroke="#000" stroke-width="1.5"/>
<polygon points="462.5,508.4 454.9,523.6 470.1,523.6" fill="#ff7f0e" stroke="#000" stroke-width="1.5" stroke-linejoin="miter"/>
<polygon points="480.5,546.9 474.7,551.1 476.9,557.9 484.1,557.9 486.3,551.1" fill="#ef92d8" stroke="#000" stroke-width="1.5" stroke-linejoin="miter"/>
<polygon points="548,540.4 540.4,555.6 555.6,555.6" fill="#d62728" stroke="#000" stroke-width="1.5" stroke-linejoin="miter"/>
<polygon points="452.5,562.4 446.7,566.6 448.9,573.4 456.1,573.4 458.3,566.6" fill="#4cb54c" stroke="#000" stroke-width="1.5" stroke-linejoin="miter"/>
<polygon points="624,530.9 618.2,535.1 620.4,541.9 627.6,541.9 629.8,535.1" fill="#ffc692" stroke="#000" stroke-width="1.5" stroke-linejoin="miter"/>
<polygon points="663,544.4 657.7,547.5 657.7,553.5 663,556.6 668.3,553.5 668.3,547.5" fill="#3a88c5" stroke="#000" stroke-width="1.5" stroke-linejoin="miter"/>
<polygon points="617.5,587.4 612.2,590.5 612.2,596.5 617.5,599.6 622.8,596.5 622.8,590.5" fill="#c2e2fa" stroke="#000" stroke-width="1.5" stroke-linejoin="miter"/>
<polygon points="651.5,292.4 645.7,296.6 647.9,303.4 655.1,303.4 657.3,296.6" fill="#7f7f7f" stroke="#000" stroke-width="1.5" stroke-linejoin="miter"/>
<circle cx="652.5" cy="316" r="6.1" fill="#ff9a3b" stroke="#000" stroke-width="1.5"/>
<circle cx="673" cy="326" r="6.1" fill="#f5a5e5" stroke="#000" stroke-width="1.5"/>
<circle cx="680.5" cy="329" r="6.1" fill="#f29797" stroke="#000" stroke-width="1.5"/>
<polygon points="626.5,330.9 621.2,333.9 621.2,340.1 626.5,343.1 631.8,340.1 631.8,333.9" fill="#bda8a8" stroke="#000" stroke-width="1.5" stroke-linejoin="miter"/>
<circle cx="689" cy="358.5" r="6.1" fill="#c08676" stroke="#000" stroke-width="1.5"/>
<circle cx="607.5" cy="387" r="6.1" fill="#9d9797" stroke="#000" stroke-width="1.5"/>
<polygon points="681.5,407.4 676.2,410.4 676.2,416.6 681.5,419.6 686.8,416.6 686.8,410.4" fill="#fbbdf1" stroke="#000" stroke-width="1.5" stroke-linejoin="miter"/>
<polygon points="693,284.4 685.4,299.6 700.6,299.6" fill="#1f77b4" stroke="#000" stroke-width="1.5" stroke-linejoin="miter"/>
<circle cx="80.3" cy="229.5" r="6.1" fill="#e377c2" stroke="#000" stroke-width="1.5"/>
</g>
</g>
<polyline points="819.5,137 819.5,644.5 1431.5,644.5 1431.5,137" fill="none" stroke="#000" stroke-width="1.1"/>
<line x1="819.5" y1="136.6" x2="1431.5" y2="136.6" stroke="#c8ccd4" stroke-width="0.8"/>
<g stroke="#000"><line x1="819.5" y1="137" x2="819.5" y2="133.6" stroke-width="1.3"/><line x1="819.5" y1="644.5" x2="819.5" y2="647.9" stroke-width="1.3"/><line x1="837.5" y1="137" x2="837.5" y2="128.2" stroke-width="2.8"/><line x1="837.5" y1="644.5" x2="837.5" y2="653.3" stroke-width="2.8"/><line x1="855.5" y1="137" x2="855.5" y2="133.6" stroke-width="1.3"/><line x1="855.5" y1="644.5" x2="855.5" y2="647.9" stroke-width="1.3"/><line x1="873.5" y1="137" x2="873.5" y2="133.6" stroke-width="1.3"/><line x1="873.5" y1="644.5" x2="873.5" y2="647.9" stroke-width="1.3"/><line x1="891.5" y1="137" x2="891.5" y2="133.6" stroke-width="1.3"/><line x1="891.5" y1="644.5" x2="891.5" y2="647.9" stroke-width="1.3"/><line x1="909.5" y1="137" x2="909.5" y2="133.6" stroke-width="1.3"/><line x1="909.5" y1="644.5" x2="909.5" y2="647.9" stroke-width="1.3"/><line x1="927.5" y1="137" x2="927.5" y2="128.2" stroke-width="2.8"/><line x1="927.5" y1="644.5" x2="927.5" y2="653.3" stroke-width="2.8"/><line x1="945.5" y1="137" x2="945.5" y2="133.6" stroke-width="1.3"/><line x1="945.5" y1="644.5" x2="945.5" y2="647.9" stroke-width="1.3"/><line x1="963.5" y1="137" x2="963.5" y2="133.6" stroke-width="1.3"/><line x1="963.5" y1="644.5" x2="963.5" y2="647.9" stroke-width="1.3"/><line x1="981.5" y1="137" x2="981.5" y2="133.6" stroke-width="1.3"/><line x1="981.5" y1="644.5" x2="981.5" y2="647.9" stroke-width="1.3"/><line x1="999.5" y1="137" x2="999.5" y2="133.6" stroke-width="1.3"/><line x1="999.5" y1="644.5" x2="999.5" y2="647.9" stroke-width="1.3"/><line x1="1017.5" y1="137" x2="1017.5" y2="128.2" stroke-width="2.8"/><line x1="1017.5" y1="644.5" x2="1017.5" y2="653.3" stroke-width="2.8"/><line x1="1035.5" y1="137" x2="1035.5" y2="133.6" stroke-width="1.3"/><line x1="1035.5" y1="644.5" x2="1035.5" y2="647.9" stroke-width="1.3"/><line x1="1053.5" y1="137" x2="1053.5" y2="133.6" stroke-width="1.3"/><line x1="1053.5" y1="644.5" x2="1053.5" y2="647.9" stroke-width="1.3"/><line x1="1071.5" y1="137" x2="1071.5" y2="133.6" stroke-width="1.3"/><line x1="1071.5" y1="644.5" x2="1071.5" y2="647.9" stroke-width="1.3"/><line x1="1089.5" y1="137" x2="1089.5" y2="133.6" stroke-width="1.3"/><line x1="1089.5" y1="644.5" x2="1089.5" y2="647.9" stroke-width="1.3"/><line x1="1107.5" y1="137" x2="1107.5" y2="128.2" stroke-width="2.8"/><line x1="1107.5" y1="644.5" x2="1107.5" y2="653.3" stroke-width="2.8"/><line x1="1125.5" y1="137" x2="1125.5" y2="133.6" stroke-width="1.3"/><line x1="1125.5" y1="644.5" x2="1125.5" y2="647.9" stroke-width="1.3"/><line x1="1143.5" y1="137" x2="1143.5" y2="133.6" stroke-width="1.3"/><line x1="1143.5" y1="644.5" x2="1143.5" y2="647.9" stroke-width="1.3"/><line x1="1161.5" y1="137" x2="1161.5" y2="133.6" stroke-width="1.3"/><line x1="1161.5" y1="644.5" x2="1161.5" y2="647.9" stroke-width="1.3"/><line x1="1179.5" y1="137" x2="1179.5" y2="133.6" stroke-width="1.3"/><line x1="1179.5" y1="644.5" x2="1179.5" y2="647.9" stroke-width="1.3"/><line x1="1197.5" y1="137" x2="1197.5" y2="128.2" stroke-width="2.8"/><line x1="1197.5" y1="644.5" x2="1197.5" y2="653.3" stroke-width="2.8"/><line x1="1215.5" y1="137" x2="1215.5" y2="133.6" stroke-width="1.3"/><line x1="1215.5" y1="644.5" x2="1215.5" y2="647.9" stroke-width="1.3"/><line x1="1233.5" y1="137" x2="1233.5" y2="133.6" stroke-width="1.3"/><line x1="1233.5" y1="644.5" x2="1233.5" y2="647.9" stroke-width="1.3"/><line x1="1251.5" y1="137" x2="1251.5" y2="133.6" stroke-width="1.3"/><line x1="1251.5" y1="644.5" x2="1251.5" y2="647.9" stroke-width="1.3"/><line x1="1269.5" y1="137" x2="1269.5" y2="133.6" stroke-width="1.3"/><line x1="1269.5" y1="644.5" x2="1269.5" y2="647.9" stroke-width="1.3"/><line x1="1287.5" y1="137" x2="1287.5" y2="128.2" stroke-width="2.8"/><line x1="1287.5" y1="644.5" x2="1287.5" y2="653.3" stroke-width="2.8"/><line x1="1305.5" y1="137" x2="1305.5" y2="133.6" stroke-width="1.3"/><line x1="1305.5" y1="644.5" x2="1305.5" y2="647.9" stroke-width="1.3"/><line x1="1323.5" y1="137" x2="1323.5" y2="133.6" stroke-width="1.3"/><line x1="1323.5" y1="644.5" x2="1323.5" y2="647.9" stroke-width="1.3"/><line x1="1341.5" y1="137" x2="1341.5" y2="133.6" stroke-width="1.3"/><line x1="1341.5" y1="644.5" x2="1341.5" y2="647.9" stroke-width="1.3"/><line x1="1359.5" y1="137" x2="1359.5" y2="133.6" stroke-width="1.3"/><line x1="1359.5" y1="644.5" x2="1359.5" y2="647.9" stroke-width="1.3"/><line x1="1377.5" y1="137" x2="1377.5" y2="128.2" stroke-width="2.8"/><line x1="1377.5" y1="644.5" x2="1377.5" y2="653.3" stroke-width="2.8"/><line x1="1395.5" y1="137" x2="1395.5" y2="133.6" stroke-width="1.3"/><line x1="1395.5" y1="644.5" x2="1395.5" y2="647.9" stroke-width="1.3"/><line x1="1413.5" y1="137" x2="1413.5" y2="133.6" stroke-width="1.3"/><line x1="1413.5" y1="644.5" x2="1413.5" y2="647.9" stroke-width="1.3"/><line x1="1431.5" y1="137" x2="1431.5" y2="133.6" stroke-width="1.3"/><line x1="1431.5" y1="644.5" x2="1431.5" y2="647.9" stroke-width="1.3"/><line x1="819.5" y1="645" x2="816.1" y2="645" stroke-width="1.3"/><line x1="1431.5" y1="645" x2="1434.9" y2="645" stroke-width="1.3"/><line x1="819.5" y1="627" x2="816.1" y2="627" stroke-width="1.3"/><line x1="1431.5" y1="627" x2="1434.9" y2="627" stroke-width="1.3"/><line x1="819.5" y1="608.8" x2="810.7" y2="608.8" stroke-width="2.8"/><line x1="1431.5" y1="608.8" x2="1440.3" y2="608.8" stroke-width="2.8"/><line x1="819.5" y1="590.6" x2="816.1" y2="590.6" stroke-width="1.3"/><line x1="1431.5" y1="590.6" x2="1434.9" y2="590.6" stroke-width="1.3"/><line x1="819.5" y1="572.4" x2="816.1" y2="572.4" stroke-width="1.3"/><line x1="1431.5" y1="572.4" x2="1434.9" y2="572.4" stroke-width="1.3"/><line x1="819.5" y1="554.1" x2="816.1" y2="554.1" stroke-width="1.3"/><line x1="1431.5" y1="554.1" x2="1434.9" y2="554.1" stroke-width="1.3"/><line x1="819.5" y1="535.7" x2="816.1" y2="535.7" stroke-width="1.3"/><line x1="1431.5" y1="535.7" x2="1434.9" y2="535.7" stroke-width="1.3"/><line x1="819.5" y1="517.2" x2="810.7" y2="517.2" stroke-width="2.8"/><line x1="1431.5" y1="517.2" x2="1440.3" y2="517.2" stroke-width="2.8"/><line x1="819.5" y1="498.6" x2="816.1" y2="498.6" stroke-width="1.3"/><line x1="1431.5" y1="498.6" x2="1434.9" y2="498.6" stroke-width="1.3"/><line x1="819.5" y1="480" x2="816.1" y2="480" stroke-width="1.3"/><line x1="1431.5" y1="480" x2="1434.9" y2="480" stroke-width="1.3"/><line x1="819.5" y1="461.2" x2="816.1" y2="461.2" stroke-width="1.3"/><line x1="1431.5" y1="461.2" x2="1434.9" y2="461.2" stroke-width="1.3"/><line x1="819.5" y1="442.4" x2="816.1" y2="442.4" stroke-width="1.3"/><line x1="1431.5" y1="442.4" x2="1434.9" y2="442.4" stroke-width="1.3"/><line x1="819.5" y1="423.4" x2="810.7" y2="423.4" stroke-width="2.8"/><line x1="1431.5" y1="423.4" x2="1440.3" y2="423.4" stroke-width="2.8"/><line x1="819.5" y1="404.3" x2="816.1" y2="404.3" stroke-width="1.3"/><line x1="1431.5" y1="404.3" x2="1434.9" y2="404.3" stroke-width="1.3"/><line x1="819.5" y1="385" x2="816.1" y2="385" stroke-width="1.3"/><line x1="1431.5" y1="385" x2="1434.9" y2="385" stroke-width="1.3"/><line x1="819.5" y1="365.7" x2="816.1" y2="365.7" stroke-width="1.3"/><line x1="1431.5" y1="365.7" x2="1434.9" y2="365.7" stroke-width="1.3"/><line x1="819.5" y1="346.2" x2="816.1" y2="346.2" stroke-width="1.3"/><line x1="1431.5" y1="346.2" x2="1434.9" y2="346.2" stroke-width="1.3"/><line x1="819.5" y1="326.5" x2="810.7" y2="326.5" stroke-width="2.8"/><line x1="1431.5" y1="326.5" x2="1440.3" y2="326.5" stroke-width="2.8"/><line x1="819.5" y1="306.6" x2="816.1" y2="306.6" stroke-width="1.3"/><line x1="1431.5" y1="306.6" x2="1434.9" y2="306.6" stroke-width="1.3"/><line x1="819.5" y1="286.6" x2="816.1" y2="286.6" stroke-width="1.3"/><line x1="1431.5" y1="286.6" x2="1434.9" y2="286.6" stroke-width="1.3"/><line x1="819.5" y1="266.5" x2="816.1" y2="266.5" stroke-width="1.3"/><line x1="1431.5" y1="266.5" x2="1434.9" y2="266.5" stroke-width="1.3"/><line x1="819.5" y1="246.1" x2="816.1" y2="246.1" stroke-width="1.3"/><line x1="1431.5" y1="246.1" x2="1434.9" y2="246.1" stroke-width="1.3"/><line x1="819.5" y1="225.5" x2="810.7" y2="225.5" stroke-width="2.8"/><line x1="1431.5" y1="225.5" x2="1440.3" y2="225.5" stroke-width="2.8"/><line x1="819.5" y1="204.7" x2="816.1" y2="204.7" stroke-width="1.3"/><line x1="1431.5" y1="204.7" x2="1434.9" y2="204.7" stroke-width="1.3"/><line x1="819.5" y1="183.7" x2="816.1" y2="183.7" stroke-width="1.3"/><line x1="1431.5" y1="183.7" x2="1434.9" y2="183.7" stroke-width="1.3"/><line x1="819.5" y1="162.5" x2="816.1" y2="162.5" stroke-width="1.3"/><line x1="1431.5" y1="162.5" x2="1434.9" y2="162.5" stroke-width="1.3"/></g>
<text x="1447.1" y="616.9" font-size="22.2" text-anchor="start">10°N</text>
<text x="1447.1" y="525.3" font-size="22.2" text-anchor="start">15°N</text>
<text x="1447.1" y="431.5" font-size="22.2" text-anchor="start">20°N</text>
<text x="1447.1" y="334.6" font-size="22.2" text-anchor="start">25°N</text>
<text x="1447.1" y="233.6" font-size="22.2" text-anchor="start">30°N</text>
<text transform="translate(868.1,673.1) rotate(-45)" font-size="22.2" text-anchor="end">125°W</text>
<text transform="translate(958.1,673.1) rotate(-45)" font-size="22.2" text-anchor="end">120°W</text>
<text transform="translate(1048.1,673.1) rotate(-45)" font-size="22.2" text-anchor="end">115°W</text>
<text transform="translate(1138.1,673.1) rotate(-45)" font-size="22.2" text-anchor="end">110°W</text>
<text transform="translate(1228.1,673.1) rotate(-45)" font-size="22.2" text-anchor="end">105°W</text>
<text transform="translate(1318.1,673.1) rotate(-45)" font-size="22.2" text-anchor="end">100°W</text>
<text transform="translate(1403.1,673.1) rotate(-45)" font-size="22.2" text-anchor="end">95°W</text>
<text x="1124.8" y="127" font-size="27.8" font-weight="bold" text-anchor="middle">ESPC - 2025-10-21 18:00:00</text>
<rect x="136" y="758" width="138.8" height="17" fill="#0a2a4a"/>
<rect x="274.2" y="758" width="138.8" height="17" fill="#23338c"/>
<rect x="412.4" y="758" width="138.8" height="17" fill="#583c9b"/>
<rect x="550.7" y="758" width="138.8" height="17" fill="#7b4a8c"/>
<rect x="688.9" y="758" width="138.8" height="17" fill="#9d5a86"/>
<rect x="827.1" y="758" width="138.8" height="17" fill="#c46478"/>
<rect x="965.3" y="758" width="138.8" height="17" fill="#e7765f"/>
<rect x="1103.6" y="758" width="138.8" height="17" fill="#f8913f"/>
<rect x="1241.8" y="758" width="138.8" height="17" fill="#fbb742"/>
<polygon points="136.5,758 73.2,766.5 136.5,775" fill="#062131"/>
<polygon points="1379.5,758 1441.8,766.5 1379.5,775" fill="#e7f65a"/>
<polygon points="136,758 1380,758 1441.8,766.5 1380,775 136,775 73.2,766.5" fill="none" stroke="#000" stroke-width="1.1"/>
<line x1="136.5" y1="775" x2="136.5" y2="781.2" stroke="#000" stroke-width="1.0"/>
<text x="136" y="802.3" font-size="19.4" text-anchor="middle">8.0</text>
<line x1="274.5" y1="775" x2="274.5" y2="781.2" stroke="#000" stroke-width="1.0"/>
<text x="274.2" y="802.3" font-size="19.4" text-anchor="middle">8.5</text>
<line x1="412.5" y1="775" x2="412.5" y2="781.2" stroke="#000" stroke-width="1.0"/>
<text x="412.4" y="802.3" font-size="19.4" text-anchor="middle">9.0</text>
<line x1="551.5" y1="775" x2="551.5" y2="781.2" stroke="#000" stroke-width="1.0"/>
<text x="550.7" y="802.3" font-size="19.4" text-anchor="middle">9.5</text>
<line x1="689.5" y1="775" x2="689.5" y2="781.2" stroke="#000" stroke-width="1.0"/>
<text x="688.9" y="802.3" font-size="19.4" text-anchor="middle">10.0</text>
<line x1="827.5" y1="775" x2="827.5" y2="781.2" stroke="#000" stroke-width="1.0"/>
<text x="827.1" y="802.3" font-size="19.4" text-anchor="middle">10.5</text>
<line x1="965.5" y1="775" x2="965.5" y2="781.2" stroke="#000" stroke-width="1.0"/>
<text x="965.3" y="802.3" font-size="19.4" text-anchor="middle">11.0</text>
<line x1="1104.5" y1="775" x2="1104.5" y2="781.2" stroke="#000" stroke-width="1.0"/>
<text x="1103.6" y="802.3" font-size="19.4" text-anchor="middle">11.5</text>
<line x1="1242.5" y1="775" x2="1242.5" y2="781.2" stroke="#000" stroke-width="1.0"/>
<text x="1241.8" y="802.3" font-size="19.4" text-anchor="middle">12.0</text>
<line x1="1380.5" y1="775" x2="1380.5" y2="781.2" stroke="#000" stroke-width="1.0"/>
<text x="1380" y="802.3" font-size="19.4" text-anchor="middle">12.5</text>
<text x="757" y="829.9" font-size="20.8" font-weight="bold" text-anchor="middle">Temperature (degC)</text>
<text x="758.3" y="855.1" font-size="15.65" font-weight="bold" font-style="italic" text-anchor="middle">Glider/Argo Search Window: 2025-10-16 19:00:00 to 2025-10-21 18:00:00</text>
<rect x="196.3" y="854.2" width="1122.2" height="150.6" rx="3.5" fill="#fff" fill-opacity="0.8" stroke="#cccccc" stroke-width="1.2"/>
<circle cx="216.4" cy="865.4" r="6.1" fill="#1f77b4" stroke="#000" stroke-width="1.5"/>
<text x="240.5" y="865.4" font-size="13.9" dominant-baseline="central">1902652</text>
<polygon points="216.4,880.3 211.1,883.3 211.1,889.4 216.4,892.5 221.7,889.4 221.7,883.3" fill="#3a88c5" stroke="#000" stroke-width="1.5" stroke-linejoin="miter"/>
<text x="240.5" y="886.4" font-size="13.9" dominant-baseline="central">1902692</text>
<polygon points="216.4,901.3 210.6,905.5 212.8,912.3 220,912.3 222.2,905.5" fill="#5fa2d8" stroke="#000" stroke-width="1.5" stroke-linejoin="miter"/>
<text x="240.5" y="907.4" font-size="13.9" dominant-baseline="central">2903857</text>
<circle cx="216.4" cy="928.3" r="6.1" fill="#8ec2e9" stroke="#000" stroke-width="1.5"/>
<text x="240.5" y="928.3" font-size="13.9" dominant-baseline="central">2903859</text>
<polygon points="216.4,943.2 211.1,946.3 211.1,952.4 216.4,955.4 221.7,952.4 221.7,946.3" fill="#c2e2fa" stroke="#000" stroke-width="1.5" stroke-linejoin="miter"/>
<text x="240.5" y="949.3" font-size="13.9" dominant-baseline="central">2903880</text>
<polygon points="216.4,964.2 210.6,968.4 212.8,975.2 220,975.2 222.2,968.4" fill="#ff7f0e" stroke="#000" stroke-width="1.5" stroke-linejoin="miter"/>
<text x="240.5" y="970.3" font-size="13.9" dominant-baseline="central">2903886</text>
<circle cx="216.4" cy="991.3" r="6.1" fill="#ff9a3b" stroke="#000" stroke-width="1.5"/>
<text x="240.5" y="991.3" font-size="13.9" dominant-baseline="central">2904010</text>
<polygon points="345.2,859.3 339.9,862.4 339.9,868.4 345.2,871.5 350.5,868.4 350.5,862.4" fill="#ffaa64" stroke="#000" stroke-width="1.5" stroke-linejoin="miter"/>
<text x="369.3" y="865.4" font-size="13.9" dominant-baseline="central">3902277</text>
<polygon points="345.2,880.3 339.4,884.5 341.6,891.3 348.8,891.3 351,884.5" fill="#ffc692" stroke="#000" stroke-width="1.5" stroke-linejoin="miter"/>
<text x="369.3" y="886.4" font-size="13.9" dominant-baseline="central">3902312</text>
<circle cx="345.2" cy="907.4" r="6.1" fill="#ffdcbd" stroke="#000" stroke-width="1.5"/>
<text x="369.3" y="907.4" font-size="13.9" dominant-baseline="central">3902313</text>
<polygon points="345.2,922.2 339.9,925.3 339.9,931.4 345.2,934.4 350.5,931.4 350.5,925.3" fill="#2ca02c" stroke="#000" stroke-width="1.5" stroke-linejoin="miter"/>
<text x="369.3" y="928.3" font-size="13.9" dominant-baseline="central">3902314</text>
<polygon points="345.2,943.2 339.4,947.4 341.6,954.3 348.8,954.3 351,947.4" fill="#4cb54c" stroke="#000" stroke-width="1.5" stroke-linejoin="miter"/>
<text x="369.3" y="949.3" font-size="13.9" dominant-baseline="central">3902375</text>
<circle cx="345.2" cy="970.3" r="6.1" fill="#6ccb6c" stroke="#000" stroke-width="1.5"/>
<text x="369.3" y="970.3" font-size="13.9" dominant-baseline="central">3902386</text>
<polygon points="345.2,985.2 339.9,988.2 339.9,994.3 345.2,997.4 350.5,994.3 350.5,988.2" fill="#90de90" stroke="#000" stroke-width="1.5" stroke-linejoin="miter"/>
<text x="369.3" y="991.3" font-size="13.9" dominant-baseline="central">3902558</text>
<polygon points="474,859.3 468.2,863.5 470.4,870.3 477.6,870.3 479.8,863.5" fill="#c1f5c1" stroke="#000" stroke-width="1.5" stroke-linejoin="miter"/>
<text x="498.1" y="865.4" font-size="13.9" dominant-baseline="central">4902316</text>
<circle cx="474" cy="886.4" r="6.1" fill="#d62728" stroke="#000" stroke-width="1.5"/>
<text x="498.1" y="886.4" font-size="13.9" dominant-baseline="central">4902327</text>
<polygon points="474,901.3 468.7,904.3 468.7,910.4 474,913.5 479.3,910.4 479.3,904.3" fill="#e04748" stroke="#000" stroke-width="1.5" stroke-linejoin="miter"/>
<text x="498.1" y="907.4" font-size="13.9" dominant-baseline="central">4902329</text>
<polygon points="474,922.2 468.2,926.5 470.4,933.3 477.6,933.3 479.8,926.5" fill="#e86b6c" stroke="#000" stroke-width="1.5" stroke-linejoin="miter"/>
<text x="498.1" y="928.3" font-size="13.9" dominant-baseline="central">4902333</text>
<circle cx="474" cy="949.3" r="6.1" fill="#f29797" stroke="#000" stroke-width="1.5"/>
<text x="498.1" y="949.3" font-size="13.9" dominant-baseline="central">4902915</text>
<polygon points="474,964.2 468.7,967.2 468.7,973.3 474,976.4 479.3,973.3 479.3,967.2" fill="#fcc4c5" stroke="#000" stroke-width="1.5" stroke-linejoin="miter"/>
<text x="498.1" y="970.3" font-size="13.9" dominant-baseline="central">4903181</text>
<polygon points="602.8,859.3 597,863.5 599.2,870.3 606.4,870.3 608.6,863.5" fill="#9467bd" stroke="#000" stroke-width="1.5" stroke-linejoin="miter"/>
<text x="626.9" y="865.4" font-size="13.9" dominant-baseline="central">4903183</text>
<circle cx="602.8" cy="886.4" r="6.1" fill="#a880cb" stroke="#000" stroke-width="1.5"/>
<text x="626.9" y="886.4" font-size="13.9" dominant-baseline="central">4903184</text>
<polygon points="602.8,901.3 597.5,904.3 597.5,910.4 602.8,913.5 608.1,910.4 608.1,904.3" fill="#ba95dd" stroke="#000" stroke-width="1.5" stroke-linejoin="miter"/>
<text x="626.9" y="907.4" font-size="13.9" dominant-baseline="central">4903185</text>
<polygon points="602.8,922.2 597,926.5 599.2,933.3 606.4,933.3 608.6,926.5" fill="#cba8ef" stroke="#000" stroke-width="1.5" stroke-linejoin="miter"/>
<text x="626.9" y="928.3" font-size="13.9" dominant-baseline="central">4903187</text>
<circle cx="602.8" cy="949.3" r="6.1" fill="#ddbdfc" stroke="#000" stroke-width="1.5"/>
<text x="626.9" y="949.3" font-size="13.9" dominant-baseline="central">4903188</text>
<polygon points="602.8,964.2 597.5,967.2 597.5,973.3 602.8,976.4 608.1,973.3 608.1,967.2" fill="#8c564b" stroke="#000" stroke-width="1.5" stroke-linejoin="miter"/>
<text x="626.9" y="970.3" font-size="13.9" dominant-baseline="central">4903195</text>
<polygon points="731.6,859.3 725.8,863.5 728,870.3 735.2,870.3 737.4,863.5" fill="#a36b5f" stroke="#000" stroke-width="1.5" stroke-linejoin="miter"/>
<text x="755.7" y="865.4" font-size="13.9" dominant-baseline="central">4903200</text>
<circle cx="731.6" cy="886.4" r="6.1" fill="#c08676" stroke="#000" stroke-width="1.5"/>
<text x="755.7" y="886.4" font-size="13.9" dominant-baseline="central">4903232</text>
<polygon points="731.6,901.3 726.3,904.3 726.3,910.4 731.6,913.5 736.9,910.4 736.9,904.3" fill="#dba393" stroke="#000" stroke-width="1.5" stroke-linejoin="miter"/>
<text x="755.7" y="907.4" font-size="13.9" dominant-baseline="central">4903295</text>
<polygon points="731.6,922.2 725.8,926.5 728,933.3 735.2,933.3 737.4,926.5" fill="#fec9bd" stroke="#000" stroke-width="1.5" stroke-linejoin="miter"/>
<text x="755.7" y="928.3" font-size="13.9" dominant-baseline="central">4903400</text>
<circle cx="731.6" cy="949.3" r="6.1" fill="#e377c2" stroke="#000" stroke-width="1.5"/>
<text x="755.7" y="949.3" font-size="13.9" dominant-baseline="central">4903403</text>
<polygon points="731.6,964.2 726.3,967.2 726.3,973.3 731.6,976.4 736.9,973.3 736.9,967.2" fill="#ea88ce" stroke="#000" stroke-width="1.5" stroke-linejoin="miter"/>
<text x="755.7" y="970.3" font-size="13.9" dominant-baseline="central">4903405</text>
<polygon points="860.4,859.3 854.6,863.5 856.8,870.3 864,870.3 866.2,863.5" fill="#ef92d8" stroke="#000" stroke-width="1.5" stroke-linejoin="miter"/>
<text x="884.5" y="865.4" font-size="13.9" dominant-baseline="central">4903516</text>
<circle cx="860.4" cy="886.4" r="6.1" fill="#f5a5e5" stroke="#000" stroke-width="1.5"/>
<text x="884.5" y="886.4" font-size="13.9" dominant-baseline="central">4903543</text>
<polygon points="860.4,901.3 855.1,904.3 855.1,910.4 860.4,913.5 865.7,910.4 865.7,904.3" fill="#fbbdf1" stroke="#000" stroke-width="1.5" stroke-linejoin="miter"/>
<text x="884.5" y="907.4" font-size="13.9" dominant-baseline="central">4903546</text>
<polygon points="860.4,922.2 854.6,926.5 856.8,933.3 864,933.3 866.2,926.5" fill="#7f7f7f" stroke="#000" stroke-width="1.5" stroke-linejoin="miter"/>
<text x="884.5" y="928.3" font-size="13.9" dominant-baseline="central">4903548</text>
<circle cx="860.4" cy="949.3" r="6.1" fill="#9d9797" stroke="#000" stroke-width="1.5"/>
<text x="884.5" y="949.3" font-size="13.9" dominant-baseline="central">4903551</text>
<polygon points="860.4,964.2 855.1,967.2 855.1,973.3 860.4,976.4 865.7,973.3 865.7,967.2" fill="#bda8a8" stroke="#000" stroke-width="1.5" stroke-linejoin="miter"/>
<text x="884.5" y="970.3" font-size="13.9" dominant-baseline="central">4903557</text>
<polygon points="989.2,859.3 983.4,863.5 985.6,870.3 992.8,870.3 995,863.5" fill="#dbb6b6" stroke="#000" stroke-width="1.5" stroke-linejoin="miter"/>
<text x="1013.3" y="865.4" font-size="13.9" dominant-baseline="central">4903743</text>
<circle cx="989.2" cy="886.4" r="6.1" fill="#fcc3c3" stroke="#000" stroke-width="1.5"/>
<text x="1013.3" y="886.4" font-size="13.9" dominant-baseline="central">4903746</text>
<polygon points="989.2,901.3 983.9,904.3 983.9,910.4 989.2,913.5 994.5,910.4 994.5,904.3" fill="#bcbd22" stroke="#000" stroke-width="1.5" stroke-linejoin="miter"/>
<text x="1013.3" y="907.4" font-size="13.9" dominant-baseline="central">5905300</text>
<polygon points="989.2,922.2 983.4,926.5 985.6,933.3 992.8,933.3 995,926.5" fill="#cfcf42" stroke="#000" stroke-width="1.5" stroke-linejoin="miter"/>
<text x="1013.3" y="928.3" font-size="13.9" dominant-baseline="central">5906183</text>
<circle cx="989.2" cy="949.3" r="6.1" fill="#e0e068" stroke="#000" stroke-width="1.5"/>
<text x="1013.3" y="949.3" font-size="13.9" dominant-baseline="central">5906294</text>
<polygon points="989.2,964.2 983.9,967.2 983.9,973.3 989.2,976.4 994.5,973.3 994.5,967.2" fill="#eeee97" stroke="#000" stroke-width="1.5" stroke-linejoin="miter"/>
<text x="1013.3" y="970.3" font-size="13.9" dominant-baseline="central">5906449</text>
<polygon points="1118,859.3 1112.2,863.5 1114.4,870.3 1121.6,870.3 1123.8,863.5" fill="#fdfdc5" stroke="#000" stroke-width="1.5" stroke-linejoin="miter"/>
<text x="1142.1" y="865.4" font-size="13.9" dominant-baseline="central">5906563</text>
<circle cx="1118" cy="886.4" r="6.1" fill="#17becf" stroke="#000" stroke-width="1.5"/>
<text x="1142.1" y="886.4" font-size="13.9" dominant-baseline="central">5906690</text>
<polygon points="1118,901.3 1112.7,904.3 1112.7,910.4 1118,913.5 1123.3,910.4 1123.3,904.3" fill="#36c9d9" stroke="#000" stroke-width="1.5" stroke-linejoin="miter"/>
<text x="1142.1" y="907.4" font-size="13.9" dominant-baseline="central">5906798</text>
<polygon points="1118,922.2 1112.2,926.5 1114.4,933.3 1121.6,933.3 1123.8,926.5" fill="#5cd7e4" stroke="#000" stroke-width="1.5" stroke-linejoin="miter"/>
<text x="1142.1" y="928.3" font-size="13.9" dominant-baseline="central">6990601</text>
<circle cx="1118" cy="949.3" r="6.1" fill="#8ee7f0" stroke="#000" stroke-width="1.5"/>
<text x="1142.1" y="949.3" font-size="13.9" dominant-baseline="central">7901100</text>
<line x1="1102.7" y1="970.3" x2="1133.3" y2="970.3" stroke="#1f77b4" stroke-width="2.6"/>
<polygon points="1118,962.6 1110.4,977.9 1125.7,977.9" fill="#1f77b4" stroke="#000" stroke-width="1.5" stroke-linejoin="miter"/>
<text x="1142.1" y="970.3" font-size="13.9" dominant-baseline="central">ng598</text>
<line x1="1231.5" y1="865.4" x2="1262.1" y2="865.4" stroke="#ff7f0e" stroke-width="2.6"/>
<polygon points="1246.8,857.8 1239.2,873 1254.5,873" fill="#ff7f0e" stroke="#000" stroke-width="1.5" stroke-linejoin="miter"/>
<text x="1270.9" y="865.4" font-size="13.9" dominant-baseline="central">sg622</text>
<line x1="1231.5" y1="886.4" x2="1262.1" y2="886.4" stroke="#2ca02c" stroke-width="2.6"/>
<polygon points="1246.8,878.7 1239.2,894 1254.5,894" fill="#2ca02c" stroke="#000" stroke-width="1.5" stroke-linejoin="miter"/>
<text x="1270.9" y="886.4" font-size="13.9" dominant-baseline="central">sg623</text>
<line x1="1231.5" y1="907.4" x2="1262.1" y2="907.4" stroke="#d62728" stroke-width="2.6"/>
<polygon points="1246.8,899.7 1239.2,915 1254.5,915" fill="#d62728" stroke="#000" stroke-width="1.5" stroke-linejoin="miter"/>
<text x="1270.9" y="907.4" font-size="13.9" dominant-baseline="central">sg672</text>
<line x1="1231.5" y1="928.3" x2="1262.1" y2="928.3" stroke="#9467bd" stroke-width="2.6"/>
<polygon points="1246.8,920.7 1239.2,936 1254.5,936" fill="#9467bd" stroke="#000" stroke-width="1.5" stroke-linejoin="miter"/>
<text x="1270.9" y="928.3" font-size="13.9" dominant-baseline="central">sp013</text>
<line x1="1231.5" y1="949.3" x2="1262.1" y2="949.3" stroke="#8c564b" stroke-width="2.6"/>
<polygon points="1246.8,941.7 1239.2,957 1254.5,957" fill="#8c564b" stroke="#000" stroke-width="1.5" stroke-linejoin="miter"/>
<text x="1270.9" y="949.3" font-size="13.9" dominant-baseline="central">sp030</text>
<line x1="1231.5" y1="970.3" x2="1262.1" y2="970.3" stroke="#e377c2" stroke-width="2.6"/>
<polygon points="1246.8,962.6 1239.2,977.9 1254.5,977.9" fill="#e377c2" stroke="#000" stroke-width="1.5" stroke-linejoin="miter"/>
<text x="1270.9" y="970.3" font-size="13.9" dominant-baseline="central">sp041</text>
</svg></body></html>
